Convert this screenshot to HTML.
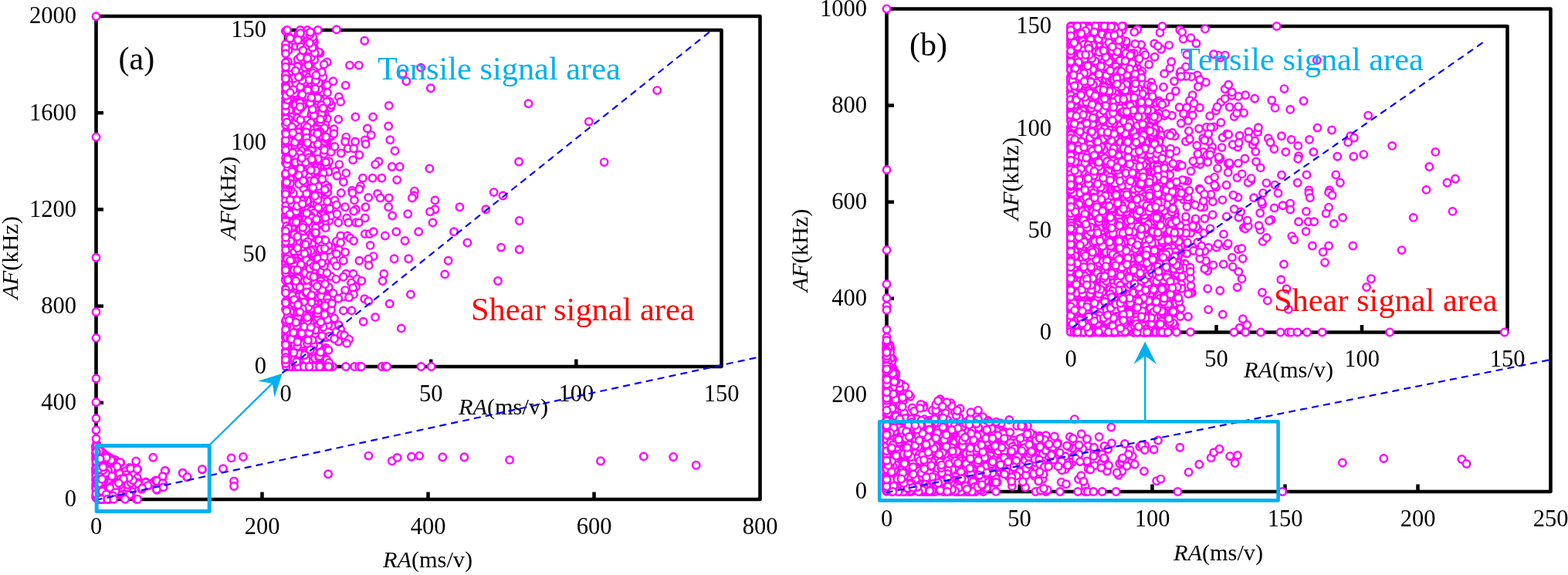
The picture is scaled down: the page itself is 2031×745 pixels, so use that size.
<!DOCTYPE html>
<html lang="en"><head><meta charset="utf-8"><title>RA-AF scatter</title>
<style>html,body{margin:0;padding:0;background:#fff}svg{display:block}</style>
</head><body>
<svg width="2031" height="745" viewBox="0 0 2031 745" font-family="'Liberation Serif', 'Times New Roman', serif">
<rect width="2031" height="745" fill="#fff"/>
<path d="M124.5,647 L124.5,21 L984.5,21 L984.5,647 Z" fill="none" stroke="#000" stroke-width="4.6" stroke-linejoin="round"/>
<path d="M1148.5,637 L1148.5,11.5 L2008.5,11.5 L2008.5,637 Z" fill="none" stroke="#000" stroke-width="4.6" stroke-linejoin="round"/>
<line x1="339.5" y1="647" x2="339.5" y2="637.5" stroke="#000" stroke-width="4.5"/>
<line x1="554.5" y1="647" x2="554.5" y2="637.5" stroke="#000" stroke-width="4.5"/>
<line x1="769.5" y1="647" x2="769.5" y2="637.5" stroke="#000" stroke-width="4.5"/>
<line x1="124.5" y1="521.8" x2="134.0" y2="521.8" stroke="#000" stroke-width="4.5"/>
<line x1="124.5" y1="396.6" x2="134.0" y2="396.6" stroke="#000" stroke-width="4.5"/>
<line x1="124.5" y1="271.4" x2="134.0" y2="271.4" stroke="#000" stroke-width="4.5"/>
<line x1="124.5" y1="146.2" x2="134.0" y2="146.2" stroke="#000" stroke-width="4.5"/>
<line x1="1320.5" y1="637" x2="1320.5" y2="627.5" stroke="#000" stroke-width="4.5"/>
<line x1="1492.5" y1="637" x2="1492.5" y2="627.5" stroke="#000" stroke-width="4.5"/>
<line x1="1664.5" y1="637" x2="1664.5" y2="627.5" stroke="#000" stroke-width="4.5"/>
<line x1="1836.5" y1="637" x2="1836.5" y2="627.5" stroke="#000" stroke-width="4.5"/>
<line x1="1148.5" y1="511.9" x2="1158.0" y2="511.9" stroke="#000" stroke-width="4.5"/>
<line x1="1148.5" y1="386.8" x2="1158.0" y2="386.8" stroke="#000" stroke-width="4.5"/>
<line x1="1148.5" y1="261.7" x2="1158.0" y2="261.7" stroke="#000" stroke-width="4.5"/>
<line x1="1148.5" y1="136.6" x2="1158.0" y2="136.6" stroke="#000" stroke-width="4.5"/>
<path d="M370,475 L370,39 L934.5,39 L934.5,475 Z" fill="none" stroke="#000" stroke-width="4.6" stroke-linejoin="round"/>
<path d="M1387,430.5 L1387,34 L1952.5,34 L1952.5,430.5 Z" fill="none" stroke="#000" stroke-width="4.6" stroke-linejoin="round"/>
<line x1="558.2" y1="475" x2="558.2" y2="465.5" stroke="#000" stroke-width="4.5"/>
<line x1="746.3" y1="475" x2="746.3" y2="465.5" stroke="#000" stroke-width="4.5"/>
<line x1="370" y1="329.7" x2="379.5" y2="329.7" stroke="#000" stroke-width="4.5"/>
<line x1="370" y1="184.3" x2="379.5" y2="184.3" stroke="#000" stroke-width="4.5"/>
<line x1="1575.5" y1="430.5" x2="1575.5" y2="421.0" stroke="#000" stroke-width="4.5"/>
<line x1="1764.0" y1="430.5" x2="1764.0" y2="421.0" stroke="#000" stroke-width="4.5"/>
<line x1="1387" y1="298.3" x2="1396.5" y2="298.3" stroke="#000" stroke-width="4.5"/>
<line x1="1387" y1="166.2" x2="1396.5" y2="166.2" stroke="#000" stroke-width="4.5"/>
<text x="124.5" y="691.9" font-size="30.5" text-anchor="middle" fill="#000" >0</text>
<text x="339.5" y="691.9" font-size="30.5" text-anchor="middle" fill="#000" >200</text>
<text x="554.5" y="691.9" font-size="30.5" text-anchor="middle" fill="#000" >400</text>
<text x="769.5" y="691.9" font-size="30.5" text-anchor="middle" fill="#000" >600</text>
<text x="984.5" y="691.9" font-size="30.5" text-anchor="middle" fill="#000" >800</text>
<text x="99" y="656.3" font-size="30.5" text-anchor="end" fill="#000" >0</text>
<text x="99" y="531.1" font-size="30.5" text-anchor="end" fill="#000" >400</text>
<text x="99" y="405.9" font-size="30.5" text-anchor="end" fill="#000" >800</text>
<text x="99" y="280.7" font-size="30.5" text-anchor="end" fill="#000" >1200</text>
<text x="99" y="155.5" font-size="30.5" text-anchor="end" fill="#000" >1600</text>
<text x="99" y="30.3" font-size="30.5" text-anchor="end" fill="#000" >2000</text>
<text x="1148.5" y="681.9" font-size="30.5" text-anchor="middle" fill="#000" >0</text>
<text x="1320.5" y="681.9" font-size="30.5" text-anchor="middle" fill="#000" >50</text>
<text x="1492.5" y="681.9" font-size="30.5" text-anchor="middle" fill="#000" >100</text>
<text x="1664.5" y="681.9" font-size="30.5" text-anchor="middle" fill="#000" >150</text>
<text x="1836.5" y="681.9" font-size="30.5" text-anchor="middle" fill="#000" >200</text>
<text x="2008.5" y="681.9" font-size="30.5" text-anchor="middle" fill="#000" >250</text>
<text x="1123" y="646.3" font-size="30.5" text-anchor="end" fill="#000" >0</text>
<text x="1123" y="521.2" font-size="30.5" text-anchor="end" fill="#000" >200</text>
<text x="1123" y="396.1" font-size="30.5" text-anchor="end" fill="#000" >400</text>
<text x="1123" y="271.0" font-size="30.5" text-anchor="end" fill="#000" >600</text>
<text x="1123" y="145.9" font-size="30.5" text-anchor="end" fill="#000" >800</text>
<text x="1123" y="20.8" font-size="30.5" text-anchor="end" fill="#000" >1000</text>
<text x="370.0" y="519.9" font-size="30.5" text-anchor="middle" fill="#000" >0</text>
<text x="558.2" y="519.9" font-size="30.5" text-anchor="middle" fill="#000" >50</text>
<text x="746.3" y="519.9" font-size="30.5" text-anchor="middle" fill="#000" >100</text>
<text x="934.5" y="519.9" font-size="30.5" text-anchor="middle" fill="#000" >150</text>
<text x="345" y="484.3" font-size="30.5" text-anchor="end" fill="#000" >0</text>
<text x="345" y="339.0" font-size="30.5" text-anchor="end" fill="#000" >50</text>
<text x="345" y="193.6" font-size="30.5" text-anchor="end" fill="#000" >100</text>
<text x="345" y="48.3" font-size="30.5" text-anchor="end" fill="#000" >150</text>
<text x="1387.0" y="475.3" font-size="30.5" text-anchor="middle" fill="#000" >0</text>
<text x="1575.5" y="475.3" font-size="30.5" text-anchor="middle" fill="#000" >50</text>
<text x="1764.0" y="475.3" font-size="30.5" text-anchor="middle" fill="#000" >100</text>
<text x="1952.5" y="475.3" font-size="30.5" text-anchor="middle" fill="#000" >150</text>
<text x="1362" y="439.8" font-size="30.5" text-anchor="end" fill="#000" >0</text>
<text x="1362" y="307.6" font-size="30.5" text-anchor="end" fill="#000" >50</text>
<text x="1362" y="175.5" font-size="30.5" text-anchor="end" fill="#000" >100</text>
<text x="1362" y="43.3" font-size="30.5" text-anchor="end" fill="#000" >150</text>
<text x="554" y="735.2" font-size="30.3" text-anchor="middle" fill="#000" ><tspan font-style="italic">RA</tspan>(ms/v)</text>
<text x="1578" y="726.2" font-size="30.3" text-anchor="middle" fill="#000" ><tspan font-style="italic">RA</tspan>(ms/v)</text>
<text x="652" y="537" font-size="30.3" text-anchor="middle" fill="#000" ><tspan font-style="italic">RA</tspan>(ms/v)</text>
<text x="1669" y="489.4" font-size="30.3" text-anchor="middle" fill="#000" ><tspan font-style="italic">RA</tspan>(ms/v)</text>
<text transform="translate(22.7,334) rotate(-90)" font-size="30.3" text-anchor="middle"><tspan font-style="italic">AF</tspan>(kHz)</text>
<text transform="translate(1046.3,324.5) rotate(-90)" font-size="30.3" text-anchor="middle"><tspan font-style="italic">AF</tspan>(kHz)</text>
<text transform="translate(305.3,256.5) rotate(-90)" font-size="30.3" text-anchor="middle"><tspan font-style="italic">AF</tspan>(kHz)</text>
<text transform="translate(1319.4,231.7) rotate(-90)" font-size="30.3" text-anchor="middle"><tspan font-style="italic">AF</tspan>(kHz)</text>
<text x="153.5" y="90" font-size="42" text-anchor="start" fill="#000" >(a)</text>
<text x="1178" y="72" font-size="42" text-anchor="start" fill="#000" >(b)</text>
<g fill="#fff" stroke="#FF00FF" stroke-width="2.45">
<circle cx="151.8" cy="632.0" r="4.72"/>
<circle cx="125.5" cy="577.3" r="4.72"/>
<circle cx="144.2" cy="641.0" r="4.72"/>
<circle cx="128.9" cy="633.3" r="4.72"/>
<circle cx="124.5" cy="619.8" r="4.72"/>
<circle cx="131.3" cy="610.2" r="4.72"/>
<circle cx="124.5" cy="600.0" r="4.72"/>
<circle cx="128.1" cy="583.3" r="4.72"/>
<circle cx="136.8" cy="608.1" r="4.72"/>
<circle cx="130.7" cy="642.5" r="4.72"/>
<circle cx="135.8" cy="612.1" r="4.72"/>
<circle cx="128.7" cy="595.5" r="4.72"/>
<circle cx="139.3" cy="639.9" r="4.72"/>
<circle cx="136.8" cy="626.3" r="4.72"/>
<circle cx="136.4" cy="592.3" r="4.72"/>
<circle cx="124.5" cy="607.7" r="4.72"/>
<circle cx="143.3" cy="599.8" r="4.72"/>
<circle cx="126.0" cy="587.3" r="4.72"/>
<circle cx="129.0" cy="587.3" r="4.72"/>
<circle cx="144.8" cy="641.6" r="4.72"/>
<circle cx="133.2" cy="617.6" r="4.72"/>
<circle cx="129.8" cy="587.9" r="4.72"/>
<circle cx="134.1" cy="621.5" r="4.72"/>
<circle cx="148.0" cy="637.1" r="4.72"/>
<circle cx="125.1" cy="580.0" r="4.72"/>
<circle cx="130.4" cy="595.2" r="4.72"/>
<circle cx="128.5" cy="584.6" r="4.72"/>
<circle cx="130.2" cy="639.2" r="4.72"/>
<circle cx="156.8" cy="611.9" r="4.72"/>
<circle cx="125.0" cy="577.7" r="4.72"/>
<circle cx="128.3" cy="624.9" r="4.72"/>
<circle cx="132.2" cy="606.3" r="4.72"/>
<circle cx="135.4" cy="610.7" r="4.72"/>
<circle cx="153.7" cy="601.3" r="4.72"/>
<circle cx="126.5" cy="593.9" r="4.72"/>
<circle cx="155.1" cy="623.2" r="4.72"/>
<circle cx="134.2" cy="646.8" r="4.72"/>
<circle cx="131.8" cy="607.1" r="4.72"/>
<circle cx="125.6" cy="590.4" r="4.72"/>
<circle cx="136.4" cy="623.5" r="4.72"/>
<circle cx="143.5" cy="625.5" r="4.72"/>
<circle cx="139.0" cy="595.1" r="4.72"/>
<circle cx="134.1" cy="617.6" r="4.72"/>
<circle cx="127.1" cy="615.1" r="4.72"/>
<circle cx="128.2" cy="645.9" r="4.72"/>
<circle cx="129.9" cy="606.3" r="4.72"/>
<circle cx="126.2" cy="583.0" r="4.72"/>
<circle cx="133.4" cy="606.5" r="4.72"/>
<circle cx="124.5" cy="594.3" r="4.72"/>
<circle cx="148.9" cy="639.0" r="4.72"/>
<circle cx="133.7" cy="638.7" r="4.72"/>
<circle cx="129.2" cy="596.5" r="4.72"/>
<circle cx="130.0" cy="601.8" r="4.72"/>
<circle cx="136.6" cy="612.7" r="4.72"/>
<circle cx="144.2" cy="630.5" r="4.72"/>
<circle cx="144.0" cy="626.7" r="4.72"/>
<circle cx="131.9" cy="592.4" r="4.72"/>
<circle cx="124.5" cy="628.6" r="4.72"/>
<circle cx="135.9" cy="640.6" r="4.72"/>
<circle cx="146.9" cy="614.8" r="4.72"/>
<circle cx="163.0" cy="638.0" r="4.72"/>
<circle cx="124.5" cy="581.0" r="4.72"/>
<circle cx="183.4" cy="633.9" r="4.72"/>
<circle cx="128.2" cy="584.1" r="4.72"/>
<circle cx="147.8" cy="596.1" r="4.72"/>
<circle cx="124.7" cy="596.9" r="4.72"/>
<circle cx="132.3" cy="625.4" r="4.72"/>
<circle cx="126.1" cy="585.8" r="4.72"/>
<circle cx="148.0" cy="643.0" r="4.72"/>
<circle cx="146.1" cy="595.2" r="4.72"/>
<circle cx="211.0" cy="630.5" r="4.72"/>
<circle cx="124.9" cy="586.9" r="4.72"/>
<circle cx="142.7" cy="623.6" r="4.72"/>
<circle cx="125.7" cy="591.6" r="4.72"/>
<circle cx="128.6" cy="623.6" r="4.72"/>
<circle cx="162.6" cy="613.2" r="4.72"/>
<circle cx="137.2" cy="603.0" r="4.72"/>
<circle cx="124.5" cy="642.7" r="4.72"/>
<circle cx="134.6" cy="588.3" r="4.72"/>
<circle cx="124.8" cy="578.3" r="4.72"/>
<circle cx="133.5" cy="588.0" r="4.72"/>
<circle cx="138.2" cy="625.7" r="4.72"/>
<circle cx="139.2" cy="613.1" r="4.72"/>
<circle cx="131.2" cy="585.9" r="4.72"/>
<circle cx="127.2" cy="634.2" r="4.72"/>
<circle cx="132.6" cy="638.4" r="4.72"/>
<circle cx="124.5" cy="627.5" r="4.72"/>
<circle cx="126.7" cy="585.8" r="4.72"/>
<circle cx="133.9" cy="625.8" r="4.72"/>
<circle cx="149.3" cy="596.0" r="4.72"/>
<circle cx="144.0" cy="612.3" r="4.72"/>
<circle cx="124.5" cy="642.0" r="4.72"/>
<circle cx="126.2" cy="591.2" r="4.72"/>
<circle cx="126.3" cy="581.0" r="4.72"/>
<circle cx="242.4" cy="618.3" r="4.72"/>
<circle cx="154.1" cy="615.8" r="4.72"/>
<circle cx="128.5" cy="588.7" r="4.72"/>
<circle cx="125.5" cy="605.0" r="4.72"/>
<circle cx="125.9" cy="578.9" r="4.72"/>
<circle cx="124.6" cy="579.0" r="4.72"/>
<circle cx="126.1" cy="578.9" r="4.72"/>
<circle cx="124.9" cy="586.7" r="4.72"/>
<circle cx="132.3" cy="590.9" r="4.72"/>
<circle cx="125.5" cy="627.5" r="4.72"/>
<circle cx="132.1" cy="614.4" r="4.72"/>
<circle cx="130.3" cy="592.5" r="4.72"/>
<circle cx="138.1" cy="614.2" r="4.72"/>
<circle cx="137.9" cy="632.4" r="4.72"/>
<circle cx="128.6" cy="595.3" r="4.72"/>
<circle cx="130.2" cy="630.5" r="4.72"/>
<circle cx="148.2" cy="604.8" r="4.72"/>
<circle cx="127.1" cy="599.6" r="4.72"/>
<circle cx="143.3" cy="629.3" r="4.72"/>
<circle cx="146.9" cy="633.9" r="4.72"/>
<circle cx="137.1" cy="614.0" r="4.72"/>
<circle cx="129.7" cy="599.0" r="4.72"/>
<circle cx="130.6" cy="588.3" r="4.72"/>
<circle cx="124.8" cy="578.4" r="4.72"/>
<circle cx="128.2" cy="599.4" r="4.72"/>
<circle cx="130.3" cy="597.8" r="4.72"/>
<circle cx="147.7" cy="626.7" r="4.72"/>
<circle cx="162.6" cy="624.5" r="4.72"/>
<circle cx="125.6" cy="586.5" r="4.72"/>
<circle cx="153.7" cy="637.4" r="4.72"/>
<circle cx="145.9" cy="634.3" r="4.72"/>
<circle cx="126.4" cy="585.1" r="4.72"/>
<circle cx="125.2" cy="579.3" r="4.72"/>
<circle cx="127.1" cy="583.5" r="4.72"/>
<circle cx="154.0" cy="624.5" r="4.72"/>
<circle cx="142.5" cy="640.1" r="4.72"/>
<circle cx="153.9" cy="615.2" r="4.72"/>
<circle cx="127.7" cy="586.4" r="4.72"/>
<circle cx="127.9" cy="585.0" r="4.72"/>
<circle cx="136.8" cy="590.5" r="4.72"/>
<circle cx="214.4" cy="610.1" r="4.72"/>
<circle cx="124.8" cy="587.7" r="4.72"/>
<circle cx="128.6" cy="588.0" r="4.72"/>
<circle cx="131.8" cy="586.6" r="4.72"/>
<circle cx="137.0" cy="626.8" r="4.72"/>
<circle cx="125.0" cy="592.3" r="4.72"/>
<circle cx="146.5" cy="636.1" r="4.72"/>
<circle cx="129.7" cy="639.2" r="4.72"/>
<circle cx="124.5" cy="579.6" r="4.72"/>
<circle cx="129.6" cy="589.1" r="4.72"/>
<circle cx="124.5" cy="637.5" r="4.72"/>
<circle cx="125.5" cy="577.7" r="4.72"/>
<circle cx="125.7" cy="578.7" r="4.72"/>
<circle cx="127.0" cy="588.2" r="4.72"/>
<circle cx="134.7" cy="628.7" r="4.72"/>
<circle cx="127.3" cy="640.2" r="4.72"/>
<circle cx="135.4" cy="635.2" r="4.72"/>
<circle cx="127.0" cy="585.5" r="4.72"/>
<circle cx="143.3" cy="624.2" r="4.72"/>
<circle cx="168.6" cy="629.2" r="4.72"/>
<circle cx="124.7" cy="633.0" r="4.72"/>
<circle cx="138.8" cy="635.3" r="4.72"/>
<circle cx="167.3" cy="641.5" r="4.72"/>
<circle cx="144.8" cy="609.8" r="4.72"/>
<circle cx="132.7" cy="603.7" r="4.72"/>
<circle cx="125.9" cy="588.5" r="4.72"/>
<circle cx="129.8" cy="598.0" r="4.72"/>
<circle cx="124.8" cy="588.4" r="4.72"/>
<circle cx="150.6" cy="599.5" r="4.72"/>
<circle cx="125.2" cy="578.9" r="4.72"/>
<circle cx="163.8" cy="618.9" r="4.72"/>
<circle cx="153.3" cy="640.5" r="4.72"/>
<circle cx="142.5" cy="597.3" r="4.72"/>
<circle cx="149.1" cy="622.2" r="4.72"/>
<circle cx="133.5" cy="641.7" r="4.72"/>
<circle cx="130.9" cy="627.4" r="4.72"/>
<circle cx="124.5" cy="642.4" r="4.72"/>
<circle cx="136.3" cy="614.3" r="4.72"/>
<circle cx="127.7" cy="630.9" r="4.72"/>
<circle cx="127.8" cy="625.7" r="4.72"/>
<circle cx="174.5" cy="605.1" r="4.72"/>
<circle cx="128.9" cy="630.3" r="4.72"/>
<circle cx="130.6" cy="608.8" r="4.72"/>
<circle cx="136.0" cy="626.5" r="4.72"/>
<circle cx="136.6" cy="621.6" r="4.72"/>
<circle cx="124.5" cy="583.2" r="4.72"/>
<circle cx="145.9" cy="632.0" r="4.72"/>
<circle cx="132.9" cy="599.5" r="4.72"/>
<circle cx="125.8" cy="585.4" r="4.72"/>
<circle cx="152.6" cy="634.8" r="4.72"/>
<circle cx="127.0" cy="581.1" r="4.72"/>
<circle cx="125.4" cy="632.5" r="4.72"/>
<circle cx="145.1" cy="596.4" r="4.72"/>
<circle cx="125.7" cy="578.7" r="4.72"/>
<circle cx="147.1" cy="643.6" r="4.72"/>
<circle cx="139.4" cy="614.8" r="4.72"/>
<circle cx="133.8" cy="612.8" r="4.72"/>
<circle cx="124.5" cy="594.8" r="4.72"/>
<circle cx="133.4" cy="620.2" r="4.72"/>
<circle cx="124.5" cy="615.2" r="4.72"/>
<circle cx="128.0" cy="583.6" r="4.72"/>
<circle cx="127.8" cy="587.7" r="4.72"/>
<circle cx="160.9" cy="633.9" r="4.72"/>
<circle cx="167.8" cy="605.9" r="4.72"/>
<circle cx="153.9" cy="628.3" r="4.72"/>
<circle cx="132.1" cy="631.4" r="4.72"/>
<circle cx="126.0" cy="616.8" r="4.72"/>
<circle cx="124.5" cy="595.8" r="4.72"/>
<circle cx="162.7" cy="610.4" r="4.72"/>
<circle cx="186.8" cy="628.0" r="4.72"/>
<circle cx="131.5" cy="615.4" r="4.72"/>
<circle cx="140.8" cy="624.8" r="4.72"/>
<circle cx="124.5" cy="590.6" r="4.72"/>
<circle cx="137.1" cy="641.6" r="4.72"/>
<circle cx="130.4" cy="598.3" r="4.72"/>
<circle cx="139.8" cy="604.3" r="4.72"/>
<circle cx="143.2" cy="634.6" r="4.72"/>
<circle cx="126.4" cy="592.4" r="4.72"/>
<circle cx="138.2" cy="590.4" r="4.72"/>
<circle cx="124.8" cy="577.0" r="4.72"/>
<circle cx="155.8" cy="629.9" r="4.72"/>
<circle cx="151.8" cy="617.3" r="4.72"/>
<circle cx="148.8" cy="635.1" r="4.72"/>
<circle cx="149.5" cy="633.9" r="4.72"/>
<circle cx="125.3" cy="579.1" r="4.72"/>
<circle cx="135.5" cy="641.7" r="4.72"/>
<circle cx="170.0" cy="631.8" r="4.72"/>
<circle cx="134.6" cy="630.5" r="4.72"/>
<circle cx="124.7" cy="585.3" r="4.72"/>
<circle cx="124.5" cy="576.4" r="4.72"/>
<circle cx="126.5" cy="584.7" r="4.72"/>
<circle cx="129.4" cy="599.6" r="4.72"/>
<circle cx="128.3" cy="583.3" r="4.72"/>
<circle cx="124.5" cy="580.5" r="4.72"/>
<circle cx="203.1" cy="634.8" r="4.72"/>
<circle cx="136.2" cy="620.4" r="4.72"/>
<circle cx="133.1" cy="593.5" r="4.72"/>
<circle cx="149.4" cy="618.0" r="4.72"/>
<circle cx="124.5" cy="593.6" r="4.72"/>
<circle cx="124.8" cy="579.2" r="4.72"/>
<circle cx="137.1" cy="631.7" r="4.72"/>
<circle cx="124.7" cy="586.2" r="4.72"/>
<circle cx="134.0" cy="643.6" r="4.72"/>
<circle cx="150.3" cy="611.9" r="4.72"/>
<circle cx="157.7" cy="639.9" r="4.72"/>
<circle cx="136.6" cy="595.0" r="4.72"/>
<circle cx="132.8" cy="642.8" r="4.72"/>
<circle cx="129.1" cy="643.8" r="4.72"/>
<circle cx="124.5" cy="616.1" r="4.72"/>
<circle cx="134.1" cy="597.7" r="4.72"/>
<circle cx="162.7" cy="623.3" r="4.72"/>
<circle cx="135.9" cy="590.9" r="4.72"/>
<circle cx="134.0" cy="611.6" r="4.72"/>
<circle cx="124.5" cy="633.4" r="4.72"/>
<circle cx="124.5" cy="611.8" r="4.72"/>
<circle cx="155.1" cy="631.8" r="4.72"/>
<circle cx="129.9" cy="599.8" r="4.72"/>
<circle cx="146.9" cy="619.8" r="4.72"/>
<circle cx="134.6" cy="637.3" r="4.72"/>
<circle cx="127.3" cy="581.1" r="4.72"/>
<circle cx="126.6" cy="585.2" r="4.72"/>
<circle cx="149.4" cy="635.8" r="4.72"/>
<circle cx="128.4" cy="599.8" r="4.72"/>
<circle cx="146.5" cy="597.7" r="4.72"/>
<circle cx="129.6" cy="614.0" r="4.72"/>
<circle cx="134.1" cy="636.8" r="4.72"/>
<circle cx="127.3" cy="609.5" r="4.72"/>
<circle cx="126.4" cy="627.3" r="4.72"/>
<circle cx="124.5" cy="578.1" r="4.72"/>
<circle cx="124.6" cy="577.9" r="4.72"/>
<circle cx="134.5" cy="618.1" r="4.72"/>
<circle cx="124.5" cy="586.7" r="4.72"/>
<circle cx="128.2" cy="595.4" r="4.72"/>
<circle cx="136.9" cy="643.0" r="4.72"/>
<circle cx="124.7" cy="598.7" r="4.72"/>
<circle cx="142.1" cy="636.6" r="4.72"/>
<circle cx="141.9" cy="646.8" r="4.72"/>
<circle cx="131.3" cy="588.7" r="4.72"/>
<circle cx="125.4" cy="577.8" r="4.72"/>
<circle cx="126.9" cy="585.7" r="4.72"/>
<circle cx="153.0" cy="620.5" r="4.72"/>
<circle cx="125.0" cy="590.2" r="4.72"/>
<circle cx="130.1" cy="584.5" r="4.72"/>
<circle cx="124.6" cy="577.8" r="4.72"/>
<circle cx="149.9" cy="623.6" r="4.72"/>
<circle cx="126.2" cy="592.0" r="4.72"/>
<circle cx="125.4" cy="579.0" r="4.72"/>
<circle cx="172.0" cy="622.9" r="4.72"/>
<circle cx="124.5" cy="630.7" r="4.72"/>
<circle cx="129.9" cy="604.1" r="4.72"/>
<circle cx="125.4" cy="578.1" r="4.72"/>
<circle cx="130.9" cy="632.2" r="4.72"/>
<circle cx="156.2" cy="614.5" r="4.72"/>
<circle cx="134.5" cy="600.8" r="4.72"/>
<circle cx="125.9" cy="578.6" r="4.72"/>
<circle cx="130.1" cy="588.5" r="4.72"/>
<circle cx="126.7" cy="598.0" r="4.72"/>
<circle cx="129.3" cy="597.5" r="4.72"/>
<circle cx="157.0" cy="628.0" r="4.72"/>
<circle cx="137.0" cy="594.0" r="4.72"/>
<circle cx="124.5" cy="590.4" r="4.72"/>
<circle cx="159.5" cy="623.3" r="4.72"/>
<circle cx="125.0" cy="631.5" r="4.72"/>
<circle cx="141.6" cy="638.0" r="4.72"/>
<circle cx="145.9" cy="639.0" r="4.72"/>
<circle cx="124.8" cy="586.7" r="4.72"/>
<circle cx="127.1" cy="617.0" r="4.72"/>
<circle cx="134.1" cy="619.3" r="4.72"/>
<circle cx="132.5" cy="638.2" r="4.72"/>
<circle cx="126.7" cy="585.3" r="4.72"/>
<circle cx="134.8" cy="633.5" r="4.72"/>
<circle cx="140.0" cy="646.8" r="4.72"/>
<circle cx="124.5" cy="632.1" r="4.72"/>
<circle cx="135.6" cy="606.9" r="4.72"/>
<circle cx="145.9" cy="621.0" r="4.72"/>
<circle cx="124.8" cy="589.0" r="4.72"/>
<circle cx="125.3" cy="585.0" r="4.72"/>
<circle cx="156.5" cy="599.6" r="4.72"/>
<circle cx="138.8" cy="632.8" r="4.72"/>
<circle cx="147.5" cy="616.4" r="4.72"/>
<circle cx="160.4" cy="634.8" r="4.72"/>
<circle cx="124.6" cy="591.9" r="4.72"/>
<circle cx="124.7" cy="587.0" r="4.72"/>
<circle cx="236.7" cy="612.6" r="4.72"/>
<circle cx="125.9" cy="589.4" r="4.72"/>
<circle cx="126.4" cy="582.8" r="4.72"/>
<circle cx="127.0" cy="618.3" r="4.72"/>
<circle cx="144.1" cy="597.5" r="4.72"/>
<circle cx="131.3" cy="586.1" r="4.72"/>
<circle cx="124.6" cy="588.6" r="4.72"/>
<circle cx="128.4" cy="585.3" r="4.72"/>
<circle cx="133.8" cy="594.1" r="4.72"/>
<circle cx="158.5" cy="622.7" r="4.72"/>
<circle cx="125.3" cy="579.5" r="4.72"/>
<circle cx="124.5" cy="632.5" r="4.72"/>
<circle cx="124.5" cy="622.6" r="4.72"/>
<circle cx="126.3" cy="587.0" r="4.72"/>
<circle cx="138.3" cy="625.5" r="4.72"/>
<circle cx="124.5" cy="609.2" r="4.72"/>
<circle cx="127.0" cy="644.7" r="4.72"/>
<circle cx="125.6" cy="622.2" r="4.72"/>
<circle cx="137.1" cy="646.8" r="4.72"/>
<circle cx="125.5" cy="595.1" r="4.72"/>
<circle cx="133.6" cy="634.1" r="4.72"/>
<circle cx="134.0" cy="603.6" r="4.72"/>
<circle cx="134.5" cy="635.0" r="4.72"/>
<circle cx="179.8" cy="624.9" r="4.72"/>
<circle cx="146.5" cy="624.5" r="4.72"/>
<circle cx="135.8" cy="610.9" r="4.72"/>
<circle cx="169.1" cy="607.0" r="4.72"/>
<circle cx="179.8" cy="623.6" r="4.72"/>
<circle cx="135.8" cy="638.3" r="4.72"/>
<circle cx="142.1" cy="597.7" r="4.72"/>
<circle cx="129.6" cy="588.3" r="4.72"/>
<circle cx="130.2" cy="587.0" r="4.72"/>
<circle cx="127.3" cy="593.9" r="4.72"/>
<circle cx="138.0" cy="624.3" r="4.72"/>
<circle cx="124.5" cy="619.9" r="4.72"/>
<circle cx="125.9" cy="579.0" r="4.72"/>
<circle cx="125.6" cy="607.8" r="4.72"/>
<circle cx="124.6" cy="577.2" r="4.72"/>
<circle cx="124.5" cy="591.8" r="4.72"/>
<circle cx="130.7" cy="595.0" r="4.72"/>
<circle cx="124.5" cy="611.0" r="4.72"/>
<circle cx="125.9" cy="579.0" r="4.72"/>
<circle cx="133.2" cy="626.4" r="4.72"/>
<circle cx="125.8" cy="580.6" r="4.72"/>
<circle cx="131.0" cy="627.1" r="4.72"/>
<circle cx="138.6" cy="633.8" r="4.72"/>
<circle cx="142.9" cy="619.5" r="4.72"/>
<circle cx="127.1" cy="609.3" r="4.72"/>
<circle cx="150.9" cy="634.6" r="4.72"/>
<circle cx="131.7" cy="586.7" r="4.72"/>
<circle cx="150.5" cy="626.7" r="4.72"/>
<circle cx="126.1" cy="623.6" r="4.72"/>
<circle cx="138.0" cy="615.3" r="4.72"/>
<circle cx="141.3" cy="593.8" r="4.72"/>
<circle cx="125.7" cy="579.0" r="4.72"/>
<circle cx="125.0" cy="581.0" r="4.72"/>
<circle cx="131.7" cy="598.0" r="4.72"/>
<circle cx="126.4" cy="580.3" r="4.72"/>
<circle cx="188.9" cy="624.5" r="4.72"/>
<circle cx="137.4" cy="644.8" r="4.72"/>
<circle cx="130.6" cy="584.6" r="4.72"/>
<circle cx="129.1" cy="619.6" r="4.72"/>
<circle cx="126.9" cy="598.6" r="4.72"/>
<circle cx="136.8" cy="594.7" r="4.72"/>
<circle cx="127.8" cy="593.7" r="4.72"/>
<circle cx="141.3" cy="614.7" r="4.72"/>
<circle cx="129.1" cy="636.0" r="4.72"/>
<circle cx="133.0" cy="587.1" r="4.72"/>
<circle cx="191.8" cy="629.5" r="4.72"/>
<circle cx="149.6" cy="599.5" r="4.72"/>
<circle cx="170.7" cy="636.7" r="4.72"/>
<circle cx="124.8" cy="586.4" r="4.72"/>
<circle cx="133.6" cy="644.4" r="4.72"/>
<circle cx="151.8" cy="622.0" r="4.72"/>
<circle cx="126.0" cy="599.2" r="4.72"/>
<circle cx="130.0" cy="612.4" r="4.72"/>
<circle cx="129.7" cy="591.6" r="4.72"/>
<circle cx="198.6" cy="624.9" r="4.72"/>
<circle cx="125.3" cy="587.8" r="4.72"/>
<circle cx="126.5" cy="587.7" r="4.72"/>
<circle cx="177.7" cy="619.2" r="4.72"/>
<circle cx="126.1" cy="618.1" r="4.72"/>
<circle cx="128.7" cy="592.9" r="4.72"/>
<circle cx="144.0" cy="643.3" r="4.72"/>
<circle cx="124.8" cy="577.3" r="4.72"/>
<circle cx="142.3" cy="613.7" r="4.72"/>
<circle cx="135.9" cy="589.7" r="4.72"/>
<circle cx="130.9" cy="590.1" r="4.72"/>
<circle cx="141.9" cy="596.2" r="4.72"/>
<circle cx="173.7" cy="628.0" r="4.72"/>
<circle cx="130.4" cy="588.9" r="4.72"/>
<circle cx="134.1" cy="611.6" r="4.72"/>
<circle cx="146.5" cy="630.8" r="4.72"/>
<circle cx="143.3" cy="632.7" r="4.72"/>
<circle cx="126.7" cy="579.8" r="4.72"/>
<circle cx="125.6" cy="578.2" r="4.72"/>
<circle cx="126.9" cy="596.3" r="4.72"/>
<circle cx="124.7" cy="583.0" r="4.72"/>
<circle cx="124.5" cy="613.1" r="4.72"/>
<circle cx="141.4" cy="595.1" r="4.72"/>
<circle cx="125.8" cy="580.4" r="4.72"/>
<circle cx="130.7" cy="624.1" r="4.72"/>
<circle cx="125.3" cy="583.8" r="4.72"/>
<circle cx="132.2" cy="639.5" r="4.72"/>
<circle cx="124.5" cy="644.6" r="4.72"/>
<circle cx="142.7" cy="616.1" r="4.72"/>
<circle cx="129.6" cy="615.3" r="4.72"/>
<circle cx="128.9" cy="583.9" r="4.72"/>
<circle cx="128.7" cy="646.8" r="4.72"/>
<circle cx="124.8" cy="585.4" r="4.72"/>
<circle cx="124.7" cy="640.3" r="4.72"/>
<circle cx="126.6" cy="582.2" r="4.72"/>
<circle cx="131.7" cy="586.7" r="4.72"/>
<circle cx="124.5" cy="595.0" r="4.72"/>
<circle cx="134.4" cy="610.9" r="4.72"/>
<circle cx="157.7" cy="618.6" r="4.72"/>
<circle cx="124.5" cy="612.2" r="4.72"/>
<circle cx="137.8" cy="609.7" r="4.72"/>
<circle cx="144.8" cy="628.5" r="4.72"/>
<circle cx="152.2" cy="621.6" r="4.72"/>
<circle cx="131.1" cy="621.9" r="4.72"/>
<circle cx="136.4" cy="639.4" r="4.72"/>
<circle cx="145.0" cy="622.6" r="4.72"/>
<circle cx="125.3" cy="643.8" r="4.72"/>
<circle cx="140.1" cy="637.9" r="4.72"/>
<circle cx="161.3" cy="628.5" r="4.72"/>
<circle cx="137.4" cy="612.3" r="4.72"/>
<circle cx="126.9" cy="586.8" r="4.72"/>
<circle cx="164.0" cy="625.7" r="4.72"/>
<circle cx="132.2" cy="586.3" r="4.72"/>
<circle cx="155.1" cy="637.7" r="4.72"/>
<circle cx="129.8" cy="645.7" r="4.72"/>
<circle cx="126.8" cy="614.3" r="4.72"/>
<circle cx="126.1" cy="625.5" r="4.72"/>
<circle cx="171.3" cy="623.3" r="4.72"/>
<circle cx="133.5" cy="633.2" r="4.72"/>
<circle cx="135.1" cy="591.7" r="4.72"/>
<circle cx="126.3" cy="587.9" r="4.72"/>
<circle cx="138.9" cy="591.5" r="4.72"/>
<circle cx="144.0" cy="596.5" r="4.72"/>
<circle cx="124.6" cy="587.3" r="4.72"/>
<circle cx="149.2" cy="622.6" r="4.72"/>
<circle cx="124.5" cy="619.9" r="4.72"/>
<circle cx="143.1" cy="595.2" r="4.72"/>
<circle cx="124.6" cy="588.5" r="4.72"/>
<circle cx="134.9" cy="625.6" r="4.72"/>
<circle cx="164.9" cy="616.7" r="4.72"/>
<circle cx="124.5" cy="630.5" r="4.72"/>
<circle cx="124.8" cy="614.6" r="4.72"/>
<circle cx="143.2" cy="642.0" r="4.72"/>
<circle cx="124.7" cy="576.5" r="4.72"/>
<circle cx="126.9" cy="587.7" r="4.72"/>
<circle cx="124.5" cy="606.6" r="4.72"/>
<circle cx="141.4" cy="638.9" r="4.72"/>
<circle cx="124.5" cy="632.2" r="4.72"/>
<circle cx="163.2" cy="615.2" r="4.72"/>
<circle cx="125.4" cy="580.6" r="4.72"/>
<circle cx="128.1" cy="583.3" r="4.72"/>
<circle cx="126.7" cy="582.2" r="4.72"/>
<circle cx="126.8" cy="624.1" r="4.72"/>
<circle cx="144.0" cy="637.3" r="4.72"/>
<circle cx="133.1" cy="602.6" r="4.72"/>
<circle cx="131.8" cy="630.4" r="4.72"/>
<circle cx="136.3" cy="625.8" r="4.72"/>
<circle cx="128.6" cy="625.3" r="4.72"/>
<circle cx="124.5" cy="623.0" r="4.72"/>
<circle cx="124.5" cy="606.1" r="4.72"/>
<circle cx="125.2" cy="594.1" r="4.72"/>
<circle cx="138.0" cy="620.6" r="4.72"/>
<circle cx="128.8" cy="615.0" r="4.72"/>
<circle cx="126.8" cy="635.5" r="4.72"/>
<circle cx="142.5" cy="642.9" r="4.72"/>
<circle cx="131.7" cy="585.9" r="4.72"/>
<circle cx="132.5" cy="587.6" r="4.72"/>
<circle cx="131.4" cy="594.4" r="4.72"/>
<circle cx="124.5" cy="578.6" r="4.72"/>
<circle cx="125.4" cy="576.4" r="4.72"/>
<circle cx="130.0" cy="619.2" r="4.72"/>
<circle cx="144.3" cy="618.6" r="4.72"/>
<circle cx="128.1" cy="609.0" r="4.72"/>
<circle cx="137.0" cy="645.2" r="4.72"/>
<circle cx="134.5" cy="607.5" r="4.72"/>
<circle cx="124.8" cy="579.1" r="4.72"/>
<circle cx="204.9" cy="622.9" r="4.72"/>
<circle cx="125.0" cy="583.9" r="4.72"/>
<circle cx="124.9" cy="578.3" r="4.72"/>
<circle cx="125.4" cy="577.9" r="4.72"/>
<circle cx="146.5" cy="615.4" r="4.72"/>
<circle cx="134.0" cy="609.3" r="4.72"/>
<circle cx="130.0" cy="617.9" r="4.72"/>
<circle cx="146.0" cy="598.3" r="4.72"/>
<circle cx="125.6" cy="582.3" r="4.72"/>
<circle cx="124.6" cy="586.9" r="4.72"/>
<circle cx="125.3" cy="578.9" r="4.72"/>
<circle cx="129.0" cy="617.4" r="4.72"/>
<circle cx="177.9" cy="625.2" r="4.72"/>
<circle cx="136.4" cy="591.1" r="4.72"/>
<circle cx="134.2" cy="592.0" r="4.72"/>
<circle cx="143.5" cy="620.2" r="4.72"/>
<circle cx="164.7" cy="631.8" r="4.72"/>
<circle cx="133.3" cy="615.9" r="4.72"/>
<circle cx="124.6" cy="582.7" r="4.72"/>
<circle cx="129.0" cy="596.7" r="4.72"/>
<circle cx="211.0" cy="626.4" r="4.72"/>
<circle cx="135.7" cy="641.3" r="4.72"/>
<circle cx="138.3" cy="631.7" r="4.72"/>
<circle cx="128.2" cy="609.8" r="4.72"/>
<circle cx="124.5" cy="607.8" r="4.72"/>
<circle cx="126.8" cy="609.6" r="4.72"/>
<circle cx="137.3" cy="597.0" r="4.72"/>
<circle cx="165.7" cy="620.8" r="4.72"/>
<circle cx="142.3" cy="614.3" r="4.72"/>
<circle cx="142.5" cy="593.1" r="4.72"/>
<circle cx="147.1" cy="626.1" r="4.72"/>
<circle cx="128.5" cy="645.7" r="4.72"/>
<circle cx="124.7" cy="608.2" r="4.72"/>
<circle cx="129.4" cy="618.0" r="4.72"/>
<circle cx="129.5" cy="646.8" r="4.72"/>
<circle cx="138.0" cy="636.1" r="4.72"/>
<circle cx="136.5" cy="640.0" r="4.72"/>
<circle cx="125.1" cy="586.3" r="4.72"/>
<circle cx="124.6" cy="577.2" r="4.72"/>
<circle cx="134.4" cy="639.0" r="4.72"/>
<circle cx="132.2" cy="606.0" r="4.72"/>
<circle cx="125.4" cy="576.7" r="4.72"/>
<circle cx="129.2" cy="614.1" r="4.72"/>
<circle cx="132.0" cy="619.3" r="4.72"/>
<circle cx="137.8" cy="592.2" r="4.72"/>
<circle cx="132.2" cy="631.9" r="4.72"/>
<circle cx="140.5" cy="630.6" r="4.72"/>
<circle cx="128.3" cy="589.1" r="4.72"/>
<circle cx="136.2" cy="613.4" r="4.72"/>
<circle cx="126.4" cy="585.6" r="4.72"/>
<circle cx="178.2" cy="607.9" r="4.72"/>
<circle cx="133.7" cy="646.8" r="4.72"/>
<circle cx="124.5" cy="587.4" r="4.72"/>
<circle cx="131.6" cy="645.0" r="4.72"/>
<circle cx="149.7" cy="616.4" r="4.72"/>
<circle cx="125.0" cy="579.8" r="4.72"/>
<circle cx="140.4" cy="646.8" r="4.72"/>
<circle cx="129.6" cy="617.1" r="4.72"/>
<circle cx="178.9" cy="626.7" r="4.72"/>
<circle cx="124.5" cy="606.1" r="4.72"/>
<circle cx="124.6" cy="595.4" r="4.72"/>
<circle cx="127.4" cy="598.5" r="4.72"/>
<circle cx="140.0" cy="621.9" r="4.72"/>
<circle cx="158.9" cy="618.2" r="4.72"/>
<circle cx="125.6" cy="594.7" r="4.72"/>
<circle cx="125.7" cy="589.7" r="4.72"/>
<circle cx="125.5" cy="577.8" r="4.72"/>
<circle cx="130.6" cy="610.4" r="4.72"/>
<circle cx="126.3" cy="592.3" r="4.72"/>
<circle cx="165.4" cy="628.0" r="4.72"/>
<circle cx="125.4" cy="590.5" r="4.72"/>
<circle cx="124.5" cy="625.9" r="4.72"/>
<circle cx="126.0" cy="581.5" r="4.72"/>
<circle cx="124.5" cy="605.9" r="4.72"/>
<circle cx="124.9" cy="581.5" r="4.72"/>
<circle cx="130.0" cy="646.8" r="4.72"/>
<circle cx="125.4" cy="580.7" r="4.72"/>
<circle cx="134.5" cy="592.6" r="4.72"/>
<circle cx="124.5" cy="594.1" r="4.72"/>
<circle cx="129.9" cy="619.2" r="4.72"/>
<circle cx="129.0" cy="610.9" r="4.72"/>
<circle cx="169.7" cy="625.5" r="4.72"/>
<circle cx="128.4" cy="584.0" r="4.72"/>
<circle cx="135.0" cy="623.3" r="4.72"/>
<circle cx="150.5" cy="635.7" r="4.72"/>
<circle cx="125.7" cy="578.3" r="4.72"/>
<circle cx="128.7" cy="639.7" r="4.72"/>
<circle cx="124.5" cy="627.9" r="4.72"/>
<circle cx="124.5" cy="616.1" r="4.72"/>
<circle cx="137.5" cy="596.4" r="4.72"/>
<circle cx="124.5" cy="602.2" r="4.72"/>
<circle cx="126.0" cy="580.4" r="4.72"/>
<circle cx="126.2" cy="642.9" r="4.72"/>
<circle cx="124.8" cy="578.4" r="4.72"/>
<circle cx="137.6" cy="637.0" r="4.72"/>
<circle cx="132.5" cy="616.9" r="4.72"/>
<circle cx="131.5" cy="586.9" r="4.72"/>
<circle cx="127.3" cy="594.1" r="4.72"/>
<circle cx="201.5" cy="622.5" r="4.72"/>
<circle cx="146.7" cy="607.6" r="4.72"/>
<circle cx="128.3" cy="646.8" r="4.72"/>
<circle cx="125.1" cy="583.7" r="4.72"/>
<circle cx="125.5" cy="623.5" r="4.72"/>
<circle cx="127.6" cy="588.1" r="4.72"/>
<circle cx="133.2" cy="593.6" r="4.72"/>
<circle cx="129.0" cy="590.2" r="4.72"/>
<circle cx="124.5" cy="622.7" r="4.72"/>
<circle cx="127.6" cy="598.0" r="4.72"/>
<circle cx="125.2" cy="580.5" r="4.72"/>
<circle cx="129.4" cy="592.0" r="4.72"/>
<circle cx="131.4" cy="609.3" r="4.72"/>
<circle cx="131.6" cy="646.6" r="4.72"/>
<circle cx="127.8" cy="635.9" r="4.72"/>
<circle cx="127.9" cy="598.7" r="4.72"/>
<circle cx="136.8" cy="591.1" r="4.72"/>
<circle cx="143.3" cy="631.1" r="4.72"/>
<circle cx="134.4" cy="634.4" r="4.72"/>
<circle cx="124.5" cy="643.7" r="4.72"/>
<circle cx="126.2" cy="581.5" r="4.72"/>
<circle cx="125.5" cy="602.7" r="4.72"/>
<circle cx="124.5" cy="633.3" r="4.72"/>
<circle cx="149.7" cy="625.1" r="4.72"/>
<circle cx="129.5" cy="642.0" r="4.72"/>
<circle cx="125.1" cy="584.4" r="4.72"/>
<circle cx="129.3" cy="589.0" r="4.72"/>
<circle cx="125.8" cy="599.1" r="4.72"/>
<circle cx="172.2" cy="622.3" r="4.72"/>
<circle cx="127.3" cy="629.6" r="4.72"/>
<circle cx="141.5" cy="597.4" r="4.72"/>
<circle cx="124.5" cy="611.6" r="4.72"/>
<circle cx="139.1" cy="607.7" r="4.72"/>
<circle cx="139.1" cy="633.9" r="4.72"/>
<circle cx="124.5" cy="644.9" r="4.72"/>
<circle cx="136.3" cy="612.3" r="4.72"/>
<circle cx="262.0" cy="608.3" r="4.72"/>
<circle cx="150.2" cy="615.4" r="4.72"/>
<circle cx="126.1" cy="593.8" r="4.72"/>
<circle cx="125.5" cy="586.9" r="4.72"/>
<circle cx="154.7" cy="613.6" r="4.72"/>
<circle cx="124.5" cy="616.0" r="4.72"/>
<circle cx="133.1" cy="587.3" r="4.72"/>
<circle cx="155.7" cy="599.2" r="4.72"/>
<circle cx="132.5" cy="592.8" r="4.72"/>
<circle cx="126.4" cy="594.0" r="4.72"/>
<circle cx="140.8" cy="593.7" r="4.72"/>
<circle cx="155.3" cy="632.7" r="4.72"/>
<circle cx="125.5" cy="622.0" r="4.72"/>
<circle cx="145.0" cy="642.3" r="4.72"/>
<circle cx="124.5" cy="606.1" r="4.72"/>
<circle cx="135.2" cy="604.0" r="4.72"/>
<circle cx="124.9" cy="581.4" r="4.72"/>
<circle cx="124.8" cy="583.8" r="4.72"/>
<circle cx="130.5" cy="617.7" r="4.72"/>
<circle cx="150.5" cy="624.9" r="4.72"/>
<circle cx="139.8" cy="635.7" r="4.72"/>
<circle cx="156.7" cy="620.5" r="4.72"/>
<circle cx="129.0" cy="599.1" r="4.72"/>
<circle cx="128.0" cy="635.9" r="4.72"/>
<circle cx="137.1" cy="645.5" r="4.72"/>
<circle cx="125.2" cy="589.7" r="4.72"/>
<circle cx="140.7" cy="642.6" r="4.72"/>
<circle cx="124.7" cy="579.3" r="4.72"/>
<circle cx="151.6" cy="626.7" r="4.72"/>
<circle cx="124.6" cy="598.4" r="4.72"/>
<circle cx="148.4" cy="628.9" r="4.72"/>
<circle cx="125.9" cy="579.9" r="4.72"/>
<circle cx="124.5" cy="609.4" r="4.72"/>
<circle cx="204.2" cy="630.2" r="4.72"/>
<circle cx="157.0" cy="631.4" r="4.72"/>
<circle cx="142.5" cy="597.4" r="4.72"/>
<circle cx="131.4" cy="619.7" r="4.72"/>
<circle cx="125.0" cy="577.6" r="4.72"/>
<circle cx="126.5" cy="646.8" r="4.72"/>
<circle cx="134.1" cy="637.0" r="4.72"/>
<circle cx="139.9" cy="623.7" r="4.72"/>
<circle cx="132.6" cy="615.6" r="4.72"/>
<circle cx="141.7" cy="596.9" r="4.72"/>
<circle cx="124.5" cy="639.9" r="4.72"/>
<circle cx="125.9" cy="592.0" r="4.72"/>
<circle cx="166.7" cy="618.9" r="4.72"/>
<circle cx="124.6" cy="585.5" r="4.72"/>
<circle cx="151.6" cy="604.8" r="4.72"/>
<circle cx="126.3" cy="620.5" r="4.72"/>
<circle cx="144.8" cy="629.5" r="4.72"/>
<circle cx="136.1" cy="594.6" r="4.72"/>
<circle cx="125.9" cy="578.7" r="4.72"/>
<circle cx="134.7" cy="622.4" r="4.72"/>
<circle cx="129.8" cy="590.3" r="4.72"/>
<circle cx="124.7" cy="599.3" r="4.72"/>
<circle cx="138.8" cy="616.6" r="4.72"/>
<circle cx="147.4" cy="628.5" r="4.72"/>
<circle cx="145.9" cy="637.0" r="4.72"/>
<circle cx="155.6" cy="628.3" r="4.72"/>
<circle cx="131.9" cy="615.9" r="4.72"/>
<circle cx="131.8" cy="595.8" r="4.72"/>
<circle cx="124.5" cy="579.8" r="4.72"/>
<circle cx="125.2" cy="609.6" r="4.72"/>
<circle cx="130.2" cy="585.0" r="4.72"/>
<circle cx="142.1" cy="607.0" r="4.72"/>
<circle cx="149.7" cy="636.7" r="4.72"/>
<circle cx="132.3" cy="636.4" r="4.72"/>
<circle cx="124.9" cy="606.7" r="4.72"/>
<circle cx="124.7" cy="598.2" r="4.72"/>
<circle cx="160.0" cy="620.5" r="4.72"/>
<circle cx="124.5" cy="582.0" r="4.72"/>
<circle cx="124.7" cy="578.8" r="4.72"/>
<circle cx="142.9" cy="598.4" r="4.72"/>
<circle cx="125.5" cy="576.5" r="4.72"/>
<circle cx="125.7" cy="579.3" r="4.72"/>
<circle cx="184.7" cy="632.0" r="4.72"/>
<circle cx="132.9" cy="593.6" r="4.72"/>
<circle cx="124.8" cy="583.9" r="4.72"/>
<circle cx="139.0" cy="612.9" r="4.72"/>
<circle cx="149.7" cy="629.2" r="4.72"/>
<circle cx="124.6" cy="587.0" r="4.72"/>
<circle cx="125.5" cy="585.4" r="4.72"/>
<circle cx="131.9" cy="594.1" r="4.72"/>
<circle cx="137.5" cy="640.6" r="4.72"/>
<circle cx="153.9" cy="626.1" r="4.72"/>
<circle cx="129.9" cy="624.2" r="4.72"/>
<circle cx="127.5" cy="593.2" r="4.72"/>
<circle cx="144.0" cy="596.3" r="4.72"/>
<circle cx="136.4" cy="615.7" r="4.72"/>
<circle cx="124.8" cy="580.4" r="4.72"/>
<circle cx="125.1" cy="578.4" r="4.72"/>
<circle cx="127.8" cy="592.3" r="4.72"/>
<circle cx="144.2" cy="609.1" r="4.72"/>
<circle cx="146.3" cy="642.4" r="4.72"/>
<circle cx="210.8" cy="618.2" r="4.72"/>
<circle cx="140.1" cy="609.8" r="4.72"/>
<circle cx="132.8" cy="624.9" r="4.72"/>
<circle cx="137.3" cy="612.7" r="4.72"/>
<circle cx="126.0" cy="583.1" r="4.72"/>
<circle cx="131.3" cy="646.8" r="4.72"/>
<circle cx="137.8" cy="593.0" r="4.72"/>
<circle cx="127.3" cy="581.9" r="4.72"/>
<circle cx="131.6" cy="625.5" r="4.72"/>
<circle cx="145.0" cy="617.0" r="4.72"/>
<circle cx="142.3" cy="632.1" r="4.72"/>
<circle cx="139.2" cy="646.8" r="4.72"/>
<circle cx="133.2" cy="609.2" r="4.72"/>
<circle cx="128.9" cy="584.3" r="4.72"/>
<circle cx="127.3" cy="608.2" r="4.72"/>
<circle cx="124.9" cy="585.5" r="4.72"/>
<circle cx="128.2" cy="626.6" r="4.72"/>
<circle cx="132.1" cy="620.7" r="4.72"/>
<circle cx="129.7" cy="594.4" r="4.72"/>
<circle cx="133.5" cy="605.2" r="4.72"/>
<circle cx="124.5" cy="21.3" r="4.72"/>
<circle cx="124.5" cy="177.5" r="4.72"/>
<circle cx="124.5" cy="333.7" r="4.72"/>
<circle cx="124.5" cy="404.2" r="4.72"/>
<circle cx="124.5" cy="437.9" r="4.72"/>
<circle cx="124.5" cy="490.5" r="4.72"/>
<circle cx="124.5" cy="521.3" r="4.72"/>
<circle cx="124.5" cy="542.3" r="4.72"/>
<circle cx="124.5" cy="557.3" r="4.72"/>
<circle cx="124.5" cy="568.5" r="4.72"/>
<circle cx="198.3" cy="592.8" r="4.72"/>
<circle cx="176.2" cy="597.5" r="4.72"/>
<circle cx="177.7" cy="608.1" r="4.72"/>
<circle cx="213.7" cy="609.9" r="4.72"/>
<circle cx="210.7" cy="617.3" r="4.72"/>
<circle cx="236.7" cy="612.9" r="4.72"/>
<circle cx="242.6" cy="617.9" r="4.72"/>
<circle cx="261.8" cy="608.1" r="4.72"/>
<circle cx="289.0" cy="607.3" r="4.72"/>
<circle cx="299.6" cy="593.4" r="4.72"/>
<circle cx="315.0" cy="591.9" r="4.72"/>
<circle cx="303.1" cy="623.5" r="4.72"/>
<circle cx="303.1" cy="630.0" r="4.72"/>
<circle cx="203.3" cy="623.2" r="4.72"/>
<circle cx="210.7" cy="626.2" r="4.72"/>
<circle cx="211.6" cy="631.2" r="4.72"/>
<circle cx="202.8" cy="634.1" r="4.72"/>
<circle cx="188.6" cy="625.3" r="4.72"/>
<circle cx="191.5" cy="629.1" r="4.72"/>
<circle cx="184.2" cy="632.7" r="4.72"/>
<circle cx="176.8" cy="646.8" r="4.72"/>
<circle cx="167.9" cy="640.9" r="4.72"/>
<circle cx="178.2" cy="646.8" r="4.72"/>
<circle cx="162.0" cy="646.8" r="4.72"/>
<circle cx="147.2" cy="646.8" r="4.72"/>
<circle cx="425.1" cy="614.2" r="4.72"/>
<circle cx="477.4" cy="590.6" r="4.72"/>
<circle cx="507.8" cy="597.3" r="4.72"/>
<circle cx="514.6" cy="592.9" r="4.72"/>
<circle cx="532.9" cy="591.7" r="4.72"/>
<circle cx="543.2" cy="590.6" r="4.72"/>
<circle cx="573.3" cy="592.3" r="4.72"/>
<circle cx="601.4" cy="592.3" r="4.72"/>
<circle cx="660.1" cy="595.9" r="4.72"/>
<circle cx="778.0" cy="597.3" r="4.72"/>
<circle cx="833.8" cy="591.4" r="4.72"/>
<circle cx="872.1" cy="592.0" r="4.72"/>
<circle cx="901.7" cy="602.7" r="4.72"/>
<circle cx="1181.8" cy="608.3" r="4.72"/>
<circle cx="1287.2" cy="632.2" r="4.72"/>
<circle cx="1317.3" cy="551.7" r="4.72"/>
<circle cx="1252.9" cy="575.1" r="4.72"/>
<circle cx="1207.4" cy="620.7" r="4.72"/>
<circle cx="1243.3" cy="565.8" r="4.72"/>
<circle cx="1148.5" cy="544.7" r="4.72"/>
<circle cx="1223.9" cy="583.9" r="4.72"/>
<circle cx="1195.0" cy="618.6" r="4.72"/>
<circle cx="1219.2" cy="579.3" r="4.72"/>
<circle cx="1148.5" cy="596.3" r="4.72"/>
<circle cx="1252.9" cy="578.6" r="4.72"/>
<circle cx="1498.1" cy="623.1" r="4.72"/>
<circle cx="1166.6" cy="587.3" r="4.72"/>
<circle cx="1148.5" cy="636.9" r="4.72"/>
<circle cx="1175.7" cy="599.7" r="4.72"/>
<circle cx="1225.9" cy="626.0" r="4.72"/>
<circle cx="1267.0" cy="605.9" r="4.72"/>
<circle cx="1319.9" cy="569.0" r="4.72"/>
<circle cx="1323.4" cy="583.3" r="4.72"/>
<circle cx="1163.7" cy="505.1" r="4.72"/>
<circle cx="1274.3" cy="623.1" r="4.72"/>
<circle cx="1389.8" cy="591.8" r="4.72"/>
<circle cx="1148.5" cy="519.6" r="4.72"/>
<circle cx="1163.0" cy="525.7" r="4.72"/>
<circle cx="1193.9" cy="629.8" r="4.72"/>
<circle cx="1240.5" cy="636.3" r="4.72"/>
<circle cx="1193.7" cy="546.2" r="4.72"/>
<circle cx="1238.2" cy="565.0" r="4.72"/>
<circle cx="1148.5" cy="455.3" r="4.72"/>
<circle cx="1450.2" cy="600.6" r="4.72"/>
<circle cx="1148.5" cy="569.0" r="4.72"/>
<circle cx="1148.5" cy="588.6" r="4.72"/>
<circle cx="1175.3" cy="551.4" r="4.72"/>
<circle cx="1148.5" cy="565.9" r="4.72"/>
<circle cx="1148.5" cy="623.6" r="4.72"/>
<circle cx="1264.3" cy="615.1" r="4.72"/>
<circle cx="1149.5" cy="527.7" r="4.72"/>
<circle cx="1179.0" cy="600.7" r="4.72"/>
<circle cx="1230.8" cy="557.6" r="4.72"/>
<circle cx="1466.9" cy="591.1" r="4.72"/>
<circle cx="1232.3" cy="582.4" r="4.72"/>
<circle cx="1164.2" cy="504.1" r="4.72"/>
<circle cx="1161.8" cy="563.0" r="4.72"/>
<circle cx="1167.1" cy="613.3" r="4.72"/>
<circle cx="1256.6" cy="637.0" r="4.72"/>
<circle cx="1397.0" cy="620.9" r="4.72"/>
<circle cx="1153.1" cy="581.9" r="4.72"/>
<circle cx="1152.4" cy="592.2" r="4.72"/>
<circle cx="1250.0" cy="589.9" r="4.72"/>
<circle cx="1194.8" cy="575.6" r="4.72"/>
<circle cx="1156.5" cy="477.0" r="4.72"/>
<circle cx="1298.3" cy="609.4" r="4.72"/>
<circle cx="1257.3" cy="631.3" r="4.72"/>
<circle cx="1229.1" cy="598.5" r="4.72"/>
<circle cx="1233.9" cy="588.5" r="4.72"/>
<circle cx="1235.8" cy="628.5" r="4.72"/>
<circle cx="1186.0" cy="599.9" r="4.72"/>
<circle cx="1148.5" cy="632.6" r="4.72"/>
<circle cx="1148.8" cy="460.5" r="4.72"/>
<circle cx="1178.2" cy="598.7" r="4.72"/>
<circle cx="1278.8" cy="558.5" r="4.72"/>
<circle cx="1148.5" cy="613.9" r="4.72"/>
<circle cx="1273.5" cy="590.9" r="4.72"/>
<circle cx="1224.8" cy="611.5" r="4.72"/>
<circle cx="1191.9" cy="575.7" r="4.72"/>
<circle cx="1195.9" cy="595.1" r="4.72"/>
<circle cx="1361.4" cy="590.5" r="4.72"/>
<circle cx="1179.2" cy="513.8" r="4.72"/>
<circle cx="1177.8" cy="544.3" r="4.72"/>
<circle cx="1219.8" cy="612.8" r="4.72"/>
<circle cx="1223.5" cy="544.9" r="4.72"/>
<circle cx="1162.1" cy="627.3" r="4.72"/>
<circle cx="1199.8" cy="619.7" r="4.72"/>
<circle cx="1264.8" cy="609.5" r="4.72"/>
<circle cx="1226.7" cy="596.2" r="4.72"/>
<circle cx="1322.0" cy="586.7" r="4.72"/>
<circle cx="1148.5" cy="631.9" r="4.72"/>
<circle cx="1213.6" cy="548.8" r="4.72"/>
<circle cx="1379.9" cy="608.0" r="4.72"/>
<circle cx="1271.2" cy="541.2" r="4.72"/>
<circle cx="1345.2" cy="589.6" r="4.72"/>
<circle cx="1244.2" cy="593.3" r="4.72"/>
<circle cx="1246.0" cy="578.8" r="4.72"/>
<circle cx="1234.5" cy="633.0" r="4.72"/>
<circle cx="1269.7" cy="606.6" r="4.72"/>
<circle cx="1266.1" cy="591.9" r="4.72"/>
<circle cx="1176.5" cy="576.4" r="4.72"/>
<circle cx="1163.6" cy="621.1" r="4.72"/>
<circle cx="1264.6" cy="634.4" r="4.72"/>
<circle cx="1179.4" cy="574.9" r="4.72"/>
<circle cx="1204.0" cy="547.1" r="4.72"/>
<circle cx="1245.8" cy="576.8" r="4.72"/>
<circle cx="1240.9" cy="574.0" r="4.72"/>
<circle cx="1354.9" cy="637.0" r="4.72"/>
<circle cx="1225.8" cy="636.0" r="4.72"/>
<circle cx="1311.1" cy="576.2" r="4.72"/>
<circle cx="1190.3" cy="633.9" r="4.72"/>
<circle cx="1238.2" cy="580.6" r="4.72"/>
<circle cx="1270.7" cy="560.0" r="4.72"/>
<circle cx="1355.9" cy="604.4" r="4.72"/>
<circle cx="1148.5" cy="553.3" r="4.72"/>
<circle cx="1277.1" cy="595.4" r="4.72"/>
<circle cx="1148.5" cy="485.9" r="4.72"/>
<circle cx="1168.2" cy="498.1" r="4.72"/>
<circle cx="1192.0" cy="572.4" r="4.72"/>
<circle cx="1182.7" cy="618.3" r="4.72"/>
<circle cx="1317.6" cy="574.0" r="4.72"/>
<circle cx="1247.4" cy="572.0" r="4.72"/>
<circle cx="1205.0" cy="561.2" r="4.72"/>
<circle cx="1188.9" cy="607.8" r="4.72"/>
<circle cx="1269.6" cy="634.1" r="4.72"/>
<circle cx="1221.2" cy="570.9" r="4.72"/>
<circle cx="1149.9" cy="448.5" r="4.72"/>
<circle cx="1250.4" cy="576.4" r="4.72"/>
<circle cx="1297.6" cy="611.8" r="4.72"/>
<circle cx="1159.2" cy="608.3" r="4.72"/>
<circle cx="1258.8" cy="626.6" r="4.72"/>
<circle cx="1173.6" cy="540.5" r="4.72"/>
<circle cx="1330.7" cy="565.4" r="4.72"/>
<circle cx="1148.5" cy="516.7" r="4.72"/>
<circle cx="1253.6" cy="615.1" r="4.72"/>
<circle cx="1245.0" cy="564.7" r="4.72"/>
<circle cx="1199.9" cy="566.8" r="4.72"/>
<circle cx="1389.0" cy="598.9" r="4.72"/>
<circle cx="1148.5" cy="582.3" r="4.72"/>
<circle cx="1385.4" cy="602.5" r="4.72"/>
<circle cx="1267.0" cy="615.0" r="4.72"/>
<circle cx="1148.5" cy="565.8" r="4.72"/>
<circle cx="1249.1" cy="583.5" r="4.72"/>
<circle cx="1247.5" cy="634.8" r="4.72"/>
<circle cx="1237.0" cy="625.2" r="4.72"/>
<circle cx="1200.6" cy="618.1" r="4.72"/>
<circle cx="1148.5" cy="543.4" r="4.72"/>
<circle cx="1300.1" cy="574.6" r="4.72"/>
<circle cx="1148.5" cy="604.8" r="4.72"/>
<circle cx="1200.7" cy="591.3" r="4.72"/>
<circle cx="1309.6" cy="582.6" r="4.72"/>
<circle cx="1163.6" cy="605.2" r="4.72"/>
<circle cx="1239.8" cy="622.3" r="4.72"/>
<circle cx="1162.4" cy="539.6" r="4.72"/>
<circle cx="1212.8" cy="586.4" r="4.72"/>
<circle cx="1407.9" cy="568.7" r="4.72"/>
<circle cx="1148.5" cy="493.0" r="4.72"/>
<circle cx="1453.4" cy="598.7" r="4.72"/>
<circle cx="1173.0" cy="624.0" r="4.72"/>
<circle cx="1190.7" cy="632.3" r="4.72"/>
<circle cx="1214.0" cy="576.6" r="4.72"/>
<circle cx="1148.5" cy="635.0" r="4.72"/>
<circle cx="1148.5" cy="489.1" r="4.72"/>
<circle cx="1148.5" cy="606.1" r="4.72"/>
<circle cx="1148.5" cy="487.9" r="4.72"/>
<circle cx="1188.2" cy="568.9" r="4.72"/>
<circle cx="1197.2" cy="543.1" r="4.72"/>
<circle cx="1168.7" cy="629.7" r="4.72"/>
<circle cx="1210.8" cy="547.6" r="4.72"/>
<circle cx="1154.0" cy="589.1" r="4.72"/>
<circle cx="1163.0" cy="564.7" r="4.72"/>
<circle cx="1261.7" cy="599.4" r="4.72"/>
<circle cx="1252.3" cy="618.4" r="4.72"/>
<circle cx="1281.7" cy="570.0" r="4.72"/>
<circle cx="1180.7" cy="576.0" r="4.72"/>
<circle cx="1199.4" cy="553.6" r="4.72"/>
<circle cx="1232.0" cy="589.0" r="4.72"/>
<circle cx="1167.5" cy="508.2" r="4.72"/>
<circle cx="1153.7" cy="600.6" r="4.72"/>
<circle cx="1148.5" cy="545.1" r="4.72"/>
<circle cx="1154.4" cy="621.0" r="4.72"/>
<circle cx="1154.0" cy="562.3" r="4.72"/>
<circle cx="1172.5" cy="622.6" r="4.72"/>
<circle cx="1318.4" cy="589.4" r="4.72"/>
<circle cx="1313.2" cy="582.5" r="4.72"/>
<circle cx="1170.1" cy="506.8" r="4.72"/>
<circle cx="1200.5" cy="569.1" r="4.72"/>
<circle cx="1205.2" cy="594.3" r="4.72"/>
<circle cx="1148.5" cy="627.5" r="4.72"/>
<circle cx="1148.5" cy="444.5" r="4.72"/>
<circle cx="1409.7" cy="607.6" r="4.72"/>
<circle cx="1222.5" cy="604.5" r="4.72"/>
<circle cx="1236.7" cy="575.3" r="4.72"/>
<circle cx="1298.0" cy="558.1" r="4.72"/>
<circle cx="1259.9" cy="614.7" r="4.72"/>
<circle cx="1193.9" cy="575.0" r="4.72"/>
<circle cx="1375.7" cy="594.3" r="4.72"/>
<circle cx="1222.8" cy="619.4" r="4.72"/>
<circle cx="1148.5" cy="530.7" r="4.72"/>
<circle cx="1166.9" cy="523.4" r="4.72"/>
<circle cx="1193.3" cy="616.1" r="4.72"/>
<circle cx="1224.9" cy="601.7" r="4.72"/>
<circle cx="1277.6" cy="615.9" r="4.72"/>
<circle cx="1181.5" cy="528.5" r="4.72"/>
<circle cx="1177.5" cy="582.6" r="4.72"/>
<circle cx="1291.1" cy="558.6" r="4.72"/>
<circle cx="1148.5" cy="478.7" r="4.72"/>
<circle cx="1233.8" cy="581.1" r="4.72"/>
<circle cx="1181.0" cy="552.6" r="4.72"/>
<circle cx="1448.8" cy="615.6" r="4.72"/>
<circle cx="1365.9" cy="578.3" r="4.72"/>
<circle cx="1261.2" cy="618.8" r="4.72"/>
<circle cx="1284.5" cy="578.5" r="4.72"/>
<circle cx="1249.1" cy="605.9" r="4.72"/>
<circle cx="1243.0" cy="637.0" r="4.72"/>
<circle cx="1203.9" cy="571.3" r="4.72"/>
<circle cx="1171.6" cy="620.7" r="4.72"/>
<circle cx="1177.1" cy="637.0" r="4.72"/>
<circle cx="1228.1" cy="556.2" r="4.72"/>
<circle cx="1153.4" cy="451.8" r="4.72"/>
<circle cx="1243.2" cy="617.0" r="4.72"/>
<circle cx="1248.8" cy="597.6" r="4.72"/>
<circle cx="1260.2" cy="566.7" r="4.72"/>
<circle cx="1188.2" cy="544.5" r="4.72"/>
<circle cx="1206.5" cy="604.4" r="4.72"/>
<circle cx="1198.4" cy="606.7" r="4.72"/>
<circle cx="1199.1" cy="637.0" r="4.72"/>
<circle cx="1200.7" cy="636.9" r="4.72"/>
<circle cx="1200.5" cy="594.7" r="4.72"/>
<circle cx="1167.5" cy="582.4" r="4.72"/>
<circle cx="1151.0" cy="449.9" r="4.72"/>
<circle cx="1174.1" cy="624.6" r="4.72"/>
<circle cx="1429.4" cy="603.1" r="4.72"/>
<circle cx="1247.3" cy="548.5" r="4.72"/>
<circle cx="1171.0" cy="594.8" r="4.72"/>
<circle cx="1181.4" cy="597.2" r="4.72"/>
<circle cx="1278.6" cy="629.7" r="4.72"/>
<circle cx="1153.7" cy="600.0" r="4.72"/>
<circle cx="1211.0" cy="591.6" r="4.72"/>
<circle cx="1149.5" cy="480.2" r="4.72"/>
<circle cx="1185.1" cy="626.7" r="4.72"/>
<circle cx="1256.4" cy="567.2" r="4.72"/>
<circle cx="1344.7" cy="569.8" r="4.72"/>
<circle cx="1235.4" cy="608.2" r="4.72"/>
<circle cx="1148.5" cy="514.9" r="4.72"/>
<circle cx="1400.8" cy="562.3" r="4.72"/>
<circle cx="1374.7" cy="624.8" r="4.72"/>
<circle cx="1259.1" cy="586.6" r="4.72"/>
<circle cx="1220.1" cy="615.5" r="4.72"/>
<circle cx="1210.9" cy="594.3" r="4.72"/>
<circle cx="1159.9" cy="630.8" r="4.72"/>
<circle cx="1568.7" cy="593.3" r="4.72"/>
<circle cx="1193.4" cy="607.0" r="4.72"/>
<circle cx="1191.4" cy="617.2" r="4.72"/>
<circle cx="1149.4" cy="514.1" r="4.72"/>
<circle cx="1222.8" cy="608.8" r="4.72"/>
<circle cx="1200.2" cy="616.1" r="4.72"/>
<circle cx="1212.0" cy="589.5" r="4.72"/>
<circle cx="1148.5" cy="469.1" r="4.72"/>
<circle cx="1246.0" cy="590.1" r="4.72"/>
<circle cx="1154.5" cy="552.0" r="4.72"/>
<circle cx="1253.7" cy="566.6" r="4.72"/>
<circle cx="1346.4" cy="585.2" r="4.72"/>
<circle cx="1148.5" cy="446.6" r="4.72"/>
<circle cx="1148.5" cy="605.7" r="4.72"/>
<circle cx="1234.4" cy="588.7" r="4.72"/>
<circle cx="1483.3" cy="577.4" r="4.72"/>
<circle cx="1192.7" cy="596.3" r="4.72"/>
<circle cx="1153.4" cy="570.6" r="4.72"/>
<circle cx="1262.7" cy="619.8" r="4.72"/>
<circle cx="1256.8" cy="582.4" r="4.72"/>
<circle cx="1153.5" cy="614.1" r="4.72"/>
<circle cx="1148.5" cy="600.7" r="4.72"/>
<circle cx="1228.2" cy="588.1" r="4.72"/>
<circle cx="1248.4" cy="571.9" r="4.72"/>
<circle cx="1148.5" cy="577.5" r="4.72"/>
<circle cx="1205.9" cy="545.3" r="4.72"/>
<circle cx="1148.5" cy="627.7" r="4.72"/>
<circle cx="1195.5" cy="637.0" r="4.72"/>
<circle cx="1409.2" cy="577.9" r="4.72"/>
<circle cx="1227.3" cy="544.1" r="4.72"/>
<circle cx="1210.7" cy="565.5" r="4.72"/>
<circle cx="1206.3" cy="553.7" r="4.72"/>
<circle cx="1244.0" cy="566.7" r="4.72"/>
<circle cx="1148.5" cy="591.0" r="4.72"/>
<circle cx="1525.5" cy="637.0" r="4.72"/>
<circle cx="1148.5" cy="545.4" r="4.72"/>
<circle cx="1169.2" cy="605.6" r="4.72"/>
<circle cx="1183.7" cy="593.5" r="4.72"/>
<circle cx="1266.8" cy="605.3" r="4.72"/>
<circle cx="1148.5" cy="480.2" r="4.72"/>
<circle cx="1236.4" cy="592.2" r="4.72"/>
<circle cx="1261.7" cy="637.0" r="4.72"/>
<circle cx="1268.0" cy="570.5" r="4.72"/>
<circle cx="1188.6" cy="627.7" r="4.72"/>
<circle cx="1164.2" cy="593.7" r="4.72"/>
<circle cx="1152.5" cy="548.2" r="4.72"/>
<circle cx="1350.4" cy="611.3" r="4.72"/>
<circle cx="1253.9" cy="545.1" r="4.72"/>
<circle cx="1328.1" cy="631.5" r="4.72"/>
<circle cx="1228.4" cy="577.0" r="4.72"/>
<circle cx="1265.6" cy="556.1" r="4.72"/>
<circle cx="1278.4" cy="606.5" r="4.72"/>
<circle cx="1217.1" cy="612.6" r="4.72"/>
<circle cx="1271.5" cy="542.5" r="4.72"/>
<circle cx="1201.1" cy="627.9" r="4.72"/>
<circle cx="1280.3" cy="590.3" r="4.72"/>
<circle cx="1217.9" cy="597.8" r="4.72"/>
<circle cx="1287.3" cy="625.2" r="4.72"/>
<circle cx="1405.7" cy="630.0" r="4.72"/>
<circle cx="1396.2" cy="637.0" r="4.72"/>
<circle cx="1160.8" cy="611.6" r="4.72"/>
<circle cx="1171.5" cy="637.0" r="4.72"/>
<circle cx="1177.1" cy="511.1" r="4.72"/>
<circle cx="1198.0" cy="564.4" r="4.72"/>
<circle cx="1354.8" cy="564.3" r="4.72"/>
<circle cx="1288.0" cy="575.3" r="4.72"/>
<circle cx="1193.1" cy="576.6" r="4.72"/>
<circle cx="1370.2" cy="574.2" r="4.72"/>
<circle cx="1163.0" cy="581.0" r="4.72"/>
<circle cx="1161.1" cy="558.4" r="4.72"/>
<circle cx="1407.9" cy="599.4" r="4.72"/>
<circle cx="1247.1" cy="629.5" r="4.72"/>
<circle cx="1248.6" cy="613.1" r="4.72"/>
<circle cx="1156.3" cy="562.9" r="4.72"/>
<circle cx="1289.7" cy="618.4" r="4.72"/>
<circle cx="1170.8" cy="637.0" r="4.72"/>
<circle cx="1208.0" cy="613.3" r="4.72"/>
<circle cx="1209.0" cy="617.1" r="4.72"/>
<circle cx="1417.8" cy="603.1" r="4.72"/>
<circle cx="1162.5" cy="547.7" r="4.72"/>
<circle cx="1219.2" cy="569.9" r="4.72"/>
<circle cx="1271.4" cy="601.0" r="4.72"/>
<circle cx="1154.1" cy="543.1" r="4.72"/>
<circle cx="1184.1" cy="532.8" r="4.72"/>
<circle cx="1268.1" cy="630.6" r="4.72"/>
<circle cx="1234.4" cy="578.2" r="4.72"/>
<circle cx="1208.4" cy="608.1" r="4.72"/>
<circle cx="1180.3" cy="634.8" r="4.72"/>
<circle cx="1172.3" cy="615.8" r="4.72"/>
<circle cx="1148.5" cy="620.0" r="4.72"/>
<circle cx="1417.8" cy="583.0" r="4.72"/>
<circle cx="1238.1" cy="605.3" r="4.72"/>
<circle cx="1148.5" cy="480.8" r="4.72"/>
<circle cx="1175.7" cy="593.2" r="4.72"/>
<circle cx="1453.4" cy="610.5" r="4.72"/>
<circle cx="1178.5" cy="575.8" r="4.72"/>
<circle cx="1226.5" cy="594.6" r="4.72"/>
<circle cx="1186.2" cy="557.2" r="4.72"/>
<circle cx="1153.1" cy="587.4" r="4.72"/>
<circle cx="1252.5" cy="601.2" r="4.72"/>
<circle cx="1289.0" cy="565.9" r="4.72"/>
<circle cx="1226.4" cy="581.1" r="4.72"/>
<circle cx="1281.8" cy="596.3" r="4.72"/>
<circle cx="1148.5" cy="623.0" r="4.72"/>
<circle cx="1148.5" cy="548.9" r="4.72"/>
<circle cx="1262.7" cy="585.5" r="4.72"/>
<circle cx="1358.0" cy="591.1" r="4.72"/>
<circle cx="1240.7" cy="619.5" r="4.72"/>
<circle cx="1198.3" cy="564.7" r="4.72"/>
<circle cx="1148.5" cy="552.8" r="4.72"/>
<circle cx="1184.3" cy="635.6" r="4.72"/>
<circle cx="1161.7" cy="630.4" r="4.72"/>
<circle cx="1241.9" cy="581.3" r="4.72"/>
<circle cx="1148.5" cy="634.0" r="4.72"/>
<circle cx="1224.5" cy="557.8" r="4.72"/>
<circle cx="1148.5" cy="597.3" r="4.72"/>
<circle cx="1258.2" cy="627.4" r="4.72"/>
<circle cx="1171.2" cy="563.6" r="4.72"/>
<circle cx="1202.8" cy="632.1" r="4.72"/>
<circle cx="1388.9" cy="580.8" r="4.72"/>
<circle cx="1251.6" cy="571.3" r="4.72"/>
<circle cx="1148.5" cy="609.0" r="4.72"/>
<circle cx="1463.6" cy="583.1" r="4.72"/>
<circle cx="1205.6" cy="575.7" r="4.72"/>
<circle cx="1197.6" cy="633.0" r="4.72"/>
<circle cx="1242.8" cy="635.1" r="4.72"/>
<circle cx="1167.9" cy="575.2" r="4.72"/>
<circle cx="1417.0" cy="583.8" r="4.72"/>
<circle cx="1227.5" cy="617.5" r="4.72"/>
<circle cx="1191.1" cy="637.0" r="4.72"/>
<circle cx="1148.5" cy="506.2" r="4.72"/>
<circle cx="1156.1" cy="543.1" r="4.72"/>
<circle cx="1279.8" cy="585.9" r="4.72"/>
<circle cx="1148.5" cy="556.3" r="4.72"/>
<circle cx="1305.4" cy="606.6" r="4.72"/>
<circle cx="1350.8" cy="588.4" r="4.72"/>
<circle cx="1157.5" cy="571.3" r="4.72"/>
<circle cx="1174.0" cy="586.0" r="4.72"/>
<circle cx="1217.7" cy="601.5" r="4.72"/>
<circle cx="1503.5" cy="620.6" r="4.72"/>
<circle cx="1184.1" cy="574.3" r="4.72"/>
<circle cx="1198.8" cy="567.9" r="4.72"/>
<circle cx="1170.6" cy="583.8" r="4.72"/>
<circle cx="1300.8" cy="559.5" r="4.72"/>
<circle cx="1402.5" cy="581.7" r="4.72"/>
<circle cx="1279.8" cy="620.0" r="4.72"/>
<circle cx="1292.5" cy="570.5" r="4.72"/>
<circle cx="1148.5" cy="635.1" r="4.72"/>
<circle cx="1162.2" cy="565.3" r="4.72"/>
<circle cx="1209.2" cy="620.2" r="4.72"/>
<circle cx="1180.2" cy="590.9" r="4.72"/>
<circle cx="1306.6" cy="578.1" r="4.72"/>
<circle cx="1148.5" cy="614.4" r="4.72"/>
<circle cx="1224.5" cy="548.6" r="4.72"/>
<circle cx="1251.8" cy="590.4" r="4.72"/>
<circle cx="1373.0" cy="637.0" r="4.72"/>
<circle cx="1255.0" cy="598.8" r="4.72"/>
<circle cx="1292.7" cy="604.4" r="4.72"/>
<circle cx="1188.4" cy="612.3" r="4.72"/>
<circle cx="1151.0" cy="596.9" r="4.72"/>
<circle cx="1148.5" cy="462.0" r="4.72"/>
<circle cx="1180.4" cy="637.0" r="4.72"/>
<circle cx="1148.5" cy="621.1" r="4.72"/>
<circle cx="1306.6" cy="617.5" r="4.72"/>
<circle cx="1384.4" cy="578.8" r="4.72"/>
<circle cx="1322.6" cy="609.9" r="4.72"/>
<circle cx="1149.3" cy="531.9" r="4.72"/>
<circle cx="1196.5" cy="525.7" r="4.72"/>
<circle cx="1264.0" cy="607.2" r="4.72"/>
<circle cx="1198.3" cy="564.0" r="4.72"/>
<circle cx="1273.5" cy="637.0" r="4.72"/>
<circle cx="1262.5" cy="635.3" r="4.72"/>
<circle cx="1379.7" cy="591.2" r="4.72"/>
<circle cx="1151.6" cy="615.2" r="4.72"/>
<circle cx="1148.5" cy="553.9" r="4.72"/>
<circle cx="1227.9" cy="570.1" r="4.72"/>
<circle cx="1148.5" cy="613.5" r="4.72"/>
<circle cx="1148.5" cy="625.8" r="4.72"/>
<circle cx="1237.9" cy="637.0" r="4.72"/>
<circle cx="1431.3" cy="595.7" r="4.72"/>
<circle cx="1269.5" cy="630.7" r="4.72"/>
<circle cx="1196.4" cy="546.7" r="4.72"/>
<circle cx="1157.6" cy="572.3" r="4.72"/>
<circle cx="1150.2" cy="449.5" r="4.72"/>
<circle cx="1365.8" cy="578.5" r="4.72"/>
<circle cx="1208.7" cy="633.5" r="4.72"/>
<circle cx="1161.4" cy="601.2" r="4.72"/>
<circle cx="1195.0" cy="590.3" r="4.72"/>
<circle cx="1148.5" cy="463.0" r="4.72"/>
<circle cx="1200.9" cy="557.9" r="4.72"/>
<circle cx="1204.7" cy="598.0" r="4.72"/>
<circle cx="1179.2" cy="566.6" r="4.72"/>
<circle cx="1151.6" cy="573.7" r="4.72"/>
<circle cx="1285.0" cy="558.5" r="4.72"/>
<circle cx="1214.8" cy="558.0" r="4.72"/>
<circle cx="1181.1" cy="557.4" r="4.72"/>
<circle cx="1367.5" cy="584.7" r="4.72"/>
<circle cx="1301.8" cy="593.3" r="4.72"/>
<circle cx="1188.2" cy="574.6" r="4.72"/>
<circle cx="1148.5" cy="606.7" r="4.72"/>
<circle cx="1148.5" cy="595.5" r="4.72"/>
<circle cx="1148.5" cy="496.4" r="4.72"/>
<circle cx="1256.2" cy="623.8" r="4.72"/>
<circle cx="1203.3" cy="622.8" r="4.72"/>
<circle cx="1148.5" cy="600.5" r="4.72"/>
<circle cx="1229.9" cy="612.6" r="4.72"/>
<circle cx="1154.3" cy="552.6" r="4.72"/>
<circle cx="1217.0" cy="537.5" r="4.72"/>
<circle cx="1211.2" cy="573.6" r="4.72"/>
<circle cx="1243.4" cy="561.6" r="4.72"/>
<circle cx="1155.2" cy="577.6" r="4.72"/>
<circle cx="1167.7" cy="590.0" r="4.72"/>
<circle cx="1271.2" cy="634.8" r="4.72"/>
<circle cx="1148.5" cy="598.6" r="4.72"/>
<circle cx="1178.0" cy="630.7" r="4.72"/>
<circle cx="1187.3" cy="543.1" r="4.72"/>
<circle cx="1354.2" cy="583.8" r="4.72"/>
<circle cx="1276.0" cy="621.1" r="4.72"/>
<circle cx="1195.9" cy="559.3" r="4.72"/>
<circle cx="1148.5" cy="622.3" r="4.72"/>
<circle cx="1180.1" cy="554.8" r="4.72"/>
<circle cx="1661.1" cy="637.0" r="4.72"/>
<circle cx="1339.0" cy="563.4" r="4.72"/>
<circle cx="1150.8" cy="605.6" r="4.72"/>
<circle cx="1220.4" cy="553.3" r="4.72"/>
<circle cx="1181.0" cy="571.5" r="4.72"/>
<circle cx="1214.2" cy="612.0" r="4.72"/>
<circle cx="1148.5" cy="547.8" r="4.72"/>
<circle cx="1177.6" cy="551.7" r="4.72"/>
<circle cx="1148.5" cy="523.3" r="4.72"/>
<circle cx="1320.2" cy="592.5" r="4.72"/>
<circle cx="1161.7" cy="602.1" r="4.72"/>
<circle cx="1148.5" cy="633.0" r="4.72"/>
<circle cx="1148.5" cy="621.6" r="4.72"/>
<circle cx="1155.3" cy="624.9" r="4.72"/>
<circle cx="1528.3" cy="579.8" r="4.72"/>
<circle cx="1226.8" cy="567.1" r="4.72"/>
<circle cx="1222.9" cy="555.7" r="4.72"/>
<circle cx="1156.6" cy="572.8" r="4.72"/>
<circle cx="1162.5" cy="582.9" r="4.72"/>
<circle cx="1210.1" cy="618.8" r="4.72"/>
<circle cx="1207.5" cy="599.8" r="4.72"/>
<circle cx="1239.9" cy="593.4" r="4.72"/>
<circle cx="1160.7" cy="607.4" r="4.72"/>
<circle cx="1148.5" cy="526.0" r="4.72"/>
<circle cx="1254.8" cy="605.1" r="4.72"/>
<circle cx="1311.0" cy="630.0" r="4.72"/>
<circle cx="1248.9" cy="593.0" r="4.72"/>
<circle cx="1553.3" cy="601.8" r="4.72"/>
<circle cx="1150.5" cy="607.7" r="4.72"/>
<circle cx="1165.3" cy="584.5" r="4.72"/>
<circle cx="1287.3" cy="572.1" r="4.72"/>
<circle cx="1311.1" cy="611.0" r="4.72"/>
<circle cx="1262.2" cy="592.5" r="4.72"/>
<circle cx="1151.6" cy="560.0" r="4.72"/>
<circle cx="1238.1" cy="592.9" r="4.72"/>
<circle cx="1239.7" cy="609.0" r="4.72"/>
<circle cx="1242.8" cy="541.0" r="4.72"/>
<circle cx="1153.1" cy="550.5" r="4.72"/>
<circle cx="1152.6" cy="618.1" r="4.72"/>
<circle cx="1307.3" cy="543.9" r="4.72"/>
<circle cx="1167.9" cy="615.9" r="4.72"/>
<circle cx="1148.5" cy="502.3" r="4.72"/>
<circle cx="1259.0" cy="629.9" r="4.72"/>
<circle cx="1171.9" cy="595.2" r="4.72"/>
<circle cx="1348.0" cy="576.7" r="4.72"/>
<circle cx="1148.5" cy="617.2" r="4.72"/>
<circle cx="1416.5" cy="591.1" r="4.72"/>
<circle cx="1148.6" cy="632.2" r="4.72"/>
<circle cx="1222.4" cy="624.9" r="4.72"/>
<circle cx="1239.0" cy="588.6" r="4.72"/>
<circle cx="1148.5" cy="592.6" r="4.72"/>
<circle cx="1211.5" cy="579.7" r="4.72"/>
<circle cx="1247.6" cy="579.5" r="4.72"/>
<circle cx="1188.4" cy="578.6" r="4.72"/>
<circle cx="1225.9" cy="627.3" r="4.72"/>
<circle cx="1277.4" cy="544.3" r="4.72"/>
<circle cx="1247.6" cy="552.6" r="4.72"/>
<circle cx="1288.6" cy="593.6" r="4.72"/>
<circle cx="1252.3" cy="594.9" r="4.72"/>
<circle cx="1149.8" cy="486.0" r="4.72"/>
<circle cx="1272.6" cy="563.0" r="4.72"/>
<circle cx="1262.1" cy="620.1" r="4.72"/>
<circle cx="1190.4" cy="549.1" r="4.72"/>
<circle cx="1427.3" cy="588.7" r="4.72"/>
<circle cx="1162.2" cy="630.5" r="4.72"/>
<circle cx="1169.2" cy="549.0" r="4.72"/>
<circle cx="1208.7" cy="637.0" r="4.72"/>
<circle cx="1199.3" cy="595.2" r="4.72"/>
<circle cx="1221.6" cy="560.0" r="4.72"/>
<circle cx="1320.6" cy="611.0" r="4.72"/>
<circle cx="1148.5" cy="565.6" r="4.72"/>
<circle cx="1148.5" cy="464.5" r="4.72"/>
<circle cx="1155.2" cy="636.5" r="4.72"/>
<circle cx="1148.5" cy="594.1" r="4.72"/>
<circle cx="1240.8" cy="577.8" r="4.72"/>
<circle cx="1191.7" cy="595.5" r="4.72"/>
<circle cx="1262.5" cy="626.8" r="4.72"/>
<circle cx="1242.7" cy="570.4" r="4.72"/>
<circle cx="1211.8" cy="624.7" r="4.72"/>
<circle cx="1272.0" cy="631.2" r="4.72"/>
<circle cx="1148.5" cy="567.9" r="4.72"/>
<circle cx="1374.1" cy="597.1" r="4.72"/>
<circle cx="1278.1" cy="616.6" r="4.72"/>
<circle cx="1150.1" cy="450.4" r="4.72"/>
<circle cx="1155.9" cy="598.0" r="4.72"/>
<circle cx="1241.3" cy="615.2" r="4.72"/>
<circle cx="1148.5" cy="506.9" r="4.72"/>
<circle cx="1325.0" cy="583.6" r="4.72"/>
<circle cx="1148.5" cy="632.0" r="4.72"/>
<circle cx="1283.3" cy="615.9" r="4.72"/>
<circle cx="1216.1" cy="627.3" r="4.72"/>
<circle cx="1155.1" cy="637.0" r="4.72"/>
<circle cx="1261.6" cy="585.7" r="4.72"/>
<circle cx="1311.6" cy="590.3" r="4.72"/>
<circle cx="1208.3" cy="561.6" r="4.72"/>
<circle cx="1330.9" cy="552.0" r="4.72"/>
<circle cx="1308.2" cy="615.1" r="4.72"/>
<circle cx="1186.3" cy="583.2" r="4.72"/>
<circle cx="1246.2" cy="575.8" r="4.72"/>
<circle cx="1327.9" cy="577.3" r="4.72"/>
<circle cx="1212.9" cy="587.8" r="4.72"/>
<circle cx="1148.5" cy="588.7" r="4.72"/>
<circle cx="1265.6" cy="588.8" r="4.72"/>
<circle cx="1244.7" cy="570.6" r="4.72"/>
<circle cx="1266.9" cy="531.6" r="4.72"/>
<circle cx="1264.5" cy="602.7" r="4.72"/>
<circle cx="1218.9" cy="596.2" r="4.72"/>
<circle cx="1157.8" cy="489.5" r="4.72"/>
<circle cx="1148.5" cy="630.2" r="4.72"/>
<circle cx="1159.5" cy="605.7" r="4.72"/>
<circle cx="1197.8" cy="567.3" r="4.72"/>
<circle cx="1218.2" cy="610.4" r="4.72"/>
<circle cx="1271.3" cy="621.7" r="4.72"/>
<circle cx="1251.0" cy="620.4" r="4.72"/>
<circle cx="1149.4" cy="462.5" r="4.72"/>
<circle cx="1274.4" cy="623.9" r="4.72"/>
<circle cx="1336.2" cy="567.9" r="4.72"/>
<circle cx="1175.9" cy="613.8" r="4.72"/>
<circle cx="1180.5" cy="615.3" r="4.72"/>
<circle cx="1151.1" cy="445.6" r="4.72"/>
<circle cx="1148.5" cy="597.5" r="4.72"/>
<circle cx="1199.7" cy="590.1" r="4.72"/>
<circle cx="1222.1" cy="586.4" r="4.72"/>
<circle cx="1220.5" cy="606.1" r="4.72"/>
<circle cx="1572.2" cy="586.2" r="4.72"/>
<circle cx="1358.5" cy="577.5" r="4.72"/>
<circle cx="1219.5" cy="617.0" r="4.72"/>
<circle cx="1225.3" cy="573.2" r="4.72"/>
<circle cx="1177.3" cy="563.0" r="4.72"/>
<circle cx="1481.9" cy="610.5" r="4.72"/>
<circle cx="1372.5" cy="605.6" r="4.72"/>
<circle cx="1188.4" cy="610.1" r="4.72"/>
<circle cx="1240.9" cy="615.6" r="4.72"/>
<circle cx="1148.5" cy="576.4" r="4.72"/>
<circle cx="1232.5" cy="584.0" r="4.72"/>
<circle cx="1159.9" cy="487.7" r="4.72"/>
<circle cx="1149.4" cy="623.6" r="4.72"/>
<circle cx="1196.9" cy="605.1" r="4.72"/>
<circle cx="1238.0" cy="564.4" r="4.72"/>
<circle cx="1212.9" cy="582.8" r="4.72"/>
<circle cx="1290.1" cy="597.2" r="4.72"/>
<circle cx="1212.7" cy="584.2" r="4.72"/>
<circle cx="1191.4" cy="600.5" r="4.72"/>
<circle cx="1285.1" cy="609.9" r="4.72"/>
<circle cx="1256.1" cy="576.6" r="4.72"/>
<circle cx="1182.5" cy="633.0" r="4.72"/>
<circle cx="1220.0" cy="585.3" r="4.72"/>
<circle cx="1261.4" cy="631.9" r="4.72"/>
<circle cx="1148.5" cy="603.0" r="4.72"/>
<circle cx="1156.3" cy="465.2" r="4.72"/>
<circle cx="1148.5" cy="500.1" r="4.72"/>
<circle cx="1205.1" cy="555.1" r="4.72"/>
<circle cx="1423.7" cy="566.0" r="4.72"/>
<circle cx="1181.2" cy="553.1" r="4.72"/>
<circle cx="1196.8" cy="599.0" r="4.72"/>
<circle cx="1338.7" cy="564.4" r="4.72"/>
<circle cx="1159.4" cy="521.1" r="4.72"/>
<circle cx="1188.4" cy="604.4" r="4.72"/>
<circle cx="1245.3" cy="625.5" r="4.72"/>
<circle cx="1283.0" cy="617.4" r="4.72"/>
<circle cx="1238.0" cy="637.0" r="4.72"/>
<circle cx="1214.5" cy="569.7" r="4.72"/>
<circle cx="1148.5" cy="552.1" r="4.72"/>
<circle cx="1168.6" cy="600.7" r="4.72"/>
<circle cx="1235.9" cy="588.6" r="4.72"/>
<circle cx="1168.6" cy="574.7" r="4.72"/>
<circle cx="1407.9" cy="597.5" r="4.72"/>
<circle cx="1285.8" cy="551.9" r="4.72"/>
<circle cx="1254.9" cy="637.0" r="4.72"/>
<circle cx="1216.2" cy="615.4" r="4.72"/>
<circle cx="1325.9" cy="572.7" r="4.72"/>
<circle cx="1148.5" cy="565.6" r="4.72"/>
<circle cx="1159.0" cy="531.4" r="4.72"/>
<circle cx="1182.8" cy="572.1" r="4.72"/>
<circle cx="1176.7" cy="543.1" r="4.72"/>
<circle cx="1233.7" cy="626.9" r="4.72"/>
<circle cx="1148.5" cy="572.3" r="4.72"/>
<circle cx="1288.3" cy="578.0" r="4.72"/>
<circle cx="1185.8" cy="624.7" r="4.72"/>
<circle cx="1177.0" cy="635.2" r="4.72"/>
<circle cx="1188.3" cy="543.1" r="4.72"/>
<circle cx="1231.2" cy="602.4" r="4.72"/>
<circle cx="1270.6" cy="628.1" r="4.72"/>
<circle cx="1249.3" cy="637.0" r="4.72"/>
<circle cx="1148.5" cy="537.2" r="4.72"/>
<circle cx="1315.6" cy="580.1" r="4.72"/>
<circle cx="1316.7" cy="616.4" r="4.72"/>
<circle cx="1148.5" cy="617.1" r="4.72"/>
<circle cx="1263.4" cy="637.0" r="4.72"/>
<circle cx="1171.2" cy="552.1" r="4.72"/>
<circle cx="1180.1" cy="625.6" r="4.72"/>
<circle cx="1426.7" cy="599.9" r="4.72"/>
<circle cx="1217.7" cy="595.9" r="4.72"/>
<circle cx="1204.1" cy="556.4" r="4.72"/>
<circle cx="1158.5" cy="543.4" r="4.72"/>
<circle cx="1148.5" cy="585.5" r="4.72"/>
<circle cx="1439.4" cy="553.6" r="4.72"/>
<circle cx="1301.2" cy="585.5" r="4.72"/>
<circle cx="1202.3" cy="544.9" r="4.72"/>
<circle cx="1214.2" cy="557.4" r="4.72"/>
<circle cx="1295.7" cy="585.1" r="4.72"/>
<circle cx="1211.8" cy="603.7" r="4.72"/>
<circle cx="1206.6" cy="556.5" r="4.72"/>
<circle cx="1315.8" cy="580.4" r="4.72"/>
<circle cx="1242.2" cy="577.0" r="4.72"/>
<circle cx="1240.9" cy="637.0" r="4.72"/>
<circle cx="1169.6" cy="608.2" r="4.72"/>
<circle cx="1238.7" cy="607.6" r="4.72"/>
<circle cx="1205.7" cy="618.7" r="4.72"/>
<circle cx="1219.8" cy="551.5" r="4.72"/>
<circle cx="1187.2" cy="576.0" r="4.72"/>
<circle cx="1148.5" cy="625.0" r="4.72"/>
<circle cx="1325.9" cy="566.4" r="4.72"/>
<circle cx="1234.8" cy="583.8" r="4.72"/>
<circle cx="1207.4" cy="600.0" r="4.72"/>
<circle cx="1148.9" cy="487.9" r="4.72"/>
<circle cx="1276.6" cy="631.7" r="4.72"/>
<circle cx="1247.7" cy="570.5" r="4.72"/>
<circle cx="1255.1" cy="599.7" r="4.72"/>
<circle cx="1148.5" cy="608.4" r="4.72"/>
<circle cx="1286.4" cy="590.6" r="4.72"/>
<circle cx="1148.5" cy="513.8" r="4.72"/>
<circle cx="1457.4" cy="595.0" r="4.72"/>
<circle cx="1149.3" cy="445.1" r="4.72"/>
<circle cx="1178.5" cy="567.0" r="4.72"/>
<circle cx="1400.3" cy="616.2" r="4.72"/>
<circle cx="1156.7" cy="486.3" r="4.72"/>
<circle cx="1305.2" cy="581.7" r="4.72"/>
<circle cx="1186.1" cy="620.3" r="4.72"/>
<circle cx="1150.5" cy="466.9" r="4.72"/>
<circle cx="1298.5" cy="582.3" r="4.72"/>
<circle cx="1204.1" cy="580.7" r="4.72"/>
<circle cx="1207.7" cy="592.3" r="4.72"/>
<circle cx="1301.6" cy="598.6" r="4.72"/>
<circle cx="1153.0" cy="556.4" r="4.72"/>
<circle cx="1279.6" cy="623.5" r="4.72"/>
<circle cx="1148.5" cy="555.1" r="4.72"/>
<circle cx="1236.8" cy="533.9" r="4.72"/>
<circle cx="1193.8" cy="628.1" r="4.72"/>
<circle cx="1262.0" cy="587.0" r="4.72"/>
<circle cx="1170.1" cy="622.0" r="4.72"/>
<circle cx="1277.1" cy="609.0" r="4.72"/>
<circle cx="1148.5" cy="624.1" r="4.72"/>
<circle cx="1191.3" cy="633.5" r="4.72"/>
<circle cx="1150.0" cy="492.2" r="4.72"/>
<circle cx="1153.1" cy="481.9" r="4.72"/>
<circle cx="1222.4" cy="592.6" r="4.72"/>
<circle cx="1296.8" cy="548.4" r="4.72"/>
<circle cx="1453.4" cy="594.1" r="4.72"/>
<circle cx="1217.7" cy="628.0" r="4.72"/>
<circle cx="1148.5" cy="511.2" r="4.72"/>
<circle cx="1198.9" cy="625.9" r="4.72"/>
<circle cx="1201.6" cy="600.6" r="4.72"/>
<circle cx="1148.5" cy="496.0" r="4.72"/>
<circle cx="1366.8" cy="581.6" r="4.72"/>
<circle cx="1174.4" cy="549.0" r="4.72"/>
<circle cx="1192.8" cy="559.0" r="4.72"/>
<circle cx="1346.5" cy="564.7" r="4.72"/>
<circle cx="1207.7" cy="531.8" r="4.72"/>
<circle cx="1430.5" cy="577.9" r="4.72"/>
<circle cx="1220.6" cy="557.9" r="4.72"/>
<circle cx="1148.5" cy="632.3" r="4.72"/>
<circle cx="1199.4" cy="607.7" r="4.72"/>
<circle cx="1204.6" cy="614.8" r="4.72"/>
<circle cx="1168.5" cy="555.3" r="4.72"/>
<circle cx="1241.7" cy="610.2" r="4.72"/>
<circle cx="1199.7" cy="576.1" r="4.72"/>
<circle cx="1217.8" cy="517.3" r="4.72"/>
<circle cx="1243.2" cy="565.6" r="4.72"/>
<circle cx="1235.4" cy="581.1" r="4.72"/>
<circle cx="1271.2" cy="613.8" r="4.72"/>
<circle cx="1212.2" cy="608.8" r="4.72"/>
<circle cx="1151.8" cy="501.1" r="4.72"/>
<circle cx="1231.3" cy="636.5" r="4.72"/>
<circle cx="1148.5" cy="570.5" r="4.72"/>
<circle cx="1258.1" cy="621.1" r="4.72"/>
<circle cx="1148.5" cy="619.0" r="4.72"/>
<circle cx="1148.5" cy="563.0" r="4.72"/>
<circle cx="1476.3" cy="578.8" r="4.72"/>
<circle cx="1166.4" cy="505.6" r="4.72"/>
<circle cx="1169.5" cy="573.8" r="4.72"/>
<circle cx="1284.5" cy="555.6" r="4.72"/>
<circle cx="1210.8" cy="562.5" r="4.72"/>
<circle cx="1148.5" cy="592.3" r="4.72"/>
<circle cx="1175.1" cy="624.0" r="4.72"/>
<circle cx="1382.0" cy="577.5" r="4.72"/>
<circle cx="1219.2" cy="630.0" r="4.72"/>
<circle cx="1212.3" cy="531.7" r="4.72"/>
<circle cx="1239.3" cy="561.1" r="4.72"/>
<circle cx="1341.5" cy="637.0" r="4.72"/>
<circle cx="1252.3" cy="600.3" r="4.72"/>
<circle cx="1216.2" cy="635.7" r="4.72"/>
<circle cx="1160.0" cy="482.9" r="4.72"/>
<circle cx="1184.4" cy="594.9" r="4.72"/>
<circle cx="1272.9" cy="581.4" r="4.72"/>
<circle cx="1334.4" cy="609.8" r="4.72"/>
<circle cx="1234.3" cy="551.1" r="4.72"/>
<circle cx="1175.0" cy="614.5" r="4.72"/>
<circle cx="1217.2" cy="565.0" r="4.72"/>
<circle cx="1314.1" cy="594.7" r="4.72"/>
<circle cx="1206.1" cy="569.6" r="4.72"/>
<circle cx="1188.0" cy="555.5" r="4.72"/>
<circle cx="1176.5" cy="576.1" r="4.72"/>
<circle cx="1405.7" cy="637.0" r="4.72"/>
<circle cx="1148.5" cy="633.9" r="4.72"/>
<circle cx="1171.1" cy="534.9" r="4.72"/>
<circle cx="1169.6" cy="550.0" r="4.72"/>
<circle cx="1151.2" cy="576.0" r="4.72"/>
<circle cx="1152.9" cy="496.7" r="4.72"/>
<circle cx="1189.6" cy="598.6" r="4.72"/>
<circle cx="1213.0" cy="574.6" r="4.72"/>
<circle cx="1148.5" cy="450.7" r="4.72"/>
<circle cx="1306.4" cy="594.7" r="4.72"/>
<circle cx="1181.7" cy="584.8" r="4.72"/>
<circle cx="1152.3" cy="584.1" r="4.72"/>
<circle cx="1148.5" cy="444.9" r="4.72"/>
<circle cx="1190.3" cy="551.7" r="4.72"/>
<circle cx="1265.7" cy="582.3" r="4.72"/>
<circle cx="1178.2" cy="582.6" r="4.72"/>
<circle cx="1254.6" cy="589.6" r="4.72"/>
<circle cx="1257.8" cy="627.6" r="4.72"/>
<circle cx="1215.8" cy="604.0" r="4.72"/>
<circle cx="1261.8" cy="637.0" r="4.72"/>
<circle cx="1206.7" cy="560.8" r="4.72"/>
<circle cx="1293.5" cy="612.0" r="4.72"/>
<circle cx="1161.2" cy="550.3" r="4.72"/>
<circle cx="1220.6" cy="554.4" r="4.72"/>
<circle cx="1154.5" cy="475.0" r="4.72"/>
<circle cx="1335.8" cy="585.7" r="4.72"/>
<circle cx="1184.6" cy="545.3" r="4.72"/>
<circle cx="1148.5" cy="450.2" r="4.72"/>
<circle cx="1241.8" cy="612.3" r="4.72"/>
<circle cx="1159.9" cy="529.1" r="4.72"/>
<circle cx="1166.7" cy="591.6" r="4.72"/>
<circle cx="1157.2" cy="563.6" r="4.72"/>
<circle cx="1167.5" cy="582.5" r="4.72"/>
<circle cx="1270.5" cy="626.1" r="4.72"/>
<circle cx="1221.8" cy="606.4" r="4.72"/>
<circle cx="1156.5" cy="613.0" r="4.72"/>
<circle cx="1203.8" cy="622.0" r="4.72"/>
<circle cx="1245.1" cy="578.1" r="4.72"/>
<circle cx="1242.9" cy="581.1" r="4.72"/>
<circle cx="1191.0" cy="632.6" r="4.72"/>
<circle cx="1268.1" cy="604.5" r="4.72"/>
<circle cx="1148.5" cy="453.3" r="4.72"/>
<circle cx="1327.7" cy="596.4" r="4.72"/>
<circle cx="1155.3" cy="614.8" r="4.72"/>
<circle cx="1276.6" cy="585.5" r="4.72"/>
<circle cx="1193.9" cy="569.0" r="4.72"/>
<circle cx="1223.9" cy="562.6" r="4.72"/>
<circle cx="1158.0" cy="609.7" r="4.72"/>
<circle cx="1148.5" cy="575.6" r="4.72"/>
<circle cx="1164.7" cy="637.0" r="4.72"/>
<circle cx="1217.1" cy="600.7" r="4.72"/>
<circle cx="1429.9" cy="594.4" r="4.72"/>
<circle cx="1150.1" cy="464.4" r="4.72"/>
<circle cx="1160.8" cy="591.8" r="4.72"/>
<circle cx="1153.2" cy="577.8" r="4.72"/>
<circle cx="1156.1" cy="492.9" r="4.72"/>
<circle cx="1148.5" cy="544.6" r="4.72"/>
<circle cx="1211.4" cy="637.0" r="4.72"/>
<circle cx="1201.9" cy="635.5" r="4.72"/>
<circle cx="1148.5" cy="492.9" r="4.72"/>
<circle cx="1148.5" cy="545.0" r="4.72"/>
<circle cx="1187.9" cy="560.1" r="4.72"/>
<circle cx="1164.6" cy="575.8" r="4.72"/>
<circle cx="1158.7" cy="634.6" r="4.72"/>
<circle cx="1217.7" cy="631.3" r="4.72"/>
<circle cx="1163.9" cy="633.5" r="4.72"/>
<circle cx="1148.5" cy="630.8" r="4.72"/>
<circle cx="1267.3" cy="554.0" r="4.72"/>
<circle cx="1156.0" cy="634.9" r="4.72"/>
<circle cx="1397.6" cy="576.8" r="4.72"/>
<circle cx="1306.7" cy="612.1" r="4.72"/>
<circle cx="1316.1" cy="601.0" r="4.72"/>
<circle cx="1300.5" cy="612.4" r="4.72"/>
<circle cx="1148.5" cy="507.1" r="4.72"/>
<circle cx="1205.5" cy="545.3" r="4.72"/>
<circle cx="1353.0" cy="569.7" r="4.72"/>
<circle cx="1148.5" cy="459.1" r="4.72"/>
<circle cx="1191.7" cy="614.7" r="4.72"/>
<circle cx="1255.9" cy="591.7" r="4.72"/>
<circle cx="1170.6" cy="586.9" r="4.72"/>
<circle cx="1349.3" cy="600.1" r="4.72"/>
<circle cx="1216.4" cy="587.2" r="4.72"/>
<circle cx="1199.8" cy="608.5" r="4.72"/>
<circle cx="1235.9" cy="611.3" r="4.72"/>
<circle cx="1306.6" cy="602.1" r="4.72"/>
<circle cx="1155.4" cy="464.6" r="4.72"/>
<circle cx="1602.9" cy="589.9" r="4.72"/>
<circle cx="1275.7" cy="626.5" r="4.72"/>
<circle cx="1172.8" cy="542.0" r="4.72"/>
<circle cx="1158.0" cy="562.0" r="4.72"/>
<circle cx="1218.8" cy="622.4" r="4.72"/>
<circle cx="1148.5" cy="503.3" r="4.72"/>
<circle cx="1206.9" cy="622.6" r="4.72"/>
<circle cx="1220.6" cy="598.2" r="4.72"/>
<circle cx="1148.5" cy="552.5" r="4.72"/>
<circle cx="1256.6" cy="542.3" r="4.72"/>
<circle cx="1164.1" cy="637.0" r="4.72"/>
<circle cx="1153.5" cy="613.6" r="4.72"/>
<circle cx="1194.7" cy="574.7" r="4.72"/>
<circle cx="1215.5" cy="613.9" r="4.72"/>
<circle cx="1206.1" cy="568.3" r="4.72"/>
<circle cx="1250.3" cy="570.6" r="4.72"/>
<circle cx="1254.6" cy="604.2" r="4.72"/>
<circle cx="1154.7" cy="559.6" r="4.72"/>
<circle cx="1196.4" cy="527.7" r="4.72"/>
<circle cx="1148.5" cy="454.2" r="4.72"/>
<circle cx="1181.3" cy="635.6" r="4.72"/>
<circle cx="1162.1" cy="546.8" r="4.72"/>
<circle cx="1151.7" cy="558.1" r="4.72"/>
<circle cx="1434.0" cy="610.5" r="4.72"/>
<circle cx="1176.4" cy="560.7" r="4.72"/>
<circle cx="1238.7" cy="538.6" r="4.72"/>
<circle cx="1215.0" cy="598.7" r="4.72"/>
<circle cx="1339.9" cy="579.4" r="4.72"/>
<circle cx="1340.0" cy="616.9" r="4.72"/>
<circle cx="1181.5" cy="555.0" r="4.72"/>
<circle cx="1262.9" cy="576.1" r="4.72"/>
<circle cx="1381.0" cy="627.3" r="4.72"/>
<circle cx="1168.7" cy="596.7" r="4.72"/>
<circle cx="1228.2" cy="623.3" r="4.72"/>
<circle cx="1308.2" cy="560.3" r="4.72"/>
<circle cx="1208.4" cy="582.4" r="4.72"/>
<circle cx="1148.5" cy="617.7" r="4.72"/>
<circle cx="1345.8" cy="580.2" r="4.72"/>
<circle cx="1264.3" cy="632.8" r="4.72"/>
<circle cx="1245.3" cy="614.7" r="4.72"/>
<circle cx="1261.2" cy="637.0" r="4.72"/>
<circle cx="1217.3" cy="568.4" r="4.72"/>
<circle cx="1225.5" cy="573.9" r="4.72"/>
<circle cx="1290.2" cy="606.5" r="4.72"/>
<circle cx="1221.9" cy="637.0" r="4.72"/>
<circle cx="1148.5" cy="545.4" r="4.72"/>
<circle cx="1247.3" cy="594.4" r="4.72"/>
<circle cx="1165.6" cy="526.1" r="4.72"/>
<circle cx="1223.7" cy="581.9" r="4.72"/>
<circle cx="1148.5" cy="600.4" r="4.72"/>
<circle cx="1273.1" cy="540.2" r="4.72"/>
<circle cx="1148.5" cy="587.0" r="4.72"/>
<circle cx="1579.5" cy="581.7" r="4.72"/>
<circle cx="1224.0" cy="558.6" r="4.72"/>
<circle cx="1231.2" cy="568.6" r="4.72"/>
<circle cx="1178.9" cy="603.3" r="4.72"/>
<circle cx="1372.3" cy="600.4" r="4.72"/>
<circle cx="1356.8" cy="634.7" r="4.72"/>
<circle cx="1213.2" cy="604.9" r="4.72"/>
<circle cx="1185.5" cy="558.1" r="4.72"/>
<circle cx="1193.6" cy="611.7" r="4.72"/>
<circle cx="1148.5" cy="444.4" r="4.72"/>
<circle cx="1254.1" cy="590.1" r="4.72"/>
<circle cx="1148.5" cy="603.5" r="4.72"/>
<circle cx="1160.4" cy="577.1" r="4.72"/>
<circle cx="1236.9" cy="587.6" r="4.72"/>
<circle cx="1148.7" cy="484.6" r="4.72"/>
<circle cx="1245.8" cy="632.6" r="4.72"/>
<circle cx="1295.7" cy="602.8" r="4.72"/>
<circle cx="1456.9" cy="575.0" r="4.72"/>
<circle cx="1278.7" cy="610.7" r="4.72"/>
<circle cx="1276.6" cy="627.7" r="4.72"/>
<circle cx="1268.8" cy="591.4" r="4.72"/>
<circle cx="1212.2" cy="524.4" r="4.72"/>
<circle cx="1152.4" cy="462.4" r="4.72"/>
<circle cx="1265.5" cy="633.8" r="4.72"/>
<circle cx="1223.3" cy="554.8" r="4.72"/>
<circle cx="1593.2" cy="591.1" r="4.72"/>
<circle cx="1286.3" cy="609.5" r="4.72"/>
<circle cx="1277.6" cy="557.7" r="4.72"/>
<circle cx="1253.5" cy="578.0" r="4.72"/>
<circle cx="1426.4" cy="606.1" r="4.72"/>
<circle cx="1158.1" cy="548.8" r="4.72"/>
<circle cx="1235.7" cy="623.8" r="4.72"/>
<circle cx="1279.0" cy="622.3" r="4.72"/>
<circle cx="1197.6" cy="572.1" r="4.72"/>
<circle cx="1205.0" cy="560.6" r="4.72"/>
<circle cx="1193.2" cy="574.4" r="4.72"/>
<circle cx="1332.6" cy="610.5" r="4.72"/>
<circle cx="1391.9" cy="543.1" r="4.72"/>
<circle cx="1220.1" cy="586.3" r="4.72"/>
<circle cx="1162.0" cy="561.8" r="4.72"/>
<circle cx="1148.5" cy="604.5" r="4.72"/>
<circle cx="1210.6" cy="633.4" r="4.72"/>
<circle cx="1291.7" cy="624.9" r="4.72"/>
<circle cx="1175.5" cy="604.2" r="4.72"/>
<circle cx="1168.5" cy="593.2" r="4.72"/>
<circle cx="1148.5" cy="518.9" r="4.72"/>
<circle cx="1200.1" cy="605.2" r="4.72"/>
<circle cx="1280.1" cy="544.9" r="4.72"/>
<circle cx="1210.0" cy="586.7" r="4.72"/>
<circle cx="1375.0" cy="597.7" r="4.72"/>
<circle cx="1328.9" cy="616.1" r="4.72"/>
<circle cx="1221.7" cy="569.7" r="4.72"/>
<circle cx="1231.6" cy="522.3" r="4.72"/>
<circle cx="1191.5" cy="581.1" r="4.72"/>
<circle cx="1179.3" cy="557.6" r="4.72"/>
<circle cx="1172.9" cy="603.8" r="4.72"/>
<circle cx="1148.5" cy="558.8" r="4.72"/>
<circle cx="1148.5" cy="600.3" r="4.72"/>
<circle cx="1246.0" cy="578.4" r="4.72"/>
<circle cx="1203.2" cy="616.4" r="4.72"/>
<circle cx="1310.3" cy="618.2" r="4.72"/>
<circle cx="1224.4" cy="617.4" r="4.72"/>
<circle cx="1148.5" cy="622.8" r="4.72"/>
<circle cx="1165.4" cy="579.0" r="4.72"/>
<circle cx="1181.7" cy="608.2" r="4.72"/>
<circle cx="1201.7" cy="552.2" r="4.72"/>
<circle cx="1312.9" cy="570.7" r="4.72"/>
<circle cx="1182.1" cy="556.3" r="4.72"/>
<circle cx="1284.8" cy="606.6" r="4.72"/>
<circle cx="1169.8" cy="519.3" r="4.72"/>
<circle cx="1334.2" cy="585.2" r="4.72"/>
<circle cx="1177.3" cy="564.5" r="4.72"/>
<circle cx="1151.9" cy="472.7" r="4.72"/>
<circle cx="1152.6" cy="451.3" r="4.72"/>
<circle cx="1227.1" cy="619.1" r="4.72"/>
<circle cx="1197.1" cy="635.2" r="4.72"/>
<circle cx="1168.0" cy="563.7" r="4.72"/>
<circle cx="1155.8" cy="549.7" r="4.72"/>
<circle cx="1220.1" cy="564.2" r="4.72"/>
<circle cx="1218.4" cy="574.2" r="4.72"/>
<circle cx="1148.5" cy="510.6" r="4.72"/>
<circle cx="1252.5" cy="580.9" r="4.72"/>
<circle cx="1182.9" cy="632.4" r="4.72"/>
<circle cx="1148.5" cy="592.7" r="4.72"/>
<circle cx="1236.3" cy="602.5" r="4.72"/>
<circle cx="1157.8" cy="542.5" r="4.72"/>
<circle cx="1148.5" cy="585.2" r="4.72"/>
<circle cx="1290.4" cy="587.6" r="4.72"/>
<circle cx="1221.7" cy="565.7" r="4.72"/>
<circle cx="1238.7" cy="620.2" r="4.72"/>
<circle cx="1175.0" cy="570.6" r="4.72"/>
<circle cx="1168.1" cy="597.5" r="4.72"/>
<circle cx="1205.4" cy="557.6" r="4.72"/>
<circle cx="1185.1" cy="632.3" r="4.72"/>
<circle cx="1176.4" cy="553.3" r="4.72"/>
<circle cx="1148.5" cy="467.9" r="4.72"/>
<circle cx="1153.6" cy="576.3" r="4.72"/>
<circle cx="1161.1" cy="494.9" r="4.72"/>
<circle cx="1163.4" cy="504.9" r="4.72"/>
<circle cx="1252.7" cy="566.0" r="4.72"/>
<circle cx="1213.4" cy="568.1" r="4.72"/>
<circle cx="1148.5" cy="463.2" r="4.72"/>
<circle cx="1256.5" cy="609.6" r="4.72"/>
<circle cx="1160.3" cy="618.8" r="4.72"/>
<circle cx="1183.0" cy="609.0" r="4.72"/>
<circle cx="1148.5" cy="616.0" r="4.72"/>
<circle cx="1212.9" cy="595.9" r="4.72"/>
<circle cx="1223.2" cy="551.4" r="4.72"/>
<circle cx="1148.5" cy="636.0" r="4.72"/>
<circle cx="1290.5" cy="622.7" r="4.72"/>
<circle cx="1217.5" cy="565.5" r="4.72"/>
<circle cx="1148.5" cy="446.5" r="4.72"/>
<circle cx="1148.5" cy="545.2" r="4.72"/>
<circle cx="1168.8" cy="527.1" r="4.72"/>
<circle cx="1291.7" cy="568.5" r="4.72"/>
<circle cx="1162.1" cy="634.3" r="4.72"/>
<circle cx="1151.5" cy="609.7" r="4.72"/>
<circle cx="1226.8" cy="554.0" r="4.72"/>
<circle cx="1436.1" cy="603.1" r="4.72"/>
<circle cx="1190.0" cy="583.6" r="4.72"/>
<circle cx="1159.9" cy="611.8" r="4.72"/>
<circle cx="1219.8" cy="604.1" r="4.72"/>
<circle cx="1224.6" cy="535.1" r="4.72"/>
<circle cx="1148.5" cy="489.4" r="4.72"/>
<circle cx="1332.4" cy="591.9" r="4.72"/>
<circle cx="1189.2" cy="571.7" r="4.72"/>
<circle cx="1218.5" cy="542.0" r="4.72"/>
<circle cx="1228.5" cy="579.7" r="4.72"/>
<circle cx="1278.8" cy="572.9" r="4.72"/>
<circle cx="1209.3" cy="544.4" r="4.72"/>
<circle cx="1264.6" cy="635.4" r="4.72"/>
<circle cx="1329.2" cy="606.9" r="4.72"/>
<circle cx="1211.3" cy="550.5" r="4.72"/>
<circle cx="1179.1" cy="605.8" r="4.72"/>
<circle cx="1229.9" cy="564.2" r="4.72"/>
<circle cx="1164.8" cy="624.1" r="4.72"/>
<circle cx="1284.2" cy="603.4" r="4.72"/>
<circle cx="1182.0" cy="600.0" r="4.72"/>
<circle cx="1252.0" cy="607.6" r="4.72"/>
<circle cx="1251.7" cy="581.6" r="4.72"/>
<circle cx="1186.4" cy="620.6" r="4.72"/>
<circle cx="1334.9" cy="561.1" r="4.72"/>
<circle cx="1181.8" cy="600.6" r="4.72"/>
<circle cx="1435.3" cy="581.7" r="4.72"/>
<circle cx="1446.7" cy="612.4" r="4.72"/>
<circle cx="1148.5" cy="610.0" r="4.72"/>
<circle cx="1262.3" cy="637.0" r="4.72"/>
<circle cx="1226.0" cy="633.4" r="4.72"/>
<circle cx="1215.8" cy="615.4" r="4.72"/>
<circle cx="1161.4" cy="617.3" r="4.72"/>
<circle cx="1172.1" cy="501.0" r="4.72"/>
<circle cx="1148.5" cy="625.3" r="4.72"/>
<circle cx="1199.1" cy="559.6" r="4.72"/>
<circle cx="1195.2" cy="634.7" r="4.72"/>
<circle cx="1199.7" cy="626.6" r="4.72"/>
<circle cx="1160.0" cy="484.8" r="4.72"/>
<circle cx="1212.4" cy="611.4" r="4.72"/>
<circle cx="1228.7" cy="592.7" r="4.72"/>
<circle cx="1205.1" cy="569.3" r="4.72"/>
<circle cx="1148.5" cy="474.6" r="4.72"/>
<circle cx="1199.5" cy="609.2" r="4.72"/>
<circle cx="1150.4" cy="620.1" r="4.72"/>
<circle cx="1461.7" cy="588.7" r="4.72"/>
<circle cx="1148.5" cy="493.0" r="4.72"/>
<circle cx="1341.6" cy="599.2" r="4.72"/>
<circle cx="1202.8" cy="555.2" r="4.72"/>
<circle cx="1160.5" cy="586.9" r="4.72"/>
<circle cx="1305.3" cy="596.8" r="4.72"/>
<circle cx="1252.7" cy="583.5" r="4.72"/>
<circle cx="1171.5" cy="566.2" r="4.72"/>
<circle cx="1268.9" cy="599.1" r="4.72"/>
<circle cx="1152.3" cy="635.2" r="4.72"/>
<circle cx="1341.7" cy="570.9" r="4.72"/>
<circle cx="1165.3" cy="502.6" r="4.72"/>
<circle cx="1229.3" cy="553.1" r="4.72"/>
<circle cx="1346.8" cy="618.4" r="4.72"/>
<circle cx="1242.2" cy="623.8" r="4.72"/>
<circle cx="1148.5" cy="470.9" r="4.72"/>
<circle cx="1268.4" cy="575.8" r="4.72"/>
<circle cx="1304.8" cy="577.5" r="4.72"/>
<circle cx="1251.3" cy="606.5" r="4.72"/>
<circle cx="1189.9" cy="612.4" r="4.72"/>
<circle cx="1264.2" cy="595.7" r="4.72"/>
<circle cx="1156.8" cy="497.1" r="4.72"/>
<circle cx="1364.8" cy="595.8" r="4.72"/>
<circle cx="1212.9" cy="582.4" r="4.72"/>
<circle cx="1227.7" cy="568.2" r="4.72"/>
<circle cx="1334.8" cy="576.3" r="4.72"/>
<circle cx="1290.0" cy="636.9" r="4.72"/>
<circle cx="1159.9" cy="517.7" r="4.72"/>
<circle cx="1169.2" cy="515.7" r="4.72"/>
<circle cx="1277.9" cy="632.2" r="4.72"/>
<circle cx="1148.5" cy="452.3" r="4.72"/>
<circle cx="1361.8" cy="589.8" r="4.72"/>
<circle cx="1212.9" cy="553.8" r="4.72"/>
<circle cx="1187.1" cy="543.1" r="4.72"/>
<circle cx="1159.4" cy="594.0" r="4.72"/>
<circle cx="1148.5" cy="596.5" r="4.72"/>
<circle cx="1294.1" cy="566.8" r="4.72"/>
<circle cx="1152.1" cy="609.3" r="4.72"/>
<circle cx="1148.5" cy="616.2" r="4.72"/>
<circle cx="1154.3" cy="559.5" r="4.72"/>
<circle cx="1150.9" cy="543.1" r="4.72"/>
<circle cx="1167.0" cy="589.8" r="4.72"/>
<circle cx="1354.7" cy="605.2" r="4.72"/>
<circle cx="1265.8" cy="564.8" r="4.72"/>
<circle cx="1148.5" cy="508.7" r="4.72"/>
<circle cx="1166.3" cy="610.4" r="4.72"/>
<circle cx="1249.9" cy="601.9" r="4.72"/>
<circle cx="1216.5" cy="581.1" r="4.72"/>
<circle cx="1276.8" cy="593.2" r="4.72"/>
<circle cx="1223.0" cy="601.3" r="4.72"/>
<circle cx="1256.2" cy="608.9" r="4.72"/>
<circle cx="1170.0" cy="595.6" r="4.72"/>
<circle cx="1289.4" cy="617.1" r="4.72"/>
<circle cx="1252.3" cy="587.7" r="4.72"/>
<circle cx="1227.1" cy="629.5" r="4.72"/>
<circle cx="1216.9" cy="584.5" r="4.72"/>
<circle cx="1152.9" cy="624.3" r="4.72"/>
<circle cx="1232.0" cy="624.7" r="4.72"/>
<circle cx="1226.8" cy="637.0" r="4.72"/>
<circle cx="1269.3" cy="585.3" r="4.72"/>
<circle cx="1334.4" cy="588.0" r="4.72"/>
<circle cx="1277.0" cy="606.4" r="4.72"/>
<circle cx="1256.6" cy="543.1" r="4.72"/>
<circle cx="1227.4" cy="635.8" r="4.72"/>
<circle cx="1167.6" cy="628.5" r="4.72"/>
<circle cx="1231.6" cy="578.0" r="4.72"/>
<circle cx="1205.1" cy="632.7" r="4.72"/>
<circle cx="1162.5" cy="565.7" r="4.72"/>
<circle cx="1244.5" cy="637.0" r="4.72"/>
<circle cx="1173.9" cy="632.5" r="4.72"/>
<circle cx="1215.2" cy="634.2" r="4.72"/>
<circle cx="1256.4" cy="637.0" r="4.72"/>
<circle cx="1209.1" cy="543.1" r="4.72"/>
<circle cx="1266.8" cy="634.2" r="4.72"/>
<circle cx="1243.7" cy="529.2" r="4.72"/>
<circle cx="1273.6" cy="608.7" r="4.72"/>
<circle cx="1251.1" cy="630.7" r="4.72"/>
<circle cx="1260.9" cy="609.9" r="4.72"/>
<circle cx="1459.6" cy="603.7" r="4.72"/>
<circle cx="1357.2" cy="602.7" r="4.72"/>
<circle cx="1539.6" cy="611.8" r="4.72"/>
<circle cx="1162.5" cy="543.1" r="4.72"/>
<circle cx="1242.6" cy="598.9" r="4.72"/>
<circle cx="1148.5" cy="569.9" r="4.72"/>
<circle cx="1148.5" cy="598.8" r="4.72"/>
<circle cx="1241.3" cy="591.0" r="4.72"/>
<circle cx="1149.6" cy="561.4" r="4.72"/>
<circle cx="1148.5" cy="453.1" r="4.72"/>
<circle cx="1168.2" cy="558.5" r="4.72"/>
<circle cx="1201.4" cy="563.3" r="4.72"/>
<circle cx="1324.9" cy="624.2" r="4.72"/>
<circle cx="1228.0" cy="591.0" r="4.72"/>
<circle cx="1194.5" cy="571.6" r="4.72"/>
<circle cx="1215.6" cy="567.4" r="4.72"/>
<circle cx="1218.4" cy="570.0" r="4.72"/>
<circle cx="1148.5" cy="545.1" r="4.72"/>
<circle cx="1180.5" cy="626.2" r="4.72"/>
<circle cx="1258.9" cy="584.0" r="4.72"/>
<circle cx="1239.5" cy="630.1" r="4.72"/>
<circle cx="1164.2" cy="609.3" r="4.72"/>
<circle cx="1217.7" cy="584.4" r="4.72"/>
<circle cx="1202.6" cy="629.9" r="4.72"/>
<circle cx="1256.5" cy="583.7" r="4.72"/>
<circle cx="1332.5" cy="601.5" r="4.72"/>
<circle cx="1397.6" cy="588.8" r="4.72"/>
<circle cx="1224.2" cy="611.5" r="4.72"/>
<circle cx="1232.8" cy="560.6" r="4.72"/>
<circle cx="1185.7" cy="587.2" r="4.72"/>
<circle cx="1192.6" cy="523.9" r="4.72"/>
<circle cx="1245.3" cy="597.3" r="4.72"/>
<circle cx="1350.7" cy="620.6" r="4.72"/>
<circle cx="1253.9" cy="637.0" r="4.72"/>
<circle cx="1186.0" cy="571.0" r="4.72"/>
<circle cx="1164.1" cy="586.4" r="4.72"/>
<circle cx="1226.1" cy="610.7" r="4.72"/>
<circle cx="1152.0" cy="573.9" r="4.72"/>
<circle cx="1166.9" cy="601.1" r="4.72"/>
<circle cx="1347.9" cy="635.6" r="4.72"/>
<circle cx="1265.5" cy="616.1" r="4.72"/>
<circle cx="1195.5" cy="611.3" r="4.72"/>
<circle cx="1439.9" cy="574.3" r="4.72"/>
<circle cx="1227.5" cy="608.0" r="4.72"/>
<circle cx="1204.6" cy="591.9" r="4.72"/>
<circle cx="1183.1" cy="600.4" r="4.72"/>
<circle cx="1198.1" cy="567.0" r="4.72"/>
<circle cx="1227.4" cy="629.2" r="4.72"/>
<circle cx="1237.7" cy="613.3" r="4.72"/>
<circle cx="1255.4" cy="627.5" r="4.72"/>
<circle cx="1170.3" cy="636.9" r="4.72"/>
<circle cx="1283.6" cy="594.3" r="4.72"/>
<circle cx="1254.7" cy="604.5" r="4.72"/>
<circle cx="1169.2" cy="589.8" r="4.72"/>
<circle cx="1211.2" cy="618.7" r="4.72"/>
<circle cx="1148.5" cy="499.2" r="4.72"/>
<circle cx="1148.5" cy="457.0" r="4.72"/>
<circle cx="1277.3" cy="617.7" r="4.72"/>
<circle cx="1163.1" cy="615.1" r="4.72"/>
<circle cx="1197.6" cy="598.5" r="4.72"/>
<circle cx="1225.3" cy="602.5" r="4.72"/>
<circle cx="1500.0" cy="570.5" r="4.72"/>
<circle cx="1148.5" cy="620.1" r="4.72"/>
<circle cx="1285.5" cy="570.8" r="4.72"/>
<circle cx="1190.0" cy="559.4" r="4.72"/>
<circle cx="1202.1" cy="612.8" r="4.72"/>
<circle cx="1233.9" cy="589.4" r="4.72"/>
<circle cx="1290.0" cy="620.4" r="4.72"/>
<circle cx="1148.5" cy="501.6" r="4.72"/>
<circle cx="1167.1" cy="570.5" r="4.72"/>
<circle cx="1148.5" cy="569.8" r="4.72"/>
<circle cx="1339.1" cy="614.1" r="4.72"/>
<circle cx="1160.7" cy="602.6" r="4.72"/>
<circle cx="1148.5" cy="626.5" r="4.72"/>
<circle cx="1276.7" cy="622.5" r="4.72"/>
<circle cx="1186.6" cy="550.3" r="4.72"/>
<circle cx="1148.5" cy="604.7" r="4.72"/>
<circle cx="1249.9" cy="587.7" r="4.72"/>
<circle cx="1254.6" cy="620.4" r="4.72"/>
<circle cx="1193.5" cy="609.5" r="4.72"/>
<circle cx="1154.8" cy="557.6" r="4.72"/>
<circle cx="1154.2" cy="487.8" r="4.72"/>
<circle cx="1256.8" cy="596.5" r="4.72"/>
<circle cx="1156.4" cy="604.0" r="4.72"/>
<circle cx="1408.9" cy="637.0" r="4.72"/>
<circle cx="1293.4" cy="604.9" r="4.72"/>
<circle cx="1153.1" cy="598.8" r="4.72"/>
<circle cx="1293.0" cy="584.5" r="4.72"/>
<circle cx="1217.5" cy="629.4" r="4.72"/>
<circle cx="1243.2" cy="583.1" r="4.72"/>
<circle cx="1171.2" cy="631.3" r="4.72"/>
<circle cx="1149.3" cy="594.0" r="4.72"/>
<circle cx="1157.6" cy="509.3" r="4.72"/>
<circle cx="1207.2" cy="597.7" r="4.72"/>
<circle cx="1228.9" cy="608.6" r="4.72"/>
<circle cx="1202.0" cy="558.0" r="4.72"/>
<circle cx="1599.7" cy="599.9" r="4.72"/>
<circle cx="1220.3" cy="570.7" r="4.72"/>
<circle cx="1272.3" cy="629.2" r="4.72"/>
<circle cx="1150.2" cy="609.9" r="4.72"/>
<circle cx="1153.3" cy="456.9" r="4.72"/>
<circle cx="1150.2" cy="581.8" r="4.72"/>
<circle cx="1325.3" cy="552.8" r="4.72"/>
<circle cx="1189.8" cy="637.0" r="4.72"/>
<circle cx="1205.6" cy="630.6" r="4.72"/>
<circle cx="1188.0" cy="629.7" r="4.72"/>
<circle cx="1213.5" cy="551.4" r="4.72"/>
<circle cx="1168.3" cy="607.6" r="4.72"/>
<circle cx="1244.2" cy="563.0" r="4.72"/>
<circle cx="1393.5" cy="594.3" r="4.72"/>
<circle cx="1156.9" cy="501.5" r="4.72"/>
<circle cx="1297.0" cy="604.7" r="4.72"/>
<circle cx="1202.6" cy="548.5" r="4.72"/>
<circle cx="1156.3" cy="628.3" r="4.72"/>
<circle cx="1188.2" cy="631.0" r="4.72"/>
<circle cx="1266.4" cy="586.3" r="4.72"/>
<circle cx="1194.4" cy="617.7" r="4.72"/>
<circle cx="1213.9" cy="547.8" r="4.72"/>
<circle cx="1235.0" cy="573.5" r="4.72"/>
<circle cx="1276.8" cy="568.0" r="4.72"/>
<circle cx="1282.9" cy="590.4" r="4.72"/>
<circle cx="1217.1" cy="564.5" r="4.72"/>
<circle cx="1217.9" cy="626.6" r="4.72"/>
<circle cx="1385.9" cy="565.9" r="4.72"/>
<circle cx="1160.2" cy="539.4" r="4.72"/>
<circle cx="1179.1" cy="636.2" r="4.72"/>
<circle cx="1277.1" cy="612.9" r="4.72"/>
<circle cx="1275.7" cy="616.6" r="4.72"/>
<circle cx="1148.5" cy="590.5" r="4.72"/>
<circle cx="1327.0" cy="580.3" r="4.72"/>
<circle cx="1168.4" cy="605.6" r="4.72"/>
<circle cx="1242.3" cy="582.4" r="4.72"/>
<circle cx="1230.0" cy="636.6" r="4.72"/>
<circle cx="1148.5" cy="576.0" r="4.72"/>
<circle cx="1209.2" cy="626.6" r="4.72"/>
<circle cx="1165.3" cy="551.2" r="4.72"/>
<circle cx="1271.7" cy="594.3" r="4.72"/>
<circle cx="1148.5" cy="481.6" r="4.72"/>
<circle cx="1345.2" cy="623.2" r="4.72"/>
<circle cx="1148.5" cy="586.6" r="4.72"/>
<circle cx="1180.1" cy="578.8" r="4.72"/>
<circle cx="1173.9" cy="586.3" r="4.72"/>
<circle cx="1176.5" cy="633.4" r="4.72"/>
<circle cx="1290.1" cy="625.0" r="4.72"/>
<circle cx="1234.5" cy="573.3" r="4.72"/>
<circle cx="1274.3" cy="586.4" r="4.72"/>
<circle cx="1148.5" cy="605.6" r="4.72"/>
<circle cx="1254.2" cy="607.4" r="4.72"/>
<circle cx="1313.9" cy="574.2" r="4.72"/>
<circle cx="1168.5" cy="578.9" r="4.72"/>
<circle cx="1148.5" cy="629.8" r="4.72"/>
<circle cx="1190.2" cy="610.3" r="4.72"/>
<circle cx="1272.9" cy="602.9" r="4.72"/>
<circle cx="1278.7" cy="606.0" r="4.72"/>
<circle cx="1298.9" cy="605.3" r="4.72"/>
<circle cx="1279.2" cy="594.3" r="4.72"/>
<circle cx="1148.5" cy="509.7" r="4.72"/>
<circle cx="1148.7" cy="453.4" r="4.72"/>
<circle cx="1223.5" cy="622.0" r="4.72"/>
<circle cx="1175.9" cy="588.1" r="4.72"/>
<circle cx="1225.0" cy="608.2" r="4.72"/>
<circle cx="1148.5" cy="481.6" r="4.72"/>
<circle cx="1267.8" cy="615.5" r="4.72"/>
<circle cx="1243.9" cy="622.2" r="4.72"/>
<circle cx="1267.2" cy="619.2" r="4.72"/>
<circle cx="1152.9" cy="604.9" r="4.72"/>
<circle cx="1173.6" cy="603.6" r="4.72"/>
<circle cx="1220.4" cy="584.0" r="4.72"/>
<circle cx="1249.8" cy="621.3" r="4.72"/>
<circle cx="1230.4" cy="581.3" r="4.72"/>
<circle cx="1229.4" cy="581.5" r="4.72"/>
<circle cx="1168.2" cy="623.6" r="4.72"/>
<circle cx="1257.4" cy="534.3" r="4.72"/>
<circle cx="1166.0" cy="544.6" r="4.72"/>
<circle cx="1264.6" cy="627.4" r="4.72"/>
<circle cx="1268.7" cy="606.7" r="4.72"/>
<circle cx="1165.2" cy="543.1" r="4.72"/>
<circle cx="1375.5" cy="609.2" r="4.72"/>
<circle cx="1230.7" cy="618.9" r="4.72"/>
<circle cx="1151.5" cy="610.7" r="4.72"/>
<circle cx="1159.2" cy="573.4" r="4.72"/>
<circle cx="1172.6" cy="616.7" r="4.72"/>
<circle cx="1157.7" cy="566.9" r="4.72"/>
<circle cx="1259.0" cy="570.6" r="4.72"/>
<circle cx="1250.9" cy="596.4" r="4.72"/>
<circle cx="1243.9" cy="569.1" r="4.72"/>
<circle cx="1148.5" cy="609.8" r="4.72"/>
<circle cx="1156.1" cy="548.7" r="4.72"/>
<circle cx="1259.0" cy="557.7" r="4.72"/>
<circle cx="1152.9" cy="448.2" r="4.72"/>
<circle cx="1158.2" cy="619.1" r="4.72"/>
<circle cx="1177.1" cy="576.3" r="4.72"/>
<circle cx="1218.0" cy="556.2" r="4.72"/>
<circle cx="1207.4" cy="635.6" r="4.72"/>
<circle cx="1365.8" cy="565.4" r="4.72"/>
<circle cx="1194.6" cy="563.2" r="4.72"/>
<circle cx="1269.3" cy="596.4" r="4.72"/>
<circle cx="1190.6" cy="589.1" r="4.72"/>
<circle cx="1148.5" cy="574.0" r="4.72"/>
<circle cx="1167.0" cy="566.4" r="4.72"/>
<circle cx="1340.5" cy="594.9" r="4.72"/>
<circle cx="1308.9" cy="574.1" r="4.72"/>
<circle cx="1220.6" cy="520.7" r="4.72"/>
<circle cx="1221.0" cy="586.4" r="4.72"/>
<circle cx="1170.6" cy="588.4" r="4.72"/>
<circle cx="1181.7" cy="614.7" r="4.72"/>
<circle cx="1228.5" cy="569.3" r="4.72"/>
<circle cx="1382.9" cy="602.8" r="4.72"/>
<circle cx="1177.8" cy="617.1" r="4.72"/>
<circle cx="1218.8" cy="628.1" r="4.72"/>
<circle cx="1212.9" cy="579.3" r="4.72"/>
<circle cx="1251.7" cy="606.3" r="4.72"/>
<circle cx="1346.0" cy="595.6" r="4.72"/>
<circle cx="1204.1" cy="637.0" r="4.72"/>
<circle cx="1238.1" cy="609.0" r="4.72"/>
<circle cx="1363.6" cy="579.5" r="4.72"/>
<circle cx="1148.7" cy="608.1" r="4.72"/>
<circle cx="1148.5" cy="506.7" r="4.72"/>
<circle cx="1155.0" cy="469.4" r="4.72"/>
<circle cx="1217.6" cy="599.0" r="4.72"/>
<circle cx="1174.0" cy="556.3" r="4.72"/>
<circle cx="1150.6" cy="497.2" r="4.72"/>
<circle cx="1249.2" cy="601.3" r="4.72"/>
<circle cx="1150.4" cy="535.4" r="4.72"/>
<circle cx="1151.9" cy="545.9" r="4.72"/>
<circle cx="1208.5" cy="632.3" r="4.72"/>
<circle cx="1166.8" cy="621.1" r="4.72"/>
<circle cx="1266.3" cy="625.4" r="4.72"/>
<circle cx="1162.2" cy="611.7" r="4.72"/>
<circle cx="1149.0" cy="498.3" r="4.72"/>
<circle cx="1260.9" cy="602.1" r="4.72"/>
<circle cx="1347.0" cy="601.8" r="4.72"/>
<circle cx="1164.6" cy="496.6" r="4.72"/>
<circle cx="1223.9" cy="620.8" r="4.72"/>
<circle cx="1155.1" cy="597.5" r="4.72"/>
<circle cx="1243.0" cy="569.6" r="4.72"/>
<circle cx="1310.2" cy="623.7" r="4.72"/>
<circle cx="1177.9" cy="589.2" r="4.72"/>
<circle cx="1148.5" cy="569.9" r="4.72"/>
<circle cx="1290.4" cy="546.7" r="4.72"/>
<circle cx="1264.7" cy="605.2" r="4.72"/>
<circle cx="1193.6" cy="544.7" r="4.72"/>
<circle cx="1160.8" cy="590.6" r="4.72"/>
<circle cx="1239.4" cy="608.3" r="4.72"/>
<circle cx="1242.0" cy="632.1" r="4.72"/>
<circle cx="1250.4" cy="629.9" r="4.72"/>
<circle cx="1193.5" cy="612.8" r="4.72"/>
<circle cx="1301.0" cy="584.3" r="4.72"/>
<circle cx="1167.3" cy="623.4" r="4.72"/>
<circle cx="1157.7" cy="487.3" r="4.72"/>
<circle cx="1286.5" cy="596.5" r="4.72"/>
<circle cx="1183.5" cy="553.9" r="4.72"/>
<circle cx="1311.6" cy="578.5" r="4.72"/>
<circle cx="1148.5" cy="625.1" r="4.72"/>
<circle cx="1261.2" cy="627.6" r="4.72"/>
<circle cx="1351.7" cy="614.4" r="4.72"/>
<circle cx="1188.3" cy="630.8" r="4.72"/>
<circle cx="1232.6" cy="526.0" r="4.72"/>
<circle cx="1154.5" cy="633.0" r="4.72"/>
<circle cx="1244.7" cy="611.2" r="4.72"/>
<circle cx="1234.1" cy="583.1" r="4.72"/>
<circle cx="1229.9" cy="595.6" r="4.72"/>
<circle cx="1161.3" cy="579.8" r="4.72"/>
<circle cx="1148.5" cy="449.2" r="4.72"/>
<circle cx="1277.6" cy="604.3" r="4.72"/>
<circle cx="1265.9" cy="576.6" r="4.72"/>
<circle cx="1216.8" cy="557.5" r="4.72"/>
<circle cx="1239.9" cy="532.0" r="4.72"/>
<circle cx="1333.1" cy="576.1" r="4.72"/>
<circle cx="1178.8" cy="627.7" r="4.72"/>
<circle cx="1153.0" cy="566.9" r="4.72"/>
<circle cx="1226.3" cy="521.4" r="4.72"/>
<circle cx="1158.3" cy="559.7" r="4.72"/>
<circle cx="1251.5" cy="589.3" r="4.72"/>
<circle cx="1226.0" cy="568.9" r="4.72"/>
<circle cx="1275.5" cy="594.1" r="4.72"/>
<circle cx="1243.7" cy="560.4" r="4.72"/>
<circle cx="1233.6" cy="608.6" r="4.72"/>
<circle cx="1313.9" cy="581.5" r="4.72"/>
<circle cx="1412.4" cy="608.6" r="4.72"/>
<circle cx="1225.8" cy="626.3" r="4.72"/>
<circle cx="1242.3" cy="601.0" r="4.72"/>
<circle cx="1237.3" cy="636.2" r="4.72"/>
<circle cx="1352.8" cy="604.9" r="4.72"/>
<circle cx="1175.5" cy="632.4" r="4.72"/>
<circle cx="1346.5" cy="611.5" r="4.72"/>
<circle cx="1222.5" cy="568.9" r="4.72"/>
<circle cx="1221.9" cy="552.5" r="4.72"/>
<circle cx="1226.9" cy="632.1" r="4.72"/>
<circle cx="1148.5" cy="560.6" r="4.72"/>
<circle cx="1162.0" cy="618.8" r="4.72"/>
<circle cx="1148.5" cy="453.5" r="4.72"/>
<circle cx="1287.1" cy="595.6" r="4.72"/>
<circle cx="1223.4" cy="616.3" r="4.72"/>
<circle cx="1295.4" cy="597.9" r="4.72"/>
<circle cx="1272.3" cy="612.3" r="4.72"/>
<circle cx="1205.4" cy="608.4" r="4.72"/>
<circle cx="1226.9" cy="597.6" r="4.72"/>
<circle cx="1149.0" cy="460.9" r="4.72"/>
<circle cx="1206.7" cy="605.4" r="4.72"/>
<circle cx="1215.0" cy="519.4" r="4.72"/>
<circle cx="1372.7" cy="586.6" r="4.72"/>
<circle cx="1204.3" cy="609.7" r="4.72"/>
<circle cx="1153.6" cy="636.0" r="4.72"/>
<circle cx="1229.5" cy="601.0" r="4.72"/>
<circle cx="1191.7" cy="528.9" r="4.72"/>
<circle cx="1148.5" cy="588.9" r="4.72"/>
<circle cx="1164.1" cy="554.0" r="4.72"/>
<circle cx="1164.3" cy="574.6" r="4.72"/>
<circle cx="1219.4" cy="563.8" r="4.72"/>
<circle cx="1148.7" cy="491.9" r="4.72"/>
<circle cx="1255.1" cy="597.4" r="4.72"/>
<circle cx="1154.5" cy="554.2" r="4.72"/>
<circle cx="1154.5" cy="621.9" r="4.72"/>
<circle cx="1261.8" cy="637.0" r="4.72"/>
<circle cx="1267.0" cy="543.2" r="4.72"/>
<circle cx="1148.5" cy="633.1" r="4.72"/>
<circle cx="1217.2" cy="624.6" r="4.72"/>
<circle cx="1182.4" cy="599.8" r="4.72"/>
<circle cx="1180.3" cy="542.9" r="4.72"/>
<circle cx="1427.7" cy="637.0" r="4.72"/>
<circle cx="1208.2" cy="585.0" r="4.72"/>
<circle cx="1227.7" cy="609.8" r="4.72"/>
<circle cx="1148.5" cy="598.4" r="4.72"/>
<circle cx="1173.5" cy="579.8" r="4.72"/>
<circle cx="1227.2" cy="613.9" r="4.72"/>
<circle cx="1150.4" cy="449.3" r="4.72"/>
<circle cx="1299.0" cy="561.7" r="4.72"/>
<circle cx="1169.9" cy="563.0" r="4.72"/>
<circle cx="1148.5" cy="626.1" r="4.72"/>
<circle cx="1182.9" cy="548.6" r="4.72"/>
<circle cx="1148.5" cy="581.3" r="4.72"/>
<circle cx="1494.6" cy="582.5" r="4.72"/>
<circle cx="1148.5" cy="454.5" r="4.72"/>
<circle cx="1219.8" cy="612.8" r="4.72"/>
<circle cx="1264.4" cy="594.0" r="4.72"/>
<circle cx="1151.5" cy="474.1" r="4.72"/>
<circle cx="1202.5" cy="581.7" r="4.72"/>
<circle cx="1159.0" cy="558.7" r="4.72"/>
<circle cx="1213.3" cy="558.3" r="4.72"/>
<circle cx="1268.6" cy="594.0" r="4.72"/>
<circle cx="1209.9" cy="581.1" r="4.72"/>
<circle cx="1330.7" cy="562.4" r="4.72"/>
<circle cx="1150.4" cy="603.0" r="4.72"/>
<circle cx="1416.3" cy="637.0" r="4.72"/>
<circle cx="1292.4" cy="564.3" r="4.72"/>
<circle cx="1266.6" cy="630.6" r="4.72"/>
<circle cx="1347.2" cy="578.9" r="4.72"/>
<circle cx="1297.5" cy="579.7" r="4.72"/>
<circle cx="1156.9" cy="632.8" r="4.72"/>
<circle cx="1178.5" cy="565.1" r="4.72"/>
<circle cx="1150.0" cy="564.4" r="4.72"/>
<circle cx="1148.5" cy="513.0" r="4.72"/>
<circle cx="1214.7" cy="606.9" r="4.72"/>
<circle cx="1253.4" cy="578.0" r="4.72"/>
<circle cx="1153.8" cy="464.4" r="4.72"/>
<circle cx="1260.4" cy="624.3" r="4.72"/>
<circle cx="1281.4" cy="547.1" r="4.72"/>
<circle cx="1479.0" cy="576.8" r="4.72"/>
<circle cx="1262.6" cy="630.4" r="4.72"/>
<circle cx="1318.5" cy="591.9" r="4.72"/>
<circle cx="1186.3" cy="577.8" r="4.72"/>
<circle cx="1217.9" cy="635.3" r="4.72"/>
<circle cx="1218.9" cy="552.1" r="4.72"/>
<circle cx="1148.5" cy="578.0" r="4.72"/>
<circle cx="1148.5" cy="516.1" r="4.72"/>
<circle cx="1232.3" cy="559.0" r="4.72"/>
<circle cx="1180.6" cy="592.1" r="4.72"/>
<circle cx="1170.8" cy="626.0" r="4.72"/>
<circle cx="1239.4" cy="586.7" r="4.72"/>
<circle cx="1169.1" cy="515.2" r="4.72"/>
<circle cx="1189.3" cy="578.9" r="4.72"/>
<circle cx="1151.5" cy="506.5" r="4.72"/>
<circle cx="1175.6" cy="588.9" r="4.72"/>
<circle cx="1275.5" cy="593.1" r="4.72"/>
<circle cx="1235.2" cy="588.0" r="4.72"/>
<circle cx="1248.3" cy="569.8" r="4.72"/>
<circle cx="1266.6" cy="603.0" r="4.72"/>
<circle cx="1237.3" cy="597.3" r="4.72"/>
<circle cx="1264.1" cy="584.1" r="4.72"/>
<circle cx="1251.7" cy="587.4" r="4.72"/>
<circle cx="1351.9" cy="632.9" r="4.72"/>
<circle cx="1266.0" cy="600.1" r="4.72"/>
<circle cx="1182.7" cy="604.9" r="4.72"/>
<circle cx="1256.4" cy="587.2" r="4.72"/>
<circle cx="1389.9" cy="568.2" r="4.72"/>
<circle cx="1207.6" cy="617.8" r="4.72"/>
<circle cx="1216.5" cy="588.7" r="4.72"/>
<circle cx="1156.4" cy="483.7" r="4.72"/>
<circle cx="1230.0" cy="621.6" r="4.72"/>
<circle cx="1285.6" cy="568.0" r="4.72"/>
<circle cx="1189.3" cy="593.6" r="4.72"/>
<circle cx="1429.9" cy="593.4" r="4.72"/>
<circle cx="1215.5" cy="557.1" r="4.72"/>
<circle cx="1266.3" cy="580.7" r="4.72"/>
<circle cx="1274.3" cy="614.3" r="4.72"/>
<circle cx="1278.3" cy="557.0" r="4.72"/>
<circle cx="1148.5" cy="545.4" r="4.72"/>
<circle cx="1295.9" cy="602.2" r="4.72"/>
<circle cx="1285.4" cy="605.1" r="4.72"/>
<circle cx="1148.5" cy="621.8" r="4.72"/>
<circle cx="1157.6" cy="554.2" r="4.72"/>
<circle cx="1201.3" cy="576.4" r="4.72"/>
<circle cx="1270.9" cy="610.2" r="4.72"/>
<circle cx="1206.3" cy="634.5" r="4.72"/>
<circle cx="1150.4" cy="468.1" r="4.72"/>
<circle cx="1233.2" cy="634.2" r="4.72"/>
<circle cx="1160.2" cy="494.4" r="4.72"/>
<circle cx="1267.1" cy="596.6" r="4.72"/>
<circle cx="1168.2" cy="557.4" r="4.72"/>
<circle cx="1162.3" cy="620.8" r="4.72"/>
<circle cx="1231.7" cy="548.8" r="4.72"/>
<circle cx="1202.1" cy="594.9" r="4.72"/>
<circle cx="1284.5" cy="601.6" r="4.72"/>
<circle cx="1323.1" cy="552.0" r="4.72"/>
<circle cx="1445.6" cy="637.0" r="4.72"/>
<circle cx="1454.2" cy="593.4" r="4.72"/>
<circle cx="1148.5" cy="584.3" r="4.72"/>
<circle cx="1195.0" cy="589.4" r="4.72"/>
<circle cx="1248.8" cy="568.5" r="4.72"/>
<circle cx="1220.1" cy="623.8" r="4.72"/>
<circle cx="1153.6" cy="573.7" r="4.72"/>
<circle cx="1164.2" cy="573.1" r="4.72"/>
<circle cx="1196.4" cy="602.1" r="4.72"/>
<circle cx="1168.2" cy="608.2" r="4.72"/>
<circle cx="1236.5" cy="552.0" r="4.72"/>
<circle cx="1185.3" cy="577.3" r="4.72"/>
<circle cx="1271.3" cy="576.8" r="4.72"/>
<circle cx="1181.4" cy="547.0" r="4.72"/>
<circle cx="1201.7" cy="566.3" r="4.72"/>
<circle cx="1273.1" cy="585.7" r="4.72"/>
<circle cx="1148.5" cy="596.8" r="4.72"/>
<circle cx="1264.6" cy="549.0" r="4.72"/>
<circle cx="1323.6" cy="584.1" r="4.72"/>
<circle cx="1154.5" cy="633.4" r="4.72"/>
<circle cx="1300.7" cy="593.0" r="4.72"/>
<circle cx="1252.6" cy="569.9" r="4.72"/>
<circle cx="1303.1" cy="610.6" r="4.72"/>
<circle cx="1229.1" cy="579.6" r="4.72"/>
<circle cx="1148.5" cy="443.6" r="4.72"/>
<circle cx="1215.3" cy="625.7" r="4.72"/>
<circle cx="1205.6" cy="573.7" r="4.72"/>
<circle cx="1240.9" cy="599.9" r="4.72"/>
<circle cx="1175.0" cy="561.1" r="4.72"/>
<circle cx="1203.7" cy="556.8" r="4.72"/>
<circle cx="1221.5" cy="541.6" r="4.72"/>
<circle cx="1148.5" cy="461.8" r="4.72"/>
<circle cx="1192.2" cy="559.3" r="4.72"/>
<circle cx="1245.9" cy="561.9" r="4.72"/>
<circle cx="1148.5" cy="464.5" r="4.72"/>
<circle cx="1148.5" cy="628.7" r="4.72"/>
<circle cx="1232.8" cy="579.9" r="4.72"/>
<circle cx="1170.4" cy="601.0" r="4.72"/>
<circle cx="1171.4" cy="616.2" r="4.72"/>
<circle cx="1192.3" cy="551.1" r="4.72"/>
<circle cx="1154.5" cy="582.5" r="4.72"/>
<circle cx="1336.0" cy="585.1" r="4.72"/>
<circle cx="1153.2" cy="560.9" r="4.72"/>
<circle cx="1227.4" cy="619.8" r="4.72"/>
<circle cx="1189.6" cy="565.3" r="4.72"/>
<circle cx="1200.0" cy="603.6" r="4.72"/>
<circle cx="1148.5" cy="561.9" r="4.72"/>
<circle cx="1220.9" cy="526.8" r="4.72"/>
<circle cx="1247.0" cy="577.9" r="4.72"/>
<circle cx="1227.7" cy="630.4" r="4.72"/>
<circle cx="1166.8" cy="612.7" r="4.72"/>
<circle cx="1266.2" cy="631.4" r="4.72"/>
<circle cx="1205.6" cy="637.0" r="4.72"/>
<circle cx="1259.0" cy="637.0" r="4.72"/>
<circle cx="1156.9" cy="510.4" r="4.72"/>
<circle cx="1155.5" cy="529.2" r="4.72"/>
<circle cx="1257.6" cy="614.1" r="4.72"/>
<circle cx="1239.4" cy="584.7" r="4.72"/>
<circle cx="1251.6" cy="600.7" r="4.72"/>
<circle cx="1256.2" cy="606.8" r="4.72"/>
<circle cx="1199.8" cy="618.5" r="4.72"/>
<circle cx="1285.7" cy="612.9" r="4.72"/>
<circle cx="1203.6" cy="589.7" r="4.72"/>
<circle cx="1219.3" cy="606.3" r="4.72"/>
<circle cx="1171.6" cy="600.7" r="4.72"/>
<circle cx="1213.0" cy="562.8" r="4.72"/>
<circle cx="1195.0" cy="561.4" r="4.72"/>
<circle cx="1256.9" cy="580.8" r="4.72"/>
<circle cx="1148.5" cy="508.3" r="4.72"/>
<circle cx="1191.4" cy="597.1" r="4.72"/>
<circle cx="1271.7" cy="621.4" r="4.72"/>
<circle cx="1148.5" cy="474.2" r="4.72"/>
<circle cx="1226.9" cy="637.0" r="4.72"/>
<circle cx="1261.0" cy="570.0" r="4.72"/>
<circle cx="1305.7" cy="598.6" r="4.72"/>
<circle cx="1151.0" cy="479.0" r="4.72"/>
<circle cx="1216.0" cy="563.6" r="4.72"/>
<circle cx="1369.3" cy="575.6" r="4.72"/>
<circle cx="1202.3" cy="586.1" r="4.72"/>
<circle cx="1346.5" cy="567.8" r="4.72"/>
<circle cx="1148.5" cy="531.7" r="4.72"/>
<circle cx="1310.2" cy="584.8" r="4.72"/>
<circle cx="1271.8" cy="628.1" r="4.72"/>
<circle cx="1403.5" cy="623.7" r="4.72"/>
<circle cx="1223.1" cy="569.9" r="4.72"/>
<circle cx="1482.8" cy="583.1" r="4.72"/>
<circle cx="1252.5" cy="633.7" r="4.72"/>
<circle cx="1164.2" cy="569.5" r="4.72"/>
<circle cx="1300.8" cy="568.1" r="4.72"/>
<circle cx="1182.9" cy="614.5" r="4.72"/>
<circle cx="1270.4" cy="608.2" r="4.72"/>
<circle cx="1156.5" cy="576.5" r="4.72"/>
<circle cx="1399.0" cy="598.1" r="4.72"/>
<circle cx="1240.8" cy="554.9" r="4.72"/>
<circle cx="1148.5" cy="630.2" r="4.72"/>
<circle cx="1158.4" cy="494.8" r="4.72"/>
<circle cx="1148.5" cy="563.4" r="4.72"/>
<circle cx="1358.8" cy="575.5" r="4.72"/>
<circle cx="1163.6" cy="637.0" r="4.72"/>
<circle cx="1251.5" cy="549.2" r="4.72"/>
<circle cx="1148.5" cy="478.2" r="4.72"/>
<circle cx="1173.6" cy="568.1" r="4.72"/>
<circle cx="1232.8" cy="556.9" r="4.72"/>
<circle cx="1258.0" cy="561.8" r="4.72"/>
<circle cx="1148.8" cy="461.2" r="4.72"/>
<circle cx="1176.6" cy="551.3" r="4.72"/>
<circle cx="1370.8" cy="604.3" r="4.72"/>
<circle cx="1214.1" cy="560.9" r="4.72"/>
<circle cx="1245.6" cy="620.2" r="4.72"/>
<circle cx="1206.0" cy="604.3" r="4.72"/>
<circle cx="1199.7" cy="576.0" r="4.72"/>
<circle cx="1176.2" cy="587.6" r="4.72"/>
<circle cx="1289.0" cy="577.7" r="4.72"/>
<circle cx="1210.6" cy="543.1" r="4.72"/>
<circle cx="1148.5" cy="551.3" r="4.72"/>
<circle cx="1316.3" cy="596.9" r="4.72"/>
<circle cx="1155.0" cy="580.3" r="4.72"/>
<circle cx="1225.8" cy="578.8" r="4.72"/>
<circle cx="1154.8" cy="611.5" r="4.72"/>
<circle cx="1225.8" cy="563.4" r="4.72"/>
<circle cx="1169.3" cy="612.8" r="4.72"/>
<circle cx="1196.8" cy="596.0" r="4.72"/>
<circle cx="1157.5" cy="629.8" r="4.72"/>
<circle cx="1219.4" cy="602.6" r="4.72"/>
<circle cx="1212.2" cy="567.7" r="4.72"/>
<circle cx="1321.5" cy="567.9" r="4.72"/>
<circle cx="1268.6" cy="615.8" r="4.72"/>
<circle cx="1175.1" cy="579.9" r="4.72"/>
<circle cx="1174.0" cy="559.0" r="4.72"/>
<circle cx="1278.3" cy="612.5" r="4.72"/>
<circle cx="1167.5" cy="620.6" r="4.72"/>
<circle cx="1207.1" cy="635.8" r="4.72"/>
<circle cx="1247.0" cy="570.9" r="4.72"/>
<circle cx="1469.8" cy="601.8" r="4.72"/>
<circle cx="1249.9" cy="566.7" r="4.72"/>
<circle cx="1148.5" cy="456.7" r="4.72"/>
<circle cx="1197.2" cy="607.4" r="4.72"/>
<circle cx="1301.1" cy="614.4" r="4.72"/>
<circle cx="1256.8" cy="594.3" r="4.72"/>
<circle cx="1285.8" cy="598.5" r="4.72"/>
<circle cx="1148.5" cy="621.3" r="4.72"/>
<circle cx="1233.8" cy="584.8" r="4.72"/>
<circle cx="1204.2" cy="635.9" r="4.72"/>
<circle cx="1313.2" cy="605.2" r="4.72"/>
<circle cx="1187.8" cy="556.4" r="4.72"/>
<circle cx="1255.5" cy="550.2" r="4.72"/>
<circle cx="1221.4" cy="553.6" r="4.72"/>
<circle cx="1156.4" cy="637.0" r="4.72"/>
<circle cx="1206.2" cy="603.2" r="4.72"/>
<circle cx="1190.6" cy="570.7" r="4.72"/>
<circle cx="1185.4" cy="551.1" r="4.72"/>
<circle cx="1417.0" cy="579.8" r="4.72"/>
<circle cx="1182.3" cy="631.8" r="4.72"/>
<circle cx="1177.6" cy="565.7" r="4.72"/>
<circle cx="1358.2" cy="604.4" r="4.72"/>
<circle cx="1148.5" cy="11.5" r="4.72"/>
<circle cx="1148.5" cy="220.0" r="4.72"/>
<circle cx="1148.5" cy="324.0" r="4.72"/>
<circle cx="1148.5" cy="368.3" r="4.72"/>
<circle cx="1148.5" cy="386.3" r="4.72"/>
<circle cx="1148.5" cy="396.3" r="4.72"/>
<circle cx="1148.5" cy="401.7" r="4.72"/>
<circle cx="1148.5" cy="427.1" r="4.72"/>
<circle cx="1148.5" cy="437.0" r="4.72"/>
<circle cx="1148.5" cy="441.0" r="4.72"/>
<circle cx="1738.9" cy="599.5" r="4.72"/>
<circle cx="1792.3" cy="594.0" r="4.72"/>
<circle cx="1893.4" cy="595.0" r="4.72"/>
<circle cx="1899.5" cy="601.0" r="4.72"/>
<circle cx="393.7" cy="234.7" r="4.72"/>
<circle cx="399.7" cy="236.6" r="4.72"/>
<circle cx="373.3" cy="382.9" r="4.72"/>
<circle cx="409.5" cy="153.2" r="4.72"/>
<circle cx="403.8" cy="134.9" r="4.72"/>
<circle cx="384.6" cy="409.0" r="4.72"/>
<circle cx="384.9" cy="293.9" r="4.72"/>
<circle cx="397.0" cy="99.0" r="4.72"/>
<circle cx="414.2" cy="334.7" r="4.72"/>
<circle cx="370.8" cy="304.3" r="4.72"/>
<circle cx="414.1" cy="427.0" r="4.72"/>
<circle cx="426.0" cy="475.0" r="4.72"/>
<circle cx="419.6" cy="382.1" r="4.72"/>
<circle cx="404.0" cy="222.4" r="4.72"/>
<circle cx="411.4" cy="442.9" r="4.72"/>
<circle cx="389.8" cy="404.9" r="4.72"/>
<circle cx="421.6" cy="111.5" r="4.72"/>
<circle cx="402.2" cy="475.0" r="4.72"/>
<circle cx="402.1" cy="217.3" r="4.72"/>
<circle cx="370.0" cy="455.0" r="4.72"/>
<circle cx="406.8" cy="235.6" r="4.72"/>
<circle cx="375.3" cy="156.2" r="4.72"/>
<circle cx="429.6" cy="320.9" r="4.72"/>
<circle cx="389.7" cy="228.5" r="4.72"/>
<circle cx="403.2" cy="193.7" r="4.72"/>
<circle cx="375.3" cy="408.7" r="4.72"/>
<circle cx="401.2" cy="409.3" r="4.72"/>
<circle cx="370.0" cy="373.8" r="4.72"/>
<circle cx="379.9" cy="250.6" r="4.72"/>
<circle cx="403.3" cy="131.5" r="4.72"/>
<circle cx="371.0" cy="284.7" r="4.72"/>
<circle cx="419.3" cy="475.0" r="4.72"/>
<circle cx="419.8" cy="370.6" r="4.72"/>
<circle cx="423.5" cy="412.9" r="4.72"/>
<circle cx="382.1" cy="374.2" r="4.72"/>
<circle cx="430.0" cy="422.5" r="4.72"/>
<circle cx="370.0" cy="279.8" r="4.72"/>
<circle cx="374.7" cy="353.6" r="4.72"/>
<circle cx="389.7" cy="442.7" r="4.72"/>
<circle cx="379.6" cy="358.3" r="4.72"/>
<circle cx="370.0" cy="121.0" r="4.72"/>
<circle cx="370.0" cy="361.2" r="4.72"/>
<circle cx="405.6" cy="307.0" r="4.72"/>
<circle cx="405.8" cy="248.4" r="4.72"/>
<circle cx="403.4" cy="240.5" r="4.72"/>
<circle cx="374.5" cy="193.0" r="4.72"/>
<circle cx="401.3" cy="390.4" r="4.72"/>
<circle cx="396.4" cy="475.0" r="4.72"/>
<circle cx="407.9" cy="374.8" r="4.72"/>
<circle cx="405.3" cy="144.4" r="4.72"/>
<circle cx="416.1" cy="105.5" r="4.72"/>
<circle cx="408.3" cy="360.7" r="4.72"/>
<circle cx="384.1" cy="441.1" r="4.72"/>
<circle cx="403.0" cy="440.6" r="4.72"/>
<circle cx="414.4" cy="139.2" r="4.72"/>
<circle cx="407.9" cy="154.0" r="4.72"/>
<circle cx="406.5" cy="359.4" r="4.72"/>
<circle cx="370.0" cy="112.7" r="4.72"/>
<circle cx="370.0" cy="171.3" r="4.72"/>
<circle cx="426.4" cy="286.1" r="4.72"/>
<circle cx="416.2" cy="231.6" r="4.72"/>
<circle cx="423.9" cy="215.7" r="4.72"/>
<circle cx="389.8" cy="211.1" r="4.72"/>
<circle cx="404.7" cy="402.1" r="4.72"/>
<circle cx="411.2" cy="214.2" r="4.72"/>
<circle cx="370.0" cy="61.3" r="4.72"/>
<circle cx="406.7" cy="61.5" r="4.72"/>
<circle cx="389.7" cy="237.6" r="4.72"/>
<circle cx="417.8" cy="340.2" r="4.72"/>
<circle cx="370.7" cy="89.2" r="4.72"/>
<circle cx="375.8" cy="114.9" r="4.72"/>
<circle cx="370.0" cy="138.9" r="4.72"/>
<circle cx="401.6" cy="342.0" r="4.72"/>
<circle cx="384.8" cy="367.9" r="4.72"/>
<circle cx="370.0" cy="65.6" r="4.72"/>
<circle cx="410.8" cy="446.2" r="4.72"/>
<circle cx="389.1" cy="206.3" r="4.72"/>
<circle cx="386.3" cy="98.6" r="4.72"/>
<circle cx="398.2" cy="396.7" r="4.72"/>
<circle cx="371.5" cy="92.0" r="4.72"/>
<circle cx="388.8" cy="78.2" r="4.72"/>
<circle cx="405.5" cy="305.8" r="4.72"/>
<circle cx="408.7" cy="355.0" r="4.72"/>
<circle cx="401.9" cy="314.6" r="4.72"/>
<circle cx="384.8" cy="375.4" r="4.72"/>
<circle cx="388.8" cy="224.1" r="4.72"/>
<circle cx="418.6" cy="287.9" r="4.72"/>
<circle cx="417.3" cy="461.4" r="4.72"/>
<circle cx="383.5" cy="200.4" r="4.72"/>
<circle cx="370.0" cy="254.0" r="4.72"/>
<circle cx="407.5" cy="444.6" r="4.72"/>
<circle cx="421.0" cy="149.0" r="4.72"/>
<circle cx="414.2" cy="475.0" r="4.72"/>
<circle cx="370.0" cy="247.4" r="4.72"/>
<circle cx="409.3" cy="115.9" r="4.72"/>
<circle cx="370.0" cy="97.4" r="4.72"/>
<circle cx="370.0" cy="188.4" r="4.72"/>
<circle cx="372.2" cy="417.7" r="4.72"/>
<circle cx="389.3" cy="475.0" r="4.72"/>
<circle cx="377.0" cy="318.8" r="4.72"/>
<circle cx="408.7" cy="370.5" r="4.72"/>
<circle cx="385.3" cy="368.1" r="4.72"/>
<circle cx="383.8" cy="469.6" r="4.72"/>
<circle cx="396.7" cy="257.9" r="4.72"/>
<circle cx="387.3" cy="273.2" r="4.72"/>
<circle cx="423.0" cy="213.8" r="4.72"/>
<circle cx="401.9" cy="234.1" r="4.72"/>
<circle cx="374.4" cy="297.1" r="4.72"/>
<circle cx="417.5" cy="171.9" r="4.72"/>
<circle cx="378.9" cy="128.9" r="4.72"/>
<circle cx="394.4" cy="221.9" r="4.72"/>
<circle cx="389.3" cy="164.8" r="4.72"/>
<circle cx="390.8" cy="454.0" r="4.72"/>
<circle cx="397.3" cy="351.9" r="4.72"/>
<circle cx="370.7" cy="374.2" r="4.72"/>
<circle cx="381.1" cy="295.6" r="4.72"/>
<circle cx="417.1" cy="182.2" r="4.72"/>
<circle cx="400.8" cy="241.9" r="4.72"/>
<circle cx="403.0" cy="283.3" r="4.72"/>
<circle cx="396.4" cy="232.8" r="4.72"/>
<circle cx="394.4" cy="166.4" r="4.72"/>
<circle cx="401.5" cy="88.4" r="4.72"/>
<circle cx="403.4" cy="148.5" r="4.72"/>
<circle cx="393.6" cy="396.1" r="4.72"/>
<circle cx="405.1" cy="245.1" r="4.72"/>
<circle cx="393.9" cy="240.5" r="4.72"/>
<circle cx="371.0" cy="308.7" r="4.72"/>
<circle cx="403.0" cy="325.6" r="4.72"/>
<circle cx="420.9" cy="160.0" r="4.72"/>
<circle cx="413.1" cy="254.0" r="4.72"/>
<circle cx="394.7" cy="183.5" r="4.72"/>
<circle cx="413.9" cy="123.7" r="4.72"/>
<circle cx="405.5" cy="112.7" r="4.72"/>
<circle cx="376.6" cy="175.5" r="4.72"/>
<circle cx="412.2" cy="264.6" r="4.72"/>
<circle cx="393.5" cy="98.8" r="4.72"/>
<circle cx="372.5" cy="111.1" r="4.72"/>
<circle cx="380.8" cy="288.0" r="4.72"/>
<circle cx="375.5" cy="465.7" r="4.72"/>
<circle cx="389.0" cy="56.1" r="4.72"/>
<circle cx="421.0" cy="379.7" r="4.72"/>
<circle cx="379.6" cy="361.5" r="4.72"/>
<circle cx="389.8" cy="53.8" r="4.72"/>
<circle cx="399.7" cy="112.2" r="4.72"/>
<circle cx="376.0" cy="219.7" r="4.72"/>
<circle cx="401.4" cy="410.8" r="4.72"/>
<circle cx="370.0" cy="281.4" r="4.72"/>
<circle cx="371.5" cy="133.0" r="4.72"/>
<circle cx="370.0" cy="120.2" r="4.72"/>
<circle cx="372.8" cy="236.2" r="4.72"/>
<circle cx="417.0" cy="401.1" r="4.72"/>
<circle cx="398.2" cy="65.0" r="4.72"/>
<circle cx="424.4" cy="241.5" r="4.72"/>
<circle cx="391.5" cy="283.6" r="4.72"/>
<circle cx="412.8" cy="442.5" r="4.72"/>
<circle cx="401.9" cy="295.4" r="4.72"/>
<circle cx="400.2" cy="121.9" r="4.72"/>
<circle cx="398.0" cy="39.0" r="4.72"/>
<circle cx="400.0" cy="456.0" r="4.72"/>
<circle cx="406.0" cy="238.6" r="4.72"/>
<circle cx="370.0" cy="109.7" r="4.72"/>
<circle cx="406.6" cy="222.5" r="4.72"/>
<circle cx="372.8" cy="447.4" r="4.72"/>
<circle cx="400.5" cy="253.3" r="4.72"/>
<circle cx="370.0" cy="150.3" r="4.72"/>
<circle cx="387.5" cy="430.7" r="4.72"/>
<circle cx="373.7" cy="275.2" r="4.72"/>
<circle cx="403.2" cy="444.9" r="4.72"/>
<circle cx="417.2" cy="265.8" r="4.72"/>
<circle cx="370.0" cy="185.2" r="4.72"/>
<circle cx="408.0" cy="93.1" r="4.72"/>
<circle cx="423.3" cy="250.1" r="4.72"/>
<circle cx="395.5" cy="45.0" r="4.72"/>
<circle cx="404.3" cy="144.0" r="4.72"/>
<circle cx="375.4" cy="262.3" r="4.72"/>
<circle cx="378.2" cy="369.8" r="4.72"/>
<circle cx="371.4" cy="448.7" r="4.72"/>
<circle cx="421.1" cy="111.8" r="4.72"/>
<circle cx="385.7" cy="83.9" r="4.72"/>
<circle cx="381.9" cy="260.4" r="4.72"/>
<circle cx="416.3" cy="416.3" r="4.72"/>
<circle cx="370.0" cy="284.1" r="4.72"/>
<circle cx="370.0" cy="348.9" r="4.72"/>
<circle cx="370.0" cy="80.9" r="4.72"/>
<circle cx="398.7" cy="65.9" r="4.72"/>
<circle cx="383.8" cy="464.8" r="4.72"/>
<circle cx="414.7" cy="343.8" r="4.72"/>
<circle cx="371.1" cy="423.3" r="4.72"/>
<circle cx="405.9" cy="353.8" r="4.72"/>
<circle cx="400.3" cy="258.9" r="4.72"/>
<circle cx="382.7" cy="416.6" r="4.72"/>
<circle cx="391.5" cy="465.3" r="4.72"/>
<circle cx="417.1" cy="161.2" r="4.72"/>
<circle cx="393.9" cy="395.7" r="4.72"/>
<circle cx="418.4" cy="276.8" r="4.72"/>
<circle cx="373.3" cy="342.3" r="4.72"/>
<circle cx="370.0" cy="285.6" r="4.72"/>
<circle cx="424.3" cy="475.0" r="4.72"/>
<circle cx="396.4" cy="464.6" r="4.72"/>
<circle cx="375.3" cy="306.4" r="4.72"/>
<circle cx="409.3" cy="423.9" r="4.72"/>
<circle cx="377.9" cy="172.9" r="4.72"/>
<circle cx="397.8" cy="260.2" r="4.72"/>
<circle cx="413.8" cy="460.0" r="4.72"/>
<circle cx="374.4" cy="460.9" r="4.72"/>
<circle cx="394.4" cy="308.0" r="4.72"/>
<circle cx="423.1" cy="403.9" r="4.72"/>
<circle cx="373.6" cy="335.3" r="4.72"/>
<circle cx="380.7" cy="294.6" r="4.72"/>
<circle cx="429.0" cy="401.8" r="4.72"/>
<circle cx="398.4" cy="227.7" r="4.72"/>
<circle cx="370.0" cy="446.4" r="4.72"/>
<circle cx="397.2" cy="155.7" r="4.72"/>
<circle cx="392.3" cy="382.7" r="4.72"/>
<circle cx="407.6" cy="280.1" r="4.72"/>
<circle cx="370.0" cy="250.5" r="4.72"/>
<circle cx="410.9" cy="315.3" r="4.72"/>
<circle cx="391.6" cy="348.3" r="4.72"/>
<circle cx="400.0" cy="100.5" r="4.72"/>
<circle cx="385.2" cy="179.9" r="4.72"/>
<circle cx="390.6" cy="457.4" r="4.72"/>
<circle cx="371.6" cy="332.8" r="4.72"/>
<circle cx="421.2" cy="355.0" r="4.72"/>
<circle cx="424.5" cy="131.5" r="4.72"/>
<circle cx="396.2" cy="402.5" r="4.72"/>
<circle cx="377.4" cy="162.9" r="4.72"/>
<circle cx="421.8" cy="395.4" r="4.72"/>
<circle cx="389.9" cy="424.4" r="4.72"/>
<circle cx="377.9" cy="228.0" r="4.72"/>
<circle cx="407.7" cy="264.2" r="4.72"/>
<circle cx="398.1" cy="197.4" r="4.72"/>
<circle cx="412.4" cy="338.1" r="4.72"/>
<circle cx="370.0" cy="204.8" r="4.72"/>
<circle cx="421.7" cy="388.9" r="4.72"/>
<circle cx="408.8" cy="315.4" r="4.72"/>
<circle cx="395.5" cy="115.1" r="4.72"/>
<circle cx="382.8" cy="466.3" r="4.72"/>
<circle cx="377.9" cy="475.0" r="4.72"/>
<circle cx="370.0" cy="40.1" r="4.72"/>
<circle cx="428.0" cy="139.6" r="4.72"/>
<circle cx="412.5" cy="459.1" r="4.72"/>
<circle cx="417.6" cy="381.9" r="4.72"/>
<circle cx="421.7" cy="410.6" r="4.72"/>
<circle cx="419.4" cy="310.5" r="4.72"/>
<circle cx="379.8" cy="414.1" r="4.72"/>
<circle cx="370.0" cy="241.8" r="4.72"/>
<circle cx="400.3" cy="126.2" r="4.72"/>
<circle cx="373.1" cy="80.1" r="4.72"/>
<circle cx="418.7" cy="475.0" r="4.72"/>
<circle cx="370.3" cy="92.2" r="4.72"/>
<circle cx="399.2" cy="322.6" r="4.72"/>
<circle cx="392.5" cy="113.3" r="4.72"/>
<circle cx="403.9" cy="80.3" r="4.72"/>
<circle cx="390.7" cy="357.0" r="4.72"/>
<circle cx="390.5" cy="283.7" r="4.72"/>
<circle cx="384.9" cy="191.2" r="4.72"/>
<circle cx="401.2" cy="177.2" r="4.72"/>
<circle cx="411.1" cy="164.9" r="4.72"/>
<circle cx="386.3" cy="374.7" r="4.72"/>
<circle cx="370.0" cy="132.4" r="4.72"/>
<circle cx="374.1" cy="461.6" r="4.72"/>
<circle cx="396.3" cy="318.8" r="4.72"/>
<circle cx="376.7" cy="141.0" r="4.72"/>
<circle cx="410.9" cy="407.6" r="4.72"/>
<circle cx="388.2" cy="285.9" r="4.72"/>
<circle cx="406.1" cy="324.2" r="4.72"/>
<circle cx="381.5" cy="405.2" r="4.72"/>
<circle cx="385.8" cy="201.9" r="4.72"/>
<circle cx="371.5" cy="103.0" r="4.72"/>
<circle cx="377.0" cy="475.0" r="4.72"/>
<circle cx="389.5" cy="80.7" r="4.72"/>
<circle cx="417.9" cy="279.0" r="4.72"/>
<circle cx="394.0" cy="223.7" r="4.72"/>
<circle cx="421.4" cy="475.0" r="4.72"/>
<circle cx="412.1" cy="449.6" r="4.72"/>
<circle cx="416.6" cy="417.3" r="4.72"/>
<circle cx="403.9" cy="475.0" r="4.72"/>
<circle cx="386.7" cy="56.3" r="4.72"/>
<circle cx="386.6" cy="225.1" r="4.72"/>
<circle cx="406.9" cy="179.5" r="4.72"/>
<circle cx="425.1" cy="421.0" r="4.72"/>
<circle cx="423.9" cy="188.1" r="4.72"/>
<circle cx="427.1" cy="270.3" r="4.72"/>
<circle cx="383.1" cy="131.6" r="4.72"/>
<circle cx="370.0" cy="463.6" r="4.72"/>
<circle cx="404.2" cy="309.3" r="4.72"/>
<circle cx="392.1" cy="193.0" r="4.72"/>
<circle cx="370.0" cy="436.7" r="4.72"/>
<circle cx="422.2" cy="375.1" r="4.72"/>
<circle cx="395.9" cy="184.1" r="4.72"/>
<circle cx="421.3" cy="357.8" r="4.72"/>
<circle cx="408.0" cy="464.3" r="4.72"/>
<circle cx="422.1" cy="450.8" r="4.72"/>
<circle cx="383.5" cy="413.5" r="4.72"/>
<circle cx="383.4" cy="273.6" r="4.72"/>
<circle cx="394.1" cy="127.2" r="4.72"/>
<circle cx="400.9" cy="188.5" r="4.72"/>
<circle cx="373.5" cy="258.7" r="4.72"/>
<circle cx="409.4" cy="301.5" r="4.72"/>
<circle cx="386.0" cy="446.9" r="4.72"/>
<circle cx="419.9" cy="363.0" r="4.72"/>
<circle cx="370.0" cy="278.0" r="4.72"/>
<circle cx="370.0" cy="57.2" r="4.72"/>
<circle cx="419.4" cy="199.4" r="4.72"/>
<circle cx="398.9" cy="74.7" r="4.72"/>
<circle cx="418.0" cy="457.7" r="4.72"/>
<circle cx="379.8" cy="128.6" r="4.72"/>
<circle cx="387.3" cy="57.3" r="4.72"/>
<circle cx="418.6" cy="423.9" r="4.72"/>
<circle cx="382.5" cy="475.0" r="4.72"/>
<circle cx="378.2" cy="129.1" r="4.72"/>
<circle cx="384.3" cy="264.0" r="4.72"/>
<circle cx="373.9" cy="246.9" r="4.72"/>
<circle cx="394.8" cy="458.0" r="4.72"/>
<circle cx="370.0" cy="82.1" r="4.72"/>
<circle cx="373.8" cy="298.0" r="4.72"/>
<circle cx="374.9" cy="395.5" r="4.72"/>
<circle cx="401.7" cy="122.9" r="4.72"/>
<circle cx="420.3" cy="475.0" r="4.72"/>
<circle cx="405.0" cy="140.1" r="4.72"/>
<circle cx="377.1" cy="161.5" r="4.72"/>
<circle cx="373.7" cy="312.0" r="4.72"/>
<circle cx="371.0" cy="345.1" r="4.72"/>
<circle cx="388.4" cy="298.3" r="4.72"/>
<circle cx="428.5" cy="358.0" r="4.72"/>
<circle cx="410.3" cy="325.3" r="4.72"/>
<circle cx="376.7" cy="463.9" r="4.72"/>
<circle cx="380.8" cy="229.7" r="4.72"/>
<circle cx="417.6" cy="140.7" r="4.72"/>
<circle cx="379.0" cy="127.1" r="4.72"/>
<circle cx="384.8" cy="475.0" r="4.72"/>
<circle cx="370.2" cy="40.4" r="4.72"/>
<circle cx="389.2" cy="395.9" r="4.72"/>
<circle cx="382.5" cy="96.6" r="4.72"/>
<circle cx="374.1" cy="338.1" r="4.72"/>
<circle cx="407.3" cy="213.0" r="4.72"/>
<circle cx="376.3" cy="245.9" r="4.72"/>
<circle cx="370.0" cy="391.3" r="4.72"/>
<circle cx="405.5" cy="379.7" r="4.72"/>
<circle cx="370.0" cy="318.0" r="4.72"/>
<circle cx="391.9" cy="183.0" r="4.72"/>
<circle cx="370.0" cy="147.6" r="4.72"/>
<circle cx="375.0" cy="143.1" r="4.72"/>
<circle cx="379.8" cy="175.2" r="4.72"/>
<circle cx="421.9" cy="437.5" r="4.72"/>
<circle cx="404.7" cy="193.2" r="4.72"/>
<circle cx="409.8" cy="417.5" r="4.72"/>
<circle cx="382.9" cy="59.7" r="4.72"/>
<circle cx="370.0" cy="332.8" r="4.72"/>
<circle cx="400.8" cy="206.0" r="4.72"/>
<circle cx="382.9" cy="97.8" r="4.72"/>
<circle cx="386.5" cy="187.5" r="4.72"/>
<circle cx="370.8" cy="295.7" r="4.72"/>
<circle cx="370.0" cy="415.6" r="4.72"/>
<circle cx="373.5" cy="245.1" r="4.72"/>
<circle cx="396.2" cy="220.1" r="4.72"/>
<circle cx="403.8" cy="305.6" r="4.72"/>
<circle cx="424.4" cy="414.3" r="4.72"/>
<circle cx="417.0" cy="190.1" r="4.72"/>
<circle cx="386.1" cy="222.1" r="4.72"/>
<circle cx="404.0" cy="475.0" r="4.72"/>
<circle cx="370.0" cy="437.4" r="4.72"/>
<circle cx="386.5" cy="120.6" r="4.72"/>
<circle cx="421.3" cy="176.3" r="4.72"/>
<circle cx="412.3" cy="447.5" r="4.72"/>
<circle cx="395.5" cy="417.2" r="4.72"/>
<circle cx="419.4" cy="463.8" r="4.72"/>
<circle cx="404.7" cy="360.1" r="4.72"/>
<circle cx="370.0" cy="118.0" r="4.72"/>
<circle cx="388.9" cy="218.9" r="4.72"/>
<circle cx="403.5" cy="328.9" r="4.72"/>
<circle cx="385.9" cy="141.8" r="4.72"/>
<circle cx="412.2" cy="158.5" r="4.72"/>
<circle cx="407.7" cy="302.7" r="4.72"/>
<circle cx="370.0" cy="271.1" r="4.72"/>
<circle cx="392.4" cy="339.8" r="4.72"/>
<circle cx="412.0" cy="345.2" r="4.72"/>
<circle cx="381.5" cy="374.0" r="4.72"/>
<circle cx="409.7" cy="141.3" r="4.72"/>
<circle cx="416.7" cy="130.9" r="4.72"/>
<circle cx="406.9" cy="54.3" r="4.72"/>
<circle cx="401.1" cy="228.4" r="4.72"/>
<circle cx="400.8" cy="384.0" r="4.72"/>
<circle cx="370.0" cy="81.3" r="4.72"/>
<circle cx="415.1" cy="106.8" r="4.72"/>
<circle cx="396.8" cy="406.9" r="4.72"/>
<circle cx="383.8" cy="96.8" r="4.72"/>
<circle cx="389.0" cy="265.2" r="4.72"/>
<circle cx="370.0" cy="400.8" r="4.72"/>
<circle cx="376.2" cy="230.5" r="4.72"/>
<circle cx="420.6" cy="287.8" r="4.72"/>
<circle cx="370.0" cy="338.5" r="4.72"/>
<circle cx="410.1" cy="406.1" r="4.72"/>
<circle cx="378.6" cy="382.8" r="4.72"/>
<circle cx="406.8" cy="256.8" r="4.72"/>
<circle cx="403.5" cy="203.8" r="4.72"/>
<circle cx="419.4" cy="354.7" r="4.72"/>
<circle cx="400.7" cy="280.9" r="4.72"/>
<circle cx="370.0" cy="247.8" r="4.72"/>
<circle cx="403.6" cy="219.3" r="4.72"/>
<circle cx="371.4" cy="226.5" r="4.72"/>
<circle cx="387.5" cy="444.8" r="4.72"/>
<circle cx="415.9" cy="372.8" r="4.72"/>
<circle cx="396.1" cy="414.3" r="4.72"/>
<circle cx="413.8" cy="291.2" r="4.72"/>
<circle cx="395.3" cy="87.4" r="4.72"/>
<circle cx="372.2" cy="329.9" r="4.72"/>
<circle cx="394.5" cy="119.6" r="4.72"/>
<circle cx="418.5" cy="99.8" r="4.72"/>
<circle cx="378.5" cy="161.2" r="4.72"/>
<circle cx="370.8" cy="346.8" r="4.72"/>
<circle cx="416.9" cy="93.6" r="4.72"/>
<circle cx="390.7" cy="138.8" r="4.72"/>
<circle cx="414.5" cy="68.8" r="4.72"/>
<circle cx="382.7" cy="124.4" r="4.72"/>
<circle cx="384.8" cy="272.7" r="4.72"/>
<circle cx="371.1" cy="475.0" r="4.72"/>
<circle cx="393.2" cy="257.9" r="4.72"/>
<circle cx="389.2" cy="297.2" r="4.72"/>
<circle cx="388.5" cy="464.7" r="4.72"/>
<circle cx="396.5" cy="331.8" r="4.72"/>
<circle cx="410.4" cy="475.0" r="4.72"/>
<circle cx="409.8" cy="403.6" r="4.72"/>
<circle cx="397.0" cy="127.9" r="4.72"/>
<circle cx="377.0" cy="372.6" r="4.72"/>
<circle cx="408.9" cy="475.0" r="4.72"/>
<circle cx="370.0" cy="160.4" r="4.72"/>
<circle cx="387.0" cy="207.6" r="4.72"/>
<circle cx="412.3" cy="208.7" r="4.72"/>
<circle cx="371.8" cy="260.2" r="4.72"/>
<circle cx="370.0" cy="185.6" r="4.72"/>
<circle cx="428.8" cy="176.7" r="4.72"/>
<circle cx="370.0" cy="305.5" r="4.72"/>
<circle cx="393.0" cy="107.0" r="4.72"/>
<circle cx="404.9" cy="109.7" r="4.72"/>
<circle cx="418.4" cy="334.7" r="4.72"/>
<circle cx="387.1" cy="142.4" r="4.72"/>
<circle cx="379.8" cy="219.8" r="4.72"/>
<circle cx="378.5" cy="119.4" r="4.72"/>
<circle cx="393.3" cy="211.9" r="4.72"/>
<circle cx="419.0" cy="325.9" r="4.72"/>
<circle cx="370.0" cy="161.7" r="4.72"/>
<circle cx="397.1" cy="96.1" r="4.72"/>
<circle cx="387.7" cy="351.5" r="4.72"/>
<circle cx="420.8" cy="188.7" r="4.72"/>
<circle cx="416.1" cy="283.4" r="4.72"/>
<circle cx="385.9" cy="356.0" r="4.72"/>
<circle cx="407.3" cy="127.0" r="4.72"/>
<circle cx="387.2" cy="284.7" r="4.72"/>
<circle cx="374.5" cy="475.0" r="4.72"/>
<circle cx="383.3" cy="94.7" r="4.72"/>
<circle cx="410.8" cy="350.9" r="4.72"/>
<circle cx="380.4" cy="101.8" r="4.72"/>
<circle cx="393.6" cy="316.0" r="4.72"/>
<circle cx="390.6" cy="232.6" r="4.72"/>
<circle cx="404.2" cy="292.8" r="4.72"/>
<circle cx="370.1" cy="338.5" r="4.72"/>
<circle cx="382.8" cy="287.5" r="4.72"/>
<circle cx="381.5" cy="279.5" r="4.72"/>
<circle cx="373.8" cy="104.5" r="4.72"/>
<circle cx="415.9" cy="364.7" r="4.72"/>
<circle cx="373.4" cy="295.1" r="4.72"/>
<circle cx="410.9" cy="475.0" r="4.72"/>
<circle cx="370.0" cy="224.7" r="4.72"/>
<circle cx="416.2" cy="223.0" r="4.72"/>
<circle cx="381.4" cy="187.9" r="4.72"/>
<circle cx="398.9" cy="193.1" r="4.72"/>
<circle cx="429.2" cy="136.1" r="4.72"/>
<circle cx="379.1" cy="293.6" r="4.72"/>
<circle cx="408.2" cy="139.4" r="4.72"/>
<circle cx="377.3" cy="151.5" r="4.72"/>
<circle cx="371.0" cy="176.0" r="4.72"/>
<circle cx="391.2" cy="72.2" r="4.72"/>
<circle cx="392.1" cy="405.0" r="4.72"/>
<circle cx="396.6" cy="44.5" r="4.72"/>
<circle cx="392.7" cy="299.4" r="4.72"/>
<circle cx="382.3" cy="389.5" r="4.72"/>
<circle cx="376.0" cy="232.4" r="4.72"/>
<circle cx="382.7" cy="123.0" r="4.72"/>
<circle cx="373.2" cy="218.7" r="4.72"/>
<circle cx="404.2" cy="316.4" r="4.72"/>
<circle cx="393.9" cy="97.2" r="4.72"/>
<circle cx="395.8" cy="187.8" r="4.72"/>
<circle cx="386.6" cy="445.6" r="4.72"/>
<circle cx="370.0" cy="144.0" r="4.72"/>
<circle cx="372.9" cy="463.5" r="4.72"/>
<circle cx="405.8" cy="51.2" r="4.72"/>
<circle cx="404.1" cy="192.9" r="4.72"/>
<circle cx="396.3" cy="362.9" r="4.72"/>
<circle cx="380.6" cy="393.3" r="4.72"/>
<circle cx="393.1" cy="225.0" r="4.72"/>
<circle cx="430.8" cy="475.0" r="4.72"/>
<circle cx="418.8" cy="385.2" r="4.72"/>
<circle cx="393.7" cy="135.4" r="4.72"/>
<circle cx="423.6" cy="183.0" r="4.72"/>
<circle cx="399.5" cy="84.7" r="4.72"/>
<circle cx="386.2" cy="338.8" r="4.72"/>
<circle cx="378.6" cy="337.8" r="4.72"/>
<circle cx="374.4" cy="48.0" r="4.72"/>
<circle cx="400.3" cy="475.0" r="4.72"/>
<circle cx="386.5" cy="44.2" r="4.72"/>
<circle cx="414.0" cy="400.9" r="4.72"/>
<circle cx="394.8" cy="340.7" r="4.72"/>
<circle cx="374.0" cy="321.0" r="4.72"/>
<circle cx="413.1" cy="333.6" r="4.72"/>
<circle cx="372.1" cy="344.5" r="4.72"/>
<circle cx="396.6" cy="174.6" r="4.72"/>
<circle cx="394.7" cy="472.9" r="4.72"/>
<circle cx="381.0" cy="327.0" r="4.72"/>
<circle cx="399.9" cy="409.7" r="4.72"/>
<circle cx="382.3" cy="262.0" r="4.72"/>
<circle cx="370.6" cy="116.9" r="4.72"/>
<circle cx="412.3" cy="421.3" r="4.72"/>
<circle cx="374.3" cy="154.4" r="4.72"/>
<circle cx="411.8" cy="206.0" r="4.72"/>
<circle cx="425.8" cy="324.3" r="4.72"/>
<circle cx="391.5" cy="137.1" r="4.72"/>
<circle cx="370.0" cy="296.6" r="4.72"/>
<circle cx="411.2" cy="280.3" r="4.72"/>
<circle cx="398.5" cy="313.2" r="4.72"/>
<circle cx="396.1" cy="291.2" r="4.72"/>
<circle cx="375.1" cy="196.7" r="4.72"/>
<circle cx="419.8" cy="406.9" r="4.72"/>
<circle cx="400.4" cy="286.0" r="4.72"/>
<circle cx="412.0" cy="411.9" r="4.72"/>
<circle cx="412.3" cy="395.9" r="4.72"/>
<circle cx="380.0" cy="273.6" r="4.72"/>
<circle cx="413.9" cy="289.4" r="4.72"/>
<circle cx="401.2" cy="338.3" r="4.72"/>
<circle cx="370.0" cy="468.7" r="4.72"/>
<circle cx="370.0" cy="64.8" r="4.72"/>
<circle cx="418.2" cy="331.6" r="4.72"/>
<circle cx="370.0" cy="431.8" r="4.72"/>
<circle cx="375.7" cy="314.8" r="4.72"/>
<circle cx="392.7" cy="356.5" r="4.72"/>
<circle cx="425.6" cy="222.7" r="4.72"/>
<circle cx="382.9" cy="136.2" r="4.72"/>
<circle cx="370.0" cy="196.3" r="4.72"/>
<circle cx="410.8" cy="265.0" r="4.72"/>
<circle cx="374.1" cy="239.8" r="4.72"/>
<circle cx="370.0" cy="185.2" r="4.72"/>
<circle cx="399.2" cy="423.2" r="4.72"/>
<circle cx="381.6" cy="288.4" r="4.72"/>
<circle cx="404.0" cy="109.5" r="4.72"/>
<circle cx="404.9" cy="365.7" r="4.72"/>
<circle cx="418.2" cy="119.5" r="4.72"/>
<circle cx="409.8" cy="179.4" r="4.72"/>
<circle cx="405.7" cy="423.2" r="4.72"/>
<circle cx="370.1" cy="417.0" r="4.72"/>
<circle cx="417.5" cy="176.6" r="4.72"/>
<circle cx="397.0" cy="337.0" r="4.72"/>
<circle cx="379.6" cy="335.0" r="4.72"/>
<circle cx="419.9" cy="368.0" r="4.72"/>
<circle cx="416.4" cy="351.7" r="4.72"/>
<circle cx="370.0" cy="353.4" r="4.72"/>
<circle cx="390.4" cy="460.8" r="4.72"/>
<circle cx="370.0" cy="127.6" r="4.72"/>
<circle cx="389.9" cy="323.9" r="4.72"/>
<circle cx="409.7" cy="395.7" r="4.72"/>
<circle cx="406.4" cy="278.6" r="4.72"/>
<circle cx="390.6" cy="424.0" r="4.72"/>
<circle cx="400.3" cy="71.2" r="4.72"/>
<circle cx="370.0" cy="378.8" r="4.72"/>
<circle cx="409.4" cy="424.0" r="4.72"/>
<circle cx="396.3" cy="379.5" r="4.72"/>
<circle cx="377.1" cy="405.7" r="4.72"/>
<circle cx="413.0" cy="462.9" r="4.72"/>
<circle cx="419.7" cy="169.2" r="4.72"/>
<circle cx="386.0" cy="361.7" r="4.72"/>
<circle cx="373.8" cy="113.3" r="4.72"/>
<circle cx="406.0" cy="447.5" r="4.72"/>
<circle cx="412.4" cy="269.0" r="4.72"/>
<circle cx="393.0" cy="244.0" r="4.72"/>
<circle cx="370.0" cy="65.4" r="4.72"/>
<circle cx="423.5" cy="353.8" r="4.72"/>
<circle cx="401.8" cy="475.0" r="4.72"/>
<circle cx="408.2" cy="225.1" r="4.72"/>
<circle cx="370.7" cy="414.4" r="4.72"/>
<circle cx="387.6" cy="475.0" r="4.72"/>
<circle cx="371.3" cy="292.8" r="4.72"/>
<circle cx="405.0" cy="327.2" r="4.72"/>
<circle cx="400.1" cy="273.2" r="4.72"/>
<circle cx="399.3" cy="357.9" r="4.72"/>
<circle cx="420.0" cy="188.0" r="4.72"/>
<circle cx="423.5" cy="194.0" r="4.72"/>
<circle cx="384.8" cy="417.9" r="4.72"/>
<circle cx="411.0" cy="229.9" r="4.72"/>
<circle cx="370.0" cy="391.7" r="4.72"/>
<circle cx="421.7" cy="248.1" r="4.72"/>
<circle cx="370.0" cy="179.9" r="4.72"/>
<circle cx="387.8" cy="170.9" r="4.72"/>
<circle cx="380.5" cy="158.8" r="4.72"/>
<circle cx="370.0" cy="101.8" r="4.72"/>
<circle cx="403.4" cy="176.7" r="4.72"/>
<circle cx="423.2" cy="465.9" r="4.72"/>
<circle cx="417.7" cy="393.2" r="4.72"/>
<circle cx="392.1" cy="213.3" r="4.72"/>
<circle cx="378.0" cy="92.5" r="4.72"/>
<circle cx="411.2" cy="144.7" r="4.72"/>
<circle cx="394.3" cy="284.9" r="4.72"/>
<circle cx="423.9" cy="154.0" r="4.72"/>
<circle cx="370.0" cy="97.1" r="4.72"/>
<circle cx="411.8" cy="473.3" r="4.72"/>
<circle cx="395.9" cy="319.0" r="4.72"/>
<circle cx="400.0" cy="198.9" r="4.72"/>
<circle cx="378.1" cy="119.6" r="4.72"/>
<circle cx="411.8" cy="391.5" r="4.72"/>
<circle cx="407.3" cy="77.2" r="4.72"/>
<circle cx="386.1" cy="410.8" r="4.72"/>
<circle cx="370.0" cy="259.8" r="4.72"/>
<circle cx="408.9" cy="143.6" r="4.72"/>
<circle cx="395.4" cy="322.3" r="4.72"/>
<circle cx="401.1" cy="284.3" r="4.72"/>
<circle cx="372.5" cy="277.0" r="4.72"/>
<circle cx="389.1" cy="218.6" r="4.72"/>
<circle cx="404.5" cy="127.0" r="4.72"/>
<circle cx="408.8" cy="294.9" r="4.72"/>
<circle cx="379.0" cy="180.8" r="4.72"/>
<circle cx="374.2" cy="109.9" r="4.72"/>
<circle cx="406.3" cy="475.0" r="4.72"/>
<circle cx="408.8" cy="301.4" r="4.72"/>
<circle cx="370.2" cy="266.5" r="4.72"/>
<circle cx="423.4" cy="371.9" r="4.72"/>
<circle cx="391.0" cy="260.2" r="4.72"/>
<circle cx="387.9" cy="199.6" r="4.72"/>
<circle cx="370.0" cy="190.1" r="4.72"/>
<circle cx="394.4" cy="419.3" r="4.72"/>
<circle cx="390.8" cy="177.4" r="4.72"/>
<circle cx="376.3" cy="184.1" r="4.72"/>
<circle cx="382.8" cy="159.1" r="4.72"/>
<circle cx="423.8" cy="110.3" r="4.72"/>
<circle cx="370.0" cy="238.8" r="4.72"/>
<circle cx="399.1" cy="108.8" r="4.72"/>
<circle cx="380.5" cy="362.7" r="4.72"/>
<circle cx="380.1" cy="475.0" r="4.72"/>
<circle cx="388.0" cy="325.5" r="4.72"/>
<circle cx="401.4" cy="378.1" r="4.72"/>
<circle cx="370.0" cy="227.5" r="4.72"/>
<circle cx="381.9" cy="431.8" r="4.72"/>
<circle cx="391.3" cy="445.8" r="4.72"/>
<circle cx="370.0" cy="143.5" r="4.72"/>
<circle cx="403.4" cy="73.9" r="4.72"/>
<circle cx="391.9" cy="348.2" r="4.72"/>
<circle cx="373.5" cy="65.4" r="4.72"/>
<circle cx="373.6" cy="373.2" r="4.72"/>
<circle cx="407.6" cy="393.3" r="4.72"/>
<circle cx="411.9" cy="335.0" r="4.72"/>
<circle cx="402.0" cy="218.5" r="4.72"/>
<circle cx="370.0" cy="110.4" r="4.72"/>
<circle cx="420.7" cy="183.2" r="4.72"/>
<circle cx="412.3" cy="241.4" r="4.72"/>
<circle cx="379.8" cy="315.5" r="4.72"/>
<circle cx="424.3" cy="249.2" r="4.72"/>
<circle cx="426.5" cy="475.0" r="4.72"/>
<circle cx="400.7" cy="176.0" r="4.72"/>
<circle cx="427.4" cy="475.0" r="4.72"/>
<circle cx="394.8" cy="277.4" r="4.72"/>
<circle cx="405.2" cy="47.9" r="4.72"/>
<circle cx="370.0" cy="154.1" r="4.72"/>
<circle cx="411.8" cy="39.0" r="4.72"/>
<circle cx="409.4" cy="175.7" r="4.72"/>
<circle cx="423.9" cy="475.0" r="4.72"/>
<circle cx="400.1" cy="186.6" r="4.72"/>
<circle cx="421.4" cy="161.8" r="4.72"/>
<circle cx="426.8" cy="131.8" r="4.72"/>
<circle cx="402.2" cy="419.5" r="4.72"/>
<circle cx="375.6" cy="208.9" r="4.72"/>
<circle cx="428.7" cy="279.4" r="4.72"/>
<circle cx="374.6" cy="127.3" r="4.72"/>
<circle cx="395.3" cy="353.5" r="4.72"/>
<circle cx="405.2" cy="386.4" r="4.72"/>
<circle cx="382.4" cy="211.5" r="4.72"/>
<circle cx="401.0" cy="101.2" r="4.72"/>
<circle cx="385.5" cy="142.7" r="4.72"/>
<circle cx="378.0" cy="275.7" r="4.72"/>
<circle cx="399.2" cy="271.2" r="4.72"/>
<circle cx="394.4" cy="363.6" r="4.72"/>
<circle cx="394.8" cy="162.5" r="4.72"/>
<circle cx="396.5" cy="114.3" r="4.72"/>
<circle cx="404.1" cy="62.2" r="4.72"/>
<circle cx="384.3" cy="275.8" r="4.72"/>
<circle cx="406.9" cy="374.6" r="4.72"/>
<circle cx="382.0" cy="334.5" r="4.72"/>
<circle cx="398.5" cy="117.3" r="4.72"/>
<circle cx="388.0" cy="182.2" r="4.72"/>
<circle cx="425.3" cy="318.2" r="4.72"/>
<circle cx="376.8" cy="293.7" r="4.72"/>
<circle cx="383.2" cy="475.0" r="4.72"/>
<circle cx="403.3" cy="273.0" r="4.72"/>
<circle cx="370.0" cy="136.7" r="4.72"/>
<circle cx="370.0" cy="111.9" r="4.72"/>
<circle cx="386.9" cy="83.7" r="4.72"/>
<circle cx="413.3" cy="311.6" r="4.72"/>
<circle cx="370.0" cy="329.4" r="4.72"/>
<circle cx="403.5" cy="383.7" r="4.72"/>
<circle cx="370.0" cy="272.4" r="4.72"/>
<circle cx="422.2" cy="180.0" r="4.72"/>
<circle cx="421.3" cy="339.5" r="4.72"/>
<circle cx="401.9" cy="234.5" r="4.72"/>
<circle cx="370.0" cy="444.7" r="4.72"/>
<circle cx="413.1" cy="115.4" r="4.72"/>
<circle cx="418.3" cy="378.2" r="4.72"/>
<circle cx="374.7" cy="472.6" r="4.72"/>
<circle cx="405.3" cy="323.5" r="4.72"/>
<circle cx="412.9" cy="67.4" r="4.72"/>
<circle cx="384.6" cy="422.0" r="4.72"/>
<circle cx="423.2" cy="132.1" r="4.72"/>
<circle cx="412.4" cy="254.3" r="4.72"/>
<circle cx="370.0" cy="235.8" r="4.72"/>
<circle cx="381.9" cy="202.4" r="4.72"/>
<circle cx="379.3" cy="216.2" r="4.72"/>
<circle cx="415.3" cy="364.2" r="4.72"/>
<circle cx="399.1" cy="437.5" r="4.72"/>
<circle cx="406.9" cy="186.7" r="4.72"/>
<circle cx="383.3" cy="341.7" r="4.72"/>
<circle cx="378.9" cy="210.6" r="4.72"/>
<circle cx="383.0" cy="388.6" r="4.72"/>
<circle cx="372.6" cy="329.8" r="4.72"/>
<circle cx="370.0" cy="443.6" r="4.72"/>
<circle cx="385.7" cy="77.0" r="4.72"/>
<circle cx="428.8" cy="176.0" r="4.72"/>
<circle cx="401.8" cy="453.2" r="4.72"/>
<circle cx="399.9" cy="100.3" r="4.72"/>
<circle cx="420.8" cy="453.2" r="4.72"/>
<circle cx="413.5" cy="439.7" r="4.72"/>
<circle cx="395.5" cy="106.3" r="4.72"/>
<circle cx="375.0" cy="128.3" r="4.72"/>
<circle cx="385.4" cy="86.4" r="4.72"/>
<circle cx="370.1" cy="153.7" r="4.72"/>
<circle cx="373.4" cy="86.9" r="4.72"/>
<circle cx="401.9" cy="133.5" r="4.72"/>
<circle cx="386.8" cy="227.1" r="4.72"/>
<circle cx="409.0" cy="284.4" r="4.72"/>
<circle cx="380.3" cy="52.4" r="4.72"/>
<circle cx="402.3" cy="341.3" r="4.72"/>
<circle cx="394.2" cy="180.0" r="4.72"/>
<circle cx="402.7" cy="159.1" r="4.72"/>
<circle cx="371.5" cy="475.0" r="4.72"/>
<circle cx="372.3" cy="129.3" r="4.72"/>
<circle cx="406.1" cy="351.2" r="4.72"/>
<circle cx="394.5" cy="392.1" r="4.72"/>
<circle cx="411.2" cy="154.6" r="4.72"/>
<circle cx="394.1" cy="320.9" r="4.72"/>
<circle cx="381.8" cy="120.7" r="4.72"/>
<circle cx="376.2" cy="180.2" r="4.72"/>
<circle cx="370.5" cy="114.0" r="4.72"/>
<circle cx="378.6" cy="294.1" r="4.72"/>
<circle cx="412.8" cy="107.4" r="4.72"/>
<circle cx="400.0" cy="64.7" r="4.72"/>
<circle cx="370.0" cy="210.9" r="4.72"/>
<circle cx="389.2" cy="56.8" r="4.72"/>
<circle cx="370.0" cy="196.5" r="4.72"/>
<circle cx="375.8" cy="49.7" r="4.72"/>
<circle cx="379.9" cy="116.2" r="4.72"/>
<circle cx="370.0" cy="318.6" r="4.72"/>
<circle cx="411.6" cy="126.9" r="4.72"/>
<circle cx="372.7" cy="434.8" r="4.72"/>
<circle cx="388.1" cy="404.4" r="4.72"/>
<circle cx="385.2" cy="448.4" r="4.72"/>
<circle cx="420.5" cy="388.0" r="4.72"/>
<circle cx="401.4" cy="348.3" r="4.72"/>
<circle cx="419.9" cy="344.9" r="4.72"/>
<circle cx="384.1" cy="182.3" r="4.72"/>
<circle cx="412.6" cy="147.7" r="4.72"/>
<circle cx="421.5" cy="239.4" r="4.72"/>
<circle cx="371.7" cy="212.4" r="4.72"/>
<circle cx="370.0" cy="427.0" r="4.72"/>
<circle cx="370.0" cy="342.3" r="4.72"/>
<circle cx="399.5" cy="172.5" r="4.72"/>
<circle cx="389.0" cy="39.0" r="4.72"/>
<circle cx="370.5" cy="390.3" r="4.72"/>
<circle cx="414.9" cy="158.6" r="4.72"/>
<circle cx="388.9" cy="48.3" r="4.72"/>
<circle cx="386.4" cy="171.4" r="4.72"/>
<circle cx="406.6" cy="276.3" r="4.72"/>
<circle cx="381.3" cy="212.1" r="4.72"/>
<circle cx="375.9" cy="237.6" r="4.72"/>
<circle cx="370.0" cy="251.4" r="4.72"/>
<circle cx="380.9" cy="286.2" r="4.72"/>
<circle cx="389.0" cy="112.6" r="4.72"/>
<circle cx="408.4" cy="115.0" r="4.72"/>
<circle cx="383.3" cy="417.8" r="4.72"/>
<circle cx="370.0" cy="454.5" r="4.72"/>
<circle cx="370.0" cy="224.9" r="4.72"/>
<circle cx="407.8" cy="68.6" r="4.72"/>
<circle cx="411.9" cy="382.6" r="4.72"/>
<circle cx="370.9" cy="124.0" r="4.72"/>
<circle cx="426.7" cy="170.2" r="4.72"/>
<circle cx="408.6" cy="427.7" r="4.72"/>
<circle cx="388.8" cy="345.8" r="4.72"/>
<circle cx="376.0" cy="404.1" r="4.72"/>
<circle cx="418.0" cy="326.0" r="4.72"/>
<circle cx="382.6" cy="210.5" r="4.72"/>
<circle cx="402.7" cy="279.9" r="4.72"/>
<circle cx="422.2" cy="177.5" r="4.72"/>
<circle cx="417.6" cy="148.6" r="4.72"/>
<circle cx="411.5" cy="231.9" r="4.72"/>
<circle cx="426.1" cy="209.1" r="4.72"/>
<circle cx="404.6" cy="440.8" r="4.72"/>
<circle cx="397.9" cy="362.7" r="4.72"/>
<circle cx="414.1" cy="342.3" r="4.72"/>
<circle cx="373.2" cy="190.1" r="4.72"/>
<circle cx="396.0" cy="284.1" r="4.72"/>
<circle cx="403.1" cy="282.1" r="4.72"/>
<circle cx="397.9" cy="395.0" r="4.72"/>
<circle cx="381.1" cy="388.3" r="4.72"/>
<circle cx="411.5" cy="186.7" r="4.72"/>
<circle cx="399.4" cy="125.3" r="4.72"/>
<circle cx="386.1" cy="475.0" r="4.72"/>
<circle cx="397.9" cy="164.7" r="4.72"/>
<circle cx="371.6" cy="158.4" r="4.72"/>
<circle cx="373.4" cy="296.2" r="4.72"/>
<circle cx="424.0" cy="120.1" r="4.72"/>
<circle cx="417.4" cy="455.3" r="4.72"/>
<circle cx="400.7" cy="216.9" r="4.72"/>
<circle cx="372.4" cy="336.5" r="4.72"/>
<circle cx="399.0" cy="286.8" r="4.72"/>
<circle cx="421.7" cy="295.3" r="4.72"/>
<circle cx="426.0" cy="470.0" r="4.72"/>
<circle cx="393.6" cy="391.7" r="4.72"/>
<circle cx="418.8" cy="224.6" r="4.72"/>
<circle cx="370.0" cy="62.5" r="4.72"/>
<circle cx="391.9" cy="434.6" r="4.72"/>
<circle cx="370.0" cy="363.2" r="4.72"/>
<circle cx="420.4" cy="407.5" r="4.72"/>
<circle cx="417.9" cy="152.3" r="4.72"/>
<circle cx="370.0" cy="349.4" r="4.72"/>
<circle cx="417.0" cy="261.1" r="4.72"/>
<circle cx="378.2" cy="164.5" r="4.72"/>
<circle cx="423.7" cy="80.5" r="4.72"/>
<circle cx="380.1" cy="288.1" r="4.72"/>
<circle cx="385.2" cy="152.8" r="4.72"/>
<circle cx="417.0" cy="435.2" r="4.72"/>
<circle cx="402.7" cy="324.9" r="4.72"/>
<circle cx="372.5" cy="185.1" r="4.72"/>
<circle cx="371.9" cy="335.4" r="4.72"/>
<circle cx="398.0" cy="445.0" r="4.72"/>
<circle cx="397.9" cy="432.8" r="4.72"/>
<circle cx="385.9" cy="360.4" r="4.72"/>
<circle cx="426.8" cy="435.8" r="4.72"/>
<circle cx="409.9" cy="398.9" r="4.72"/>
<circle cx="396.6" cy="466.0" r="4.72"/>
<circle cx="374.5" cy="475.0" r="4.72"/>
<circle cx="420.1" cy="194.6" r="4.72"/>
<circle cx="387.6" cy="340.0" r="4.72"/>
<circle cx="370.0" cy="446.7" r="4.72"/>
<circle cx="377.6" cy="87.7" r="4.72"/>
<circle cx="398.2" cy="326.4" r="4.72"/>
<circle cx="401.6" cy="427.5" r="4.72"/>
<circle cx="383.6" cy="370.3" r="4.72"/>
<circle cx="381.4" cy="337.5" r="4.72"/>
<circle cx="395.7" cy="316.7" r="4.72"/>
<circle cx="397.3" cy="378.5" r="4.72"/>
<circle cx="394.6" cy="236.5" r="4.72"/>
<circle cx="389.2" cy="155.5" r="4.72"/>
<circle cx="370.0" cy="194.5" r="4.72"/>
<circle cx="387.3" cy="238.5" r="4.72"/>
<circle cx="388.5" cy="133.4" r="4.72"/>
<circle cx="415.8" cy="458.8" r="4.72"/>
<circle cx="398.3" cy="198.9" r="4.72"/>
<circle cx="372.0" cy="39.0" r="4.72"/>
<circle cx="387.8" cy="458.5" r="4.72"/>
<circle cx="381.1" cy="303.9" r="4.72"/>
<circle cx="413.1" cy="385.3" r="4.72"/>
<circle cx="389.2" cy="73.9" r="4.72"/>
<circle cx="393.2" cy="175.0" r="4.72"/>
<circle cx="396.3" cy="296.4" r="4.72"/>
<circle cx="383.7" cy="287.7" r="4.72"/>
<circle cx="425.8" cy="372.0" r="4.72"/>
<circle cx="386.3" cy="475.0" r="4.72"/>
<circle cx="371.8" cy="437.3" r="4.72"/>
<circle cx="393.7" cy="475.0" r="4.72"/>
<circle cx="411.7" cy="258.9" r="4.72"/>
<circle cx="416.1" cy="382.9" r="4.72"/>
<circle cx="416.0" cy="383.7" r="4.72"/>
<circle cx="389.9" cy="209.0" r="4.72"/>
<circle cx="375.2" cy="175.8" r="4.72"/>
<circle cx="370.0" cy="69.5" r="4.72"/>
<circle cx="402.3" cy="400.0" r="4.72"/>
<circle cx="398.9" cy="440.9" r="4.72"/>
<circle cx="403.6" cy="382.4" r="4.72"/>
<circle cx="375.5" cy="277.6" r="4.72"/>
<circle cx="388.7" cy="138.5" r="4.72"/>
<circle cx="376.0" cy="433.4" r="4.72"/>
<circle cx="416.6" cy="147.3" r="4.72"/>
<circle cx="370.0" cy="346.9" r="4.72"/>
<circle cx="394.4" cy="328.4" r="4.72"/>
<circle cx="414.2" cy="368.6" r="4.72"/>
<circle cx="419.7" cy="83.5" r="4.72"/>
<circle cx="407.1" cy="234.3" r="4.72"/>
<circle cx="400.2" cy="103.6" r="4.72"/>
<circle cx="413.1" cy="285.0" r="4.72"/>
<circle cx="420.2" cy="166.1" r="4.72"/>
<circle cx="397.3" cy="276.3" r="4.72"/>
<circle cx="370.0" cy="457.2" r="4.72"/>
<circle cx="389.4" cy="60.5" r="4.72"/>
<circle cx="400.4" cy="431.3" r="4.72"/>
<circle cx="376.0" cy="438.5" r="4.72"/>
<circle cx="384.4" cy="259.4" r="4.72"/>
<circle cx="417.3" cy="375.8" r="4.72"/>
<circle cx="370.0" cy="102.0" r="4.72"/>
<circle cx="374.5" cy="372.1" r="4.72"/>
<circle cx="376.1" cy="314.7" r="4.72"/>
<circle cx="428.8" cy="197.1" r="4.72"/>
<circle cx="424.0" cy="386.3" r="4.72"/>
<circle cx="390.9" cy="432.0" r="4.72"/>
<circle cx="422.0" cy="210.3" r="4.72"/>
<circle cx="398.2" cy="58.9" r="4.72"/>
<circle cx="415.5" cy="417.6" r="4.72"/>
<circle cx="383.3" cy="271.9" r="4.72"/>
<circle cx="386.6" cy="394.1" r="4.72"/>
<circle cx="372.5" cy="206.3" r="4.72"/>
<circle cx="409.0" cy="96.7" r="4.72"/>
<circle cx="396.5" cy="184.3" r="4.72"/>
<circle cx="374.1" cy="176.8" r="4.72"/>
<circle cx="406.6" cy="172.6" r="4.72"/>
<circle cx="419.7" cy="333.1" r="4.72"/>
<circle cx="409.0" cy="104.5" r="4.72"/>
<circle cx="374.1" cy="182.4" r="4.72"/>
<circle cx="370.0" cy="462.9" r="4.72"/>
<circle cx="370.6" cy="475.0" r="4.72"/>
<circle cx="401.4" cy="44.9" r="4.72"/>
<circle cx="400.5" cy="204.1" r="4.72"/>
<circle cx="370.0" cy="375.2" r="4.72"/>
<circle cx="414.3" cy="170.5" r="4.72"/>
<circle cx="378.8" cy="455.7" r="4.72"/>
<circle cx="404.7" cy="61.7" r="4.72"/>
<circle cx="384.8" cy="351.3" r="4.72"/>
<circle cx="398.3" cy="416.9" r="4.72"/>
<circle cx="406.3" cy="91.7" r="4.72"/>
<circle cx="399.6" cy="397.9" r="4.72"/>
<circle cx="403.5" cy="391.9" r="4.72"/>
<circle cx="394.1" cy="423.2" r="4.72"/>
<circle cx="377.4" cy="439.5" r="4.72"/>
<circle cx="396.0" cy="210.6" r="4.72"/>
<circle cx="397.1" cy="251.1" r="4.72"/>
<circle cx="398.1" cy="411.4" r="4.72"/>
<circle cx="403.7" cy="148.2" r="4.72"/>
<circle cx="417.3" cy="232.2" r="4.72"/>
<circle cx="370.0" cy="349.9" r="4.72"/>
<circle cx="416.2" cy="136.3" r="4.72"/>
<circle cx="380.4" cy="456.9" r="4.72"/>
<circle cx="376.5" cy="312.5" r="4.72"/>
<circle cx="383.7" cy="274.1" r="4.72"/>
<circle cx="391.5" cy="122.6" r="4.72"/>
<circle cx="372.7" cy="409.4" r="4.72"/>
<circle cx="370.0" cy="471.0" r="4.72"/>
<circle cx="392.7" cy="291.7" r="4.72"/>
<circle cx="371.2" cy="403.1" r="4.72"/>
<circle cx="406.4" cy="344.9" r="4.72"/>
<circle cx="425.6" cy="475.0" r="4.72"/>
<circle cx="409.0" cy="221.0" r="4.72"/>
<circle cx="375.8" cy="120.0" r="4.72"/>
<circle cx="418.4" cy="140.3" r="4.72"/>
<circle cx="370.0" cy="299.6" r="4.72"/>
<circle cx="406.5" cy="149.8" r="4.72"/>
<circle cx="402.6" cy="424.1" r="4.72"/>
<circle cx="389.5" cy="401.6" r="4.72"/>
<circle cx="415.1" cy="154.7" r="4.72"/>
<circle cx="379.5" cy="223.0" r="4.72"/>
<circle cx="376.5" cy="362.4" r="4.72"/>
<circle cx="396.6" cy="171.2" r="4.72"/>
<circle cx="404.8" cy="141.7" r="4.72"/>
<circle cx="425.5" cy="453.8" r="4.72"/>
<circle cx="405.4" cy="243.2" r="4.72"/>
<circle cx="403.3" cy="126.6" r="4.72"/>
<circle cx="401.0" cy="55.8" r="4.72"/>
<circle cx="405.0" cy="208.5" r="4.72"/>
<circle cx="370.0" cy="379.6" r="4.72"/>
<circle cx="417.3" cy="318.0" r="4.72"/>
<circle cx="385.3" cy="306.7" r="4.72"/>
<circle cx="382.0" cy="184.6" r="4.72"/>
<circle cx="386.5" cy="177.3" r="4.72"/>
<circle cx="389.8" cy="342.7" r="4.72"/>
<circle cx="397.1" cy="178.5" r="4.72"/>
<circle cx="378.2" cy="264.2" r="4.72"/>
<circle cx="385.9" cy="51.8" r="4.72"/>
<circle cx="421.0" cy="368.0" r="4.72"/>
<circle cx="411.5" cy="406.0" r="4.72"/>
<circle cx="382.8" cy="91.7" r="4.72"/>
<circle cx="415.4" cy="322.5" r="4.72"/>
<circle cx="405.9" cy="179.8" r="4.72"/>
<circle cx="371.3" cy="236.2" r="4.72"/>
<circle cx="408.0" cy="367.5" r="4.72"/>
<circle cx="392.4" cy="65.2" r="4.72"/>
<circle cx="372.9" cy="362.7" r="4.72"/>
<circle cx="413.9" cy="463.3" r="4.72"/>
<circle cx="380.2" cy="342.1" r="4.72"/>
<circle cx="370.0" cy="313.3" r="4.72"/>
<circle cx="392.3" cy="294.8" r="4.72"/>
<circle cx="370.0" cy="466.1" r="4.72"/>
<circle cx="379.4" cy="172.3" r="4.72"/>
<circle cx="421.5" cy="282.1" r="4.72"/>
<circle cx="370.0" cy="86.7" r="4.72"/>
<circle cx="411.7" cy="171.5" r="4.72"/>
<circle cx="410.7" cy="370.9" r="4.72"/>
<circle cx="410.2" cy="286.1" r="4.72"/>
<circle cx="424.3" cy="243.4" r="4.72"/>
<circle cx="401.8" cy="357.3" r="4.72"/>
<circle cx="413.7" cy="461.8" r="4.72"/>
<circle cx="381.1" cy="350.0" r="4.72"/>
<circle cx="379.1" cy="198.0" r="4.72"/>
<circle cx="406.4" cy="358.7" r="4.72"/>
<circle cx="398.2" cy="75.6" r="4.72"/>
<circle cx="394.5" cy="460.1" r="4.72"/>
<circle cx="400.6" cy="475.0" r="4.72"/>
<circle cx="384.8" cy="267.3" r="4.72"/>
<circle cx="411.2" cy="173.3" r="4.72"/>
<circle cx="385.2" cy="321.5" r="4.72"/>
<circle cx="389.1" cy="43.0" r="4.72"/>
<circle cx="391.7" cy="104.3" r="4.72"/>
<circle cx="385.3" cy="443.1" r="4.72"/>
<circle cx="378.2" cy="337.1" r="4.72"/>
<circle cx="408.0" cy="253.9" r="4.72"/>
<circle cx="374.6" cy="415.0" r="4.72"/>
<circle cx="378.2" cy="222.3" r="4.72"/>
<circle cx="388.9" cy="99.0" r="4.72"/>
<circle cx="385.8" cy="404.8" r="4.72"/>
<circle cx="424.8" cy="392.5" r="4.72"/>
<circle cx="384.2" cy="468.8" r="4.72"/>
<circle cx="409.8" cy="284.1" r="4.72"/>
<circle cx="380.1" cy="431.0" r="4.72"/>
<circle cx="388.5" cy="372.2" r="4.72"/>
<circle cx="405.5" cy="94.6" r="4.72"/>
<circle cx="370.0" cy="307.8" r="4.72"/>
<circle cx="390.9" cy="204.8" r="4.72"/>
<circle cx="370.0" cy="392.6" r="4.72"/>
<circle cx="420.7" cy="322.1" r="4.72"/>
<circle cx="416.8" cy="341.0" r="4.72"/>
<circle cx="391.9" cy="400.3" r="4.72"/>
<circle cx="421.5" cy="311.6" r="4.72"/>
<circle cx="376.0" cy="337.6" r="4.72"/>
<circle cx="386.9" cy="99.7" r="4.72"/>
<circle cx="398.2" cy="185.1" r="4.72"/>
<circle cx="392.7" cy="234.2" r="4.72"/>
<circle cx="415.2" cy="456.4" r="4.72"/>
<circle cx="409.6" cy="345.4" r="4.72"/>
<circle cx="402.0" cy="41.7" r="4.72"/>
<circle cx="403.8" cy="206.6" r="4.72"/>
<circle cx="391.8" cy="264.3" r="4.72"/>
<circle cx="388.5" cy="404.2" r="4.72"/>
<circle cx="414.0" cy="475.0" r="4.72"/>
<circle cx="385.9" cy="395.0" r="4.72"/>
<circle cx="370.0" cy="324.0" r="4.72"/>
<circle cx="375.8" cy="259.3" r="4.72"/>
<circle cx="370.0" cy="182.0" r="4.72"/>
<circle cx="420.8" cy="245.7" r="4.72"/>
<circle cx="409.5" cy="97.5" r="4.72"/>
<circle cx="423.9" cy="260.9" r="4.72"/>
<circle cx="385.3" cy="349.7" r="4.72"/>
<circle cx="370.3" cy="173.6" r="4.72"/>
<circle cx="421.0" cy="396.2" r="4.72"/>
<circle cx="411.9" cy="401.7" r="4.72"/>
<circle cx="402.7" cy="220.6" r="4.72"/>
<circle cx="383.3" cy="363.9" r="4.72"/>
<circle cx="435.9" cy="38.3" r="4.72"/>
<circle cx="472.2" cy="52.7" r="4.72"/>
<circle cx="453.0" cy="84.6" r="4.72"/>
<circle cx="464.8" cy="84.6" r="4.72"/>
<circle cx="521.5" cy="95.6" r="4.72"/>
<circle cx="545.2" cy="87.6" r="4.72"/>
<circle cx="526.3" cy="105.3" r="4.72"/>
<circle cx="557.9" cy="114.2" r="4.72"/>
<circle cx="447.7" cy="110.6" r="4.72"/>
<circle cx="431.5" cy="105.3" r="4.72"/>
<circle cx="438.9" cy="125.4" r="4.72"/>
<circle cx="441.2" cy="131.9" r="4.72"/>
<circle cx="503.8" cy="136.9" r="4.72"/>
<circle cx="684.5" cy="134.2" r="4.72"/>
<circle cx="460.4" cy="151.4" r="4.72"/>
<circle cx="483.1" cy="151.4" r="4.72"/>
<circle cx="438.3" cy="154.6" r="4.72"/>
<circle cx="503.2" cy="163.5" r="4.72"/>
<circle cx="475.8" cy="166.4" r="4.72"/>
<circle cx="480.8" cy="175.0" r="4.72"/>
<circle cx="432.4" cy="167.3" r="4.72"/>
<circle cx="432.4" cy="173.2" r="4.72"/>
<circle cx="448.3" cy="177.6" r="4.72"/>
<circle cx="447.1" cy="183.5" r="4.72"/>
<circle cx="460.1" cy="183.5" r="4.72"/>
<circle cx="472.8" cy="181.5" r="4.72"/>
<circle cx="473.7" cy="186.8" r="4.72"/>
<circle cx="505.3" cy="181.2" r="4.72"/>
<circle cx="433.5" cy="190.0" r="4.72"/>
<circle cx="450.7" cy="192.4" r="4.72"/>
<circle cx="458.1" cy="192.4" r="4.72"/>
<circle cx="441.8" cy="198.6" r="4.72"/>
<circle cx="465.4" cy="200.7" r="4.72"/>
<circle cx="511.5" cy="195.4" r="4.72"/>
<circle cx="457.2" cy="207.2" r="4.72"/>
<circle cx="490.5" cy="209.2" r="4.72"/>
<circle cx="486.1" cy="213.1" r="4.72"/>
<circle cx="439.4" cy="213.1" r="4.72"/>
<circle cx="507.7" cy="216.0" r="4.72"/>
<circle cx="517.7" cy="216.0" r="4.72"/>
<circle cx="556.4" cy="218.4" r="4.72"/>
<circle cx="672.1" cy="209.5" r="4.72"/>
<circle cx="434.4" cy="221.9" r="4.72"/>
<circle cx="448.3" cy="224.3" r="4.72"/>
<circle cx="436.5" cy="227.8" r="4.72"/>
<circle cx="469.9" cy="230.8" r="4.72"/>
<circle cx="482.6" cy="230.8" r="4.72"/>
<circle cx="494.4" cy="230.8" r="4.72"/>
<circle cx="514.2" cy="233.1" r="4.72"/>
<circle cx="444.8" cy="235.8" r="4.72"/>
<circle cx="466.9" cy="241.1" r="4.72"/>
<circle cx="465.4" cy="245.0" r="4.72"/>
<circle cx="456.0" cy="247.0" r="4.72"/>
<circle cx="536.9" cy="247.6" r="4.72"/>
<circle cx="639.6" cy="249.1" r="4.72"/>
<circle cx="441.8" cy="250.0" r="4.72"/>
<circle cx="489.1" cy="250.9" r="4.72"/>
<circle cx="456.6" cy="250.0" r="4.72"/>
<circle cx="477.2" cy="255.9" r="4.72"/>
<circle cx="492.6" cy="256.5" r="4.72"/>
<circle cx="503.8" cy="256.5" r="4.72"/>
<circle cx="536.3" cy="253.5" r="4.72"/>
<circle cx="533.9" cy="256.5" r="4.72"/>
<circle cx="563.5" cy="259.4" r="4.72"/>
<circle cx="651.5" cy="253.5" r="4.72"/>
<circle cx="433.5" cy="259.4" r="4.72"/>
<circle cx="458.9" cy="259.4" r="4.72"/>
<circle cx="435.9" cy="265.4" r="4.72"/>
<circle cx="447.1" cy="268.3" r="4.72"/>
<circle cx="473.4" cy="268.3" r="4.72"/>
<circle cx="503.2" cy="268.3" r="4.72"/>
<circle cx="461.0" cy="271.3" r="4.72"/>
<circle cx="458.1" cy="273.6" r="4.72"/>
<circle cx="563.5" cy="271.3" r="4.72"/>
<circle cx="557.0" cy="274.2" r="4.72"/>
<circle cx="595.4" cy="268.3" r="4.72"/>
<circle cx="629.3" cy="271.3" r="4.72"/>
<circle cx="436.5" cy="277.2" r="4.72"/>
<circle cx="508.2" cy="279.5" r="4.72"/>
<circle cx="528.3" cy="277.2" r="4.72"/>
<circle cx="449.2" cy="282.5" r="4.72"/>
<circle cx="472.8" cy="282.5" r="4.72"/>
<circle cx="438.3" cy="288.4" r="4.72"/>
<circle cx="451.3" cy="288.4" r="4.72"/>
<circle cx="461.0" cy="288.4" r="4.72"/>
<circle cx="464.8" cy="288.4" r="4.72"/>
<circle cx="560.5" cy="288.4" r="4.72"/>
<circle cx="672.7" cy="286.0" r="4.72"/>
<circle cx="441.2" cy="305.5" r="4.72"/>
<circle cx="450.1" cy="305.5" r="4.72"/>
<circle cx="453.6" cy="308.5" r="4.72"/>
<circle cx="472.8" cy="303.1" r="4.72"/>
<circle cx="478.7" cy="303.1" r="4.72"/>
<circle cx="483.7" cy="300.2" r="4.72"/>
<circle cx="513.3" cy="300.2" r="4.72"/>
<circle cx="542.2" cy="300.2" r="4.72"/>
<circle cx="588.0" cy="300.2" r="4.72"/>
<circle cx="498.8" cy="305.5" r="4.72"/>
<circle cx="458.1" cy="312.0" r="4.72"/>
<circle cx="435.9" cy="312.6" r="4.72"/>
<circle cx="441.2" cy="314.4" r="4.72"/>
<circle cx="524.5" cy="312.0" r="4.72"/>
<circle cx="605.4" cy="314.4" r="4.72"/>
<circle cx="479.6" cy="317.9" r="4.72"/>
<circle cx="649.1" cy="320.6" r="4.72"/>
<circle cx="672.7" cy="323.2" r="4.72"/>
<circle cx="438.9" cy="323.8" r="4.72"/>
<circle cx="447.1" cy="326.8" r="4.72"/>
<circle cx="435.9" cy="329.1" r="4.72"/>
<circle cx="483.7" cy="332.1" r="4.72"/>
<circle cx="477.2" cy="335.6" r="4.72"/>
<circle cx="465.4" cy="337.7" r="4.72"/>
<circle cx="510.6" cy="335.3" r="4.72"/>
<circle cx="529.2" cy="335.3" r="4.72"/>
<circle cx="580.6" cy="337.7" r="4.72"/>
<circle cx="444.8" cy="337.7" r="4.72"/>
<circle cx="432.4" cy="338.6" r="4.72"/>
<circle cx="435.9" cy="344.5" r="4.72"/>
<circle cx="477.8" cy="343.9" r="4.72"/>
<circle cx="448.3" cy="354.8" r="4.72"/>
<circle cx="457.5" cy="354.8" r="4.72"/>
<circle cx="497.3" cy="354.8" r="4.72"/>
<circle cx="576.2" cy="355.4" r="4.72"/>
<circle cx="444.8" cy="358.7" r="4.72"/>
<circle cx="435.3" cy="361.6" r="4.72"/>
<circle cx="462.5" cy="361.6" r="4.72"/>
<circle cx="468.4" cy="364.0" r="4.72"/>
<circle cx="495.6" cy="364.0" r="4.72"/>
<circle cx="645.0" cy="364.0" r="4.72"/>
<circle cx="455.1" cy="366.6" r="4.72"/>
<circle cx="461.0" cy="371.7" r="4.72"/>
<circle cx="457.2" cy="373.1" r="4.72"/>
<circle cx="447.1" cy="376.1" r="4.72"/>
<circle cx="431.5" cy="379.9" r="4.72"/>
<circle cx="458.1" cy="381.4" r="4.72"/>
<circle cx="531.9" cy="381.4" r="4.72"/>
<circle cx="444.8" cy="384.4" r="4.72"/>
<circle cx="438.3" cy="386.7" r="4.72"/>
<circle cx="452.1" cy="385.2" r="4.72"/>
<circle cx="472.2" cy="387.3" r="4.72"/>
<circle cx="477.2" cy="390.3" r="4.72"/>
<circle cx="504.7" cy="393.5" r="4.72"/>
<circle cx="430.0" cy="393.2" r="4.72"/>
<circle cx="444.8" cy="402.4" r="4.72"/>
<circle cx="455.4" cy="402.4" r="4.72"/>
<circle cx="486.1" cy="410.9" r="4.72"/>
<circle cx="470.7" cy="416.8" r="4.72"/>
<circle cx="433.0" cy="412.4" r="4.72"/>
<circle cx="519.8" cy="425.4" r="4.72"/>
<circle cx="438.9" cy="421.3" r="4.72"/>
<circle cx="441.2" cy="426.6" r="4.72"/>
<circle cx="435.3" cy="430.1" r="4.72"/>
<circle cx="441.8" cy="433.7" r="4.72"/>
<circle cx="446.2" cy="434.5" r="4.72"/>
<circle cx="452.1" cy="439.6" r="4.72"/>
<circle cx="438.3" cy="442.5" r="4.72"/>
<circle cx="449.2" cy="444.9" r="4.72"/>
<circle cx="433.0" cy="439.0" r="4.72"/>
<circle cx="851.1" cy="117.1" r="4.72"/>
<circle cx="762.8" cy="157.6" r="4.72"/>
<circle cx="782.6" cy="210.1" r="4.72"/>
<circle cx="448.0" cy="475.0" r="4.72"/>
<circle cx="459.2" cy="475.0" r="4.72"/>
<circle cx="465.1" cy="475.0" r="4.72"/>
<circle cx="468.1" cy="475.0" r="4.72"/>
<circle cx="494.7" cy="475.0" r="4.72"/>
<circle cx="499.1" cy="475.0" r="4.72"/>
<circle cx="501.2" cy="475.0" r="4.72"/>
<circle cx="545.5" cy="475.0" r="4.72"/>
<circle cx="558.7" cy="475.0" r="4.72"/>
<circle cx="1490.6" cy="430.5" r="4.72"/>
<circle cx="1476.2" cy="350.1" r="4.72"/>
<circle cx="1424.2" cy="126.5" r="4.72"/>
<circle cx="1474.4" cy="261.4" r="4.72"/>
<circle cx="1477.1" cy="341.6" r="4.72"/>
<circle cx="1471.1" cy="416.4" r="4.72"/>
<circle cx="1387.0" cy="321.3" r="4.72"/>
<circle cx="1448.2" cy="396.2" r="4.72"/>
<circle cx="1387.0" cy="294.5" r="4.72"/>
<circle cx="1419.5" cy="200.8" r="4.72"/>
<circle cx="1411.7" cy="322.8" r="4.72"/>
<circle cx="1448.5" cy="191.5" r="4.72"/>
<circle cx="1447.1" cy="370.7" r="4.72"/>
<circle cx="1485.2" cy="244.1" r="4.72"/>
<circle cx="1387.0" cy="420.1" r="4.72"/>
<circle cx="1452.7" cy="106.1" r="4.72"/>
<circle cx="1404.4" cy="342.5" r="4.72"/>
<circle cx="1420.6" cy="203.0" r="4.72"/>
<circle cx="1500.4" cy="410.1" r="4.72"/>
<circle cx="1417.5" cy="370.5" r="4.72"/>
<circle cx="1446.5" cy="221.2" r="4.72"/>
<circle cx="1473.6" cy="334.0" r="4.72"/>
<circle cx="1444.8" cy="238.8" r="4.72"/>
<circle cx="1403.9" cy="52.1" r="4.72"/>
<circle cx="1484.0" cy="295.6" r="4.72"/>
<circle cx="1397.3" cy="102.0" r="4.72"/>
<circle cx="1459.6" cy="381.9" r="4.72"/>
<circle cx="1453.1" cy="235.6" r="4.72"/>
<circle cx="1420.7" cy="95.0" r="4.72"/>
<circle cx="1417.8" cy="236.9" r="4.72"/>
<circle cx="1534.7" cy="341.4" r="4.72"/>
<circle cx="1435.0" cy="67.6" r="4.72"/>
<circle cx="1583.8" cy="407.4" r="4.72"/>
<circle cx="1536.7" cy="316.0" r="4.72"/>
<circle cx="1456.0" cy="188.5" r="4.72"/>
<circle cx="1564.3" cy="351.0" r="4.72"/>
<circle cx="1467.9" cy="243.1" r="4.72"/>
<circle cx="1553.8" cy="244.4" r="4.72"/>
<circle cx="1472.8" cy="135.2" r="4.72"/>
<circle cx="1508.3" cy="273.4" r="4.72"/>
<circle cx="1476.0" cy="266.2" r="4.72"/>
<circle cx="1407.0" cy="363.5" r="4.72"/>
<circle cx="1390.4" cy="144.8" r="4.72"/>
<circle cx="1448.2" cy="183.6" r="4.72"/>
<circle cx="1419.7" cy="154.6" r="4.72"/>
<circle cx="1505.4" cy="223.5" r="4.72"/>
<circle cx="1479.9" cy="424.3" r="4.72"/>
<circle cx="1488.3" cy="340.0" r="4.72"/>
<circle cx="1426.8" cy="258.0" r="4.72"/>
<circle cx="1388.3" cy="40.5" r="4.72"/>
<circle cx="1460.5" cy="332.8" r="4.72"/>
<circle cx="1446.7" cy="380.0" r="4.72"/>
<circle cx="1493.3" cy="263.1" r="4.72"/>
<circle cx="1423.2" cy="83.9" r="4.72"/>
<circle cx="1497.0" cy="168.5" r="4.72"/>
<circle cx="1395.1" cy="45.8" r="4.72"/>
<circle cx="1420.0" cy="405.0" r="4.72"/>
<circle cx="1471.7" cy="426.3" r="4.72"/>
<circle cx="1465.5" cy="266.8" r="4.72"/>
<circle cx="1480.1" cy="246.0" r="4.72"/>
<circle cx="1465.7" cy="150.4" r="4.72"/>
<circle cx="1460.1" cy="418.5" r="4.72"/>
<circle cx="1437.5" cy="315.4" r="4.72"/>
<circle cx="1498.2" cy="231.6" r="4.72"/>
<circle cx="1387.0" cy="385.7" r="4.72"/>
<circle cx="1473.4" cy="430.5" r="4.72"/>
<circle cx="1452.8" cy="61.7" r="4.72"/>
<circle cx="1471.9" cy="109.5" r="4.72"/>
<circle cx="1457.9" cy="351.4" r="4.72"/>
<circle cx="1434.6" cy="78.6" r="4.72"/>
<circle cx="1570.3" cy="191.6" r="4.72"/>
<circle cx="1408.9" cy="168.0" r="4.72"/>
<circle cx="1474.0" cy="147.7" r="4.72"/>
<circle cx="1440.8" cy="430.5" r="4.72"/>
<circle cx="1387.0" cy="74.9" r="4.72"/>
<circle cx="1426.3" cy="376.8" r="4.72"/>
<circle cx="1466.0" cy="237.6" r="4.72"/>
<circle cx="1592.3" cy="213.7" r="4.72"/>
<circle cx="1390.0" cy="75.0" r="4.72"/>
<circle cx="1522.6" cy="397.4" r="4.72"/>
<circle cx="1564.2" cy="210.0" r="4.72"/>
<circle cx="1481.4" cy="172.0" r="4.72"/>
<circle cx="1473.3" cy="342.3" r="4.72"/>
<circle cx="1430.9" cy="195.0" r="4.72"/>
<circle cx="1488.7" cy="239.0" r="4.72"/>
<circle cx="1413.5" cy="400.9" r="4.72"/>
<circle cx="1472.4" cy="401.3" r="4.72"/>
<circle cx="1390.2" cy="198.6" r="4.72"/>
<circle cx="1388.7" cy="230.2" r="4.72"/>
<circle cx="1497.0" cy="264.0" r="4.72"/>
<circle cx="1387.0" cy="364.2" r="4.72"/>
<circle cx="1441.8" cy="104.4" r="4.72"/>
<circle cx="1433.9" cy="398.9" r="4.72"/>
<circle cx="1405.5" cy="58.9" r="4.72"/>
<circle cx="1520.6" cy="282.5" r="4.72"/>
<circle cx="1406.9" cy="375.8" r="4.72"/>
<circle cx="1437.8" cy="169.8" r="4.72"/>
<circle cx="1387.0" cy="171.0" r="4.72"/>
<circle cx="1559.0" cy="302.1" r="4.72"/>
<circle cx="1489.2" cy="317.3" r="4.72"/>
<circle cx="1405.8" cy="149.7" r="4.72"/>
<circle cx="1635.7" cy="312.9" r="4.72"/>
<circle cx="1439.9" cy="238.9" r="4.72"/>
<circle cx="1473.2" cy="340.5" r="4.72"/>
<circle cx="1450.2" cy="142.8" r="4.72"/>
<circle cx="1437.5" cy="227.8" r="4.72"/>
<circle cx="1590.6" cy="211.6" r="4.72"/>
<circle cx="1399.4" cy="161.5" r="4.72"/>
<circle cx="1424.2" cy="273.2" r="4.72"/>
<circle cx="1436.2" cy="250.1" r="4.72"/>
<circle cx="1398.2" cy="380.9" r="4.72"/>
<circle cx="1418.8" cy="200.5" r="4.72"/>
<circle cx="1399.4" cy="284.5" r="4.72"/>
<circle cx="1445.7" cy="109.3" r="4.72"/>
<circle cx="1473.9" cy="131.6" r="4.72"/>
<circle cx="1448.3" cy="199.2" r="4.72"/>
<circle cx="1497.7" cy="193.7" r="4.72"/>
<circle cx="1387.0" cy="200.9" r="4.72"/>
<circle cx="1396.1" cy="243.2" r="4.72"/>
<circle cx="1387.0" cy="147.2" r="4.72"/>
<circle cx="1505.1" cy="303.0" r="4.72"/>
<circle cx="1443.2" cy="357.5" r="4.72"/>
<circle cx="1508.6" cy="389.5" r="4.72"/>
<circle cx="1567.5" cy="296.1" r="4.72"/>
<circle cx="1438.0" cy="59.0" r="4.72"/>
<circle cx="1625.2" cy="127.8" r="4.72"/>
<circle cx="1471.3" cy="163.7" r="4.72"/>
<circle cx="1500.0" cy="196.3" r="4.72"/>
<circle cx="1469.0" cy="343.1" r="4.72"/>
<circle cx="1499.7" cy="418.7" r="4.72"/>
<circle cx="1450.6" cy="90.4" r="4.72"/>
<circle cx="1613.1" cy="123.3" r="4.72"/>
<circle cx="1466.8" cy="328.8" r="4.72"/>
<circle cx="1449.5" cy="188.8" r="4.72"/>
<circle cx="1401.1" cy="235.8" r="4.72"/>
<circle cx="1504.8" cy="350.7" r="4.72"/>
<circle cx="1604.0" cy="124.9" r="4.72"/>
<circle cx="1447.9" cy="50.6" r="4.72"/>
<circle cx="1400.5" cy="240.1" r="4.72"/>
<circle cx="1498.1" cy="351.4" r="4.72"/>
<circle cx="1626.3" cy="196.6" r="4.72"/>
<circle cx="1571.4" cy="343.4" r="4.72"/>
<circle cx="1476.7" cy="337.5" r="4.72"/>
<circle cx="1427.5" cy="181.5" r="4.72"/>
<circle cx="1402.7" cy="117.4" r="4.72"/>
<circle cx="1403.9" cy="415.7" r="4.72"/>
<circle cx="1387.0" cy="294.3" r="4.72"/>
<circle cx="1427.4" cy="91.2" r="4.72"/>
<circle cx="1398.5" cy="422.7" r="4.72"/>
<circle cx="1401.8" cy="232.7" r="4.72"/>
<circle cx="1510.5" cy="353.8" r="4.72"/>
<circle cx="1575.1" cy="242.4" r="4.72"/>
<circle cx="1479.8" cy="160.6" r="4.72"/>
<circle cx="1403.0" cy="56.3" r="4.72"/>
<circle cx="1495.6" cy="73.8" r="4.72"/>
<circle cx="1508.5" cy="315.3" r="4.72"/>
<circle cx="1422.6" cy="343.8" r="4.72"/>
<circle cx="1404.8" cy="375.9" r="4.72"/>
<circle cx="1388.1" cy="144.7" r="4.72"/>
<circle cx="1434.0" cy="262.0" r="4.72"/>
<circle cx="1405.3" cy="242.7" r="4.72"/>
<circle cx="1474.8" cy="224.1" r="4.72"/>
<circle cx="1387.0" cy="39.6" r="4.72"/>
<circle cx="1404.6" cy="393.6" r="4.72"/>
<circle cx="1603.5" cy="255.7" r="4.72"/>
<circle cx="1474.9" cy="243.3" r="4.72"/>
<circle cx="1468.9" cy="430.5" r="4.72"/>
<circle cx="1393.6" cy="80.7" r="4.72"/>
<circle cx="1397.5" cy="241.5" r="4.72"/>
<circle cx="1431.5" cy="430.5" r="4.72"/>
<circle cx="1455.9" cy="430.5" r="4.72"/>
<circle cx="1420.7" cy="133.0" r="4.72"/>
<circle cx="1389.8" cy="383.2" r="4.72"/>
<circle cx="1502.9" cy="334.7" r="4.72"/>
<circle cx="1501.4" cy="168.9" r="4.72"/>
<circle cx="1415.0" cy="430.5" r="4.72"/>
<circle cx="1422.3" cy="172.8" r="4.72"/>
<circle cx="1440.7" cy="267.6" r="4.72"/>
<circle cx="1387.0" cy="84.3" r="4.72"/>
<circle cx="1497.4" cy="279.7" r="4.72"/>
<circle cx="1442.4" cy="430.5" r="4.72"/>
<circle cx="1403.6" cy="82.1" r="4.72"/>
<circle cx="1438.5" cy="86.1" r="4.72"/>
<circle cx="1456.7" cy="233.5" r="4.72"/>
<circle cx="1463.1" cy="175.7" r="4.72"/>
<circle cx="1416.6" cy="233.3" r="4.72"/>
<circle cx="1503.3" cy="230.1" r="4.72"/>
<circle cx="1405.0" cy="96.5" r="4.72"/>
<circle cx="1435.2" cy="49.2" r="4.72"/>
<circle cx="1419.3" cy="149.0" r="4.72"/>
<circle cx="1432.0" cy="92.2" r="4.72"/>
<circle cx="1410.0" cy="34.0" r="4.72"/>
<circle cx="1604.5" cy="281.7" r="4.72"/>
<circle cx="1523.5" cy="331.6" r="4.72"/>
<circle cx="1486.3" cy="296.7" r="4.72"/>
<circle cx="1396.2" cy="314.4" r="4.72"/>
<circle cx="1466.6" cy="133.9" r="4.72"/>
<circle cx="1512.9" cy="382.7" r="4.72"/>
<circle cx="1393.0" cy="219.0" r="4.72"/>
<circle cx="1463.0" cy="423.3" r="4.72"/>
<circle cx="1525.7" cy="353.9" r="4.72"/>
<circle cx="1511.9" cy="387.4" r="4.72"/>
<circle cx="1468.4" cy="156.8" r="4.72"/>
<circle cx="1431.7" cy="247.0" r="4.72"/>
<circle cx="1474.8" cy="213.3" r="4.72"/>
<circle cx="1433.2" cy="45.6" r="4.72"/>
<circle cx="1463.6" cy="365.1" r="4.72"/>
<circle cx="1550.8" cy="97.4" r="4.72"/>
<circle cx="1445.9" cy="38.6" r="4.72"/>
<circle cx="1522.1" cy="392.7" r="4.72"/>
<circle cx="1428.2" cy="166.8" r="4.72"/>
<circle cx="1414.7" cy="194.5" r="4.72"/>
<circle cx="1387.0" cy="40.3" r="4.72"/>
<circle cx="1394.5" cy="336.7" r="4.72"/>
<circle cx="1446.2" cy="248.1" r="4.72"/>
<circle cx="1425.8" cy="354.2" r="4.72"/>
<circle cx="1501.2" cy="130.7" r="4.72"/>
<circle cx="1410.1" cy="331.2" r="4.72"/>
<circle cx="1399.4" cy="219.4" r="4.72"/>
<circle cx="1540.2" cy="181.2" r="4.72"/>
<circle cx="1500.1" cy="298.4" r="4.72"/>
<circle cx="1474.2" cy="273.0" r="4.72"/>
<circle cx="1430.3" cy="399.5" r="4.72"/>
<circle cx="1581.4" cy="132.4" r="4.72"/>
<circle cx="1392.6" cy="163.1" r="4.72"/>
<circle cx="1387.0" cy="267.5" r="4.72"/>
<circle cx="1483.1" cy="217.6" r="4.72"/>
<circle cx="1519.4" cy="258.9" r="4.72"/>
<circle cx="1412.6" cy="253.9" r="4.72"/>
<circle cx="1449.2" cy="271.6" r="4.72"/>
<circle cx="1482.5" cy="345.9" r="4.72"/>
<circle cx="1415.2" cy="201.5" r="4.72"/>
<circle cx="1496.2" cy="426.2" r="4.72"/>
<circle cx="1426.5" cy="34.0" r="4.72"/>
<circle cx="1443.8" cy="181.2" r="4.72"/>
<circle cx="1434.0" cy="276.2" r="4.72"/>
<circle cx="1410.9" cy="430.0" r="4.72"/>
<circle cx="1429.5" cy="49.8" r="4.72"/>
<circle cx="1434.6" cy="283.0" r="4.72"/>
<circle cx="1433.0" cy="99.4" r="4.72"/>
<circle cx="1450.8" cy="108.7" r="4.72"/>
<circle cx="1399.9" cy="317.5" r="4.72"/>
<circle cx="1410.1" cy="308.7" r="4.72"/>
<circle cx="1467.1" cy="257.2" r="4.72"/>
<circle cx="1412.5" cy="303.1" r="4.72"/>
<circle cx="1414.8" cy="290.2" r="4.72"/>
<circle cx="1495.6" cy="430.5" r="4.72"/>
<circle cx="1392.8" cy="165.6" r="4.72"/>
<circle cx="1437.3" cy="348.8" r="4.72"/>
<circle cx="1418.5" cy="81.9" r="4.72"/>
<circle cx="1423.7" cy="274.3" r="4.72"/>
<circle cx="1389.4" cy="190.5" r="4.72"/>
<circle cx="1387.0" cy="300.1" r="4.72"/>
<circle cx="1387.0" cy="118.0" r="4.72"/>
<circle cx="1450.8" cy="296.8" r="4.72"/>
<circle cx="1449.6" cy="171.5" r="4.72"/>
<circle cx="1544.7" cy="123.2" r="4.72"/>
<circle cx="1422.3" cy="284.7" r="4.72"/>
<circle cx="1413.8" cy="131.5" r="4.72"/>
<circle cx="1482.4" cy="409.4" r="4.72"/>
<circle cx="1498.1" cy="222.1" r="4.72"/>
<circle cx="1431.1" cy="243.8" r="4.72"/>
<circle cx="1457.6" cy="201.6" r="4.72"/>
<circle cx="1400.3" cy="285.2" r="4.72"/>
<circle cx="1389.7" cy="196.1" r="4.72"/>
<circle cx="1458.7" cy="215.1" r="4.72"/>
<circle cx="1602.6" cy="372.2" r="4.72"/>
<circle cx="1467.4" cy="122.0" r="4.72"/>
<circle cx="1436.6" cy="288.4" r="4.72"/>
<circle cx="1387.0" cy="34.0" r="4.72"/>
<circle cx="1501.0" cy="279.3" r="4.72"/>
<circle cx="1441.6" cy="125.1" r="4.72"/>
<circle cx="1437.4" cy="154.3" r="4.72"/>
<circle cx="1415.1" cy="378.1" r="4.72"/>
<circle cx="1428.3" cy="165.0" r="4.72"/>
<circle cx="1510.4" cy="238.7" r="4.72"/>
<circle cx="1505.7" cy="430.5" r="4.72"/>
<circle cx="1400.9" cy="64.3" r="4.72"/>
<circle cx="1447.8" cy="58.5" r="4.72"/>
<circle cx="1418.2" cy="294.8" r="4.72"/>
<circle cx="1423.5" cy="386.6" r="4.72"/>
<circle cx="1479.4" cy="189.4" r="4.72"/>
<circle cx="1499.3" cy="258.8" r="4.72"/>
<circle cx="1447.5" cy="182.5" r="4.72"/>
<circle cx="1438.8" cy="218.0" r="4.72"/>
<circle cx="1443.3" cy="386.7" r="4.72"/>
<circle cx="1387.0" cy="393.4" r="4.72"/>
<circle cx="1444.6" cy="339.3" r="4.72"/>
<circle cx="1434.2" cy="175.9" r="4.72"/>
<circle cx="1439.3" cy="82.6" r="4.72"/>
<circle cx="1387.0" cy="288.2" r="4.72"/>
<circle cx="1475.7" cy="281.1" r="4.72"/>
<circle cx="1430.2" cy="105.8" r="4.72"/>
<circle cx="1400.9" cy="239.2" r="4.72"/>
<circle cx="1466.7" cy="246.1" r="4.72"/>
<circle cx="1462.4" cy="93.7" r="4.72"/>
<circle cx="1512.1" cy="212.8" r="4.72"/>
<circle cx="1416.2" cy="185.7" r="4.72"/>
<circle cx="1459.6" cy="308.7" r="4.72"/>
<circle cx="1452.3" cy="201.5" r="4.72"/>
<circle cx="1421.8" cy="344.8" r="4.72"/>
<circle cx="1450.1" cy="197.6" r="4.72"/>
<circle cx="1438.1" cy="430.5" r="4.72"/>
<circle cx="1496.1" cy="382.9" r="4.72"/>
<circle cx="1412.4" cy="185.9" r="4.72"/>
<circle cx="1572.3" cy="164.4" r="4.72"/>
<circle cx="1480.1" cy="218.1" r="4.72"/>
<circle cx="1418.3" cy="158.3" r="4.72"/>
<circle cx="1425.8" cy="252.0" r="4.72"/>
<circle cx="1473.6" cy="376.8" r="4.72"/>
<circle cx="1493.1" cy="173.5" r="4.72"/>
<circle cx="1539.0" cy="410.2" r="4.72"/>
<circle cx="1408.8" cy="182.6" r="4.72"/>
<circle cx="1391.3" cy="241.0" r="4.72"/>
<circle cx="1387.8" cy="74.7" r="4.72"/>
<circle cx="1508.4" cy="295.2" r="4.72"/>
<circle cx="1421.5" cy="56.7" r="4.72"/>
<circle cx="1407.4" cy="95.2" r="4.72"/>
<circle cx="1427.1" cy="410.7" r="4.72"/>
<circle cx="1490.7" cy="383.6" r="4.72"/>
<circle cx="1399.2" cy="227.3" r="4.72"/>
<circle cx="1456.4" cy="149.1" r="4.72"/>
<circle cx="1478.1" cy="57.9" r="4.72"/>
<circle cx="1459.0" cy="150.3" r="4.72"/>
<circle cx="1494.6" cy="272.6" r="4.72"/>
<circle cx="1403.5" cy="430.5" r="4.72"/>
<circle cx="1642.9" cy="179.2" r="4.72"/>
<circle cx="1458.4" cy="57.9" r="4.72"/>
<circle cx="1414.6" cy="304.5" r="4.72"/>
<circle cx="1494.0" cy="167.4" r="4.72"/>
<circle cx="1395.8" cy="159.4" r="4.72"/>
<circle cx="1524.8" cy="216.5" r="4.72"/>
<circle cx="1408.1" cy="406.3" r="4.72"/>
<circle cx="1470.1" cy="374.2" r="4.72"/>
<circle cx="1387.0" cy="44.1" r="4.72"/>
<circle cx="1401.6" cy="117.7" r="4.72"/>
<circle cx="1427.5" cy="97.3" r="4.72"/>
<circle cx="1611.1" cy="146.2" r="4.72"/>
<circle cx="1464.5" cy="200.9" r="4.72"/>
<circle cx="1513.8" cy="279.4" r="4.72"/>
<circle cx="1595.9" cy="333.6" r="4.72"/>
<circle cx="1408.6" cy="308.7" r="4.72"/>
<circle cx="1397.4" cy="92.6" r="4.72"/>
<circle cx="1400.4" cy="320.4" r="4.72"/>
<circle cx="1442.9" cy="123.1" r="4.72"/>
<circle cx="1459.1" cy="274.8" r="4.72"/>
<circle cx="1443.5" cy="430.5" r="4.72"/>
<circle cx="1446.8" cy="159.2" r="4.72"/>
<circle cx="1478.9" cy="303.2" r="4.72"/>
<circle cx="1457.2" cy="249.9" r="4.72"/>
<circle cx="1431.2" cy="165.6" r="4.72"/>
<circle cx="1620.3" cy="234.0" r="4.72"/>
<circle cx="1481.3" cy="356.2" r="4.72"/>
<circle cx="1485.7" cy="348.7" r="4.72"/>
<circle cx="1469.8" cy="397.1" r="4.72"/>
<circle cx="1507.6" cy="361.9" r="4.72"/>
<circle cx="1479.6" cy="157.9" r="4.72"/>
<circle cx="1401.8" cy="284.1" r="4.72"/>
<circle cx="1401.8" cy="231.8" r="4.72"/>
<circle cx="1451.7" cy="273.2" r="4.72"/>
<circle cx="1499.7" cy="290.8" r="4.72"/>
<circle cx="1512.8" cy="426.3" r="4.72"/>
<circle cx="1502.0" cy="301.4" r="4.72"/>
<circle cx="1406.8" cy="325.9" r="4.72"/>
<circle cx="1554.3" cy="213.0" r="4.72"/>
<circle cx="1387.0" cy="250.9" r="4.72"/>
<circle cx="1416.6" cy="133.4" r="4.72"/>
<circle cx="1420.2" cy="120.8" r="4.72"/>
<circle cx="1406.5" cy="35.0" r="4.72"/>
<circle cx="1559.3" cy="268.2" r="4.72"/>
<circle cx="1387.0" cy="302.2" r="4.72"/>
<circle cx="1427.3" cy="303.2" r="4.72"/>
<circle cx="1506.1" cy="341.8" r="4.72"/>
<circle cx="1480.4" cy="210.0" r="4.72"/>
<circle cx="1469.5" cy="303.9" r="4.72"/>
<circle cx="1504.6" cy="221.3" r="4.72"/>
<circle cx="1459.9" cy="114.4" r="4.72"/>
<circle cx="1394.1" cy="52.9" r="4.72"/>
<circle cx="1445.2" cy="276.9" r="4.72"/>
<circle cx="1495.8" cy="356.5" r="4.72"/>
<circle cx="1504.2" cy="223.7" r="4.72"/>
<circle cx="1441.8" cy="63.4" r="4.72"/>
<circle cx="1419.1" cy="346.5" r="4.72"/>
<circle cx="1388.7" cy="123.8" r="4.72"/>
<circle cx="1432.2" cy="430.5" r="4.72"/>
<circle cx="1434.1" cy="194.2" r="4.72"/>
<circle cx="1493.1" cy="381.7" r="4.72"/>
<circle cx="1445.6" cy="115.8" r="4.72"/>
<circle cx="1465.3" cy="196.1" r="4.72"/>
<circle cx="1442.6" cy="253.8" r="4.72"/>
<circle cx="1641.8" cy="389.4" r="4.72"/>
<circle cx="1482.7" cy="321.7" r="4.72"/>
<circle cx="1419.0" cy="191.0" r="4.72"/>
<circle cx="1442.3" cy="383.8" r="4.72"/>
<circle cx="1500.0" cy="277.3" r="4.72"/>
<circle cx="1497.0" cy="246.0" r="4.72"/>
<circle cx="1482.0" cy="262.7" r="4.72"/>
<circle cx="1537.3" cy="328.6" r="4.72"/>
<circle cx="1452.6" cy="165.9" r="4.72"/>
<circle cx="1462.9" cy="392.7" r="4.72"/>
<circle cx="1469.0" cy="83.4" r="4.72"/>
<circle cx="1432.0" cy="268.4" r="4.72"/>
<circle cx="1387.0" cy="214.5" r="4.72"/>
<circle cx="1423.9" cy="430.5" r="4.72"/>
<circle cx="1518.0" cy="334.0" r="4.72"/>
<circle cx="1448.1" cy="230.8" r="4.72"/>
<circle cx="1404.2" cy="247.5" r="4.72"/>
<circle cx="1509.4" cy="133.4" r="4.72"/>
<circle cx="1449.9" cy="43.1" r="4.72"/>
<circle cx="1495.5" cy="415.8" r="4.72"/>
<circle cx="1396.5" cy="418.6" r="4.72"/>
<circle cx="1390.0" cy="293.1" r="4.72"/>
<circle cx="1435.5" cy="101.1" r="4.72"/>
<circle cx="1422.7" cy="94.0" r="4.72"/>
<circle cx="1439.0" cy="187.0" r="4.72"/>
<circle cx="1429.1" cy="412.1" r="4.72"/>
<circle cx="1424.6" cy="156.4" r="4.72"/>
<circle cx="1538.2" cy="234.6" r="4.72"/>
<circle cx="1391.1" cy="390.5" r="4.72"/>
<circle cx="1415.1" cy="244.8" r="4.72"/>
<circle cx="1411.0" cy="278.4" r="4.72"/>
<circle cx="1395.6" cy="158.6" r="4.72"/>
<circle cx="1416.3" cy="145.5" r="4.72"/>
<circle cx="1500.7" cy="199.8" r="4.72"/>
<circle cx="1453.5" cy="59.2" r="4.72"/>
<circle cx="1445.7" cy="283.7" r="4.72"/>
<circle cx="1603.2" cy="190.5" r="4.72"/>
<circle cx="1497.0" cy="244.4" r="4.72"/>
<circle cx="1468.8" cy="385.7" r="4.72"/>
<circle cx="1390.3" cy="400.6" r="4.72"/>
<circle cx="1447.9" cy="430.5" r="4.72"/>
<circle cx="1475.4" cy="354.2" r="4.72"/>
<circle cx="1438.5" cy="430.5" r="4.72"/>
<circle cx="1493.0" cy="182.1" r="4.72"/>
<circle cx="1402.5" cy="192.8" r="4.72"/>
<circle cx="1404.1" cy="216.7" r="4.72"/>
<circle cx="1505.0" cy="248.3" r="4.72"/>
<circle cx="1505.3" cy="220.0" r="4.72"/>
<circle cx="1443.7" cy="342.2" r="4.72"/>
<circle cx="1387.0" cy="386.1" r="4.72"/>
<circle cx="1418.5" cy="238.5" r="4.72"/>
<circle cx="1419.6" cy="151.8" r="4.72"/>
<circle cx="1410.6" cy="370.7" r="4.72"/>
<circle cx="1420.2" cy="332.3" r="4.72"/>
<circle cx="1477.7" cy="284.4" r="4.72"/>
<circle cx="1542.1" cy="262.4" r="4.72"/>
<circle cx="1408.3" cy="341.2" r="4.72"/>
<circle cx="1440.0" cy="165.7" r="4.72"/>
<circle cx="1454.8" cy="97.8" r="4.72"/>
<circle cx="1410.7" cy="223.0" r="4.72"/>
<circle cx="1428.9" cy="156.2" r="4.72"/>
<circle cx="1404.8" cy="423.8" r="4.72"/>
<circle cx="1456.5" cy="60.8" r="4.72"/>
<circle cx="1487.2" cy="183.5" r="4.72"/>
<circle cx="1481.5" cy="205.8" r="4.72"/>
<circle cx="1501.0" cy="412.2" r="4.72"/>
<circle cx="1454.4" cy="379.7" r="4.72"/>
<circle cx="1449.6" cy="403.5" r="4.72"/>
<circle cx="1387.0" cy="358.9" r="4.72"/>
<circle cx="1474.7" cy="188.3" r="4.72"/>
<circle cx="1396.5" cy="97.2" r="4.72"/>
<circle cx="1470.0" cy="322.9" r="4.72"/>
<circle cx="1646.6" cy="284.8" r="4.72"/>
<circle cx="1443.5" cy="424.0" r="4.72"/>
<circle cx="1387.0" cy="350.1" r="4.72"/>
<circle cx="1387.0" cy="366.1" r="4.72"/>
<circle cx="1439.2" cy="228.1" r="4.72"/>
<circle cx="1447.4" cy="334.8" r="4.72"/>
<circle cx="1542.3" cy="301.7" r="4.72"/>
<circle cx="1446.6" cy="113.3" r="4.72"/>
<circle cx="1511.0" cy="430.5" r="4.72"/>
<circle cx="1428.3" cy="360.0" r="4.72"/>
<circle cx="1469.8" cy="225.6" r="4.72"/>
<circle cx="1435.6" cy="172.8" r="4.72"/>
<circle cx="1452.6" cy="318.4" r="4.72"/>
<circle cx="1452.4" cy="133.5" r="4.72"/>
<circle cx="1419.7" cy="65.9" r="4.72"/>
<circle cx="1418.8" cy="317.6" r="4.72"/>
<circle cx="1443.9" cy="283.2" r="4.72"/>
<circle cx="1387.0" cy="104.1" r="4.72"/>
<circle cx="1462.8" cy="416.5" r="4.72"/>
<circle cx="1470.8" cy="373.4" r="4.72"/>
<circle cx="1474.8" cy="347.0" r="4.72"/>
<circle cx="1461.2" cy="339.1" r="4.72"/>
<circle cx="1410.7" cy="312.3" r="4.72"/>
<circle cx="1484.7" cy="187.7" r="4.72"/>
<circle cx="1536.0" cy="183.3" r="4.72"/>
<circle cx="1505.3" cy="386.7" r="4.72"/>
<circle cx="1476.2" cy="101.3" r="4.72"/>
<circle cx="1607.1" cy="274.4" r="4.72"/>
<circle cx="1447.3" cy="107.4" r="4.72"/>
<circle cx="1387.0" cy="99.9" r="4.72"/>
<circle cx="1413.3" cy="64.6" r="4.72"/>
<circle cx="1387.0" cy="259.4" r="4.72"/>
<circle cx="1479.6" cy="203.5" r="4.72"/>
<circle cx="1511.8" cy="430.5" r="4.72"/>
<circle cx="1436.6" cy="71.7" r="4.72"/>
<circle cx="1407.2" cy="137.5" r="4.72"/>
<circle cx="1410.1" cy="71.1" r="4.72"/>
<circle cx="1455.7" cy="102.8" r="4.72"/>
<circle cx="1415.2" cy="105.8" r="4.72"/>
<circle cx="1479.4" cy="271.2" r="4.72"/>
<circle cx="1395.8" cy="388.2" r="4.72"/>
<circle cx="1541.0" cy="130.3" r="4.72"/>
<circle cx="1479.1" cy="359.1" r="4.72"/>
<circle cx="1565.2" cy="320.8" r="4.72"/>
<circle cx="1387.0" cy="71.7" r="4.72"/>
<circle cx="1430.9" cy="203.5" r="4.72"/>
<circle cx="1410.5" cy="95.9" r="4.72"/>
<circle cx="1504.1" cy="334.1" r="4.72"/>
<circle cx="1443.8" cy="124.9" r="4.72"/>
<circle cx="1475.9" cy="226.9" r="4.72"/>
<circle cx="1387.0" cy="218.0" r="4.72"/>
<circle cx="1389.0" cy="95.4" r="4.72"/>
<circle cx="1420.6" cy="176.2" r="4.72"/>
<circle cx="1395.1" cy="265.8" r="4.72"/>
<circle cx="1526.0" cy="311.8" r="4.72"/>
<circle cx="1580.3" cy="376.5" r="4.72"/>
<circle cx="1565.8" cy="233.3" r="4.72"/>
<circle cx="1478.8" cy="282.5" r="4.72"/>
<circle cx="1459.5" cy="415.5" r="4.72"/>
<circle cx="1415.4" cy="152.5" r="4.72"/>
<circle cx="1446.2" cy="164.9" r="4.72"/>
<circle cx="1440.9" cy="377.4" r="4.72"/>
<circle cx="1533.1" cy="258.7" r="4.72"/>
<circle cx="1521.6" cy="176.2" r="4.72"/>
<circle cx="1430.5" cy="224.1" r="4.72"/>
<circle cx="1504.7" cy="219.3" r="4.72"/>
<circle cx="1398.8" cy="202.9" r="4.72"/>
<circle cx="1390.8" cy="190.7" r="4.72"/>
<circle cx="1393.5" cy="126.4" r="4.72"/>
<circle cx="1508.4" cy="313.7" r="4.72"/>
<circle cx="1461.5" cy="226.6" r="4.72"/>
<circle cx="1491.8" cy="117.8" r="4.72"/>
<circle cx="1425.6" cy="204.2" r="4.72"/>
<circle cx="1427.4" cy="200.8" r="4.72"/>
<circle cx="1414.5" cy="139.3" r="4.72"/>
<circle cx="1436.3" cy="328.2" r="4.72"/>
<circle cx="1420.0" cy="164.9" r="4.72"/>
<circle cx="1420.3" cy="49.3" r="4.72"/>
<circle cx="1387.0" cy="317.2" r="4.72"/>
<circle cx="1486.7" cy="401.2" r="4.72"/>
<circle cx="1388.2" cy="111.2" r="4.72"/>
<circle cx="1483.6" cy="354.2" r="4.72"/>
<circle cx="1391.5" cy="82.0" r="4.72"/>
<circle cx="1483.9" cy="222.0" r="4.72"/>
<circle cx="1408.6" cy="98.8" r="4.72"/>
<circle cx="1423.7" cy="52.0" r="4.72"/>
<circle cx="1453.4" cy="353.5" r="4.72"/>
<circle cx="1521.6" cy="278.6" r="4.72"/>
<circle cx="1467.2" cy="129.1" r="4.72"/>
<circle cx="1428.8" cy="281.5" r="4.72"/>
<circle cx="1528.0" cy="312.4" r="4.72"/>
<circle cx="1462.7" cy="269.8" r="4.72"/>
<circle cx="1425.8" cy="194.9" r="4.72"/>
<circle cx="1419.7" cy="196.3" r="4.72"/>
<circle cx="1473.5" cy="357.6" r="4.72"/>
<circle cx="1396.9" cy="287.2" r="4.72"/>
<circle cx="1471.4" cy="111.4" r="4.72"/>
<circle cx="1416.2" cy="377.1" r="4.72"/>
<circle cx="1459.5" cy="91.7" r="4.72"/>
<circle cx="1508.4" cy="249.2" r="4.72"/>
<circle cx="1456.3" cy="289.8" r="4.72"/>
<circle cx="1402.8" cy="203.2" r="4.72"/>
<circle cx="1426.9" cy="373.6" r="4.72"/>
<circle cx="1489.2" cy="378.8" r="4.72"/>
<circle cx="1444.0" cy="143.8" r="4.72"/>
<circle cx="1475.5" cy="254.2" r="4.72"/>
<circle cx="1409.5" cy="296.5" r="4.72"/>
<circle cx="1497.6" cy="305.5" r="4.72"/>
<circle cx="1387.0" cy="131.4" r="4.72"/>
<circle cx="1472.2" cy="421.1" r="4.72"/>
<circle cx="1461.8" cy="273.8" r="4.72"/>
<circle cx="1444.0" cy="90.8" r="4.72"/>
<circle cx="1459.1" cy="365.0" r="4.72"/>
<circle cx="1484.1" cy="343.8" r="4.72"/>
<circle cx="1529.7" cy="319.5" r="4.72"/>
<circle cx="1487.9" cy="427.6" r="4.72"/>
<circle cx="1409.8" cy="385.8" r="4.72"/>
<circle cx="1399.9" cy="156.9" r="4.72"/>
<circle cx="1487.5" cy="410.4" r="4.72"/>
<circle cx="1404.2" cy="145.1" r="4.72"/>
<circle cx="1418.8" cy="293.1" r="4.72"/>
<circle cx="1520.8" cy="392.9" r="4.72"/>
<circle cx="1468.6" cy="430.5" r="4.72"/>
<circle cx="1387.0" cy="315.7" r="4.72"/>
<circle cx="1421.7" cy="235.7" r="4.72"/>
<circle cx="1480.4" cy="387.9" r="4.72"/>
<circle cx="1455.8" cy="65.1" r="4.72"/>
<circle cx="1390.4" cy="183.5" r="4.72"/>
<circle cx="1499.4" cy="218.4" r="4.72"/>
<circle cx="1387.0" cy="268.1" r="4.72"/>
<circle cx="1473.7" cy="346.3" r="4.72"/>
<circle cx="1506.3" cy="317.2" r="4.72"/>
<circle cx="1401.9" cy="49.3" r="4.72"/>
<circle cx="1387.0" cy="68.5" r="4.72"/>
<circle cx="1405.2" cy="270.9" r="4.72"/>
<circle cx="1479.1" cy="206.5" r="4.72"/>
<circle cx="1431.5" cy="134.2" r="4.72"/>
<circle cx="1446.5" cy="85.0" r="4.72"/>
<circle cx="1523.5" cy="214.0" r="4.72"/>
<circle cx="1502.2" cy="338.1" r="4.72"/>
<circle cx="1519.5" cy="269.9" r="4.72"/>
<circle cx="1505.3" cy="430.5" r="4.72"/>
<circle cx="1461.0" cy="120.4" r="4.72"/>
<circle cx="1462.2" cy="124.4" r="4.72"/>
<circle cx="1550.3" cy="324.1" r="4.72"/>
<circle cx="1387.0" cy="128.7" r="4.72"/>
<circle cx="1446.3" cy="323.8" r="4.72"/>
<circle cx="1474.5" cy="376.4" r="4.72"/>
<circle cx="1411.2" cy="205.9" r="4.72"/>
<circle cx="1387.0" cy="349.8" r="4.72"/>
<circle cx="1405.1" cy="365.5" r="4.72"/>
<circle cx="1523.4" cy="298.8" r="4.72"/>
<circle cx="1496.7" cy="363.9" r="4.72"/>
<circle cx="1395.6" cy="246.6" r="4.72"/>
<circle cx="1409.6" cy="297.8" r="4.72"/>
<circle cx="1453.4" cy="212.5" r="4.72"/>
<circle cx="1445.0" cy="255.3" r="4.72"/>
<circle cx="1510.6" cy="232.3" r="4.72"/>
<circle cx="1435.9" cy="175.5" r="4.72"/>
<circle cx="1603.9" cy="323.0" r="4.72"/>
<circle cx="1507.0" cy="362.5" r="4.72"/>
<circle cx="1400.5" cy="323.4" r="4.72"/>
<circle cx="1490.8" cy="129.0" r="4.72"/>
<circle cx="1437.3" cy="348.2" r="4.72"/>
<circle cx="1475.3" cy="187.9" r="4.72"/>
<circle cx="1588.7" cy="318.4" r="4.72"/>
<circle cx="1430.9" cy="210.0" r="4.72"/>
<circle cx="1414.4" cy="243.6" r="4.72"/>
<circle cx="1414.2" cy="180.0" r="4.72"/>
<circle cx="1411.9" cy="406.5" r="4.72"/>
<circle cx="1458.8" cy="175.3" r="4.72"/>
<circle cx="1517.3" cy="318.5" r="4.72"/>
<circle cx="1568.5" cy="252.0" r="4.72"/>
<circle cx="1424.5" cy="351.5" r="4.72"/>
<circle cx="1543.9" cy="141.1" r="4.72"/>
<circle cx="1562.0" cy="338.0" r="4.72"/>
<circle cx="1388.9" cy="197.4" r="4.72"/>
<circle cx="1392.7" cy="335.1" r="4.72"/>
<circle cx="1422.8" cy="75.9" r="4.72"/>
<circle cx="1482.9" cy="267.5" r="4.72"/>
<circle cx="1466.0" cy="81.7" r="4.72"/>
<circle cx="1479.7" cy="273.9" r="4.72"/>
<circle cx="1430.6" cy="187.3" r="4.72"/>
<circle cx="1494.1" cy="234.4" r="4.72"/>
<circle cx="1424.7" cy="57.0" r="4.72"/>
<circle cx="1481.5" cy="117.3" r="4.72"/>
<circle cx="1463.9" cy="178.9" r="4.72"/>
<circle cx="1411.7" cy="252.3" r="4.72"/>
<circle cx="1514.4" cy="314.4" r="4.72"/>
<circle cx="1387.0" cy="129.8" r="4.72"/>
<circle cx="1494.5" cy="288.9" r="4.72"/>
<circle cx="1484.8" cy="400.3" r="4.72"/>
<circle cx="1438.5" cy="321.9" r="4.72"/>
<circle cx="1460.2" cy="211.3" r="4.72"/>
<circle cx="1538.3" cy="259.6" r="4.72"/>
<circle cx="1393.6" cy="227.1" r="4.72"/>
<circle cx="1418.9" cy="129.5" r="4.72"/>
<circle cx="1432.8" cy="317.7" r="4.72"/>
<circle cx="1453.7" cy="343.6" r="4.72"/>
<circle cx="1397.9" cy="79.7" r="4.72"/>
<circle cx="1401.9" cy="185.5" r="4.72"/>
<circle cx="1459.8" cy="381.8" r="4.72"/>
<circle cx="1522.0" cy="250.1" r="4.72"/>
<circle cx="1411.6" cy="239.2" r="4.72"/>
<circle cx="1515.1" cy="395.9" r="4.72"/>
<circle cx="1443.6" cy="112.6" r="4.72"/>
<circle cx="1473.1" cy="383.4" r="4.72"/>
<circle cx="1421.6" cy="83.0" r="4.72"/>
<circle cx="1387.0" cy="76.7" r="4.72"/>
<circle cx="1447.2" cy="251.6" r="4.72"/>
<circle cx="1430.2" cy="356.6" r="4.72"/>
<circle cx="1426.2" cy="95.2" r="4.72"/>
<circle cx="1436.3" cy="314.5" r="4.72"/>
<circle cx="1486.2" cy="230.8" r="4.72"/>
<circle cx="1475.8" cy="140.9" r="4.72"/>
<circle cx="1455.1" cy="34.0" r="4.72"/>
<circle cx="1404.4" cy="34.0" r="4.72"/>
<circle cx="1474.2" cy="89.2" r="4.72"/>
<circle cx="1494.9" cy="227.7" r="4.72"/>
<circle cx="1502.9" cy="311.0" r="4.72"/>
<circle cx="1460.8" cy="291.2" r="4.72"/>
<circle cx="1598.7" cy="151.1" r="4.72"/>
<circle cx="1520.9" cy="323.5" r="4.72"/>
<circle cx="1390.6" cy="266.6" r="4.72"/>
<circle cx="1492.5" cy="381.2" r="4.72"/>
<circle cx="1519.8" cy="302.2" r="4.72"/>
<circle cx="1389.2" cy="60.2" r="4.72"/>
<circle cx="1457.3" cy="207.5" r="4.72"/>
<circle cx="1496.9" cy="141.0" r="4.72"/>
<circle cx="1403.0" cy="338.0" r="4.72"/>
<circle cx="1468.3" cy="272.0" r="4.72"/>
<circle cx="1465.4" cy="185.1" r="4.72"/>
<circle cx="1448.7" cy="320.8" r="4.72"/>
<circle cx="1456.9" cy="298.8" r="4.72"/>
<circle cx="1433.3" cy="410.5" r="4.72"/>
<circle cx="1445.4" cy="52.0" r="4.72"/>
<circle cx="1432.7" cy="364.3" r="4.72"/>
<circle cx="1409.6" cy="409.0" r="4.72"/>
<circle cx="1502.4" cy="380.4" r="4.72"/>
<circle cx="1387.0" cy="285.0" r="4.72"/>
<circle cx="1387.0" cy="139.9" r="4.72"/>
<circle cx="1438.6" cy="122.4" r="4.72"/>
<circle cx="1416.0" cy="335.4" r="4.72"/>
<circle cx="1506.7" cy="329.2" r="4.72"/>
<circle cx="1387.0" cy="107.5" r="4.72"/>
<circle cx="1508.2" cy="345.4" r="4.72"/>
<circle cx="1490.7" cy="346.2" r="4.72"/>
<circle cx="1393.5" cy="363.0" r="4.72"/>
<circle cx="1390.7" cy="65.6" r="4.72"/>
<circle cx="1448.1" cy="227.3" r="4.72"/>
<circle cx="1387.0" cy="365.6" r="4.72"/>
<circle cx="1447.3" cy="189.7" r="4.72"/>
<circle cx="1478.7" cy="298.1" r="4.72"/>
<circle cx="1454.9" cy="149.7" r="4.72"/>
<circle cx="1396.8" cy="400.1" r="4.72"/>
<circle cx="1387.0" cy="73.5" r="4.72"/>
<circle cx="1459.6" cy="394.1" r="4.72"/>
<circle cx="1387.0" cy="118.3" r="4.72"/>
<circle cx="1513.3" cy="243.1" r="4.72"/>
<circle cx="1389.6" cy="34.0" r="4.72"/>
<circle cx="1501.7" cy="208.5" r="4.72"/>
<circle cx="1521.0" cy="281.1" r="4.72"/>
<circle cx="1405.5" cy="324.2" r="4.72"/>
<circle cx="1454.3" cy="425.3" r="4.72"/>
<circle cx="1487.7" cy="153.7" r="4.72"/>
<circle cx="1407.8" cy="199.9" r="4.72"/>
<circle cx="1446.8" cy="410.1" r="4.72"/>
<circle cx="1433.9" cy="235.3" r="4.72"/>
<circle cx="1491.6" cy="133.4" r="4.72"/>
<circle cx="1432.6" cy="106.8" r="4.72"/>
<circle cx="1401.4" cy="276.9" r="4.72"/>
<circle cx="1429.3" cy="34.0" r="4.72"/>
<circle cx="1406.3" cy="388.3" r="4.72"/>
<circle cx="1392.5" cy="258.5" r="4.72"/>
<circle cx="1461.6" cy="231.4" r="4.72"/>
<circle cx="1456.0" cy="170.3" r="4.72"/>
<circle cx="1387.0" cy="117.2" r="4.72"/>
<circle cx="1440.9" cy="98.8" r="4.72"/>
<circle cx="1612.5" cy="205.5" r="4.72"/>
<circle cx="1514.2" cy="390.1" r="4.72"/>
<circle cx="1427.8" cy="142.0" r="4.72"/>
<circle cx="1554.2" cy="335.1" r="4.72"/>
<circle cx="1397.3" cy="225.6" r="4.72"/>
<circle cx="1420.6" cy="428.5" r="4.72"/>
<circle cx="1514.2" cy="310.6" r="4.72"/>
<circle cx="1478.3" cy="310.2" r="4.72"/>
<circle cx="1488.1" cy="180.6" r="4.72"/>
<circle cx="1396.9" cy="153.1" r="4.72"/>
<circle cx="1387.0" cy="35.4" r="4.72"/>
<circle cx="1455.2" cy="418.4" r="4.72"/>
<circle cx="1432.6" cy="159.4" r="4.72"/>
<circle cx="1470.7" cy="412.3" r="4.72"/>
<circle cx="1498.2" cy="133.5" r="4.72"/>
<circle cx="1465.4" cy="101.1" r="4.72"/>
<circle cx="1479.5" cy="232.8" r="4.72"/>
<circle cx="1446.4" cy="264.2" r="4.72"/>
<circle cx="1394.0" cy="322.6" r="4.72"/>
<circle cx="1512.1" cy="357.7" r="4.72"/>
<circle cx="1448.9" cy="389.1" r="4.72"/>
<circle cx="1527.4" cy="407.9" r="4.72"/>
<circle cx="1387.0" cy="86.0" r="4.72"/>
<circle cx="1479.0" cy="317.9" r="4.72"/>
<circle cx="1493.3" cy="415.3" r="4.72"/>
<circle cx="1527.5" cy="369.1" r="4.72"/>
<circle cx="1449.1" cy="250.3" r="4.72"/>
<circle cx="1529.1" cy="344.2" r="4.72"/>
<circle cx="1420.7" cy="319.2" r="4.72"/>
<circle cx="1488.0" cy="412.9" r="4.72"/>
<circle cx="1425.4" cy="365.1" r="4.72"/>
<circle cx="1460.5" cy="353.4" r="4.72"/>
<circle cx="1467.7" cy="109.6" r="4.72"/>
<circle cx="1409.9" cy="144.2" r="4.72"/>
<circle cx="1490.8" cy="202.6" r="4.72"/>
<circle cx="1387.0" cy="368.4" r="4.72"/>
<circle cx="1451.1" cy="414.1" r="4.72"/>
<circle cx="1463.3" cy="345.9" r="4.72"/>
<circle cx="1506.8" cy="233.5" r="4.72"/>
<circle cx="1389.1" cy="263.8" r="4.72"/>
<circle cx="1387.0" cy="248.5" r="4.72"/>
<circle cx="1575.6" cy="320.5" r="4.72"/>
<circle cx="1478.3" cy="247.3" r="4.72"/>
<circle cx="1440.1" cy="309.3" r="4.72"/>
<circle cx="1409.4" cy="67.8" r="4.72"/>
<circle cx="1518.6" cy="340.9" r="4.72"/>
<circle cx="1460.2" cy="382.7" r="4.72"/>
<circle cx="1398.4" cy="200.5" r="4.72"/>
<circle cx="1404.4" cy="166.7" r="4.72"/>
<circle cx="1416.5" cy="175.4" r="4.72"/>
<circle cx="1443.1" cy="120.8" r="4.72"/>
<circle cx="1504.1" cy="306.9" r="4.72"/>
<circle cx="1551.9" cy="296.8" r="4.72"/>
<circle cx="1423.7" cy="334.3" r="4.72"/>
<circle cx="1442.8" cy="306.6" r="4.72"/>
<circle cx="1393.0" cy="228.2" r="4.72"/>
<circle cx="1443.1" cy="172.8" r="4.72"/>
<circle cx="1425.7" cy="119.2" r="4.72"/>
<circle cx="1448.7" cy="327.3" r="4.72"/>
<circle cx="1405.5" cy="60.1" r="4.72"/>
<circle cx="1446.0" cy="41.4" r="4.72"/>
<circle cx="1430.6" cy="404.4" r="4.72"/>
<circle cx="1510.5" cy="390.8" r="4.72"/>
<circle cx="1399.5" cy="324.0" r="4.72"/>
<circle cx="1404.5" cy="240.2" r="4.72"/>
<circle cx="1567.2" cy="150.3" r="4.72"/>
<circle cx="1401.1" cy="157.8" r="4.72"/>
<circle cx="1469.0" cy="376.2" r="4.72"/>
<circle cx="1508.1" cy="150.1" r="4.72"/>
<circle cx="1444.9" cy="173.2" r="4.72"/>
<circle cx="1506.2" cy="354.0" r="4.72"/>
<circle cx="1457.9" cy="294.9" r="4.72"/>
<circle cx="1542.6" cy="370.2" r="4.72"/>
<circle cx="1387.0" cy="145.1" r="4.72"/>
<circle cx="1495.3" cy="56.5" r="4.72"/>
<circle cx="1391.6" cy="276.4" r="4.72"/>
<circle cx="1643.9" cy="286.1" r="4.72"/>
<circle cx="1437.3" cy="78.1" r="4.72"/>
<circle cx="1436.2" cy="255.8" r="4.72"/>
<circle cx="1417.7" cy="264.5" r="4.72"/>
<circle cx="1452.7" cy="147.9" r="4.72"/>
<circle cx="1456.8" cy="137.6" r="4.72"/>
<circle cx="1470.8" cy="184.9" r="4.72"/>
<circle cx="1454.6" cy="271.2" r="4.72"/>
<circle cx="1387.0" cy="58.4" r="4.72"/>
<circle cx="1471.2" cy="160.8" r="4.72"/>
<circle cx="1481.7" cy="384.3" r="4.72"/>
<circle cx="1393.9" cy="95.3" r="4.72"/>
<circle cx="1501.5" cy="414.7" r="4.72"/>
<circle cx="1387.0" cy="309.5" r="4.72"/>
<circle cx="1422.0" cy="338.7" r="4.72"/>
<circle cx="1484.2" cy="411.6" r="4.72"/>
<circle cx="1513.4" cy="282.0" r="4.72"/>
<circle cx="1445.0" cy="119.2" r="4.72"/>
<circle cx="1391.7" cy="131.4" r="4.72"/>
<circle cx="1452.0" cy="418.7" r="4.72"/>
<circle cx="1390.4" cy="423.0" r="4.72"/>
<circle cx="1435.8" cy="64.0" r="4.72"/>
<circle cx="1392.0" cy="197.9" r="4.72"/>
<circle cx="1463.2" cy="139.9" r="4.72"/>
<circle cx="1409.8" cy="197.5" r="4.72"/>
<circle cx="1457.5" cy="216.5" r="4.72"/>
<circle cx="1411.5" cy="66.3" r="4.72"/>
<circle cx="1528.5" cy="95.3" r="4.72"/>
<circle cx="1387.0" cy="412.1" r="4.72"/>
<circle cx="1479.4" cy="410.3" r="4.72"/>
<circle cx="1438.3" cy="354.9" r="4.72"/>
<circle cx="1486.7" cy="209.7" r="4.72"/>
<circle cx="1387.0" cy="91.3" r="4.72"/>
<circle cx="1397.1" cy="388.5" r="4.72"/>
<circle cx="1413.1" cy="108.9" r="4.72"/>
<circle cx="1515.6" cy="302.0" r="4.72"/>
<circle cx="1437.0" cy="220.7" r="4.72"/>
<circle cx="1387.0" cy="286.8" r="4.72"/>
<circle cx="1391.4" cy="128.6" r="4.72"/>
<circle cx="1476.4" cy="371.0" r="4.72"/>
<circle cx="1509.0" cy="251.3" r="4.72"/>
<circle cx="1387.0" cy="303.7" r="4.72"/>
<circle cx="1409.1" cy="175.5" r="4.72"/>
<circle cx="1412.4" cy="361.7" r="4.72"/>
<circle cx="1520.3" cy="277.7" r="4.72"/>
<circle cx="1408.0" cy="232.1" r="4.72"/>
<circle cx="1404.3" cy="428.0" r="4.72"/>
<circle cx="1415.0" cy="89.5" r="4.72"/>
<circle cx="1453.3" cy="55.2" r="4.72"/>
<circle cx="1391.6" cy="34.0" r="4.72"/>
<circle cx="1387.0" cy="354.5" r="4.72"/>
<circle cx="1477.1" cy="280.4" r="4.72"/>
<circle cx="1460.6" cy="136.3" r="4.72"/>
<circle cx="1464.5" cy="147.0" r="4.72"/>
<circle cx="1387.0" cy="53.5" r="4.72"/>
<circle cx="1443.5" cy="202.8" r="4.72"/>
<circle cx="1498.2" cy="363.8" r="4.72"/>
<circle cx="1430.0" cy="321.5" r="4.72"/>
<circle cx="1387.0" cy="312.0" r="4.72"/>
<circle cx="1417.8" cy="68.3" r="4.72"/>
<circle cx="1491.2" cy="166.6" r="4.72"/>
<circle cx="1389.3" cy="120.7" r="4.72"/>
<circle cx="1499.8" cy="324.2" r="4.72"/>
<circle cx="1387.0" cy="188.1" r="4.72"/>
<circle cx="1535.7" cy="288.5" r="4.72"/>
<circle cx="1387.1" cy="410.2" r="4.72"/>
<circle cx="1418.2" cy="132.3" r="4.72"/>
<circle cx="1463.9" cy="406.4" r="4.72"/>
<circle cx="1536.0" cy="86.6" r="4.72"/>
<circle cx="1417.6" cy="76.7" r="4.72"/>
<circle cx="1441.6" cy="122.1" r="4.72"/>
<circle cx="1427.6" cy="428.2" r="4.72"/>
<circle cx="1502.5" cy="42.2" r="4.72"/>
<circle cx="1467.4" cy="418.6" r="4.72"/>
<circle cx="1388.3" cy="227.4" r="4.72"/>
<circle cx="1413.2" cy="210.0" r="4.72"/>
<circle cx="1415.1" cy="138.9" r="4.72"/>
<circle cx="1459.8" cy="401.9" r="4.72"/>
<circle cx="1389.0" cy="279.9" r="4.72"/>
<circle cx="1491.2" cy="339.2" r="4.72"/>
<circle cx="1548.3" cy="286.2" r="4.72"/>
<circle cx="1395.7" cy="329.2" r="4.72"/>
<circle cx="1411.9" cy="313.2" r="4.72"/>
<circle cx="1453.6" cy="346.6" r="4.72"/>
<circle cx="1494.6" cy="430.5" r="4.72"/>
<circle cx="1426.4" cy="243.1" r="4.72"/>
<circle cx="1417.0" cy="332.6" r="4.72"/>
<circle cx="1395.6" cy="359.0" r="4.72"/>
<circle cx="1387.0" cy="426.5" r="4.72"/>
<circle cx="1472.5" cy="382.7" r="4.72"/>
<circle cx="1402.6" cy="186.8" r="4.72"/>
<circle cx="1423.8" cy="89.4" r="4.72"/>
<circle cx="1492.2" cy="430.5" r="4.72"/>
<circle cx="1464.8" cy="346.0" r="4.72"/>
<circle cx="1482.0" cy="261.2" r="4.72"/>
<circle cx="1395.0" cy="61.5" r="4.72"/>
<circle cx="1605.6" cy="175.7" r="4.72"/>
<circle cx="1442.2" cy="166.8" r="4.72"/>
<circle cx="1461.1" cy="389.3" r="4.72"/>
<circle cx="1452.1" cy="148.1" r="4.72"/>
<circle cx="1397.0" cy="375.0" r="4.72"/>
<circle cx="1624.1" cy="256.3" r="4.72"/>
<circle cx="1482.2" cy="308.7" r="4.72"/>
<circle cx="1432.1" cy="144.2" r="4.72"/>
<circle cx="1520.0" cy="291.0" r="4.72"/>
<circle cx="1420.3" cy="288.1" r="4.72"/>
<circle cx="1407.7" cy="74.4" r="4.72"/>
<circle cx="1493.1" cy="262.9" r="4.72"/>
<circle cx="1387.0" cy="60.7" r="4.72"/>
<circle cx="1483.3" cy="430.5" r="4.72"/>
<circle cx="1397.4" cy="281.5" r="4.72"/>
<circle cx="1504.0" cy="403.4" r="4.72"/>
<circle cx="1442.1" cy="424.3" r="4.72"/>
<circle cx="1453.3" cy="218.7" r="4.72"/>
<circle cx="1387.0" cy="146.9" r="4.72"/>
<circle cx="1389.2" cy="104.5" r="4.72"/>
<circle cx="1417.9" cy="118.6" r="4.72"/>
<circle cx="1447.1" cy="195.9" r="4.72"/>
<circle cx="1493.7" cy="199.1" r="4.72"/>
<circle cx="1478.8" cy="346.8" r="4.72"/>
<circle cx="1454.8" cy="399.5" r="4.72"/>
<circle cx="1387.0" cy="58.0" r="4.72"/>
<circle cx="1454.6" cy="309.2" r="4.72"/>
<circle cx="1407.4" cy="35.3" r="4.72"/>
<circle cx="1401.4" cy="349.1" r="4.72"/>
<circle cx="1420.8" cy="117.8" r="4.72"/>
<circle cx="1488.7" cy="338.2" r="4.72"/>
<circle cx="1466.8" cy="346.4" r="4.72"/>
<circle cx="1482.6" cy="374.7" r="4.72"/>
<circle cx="1469.5" cy="106.6" r="4.72"/>
<circle cx="1412.3" cy="282.8" r="4.72"/>
<circle cx="1491.5" cy="367.9" r="4.72"/>
<circle cx="1458.2" cy="378.0" r="4.72"/>
<circle cx="1472.7" cy="366.4" r="4.72"/>
<circle cx="1436.0" cy="365.1" r="4.72"/>
<circle cx="1608.5" cy="361.3" r="4.72"/>
<circle cx="1602.0" cy="146.7" r="4.72"/>
<circle cx="1398.8" cy="309.3" r="4.72"/>
<circle cx="1478.1" cy="285.2" r="4.72"/>
<circle cx="1481.1" cy="67.5" r="4.72"/>
<circle cx="1407.8" cy="200.3" r="4.72"/>
<circle cx="1463.7" cy="428.0" r="4.72"/>
<circle cx="1492.9" cy="195.0" r="4.72"/>
<circle cx="1418.3" cy="76.4" r="4.72"/>
<circle cx="1511.0" cy="417.4" r="4.72"/>
<circle cx="1408.9" cy="200.7" r="4.72"/>
<circle cx="1481.5" cy="357.8" r="4.72"/>
<circle cx="1387.0" cy="346.5" r="4.72"/>
<circle cx="1449.1" cy="144.4" r="4.72"/>
<circle cx="1507.4" cy="426.9" r="4.72"/>
<circle cx="1474.7" cy="144.5" r="4.72"/>
<circle cx="1396.1" cy="265.2" r="4.72"/>
<circle cx="1387.0" cy="234.2" r="4.72"/>
<circle cx="1441.1" cy="126.5" r="4.72"/>
<circle cx="1396.3" cy="191.4" r="4.72"/>
<circle cx="1424.5" cy="217.1" r="4.72"/>
<circle cx="1479.5" cy="222.9" r="4.72"/>
<circle cx="1446.1" cy="196.8" r="4.72"/>
<circle cx="1407.1" cy="327.7" r="4.72"/>
<circle cx="1440.2" cy="195.4" r="4.72"/>
<circle cx="1467.4" cy="430.5" r="4.72"/>
<circle cx="1500.2" cy="430.5" r="4.72"/>
<circle cx="1505.7" cy="313.9" r="4.72"/>
<circle cx="1390.3" cy="319.4" r="4.72"/>
<circle cx="1515.5" cy="319.2" r="4.72"/>
<circle cx="1476.6" cy="398.5" r="4.72"/>
<circle cx="1468.5" cy="326.3" r="4.72"/>
<circle cx="1503.8" cy="263.1" r="4.72"/>
<circle cx="1609.9" cy="413.3" r="4.72"/>
<circle cx="1462.0" cy="296.2" r="4.72"/>
<circle cx="1447.0" cy="386.6" r="4.72"/>
<circle cx="1393.6" cy="415.4" r="4.72"/>
<circle cx="1454.0" cy="372.1" r="4.72"/>
<circle cx="1438.5" cy="269.8" r="4.72"/>
<circle cx="1387.0" cy="165.1" r="4.72"/>
<circle cx="1445.1" cy="345.9" r="4.72"/>
<circle cx="1562.0" cy="106.6" r="4.72"/>
<circle cx="1428.7" cy="430.5" r="4.72"/>
<circle cx="1415.0" cy="70.1" r="4.72"/>
<circle cx="1468.2" cy="327.9" r="4.72"/>
<circle cx="1433.0" cy="35.4" r="4.72"/>
<circle cx="1494.9" cy="333.6" r="4.72"/>
<circle cx="1545.9" cy="324.7" r="4.72"/>
<circle cx="1476.7" cy="353.9" r="4.72"/>
<circle cx="1461.1" cy="226.0" r="4.72"/>
<circle cx="1466.7" cy="151.1" r="4.72"/>
<circle cx="1548.3" cy="211.4" r="4.72"/>
<circle cx="1436.1" cy="122.6" r="4.72"/>
<circle cx="1444.1" cy="350.7" r="4.72"/>
<circle cx="1527.4" cy="213.0" r="4.72"/>
<circle cx="1520.7" cy="384.4" r="4.72"/>
<circle cx="1387.0" cy="331.4" r="4.72"/>
<circle cx="1441.6" cy="269.0" r="4.72"/>
<circle cx="1437.6" cy="167.3" r="4.72"/>
<circle cx="1516.3" cy="382.4" r="4.72"/>
<circle cx="1497.1" cy="168.7" r="4.72"/>
<circle cx="1463.1" cy="211.6" r="4.72"/>
<circle cx="1387.0" cy="308.4" r="4.72"/>
<circle cx="1446.1" cy="175.3" r="4.72"/>
<circle cx="1560.3" cy="348.3" r="4.72"/>
<circle cx="1573.3" cy="240.0" r="4.72"/>
<circle cx="1432.5" cy="233.4" r="4.72"/>
<circle cx="1428.5" cy="203.1" r="4.72"/>
<circle cx="1553.1" cy="166.7" r="4.72"/>
<circle cx="1504.2" cy="314.2" r="4.72"/>
<circle cx="1390.0" cy="339.6" r="4.72"/>
<circle cx="1399.4" cy="205.5" r="4.72"/>
<circle cx="1424.1" cy="201.3" r="4.72"/>
<circle cx="1491.5" cy="267.9" r="4.72"/>
<circle cx="1489.9" cy="237.8" r="4.72"/>
<circle cx="1406.5" cy="318.2" r="4.72"/>
<circle cx="1392.0" cy="134.2" r="4.72"/>
<circle cx="1452.6" cy="199.7" r="4.72"/>
<circle cx="1476.9" cy="109.0" r="4.72"/>
<circle cx="1417.6" cy="415.2" r="4.72"/>
<circle cx="1455.7" cy="94.9" r="4.72"/>
<circle cx="1456.5" cy="97.0" r="4.72"/>
<circle cx="1455.7" cy="162.7" r="4.72"/>
<circle cx="1421.0" cy="407.8" r="4.72"/>
<circle cx="1387.0" cy="203.6" r="4.72"/>
<circle cx="1466.1" cy="160.7" r="4.72"/>
<circle cx="1397.2" cy="54.3" r="4.72"/>
<circle cx="1412.0" cy="71.2" r="4.72"/>
<circle cx="1476.6" cy="342.5" r="4.72"/>
<circle cx="1480.5" cy="298.0" r="4.72"/>
<circle cx="1393.6" cy="413.5" r="4.72"/>
<circle cx="1495.7" cy="149.7" r="4.72"/>
<circle cx="1473.3" cy="38.2" r="4.72"/>
<circle cx="1414.5" cy="362.2" r="4.72"/>
<circle cx="1453.3" cy="117.0" r="4.72"/>
<circle cx="1388.1" cy="337.0" r="4.72"/>
<circle cx="1614.3" cy="292.7" r="4.72"/>
<circle cx="1446.1" cy="403.2" r="4.72"/>
<circle cx="1387.0" cy="41.8" r="4.72"/>
<circle cx="1515.6" cy="125.5" r="4.72"/>
<circle cx="1387.0" cy="79.6" r="4.72"/>
<circle cx="1502.8" cy="305.6" r="4.72"/>
<circle cx="1387.0" cy="373.8" r="4.72"/>
<circle cx="1394.5" cy="308.5" r="4.72"/>
<circle cx="1424.7" cy="335.6" r="4.72"/>
<circle cx="1471.5" cy="400.0" r="4.72"/>
<circle cx="1542.0" cy="360.4" r="4.72"/>
<circle cx="1422.1" cy="240.7" r="4.72"/>
<circle cx="1434.7" cy="157.4" r="4.72"/>
<circle cx="1513.5" cy="419.3" r="4.72"/>
<circle cx="1387.0" cy="421.6" r="4.72"/>
<circle cx="1480.5" cy="194.4" r="4.72"/>
<circle cx="1387.0" cy="99.3" r="4.72"/>
<circle cx="1419.3" cy="404.1" r="4.72"/>
<circle cx="1528.4" cy="341.2" r="4.72"/>
<circle cx="1440.1" cy="339.9" r="4.72"/>
<circle cx="1485.6" cy="328.0" r="4.72"/>
<circle cx="1551.2" cy="313.9" r="4.72"/>
<circle cx="1425.1" cy="282.2" r="4.72"/>
<circle cx="1632.5" cy="297.9" r="4.72"/>
<circle cx="1423.8" cy="176.6" r="4.72"/>
<circle cx="1393.0" cy="115.0" r="4.72"/>
<circle cx="1487.2" cy="333.7" r="4.72"/>
<circle cx="1483.1" cy="342.9" r="4.72"/>
<circle cx="1455.3" cy="115.9" r="4.72"/>
<circle cx="1470.7" cy="215.5" r="4.72"/>
<circle cx="1402.2" cy="362.1" r="4.72"/>
<circle cx="1629.0" cy="171.2" r="4.72"/>
<circle cx="1486.2" cy="343.8" r="4.72"/>
<circle cx="1496.8" cy="348.3" r="4.72"/>
<circle cx="1452.6" cy="308.6" r="4.72"/>
<circle cx="1466.0" cy="96.5" r="4.72"/>
<circle cx="1489.8" cy="278.3" r="4.72"/>
<circle cx="1590.7" cy="315.6" r="4.72"/>
<circle cx="1602.5" cy="230.2" r="4.72"/>
<circle cx="1510.2" cy="316.1" r="4.72"/>
<circle cx="1468.5" cy="311.4" r="4.72"/>
<circle cx="1387.0" cy="173.0" r="4.72"/>
<circle cx="1387.0" cy="417.3" r="4.72"/>
<circle cx="1462.6" cy="164.2" r="4.72"/>
<circle cx="1387.0" cy="119.5" r="4.72"/>
<circle cx="1435.7" cy="281.5" r="4.72"/>
<circle cx="1543.3" cy="99.4" r="4.72"/>
<circle cx="1389.0" cy="57.6" r="4.72"/>
<circle cx="1388.8" cy="206.4" r="4.72"/>
<circle cx="1448.0" cy="414.3" r="4.72"/>
<circle cx="1511.3" cy="219.3" r="4.72"/>
<circle cx="1489.3" cy="326.0" r="4.72"/>
<circle cx="1427.1" cy="386.8" r="4.72"/>
<circle cx="1437.0" cy="254.9" r="4.72"/>
<circle cx="1442.8" cy="78.2" r="4.72"/>
<circle cx="1580.7" cy="74.7" r="4.72"/>
<circle cx="1402.0" cy="360.6" r="4.72"/>
<circle cx="1485.2" cy="353.7" r="4.72"/>
<circle cx="1461.9" cy="94.7" r="4.72"/>
<circle cx="1412.2" cy="430.5" r="4.72"/>
<circle cx="1422.5" cy="196.2" r="4.72"/>
<circle cx="1455.5" cy="317.3" r="4.72"/>
<circle cx="1404.8" cy="430.5" r="4.72"/>
<circle cx="1462.3" cy="105.3" r="4.72"/>
<circle cx="1487.3" cy="199.2" r="4.72"/>
<circle cx="1475.8" cy="278.4" r="4.72"/>
<circle cx="1485.1" cy="123.9" r="4.72"/>
<circle cx="1485.7" cy="151.7" r="4.72"/>
<circle cx="1505.3" cy="230.5" r="4.72"/>
<circle cx="1482.4" cy="117.7" r="4.72"/>
<circle cx="1391.6" cy="278.6" r="4.72"/>
<circle cx="1518.4" cy="172.0" r="4.72"/>
<circle cx="1398.5" cy="51.5" r="4.72"/>
<circle cx="1438.0" cy="387.0" r="4.72"/>
<circle cx="1486.3" cy="226.7" r="4.72"/>
<circle cx="1411.0" cy="430.5" r="4.72"/>
<circle cx="1485.7" cy="359.3" r="4.72"/>
<circle cx="1446.4" cy="199.3" r="4.72"/>
<circle cx="1408.3" cy="169.4" r="4.72"/>
<circle cx="1488.0" cy="190.4" r="4.72"/>
<circle cx="1412.1" cy="342.8" r="4.72"/>
<circle cx="1505.1" cy="366.8" r="4.72"/>
<circle cx="1467.9" cy="416.7" r="4.72"/>
<circle cx="1510.7" cy="399.4" r="4.72"/>
<circle cx="1411.4" cy="430.5" r="4.72"/>
<circle cx="1468.1" cy="293.3" r="4.72"/>
<circle cx="1439.4" cy="70.1" r="4.72"/>
<circle cx="1463.3" cy="318.0" r="4.72"/>
<circle cx="1426.4" cy="133.4" r="4.72"/>
<circle cx="1537.4" cy="70.8" r="4.72"/>
<circle cx="1458.2" cy="139.3" r="4.72"/>
<circle cx="1485.8" cy="177.1" r="4.72"/>
<circle cx="1437.5" cy="118.8" r="4.72"/>
<circle cx="1443.5" cy="166.2" r="4.72"/>
<circle cx="1421.6" cy="184.5" r="4.72"/>
<circle cx="1479.8" cy="378.1" r="4.72"/>
<circle cx="1635.2" cy="264.5" r="4.72"/>
<circle cx="1493.7" cy="412.0" r="4.72"/>
<circle cx="1411.3" cy="356.2" r="4.72"/>
<circle cx="1387.0" cy="189.9" r="4.72"/>
<circle cx="1389.9" cy="172.7" r="4.72"/>
<circle cx="1616.6" cy="236.5" r="4.72"/>
<circle cx="1517.0" cy="280.8" r="4.72"/>
<circle cx="1514.1" cy="285.7" r="4.72"/>
<circle cx="1560.4" cy="325.2" r="4.72"/>
<circle cx="1508.0" cy="206.4" r="4.72"/>
<circle cx="1482.8" cy="285.4" r="4.72"/>
<circle cx="1450.9" cy="107.8" r="4.72"/>
<circle cx="1460.4" cy="92.8" r="4.72"/>
<circle cx="1417.3" cy="35.0" r="4.72"/>
<circle cx="1432.0" cy="127.8" r="4.72"/>
<circle cx="1446.3" cy="202.7" r="4.72"/>
<circle cx="1421.1" cy="318.7" r="4.72"/>
<circle cx="1482.5" cy="326.5" r="4.72"/>
<circle cx="1396.3" cy="83.2" r="4.72"/>
<circle cx="1466.8" cy="132.2" r="4.72"/>
<circle cx="1420.2" cy="391.3" r="4.72"/>
<circle cx="1461.4" cy="80.3" r="4.72"/>
<circle cx="1440.8" cy="267.9" r="4.72"/>
<circle cx="1523.0" cy="118.0" r="4.72"/>
<circle cx="1404.7" cy="171.9" r="4.72"/>
<circle cx="1475.5" cy="240.5" r="4.72"/>
<circle cx="1404.6" cy="201.4" r="4.72"/>
<circle cx="1596.7" cy="187.2" r="4.72"/>
<circle cx="1620.7" cy="231.1" r="4.72"/>
<circle cx="1651.6" cy="139.9" r="4.72"/>
<circle cx="1467.6" cy="216.5" r="4.72"/>
<circle cx="1478.6" cy="227.8" r="4.72"/>
<circle cx="1431.7" cy="185.1" r="4.72"/>
<circle cx="1409.1" cy="42.0" r="4.72"/>
<circle cx="1387.0" cy="390.5" r="4.72"/>
<circle cx="1451.5" cy="361.7" r="4.72"/>
<circle cx="1423.5" cy="276.6" r="4.72"/>
<circle cx="1489.5" cy="238.0" r="4.72"/>
<circle cx="1503.7" cy="258.3" r="4.72"/>
<circle cx="1470.7" cy="281.6" r="4.72"/>
<circle cx="1588.6" cy="239.8" r="4.72"/>
<circle cx="1480.7" cy="274.4" r="4.72"/>
<circle cx="1453.7" cy="39.2" r="4.72"/>
<circle cx="1388.0" cy="374.1" r="4.72"/>
<circle cx="1519.2" cy="321.2" r="4.72"/>
<circle cx="1495.0" cy="180.7" r="4.72"/>
<circle cx="1410.9" cy="148.5" r="4.72"/>
<circle cx="1462.3" cy="126.4" r="4.72"/>
<circle cx="1499.2" cy="308.7" r="4.72"/>
<circle cx="1515.2" cy="342.3" r="4.72"/>
<circle cx="1484.3" cy="262.8" r="4.72"/>
<circle cx="1565.1" cy="401.1" r="4.72"/>
<circle cx="1496.3" cy="146.7" r="4.72"/>
<circle cx="1509.0" cy="230.6" r="4.72"/>
<circle cx="1573.1" cy="229.6" r="4.72"/>
<circle cx="1500.9" cy="307.4" r="4.72"/>
<circle cx="1412.1" cy="354.2" r="4.72"/>
<circle cx="1453.6" cy="239.6" r="4.72"/>
<circle cx="1471.8" cy="286.6" r="4.72"/>
<circle cx="1391.6" cy="393.7" r="4.72"/>
<circle cx="1472.0" cy="223.2" r="4.72"/>
<circle cx="1409.1" cy="171.1" r="4.72"/>
<circle cx="1432.5" cy="262.0" r="4.72"/>
<circle cx="1401.7" cy="230.2" r="4.72"/>
<circle cx="1480.0" cy="428.7" r="4.72"/>
<circle cx="1463.0" cy="429.1" r="4.72"/>
<circle cx="1476.2" cy="327.4" r="4.72"/>
<circle cx="1397.9" cy="35.1" r="4.72"/>
<circle cx="1449.1" cy="79.9" r="4.72"/>
<circle cx="1412.8" cy="123.9" r="4.72"/>
<circle cx="1387.5" cy="226.7" r="4.72"/>
<circle cx="1387.0" cy="302.5" r="4.72"/>
<circle cx="1462.2" cy="161.8" r="4.72"/>
<circle cx="1475.3" cy="267.9" r="4.72"/>
<circle cx="1387.0" cy="422.6" r="4.72"/>
<circle cx="1437.4" cy="157.3" r="4.72"/>
<circle cx="1440.0" cy="190.5" r="4.72"/>
<circle cx="1455.3" cy="52.9" r="4.72"/>
<circle cx="1508.6" cy="321.1" r="4.72"/>
<circle cx="1387.0" cy="208.8" r="4.72"/>
<circle cx="1401.4" cy="349.1" r="4.72"/>
<circle cx="1486.3" cy="207.6" r="4.72"/>
<circle cx="1438.8" cy="238.9" r="4.72"/>
<circle cx="1512.1" cy="275.0" r="4.72"/>
<circle cx="1496.3" cy="175.5" r="4.72"/>
<circle cx="1420.7" cy="98.1" r="4.72"/>
<circle cx="1529.8" cy="159.7" r="4.72"/>
<circle cx="1492.5" cy="360.0" r="4.72"/>
<circle cx="1408.1" cy="365.1" r="4.72"/>
<circle cx="1387.0" cy="74.9" r="4.72"/>
<circle cx="1486.6" cy="218.0" r="4.72"/>
<circle cx="1387.0" cy="129.8" r="4.72"/>
<circle cx="1510.7" cy="428.1" r="4.72"/>
<circle cx="1413.7" cy="284.8" r="4.72"/>
<circle cx="1622.8" cy="187.5" r="4.72"/>
<circle cx="1388.6" cy="50.8" r="4.72"/>
<circle cx="1555.0" cy="246.0" r="4.72"/>
<circle cx="1512.9" cy="285.6" r="4.72"/>
<circle cx="1387.0" cy="217.4" r="4.72"/>
<circle cx="1486.0" cy="188.3" r="4.72"/>
<circle cx="1477.8" cy="428.3" r="4.72"/>
<circle cx="1399.8" cy="312.3" r="4.72"/>
<circle cx="1528.3" cy="38.7" r="4.72"/>
<circle cx="1443.3" cy="123.3" r="4.72"/>
<circle cx="1387.0" cy="335.1" r="4.72"/>
<circle cx="1440.7" cy="279.0" r="4.72"/>
<circle cx="1469.7" cy="335.1" r="4.72"/>
<circle cx="1500.2" cy="233.8" r="4.72"/>
<circle cx="1389.2" cy="136.8" r="4.72"/>
<circle cx="1387.0" cy="279.3" r="4.72"/>
<circle cx="1503.2" cy="376.5" r="4.72"/>
<circle cx="1488.2" cy="83.5" r="4.72"/>
<circle cx="1497.3" cy="383.1" r="4.72"/>
<circle cx="1471.8" cy="384.0" r="4.72"/>
<circle cx="1449.7" cy="142.2" r="4.72"/>
<circle cx="1443.2" cy="232.6" r="4.72"/>
<circle cx="1516.5" cy="356.1" r="4.72"/>
<circle cx="1499.8" cy="429.5" r="4.72"/>
<circle cx="1498.7" cy="174.4" r="4.72"/>
<circle cx="1496.9" cy="365.3" r="4.72"/>
<circle cx="1497.7" cy="201.7" r="4.72"/>
<circle cx="1389.9" cy="205.6" r="4.72"/>
<circle cx="1387.0" cy="199.5" r="4.72"/>
<circle cx="1387.0" cy="165.8" r="4.72"/>
<circle cx="1458.0" cy="118.3" r="4.72"/>
<circle cx="1499.3" cy="290.4" r="4.72"/>
<circle cx="1411.9" cy="120.2" r="4.72"/>
<circle cx="1503.8" cy="406.3" r="4.72"/>
<circle cx="1470.9" cy="189.5" r="4.72"/>
<circle cx="1529.6" cy="399.7" r="4.72"/>
<circle cx="1420.1" cy="164.6" r="4.72"/>
<circle cx="1518.0" cy="149.7" r="4.72"/>
<circle cx="1507.8" cy="266.6" r="4.72"/>
<circle cx="1387.0" cy="269.2" r="4.72"/>
<circle cx="1482.2" cy="370.3" r="4.72"/>
<circle cx="1427.3" cy="395.9" r="4.72"/>
<circle cx="1437.3" cy="60.5" r="4.72"/>
<circle cx="1498.8" cy="216.0" r="4.72"/>
<circle cx="1454.6" cy="62.0" r="4.72"/>
<circle cx="1481.5" cy="259.1" r="4.72"/>
<circle cx="1469.9" cy="114.4" r="4.72"/>
<circle cx="1503.8" cy="273.1" r="4.72"/>
<circle cx="1403.5" cy="296.2" r="4.72"/>
<circle cx="1422.2" cy="224.2" r="4.72"/>
<circle cx="1387.0" cy="121.7" r="4.72"/>
<circle cx="1562.8" cy="164.8" r="4.72"/>
<circle cx="1443.5" cy="289.4" r="4.72"/>
<circle cx="1411.1" cy="222.4" r="4.72"/>
<circle cx="1442.1" cy="114.4" r="4.72"/>
<circle cx="1441.5" cy="109.5" r="4.72"/>
<circle cx="1503.5" cy="217.8" r="4.72"/>
<circle cx="1471.7" cy="385.4" r="4.72"/>
<circle cx="1433.3" cy="413.9" r="4.72"/>
<circle cx="1448.9" cy="180.3" r="4.72"/>
<circle cx="1398.1" cy="37.2" r="4.72"/>
<circle cx="1387.0" cy="413.4" r="4.72"/>
<circle cx="1529.3" cy="327.1" r="4.72"/>
<circle cx="1460.1" cy="414.0" r="4.72"/>
<circle cx="1401.5" cy="167.6" r="4.72"/>
<circle cx="1440.3" cy="260.4" r="4.72"/>
<circle cx="1526.5" cy="321.4" r="4.72"/>
<circle cx="1425.8" cy="164.2" r="4.72"/>
<circle cx="1417.0" cy="223.9" r="4.72"/>
<circle cx="1516.9" cy="337.6" r="4.72"/>
<circle cx="1416.3" cy="56.3" r="4.72"/>
<circle cx="1570.9" cy="261.2" r="4.72"/>
<circle cx="1514.6" cy="408.4" r="4.72"/>
<circle cx="1387.0" cy="379.9" r="4.72"/>
<circle cx="1505.9" cy="364.2" r="4.72"/>
<circle cx="1387.0" cy="277.1" r="4.72"/>
<circle cx="1415.5" cy="78.7" r="4.72"/>
<circle cx="1425.9" cy="376.9" r="4.72"/>
<circle cx="1501.1" cy="382.3" r="4.72"/>
<circle cx="1501.0" cy="147.1" r="4.72"/>
<circle cx="1504.5" cy="298.4" r="4.72"/>
<circle cx="1429.3" cy="368.6" r="4.72"/>
<circle cx="1453.6" cy="70.0" r="4.72"/>
<circle cx="1509.1" cy="324.9" r="4.72"/>
<circle cx="1400.1" cy="177.6" r="4.72"/>
<circle cx="1387.0" cy="409.4" r="4.72"/>
<circle cx="1416.1" cy="229.7" r="4.72"/>
<circle cx="1475.1" cy="200.4" r="4.72"/>
<circle cx="1438.7" cy="108.1" r="4.72"/>
<circle cx="1471.6" cy="220.7" r="4.72"/>
<circle cx="1421.5" cy="344.4" r="4.72"/>
<circle cx="1414.4" cy="89.4" r="4.72"/>
<circle cx="1476.6" cy="118.4" r="4.72"/>
<circle cx="1427.5" cy="67.6" r="4.72"/>
<circle cx="1444.5" cy="346.1" r="4.72"/>
<circle cx="1395.7" cy="332.9" r="4.72"/>
<circle cx="1471.3" cy="400.4" r="4.72"/>
<circle cx="1416.4" cy="299.4" r="4.72"/>
<circle cx="1482.2" cy="402.1" r="4.72"/>
<circle cx="1457.7" cy="285.0" r="4.72"/>
<circle cx="1456.8" cy="311.4" r="4.72"/>
<circle cx="1391.6" cy="397.5" r="4.72"/>
<circle cx="1387.0" cy="164.2" r="4.72"/>
<circle cx="1440.6" cy="109.8" r="4.72"/>
<circle cx="1446.4" cy="173.1" r="4.72"/>
<circle cx="1440.3" cy="299.3" r="4.72"/>
<circle cx="1423.4" cy="171.2" r="4.72"/>
<circle cx="1406.8" cy="261.6" r="4.72"/>
<circle cx="1510.7" cy="430.5" r="4.72"/>
<circle cx="1387.0" cy="275.6" r="4.72"/>
<circle cx="1488.6" cy="430.5" r="4.72"/>
<circle cx="1398.3" cy="43.7" r="4.72"/>
<circle cx="1434.9" cy="102.3" r="4.72"/>
<circle cx="1396.2" cy="412.8" r="4.72"/>
<circle cx="1418.5" cy="378.4" r="4.72"/>
<circle cx="1465.5" cy="123.0" r="4.72"/>
<circle cx="1413.8" cy="272.6" r="4.72"/>
<circle cx="1387.0" cy="266.7" r="4.72"/>
<circle cx="1409.4" cy="214.0" r="4.72"/>
<circle cx="1428.7" cy="207.8" r="4.72"/>
<circle cx="1412.9" cy="255.5" r="4.72"/>
<circle cx="1568.3" cy="165.0" r="4.72"/>
<circle cx="1435.5" cy="258.5" r="4.72"/>
<circle cx="1523.0" cy="326.5" r="4.72"/>
<circle cx="1400.4" cy="239.4" r="4.72"/>
<circle cx="1428.5" cy="401.9" r="4.72"/>
<circle cx="1466.9" cy="78.0" r="4.72"/>
<circle cx="1473.6" cy="307.9" r="4.72"/>
<circle cx="1492.4" cy="321.4" r="4.72"/>
<circle cx="1490.1" cy="167.9" r="4.72"/>
<circle cx="1406.3" cy="412.0" r="4.72"/>
<circle cx="1387.0" cy="57.8" r="4.72"/>
<circle cx="1412.7" cy="427.4" r="4.72"/>
<circle cx="1430.8" cy="316.8" r="4.72"/>
<circle cx="1430.9" cy="266.7" r="4.72"/>
<circle cx="1408.8" cy="138.1" r="4.72"/>
<circle cx="1502.3" cy="354.6" r="4.72"/>
<circle cx="1536.6" cy="98.8" r="4.72"/>
<circle cx="1448.9" cy="267.4" r="4.72"/>
<circle cx="1405.1" cy="103.2" r="4.72"/>
<circle cx="1459.1" cy="278.6" r="4.72"/>
<circle cx="1468.8" cy="412.9" r="4.72"/>
<circle cx="1454.8" cy="156.9" r="4.72"/>
<circle cx="1474.2" cy="272.4" r="4.72"/>
<circle cx="1397.7" cy="103.9" r="4.72"/>
<circle cx="1388.7" cy="341.7" r="4.72"/>
<circle cx="1461.0" cy="405.2" r="4.72"/>
<circle cx="1387.0" cy="199.2" r="4.72"/>
<circle cx="1537.2" cy="139.2" r="4.72"/>
<circle cx="1473.0" cy="264.2" r="4.72"/>
<circle cx="1401.9" cy="389.5" r="4.72"/>
<circle cx="1474.1" cy="236.3" r="4.72"/>
<circle cx="1481.2" cy="379.3" r="4.72"/>
<circle cx="1493.8" cy="183.0" r="4.72"/>
<circle cx="1455.2" cy="110.2" r="4.72"/>
<circle cx="1393.3" cy="74.1" r="4.72"/>
<circle cx="1387.0" cy="276.6" r="4.72"/>
<circle cx="1423.0" cy="115.3" r="4.72"/>
<circle cx="1399.0" cy="56.9" r="4.72"/>
<circle cx="1436.1" cy="342.1" r="4.72"/>
<circle cx="1387.0" cy="272.9" r="4.72"/>
<circle cx="1513.5" cy="288.4" r="4.72"/>
<circle cx="1444.4" cy="221.8" r="4.72"/>
<circle cx="1483.4" cy="384.5" r="4.72"/>
<circle cx="1418.9" cy="295.2" r="4.72"/>
<circle cx="1416.8" cy="331.1" r="4.72"/>
<circle cx="1418.4" cy="104.4" r="4.72"/>
<circle cx="1609.7" cy="335.1" r="4.72"/>
<circle cx="1481.8" cy="342.7" r="4.72"/>
<circle cx="1435.3" cy="314.4" r="4.72"/>
<circle cx="1465.2" cy="195.2" r="4.72"/>
<circle cx="1462.6" cy="398.3" r="4.72"/>
<circle cx="1452.2" cy="221.2" r="4.72"/>
<circle cx="1407.4" cy="400.2" r="4.72"/>
<circle cx="1500.8" cy="222.3" r="4.72"/>
<circle cx="1393.1" cy="288.4" r="4.72"/>
<circle cx="1449.5" cy="59.4" r="4.72"/>
<circle cx="1402.3" cy="129.2" r="4.72"/>
<circle cx="1426.5" cy="233.7" r="4.72"/>
<circle cx="1401.7" cy="260.8" r="4.72"/>
<circle cx="1486.7" cy="309.4" r="4.72"/>
<circle cx="1434.3" cy="255.2" r="4.72"/>
<circle cx="1457.4" cy="270.7" r="4.72"/>
<circle cx="1427.9" cy="374.2" r="4.72"/>
<circle cx="1387.0" cy="152.2" r="4.72"/>
<circle cx="1468.4" cy="326.2" r="4.72"/>
<circle cx="1449.2" cy="282.1" r="4.72"/>
<circle cx="1391.8" cy="376.9" r="4.72"/>
<circle cx="1481.8" cy="192.1" r="4.72"/>
<circle cx="1482.4" cy="221.4" r="4.72"/>
<circle cx="1409.1" cy="399.5" r="4.72"/>
<circle cx="1427.8" cy="277.4" r="4.72"/>
<circle cx="1463.8" cy="338.1" r="4.72"/>
<circle cx="1414.4" cy="294.2" r="4.72"/>
<circle cx="1407.1" cy="260.8" r="4.72"/>
<circle cx="1475.7" cy="219.6" r="4.72"/>
<circle cx="1407.3" cy="171.7" r="4.72"/>
<circle cx="1387.0" cy="243.4" r="4.72"/>
<circle cx="1404.3" cy="326.9" r="4.72"/>
<circle cx="1396.0" cy="298.6" r="4.72"/>
<circle cx="1406.7" cy="232.5" r="4.72"/>
<circle cx="1441.2" cy="306.4" r="4.72"/>
<circle cx="1441.0" cy="136.1" r="4.72"/>
<circle cx="1470.4" cy="203.6" r="4.72"/>
<circle cx="1458.9" cy="90.9" r="4.72"/>
<circle cx="1439.3" cy="415.3" r="4.72"/>
<circle cx="1469.7" cy="99.3" r="4.72"/>
<circle cx="1401.0" cy="378.7" r="4.72"/>
<circle cx="1471.1" cy="299.2" r="4.72"/>
<circle cx="1450.5" cy="292.6" r="4.72"/>
<circle cx="1388.1" cy="170.7" r="4.72"/>
<circle cx="1400.4" cy="305.4" r="4.72"/>
<circle cx="1402.2" cy="142.0" r="4.72"/>
<circle cx="1448.9" cy="107.8" r="4.72"/>
<circle cx="1456.4" cy="378.4" r="4.72"/>
<circle cx="1466.8" cy="187.2" r="4.72"/>
<circle cx="1487.5" cy="424.7" r="4.72"/>
<circle cx="1472.0" cy="319.4" r="4.72"/>
<circle cx="1517.2" cy="283.0" r="4.72"/>
<circle cx="1430.0" cy="90.1" r="4.72"/>
<circle cx="1415.7" cy="296.6" r="4.72"/>
<circle cx="1387.0" cy="401.6" r="4.72"/>
<circle cx="1477.9" cy="174.9" r="4.72"/>
<circle cx="1387.0" cy="275.3" r="4.72"/>
<circle cx="1442.0" cy="387.4" r="4.72"/>
<circle cx="1387.8" cy="65.2" r="4.72"/>
<circle cx="1479.9" cy="415.9" r="4.72"/>
<circle cx="1435.5" cy="127.5" r="4.72"/>
<circle cx="1464.2" cy="291.1" r="4.72"/>
<circle cx="1458.9" cy="137.0" r="4.72"/>
<circle cx="1482.0" cy="287.9" r="4.72"/>
<circle cx="1476.3" cy="365.6" r="4.72"/>
<circle cx="1458.8" cy="421.0" r="4.72"/>
<circle cx="1485.2" cy="296.7" r="4.72"/>
<circle cx="1387.6" cy="413.1" r="4.72"/>
<circle cx="1487.1" cy="270.6" r="4.72"/>
<circle cx="1410.0" cy="34.0" r="4.72"/>
<circle cx="1462.6" cy="420.8" r="4.72"/>
<circle cx="1464.7" cy="77.7" r="4.72"/>
<circle cx="1397.0" cy="157.1" r="4.72"/>
<circle cx="1397.5" cy="57.7" r="4.72"/>
<circle cx="1539.9" cy="169.7" r="4.72"/>
<circle cx="1462.2" cy="277.3" r="4.72"/>
<circle cx="1455.8" cy="183.1" r="4.72"/>
<circle cx="1447.4" cy="230.8" r="4.72"/>
<circle cx="1478.9" cy="346.8" r="4.72"/>
<circle cx="1404.3" cy="187.1" r="4.72"/>
<circle cx="1480.5" cy="315.5" r="4.72"/>
<circle cx="1425.0" cy="275.7" r="4.72"/>
<circle cx="1415.9" cy="71.9" r="4.72"/>
<circle cx="1492.0" cy="183.7" r="4.72"/>
<circle cx="1511.7" cy="430.5" r="4.72"/>
<circle cx="1494.6" cy="360.9" r="4.72"/>
<circle cx="1411.5" cy="384.2" r="4.72"/>
<circle cx="1429.6" cy="377.9" r="4.72"/>
<circle cx="1522.1" cy="364.5" r="4.72"/>
<circle cx="1394.2" cy="132.2" r="4.72"/>
<circle cx="1407.1" cy="410.7" r="4.72"/>
<circle cx="1397.1" cy="378.1" r="4.72"/>
<circle cx="1457.0" cy="322.5" r="4.72"/>
<circle cx="1387.0" cy="231.3" r="4.72"/>
<circle cx="1390.0" cy="34.0" r="4.72"/>
<circle cx="1395.9" cy="306.2" r="4.72"/>
<circle cx="1494.6" cy="161.5" r="4.72"/>
<circle cx="1453.3" cy="408.7" r="4.72"/>
<circle cx="1502.1" cy="181.1" r="4.72"/>
<circle cx="1502.3" cy="133.2" r="4.72"/>
<circle cx="1387.0" cy="391.8" r="4.72"/>
<circle cx="1401.8" cy="112.7" r="4.72"/>
<circle cx="1527.6" cy="139.0" r="4.72"/>
<circle cx="1436.3" cy="374.7" r="4.72"/>
<circle cx="1446.3" cy="400.4" r="4.72"/>
<circle cx="1456.3" cy="392.4" r="4.72"/>
<circle cx="1453.0" cy="415.9" r="4.72"/>
<circle cx="1458.4" cy="79.5" r="4.72"/>
<circle cx="1444.9" cy="342.9" r="4.72"/>
<circle cx="1500.8" cy="265.8" r="4.72"/>
<circle cx="1460.1" cy="324.5" r="4.72"/>
<circle cx="1387.0" cy="272.2" r="4.72"/>
<circle cx="1419.9" cy="150.9" r="4.72"/>
<circle cx="1449.1" cy="59.7" r="4.72"/>
<circle cx="1404.6" cy="146.8" r="4.72"/>
<circle cx="1516.4" cy="403.5" r="4.72"/>
<circle cx="1395.9" cy="242.0" r="4.72"/>
<circle cx="1433.0" cy="333.9" r="4.72"/>
<circle cx="1389.6" cy="357.4" r="4.72"/>
<circle cx="1449.0" cy="84.5" r="4.72"/>
<circle cx="1505.4" cy="220.8" r="4.72"/>
<circle cx="1424.5" cy="102.4" r="4.72"/>
<circle cx="1440.0" cy="260.2" r="4.72"/>
<circle cx="1421.9" cy="265.0" r="4.72"/>
<circle cx="1502.6" cy="252.4" r="4.72"/>
<circle cx="1465.5" cy="374.8" r="4.72"/>
<circle cx="1437.5" cy="184.7" r="4.72"/>
<circle cx="1534.3" cy="233.7" r="4.72"/>
<circle cx="1405.4" cy="67.9" r="4.72"/>
<circle cx="1387.0" cy="371.5" r="4.72"/>
<circle cx="1441.9" cy="378.8" r="4.72"/>
<circle cx="1413.9" cy="96.7" r="4.72"/>
<circle cx="1441.2" cy="392.1" r="4.72"/>
<circle cx="1511.7" cy="242.3" r="4.72"/>
<circle cx="1504.2" cy="390.5" r="4.72"/>
<circle cx="1436.8" cy="269.9" r="4.72"/>
<circle cx="1433.2" cy="120.1" r="4.72"/>
<circle cx="1464.8" cy="82.1" r="4.72"/>
<circle cx="1387.0" cy="280.1" r="4.72"/>
<circle cx="1440.9" cy="172.3" r="4.72"/>
<circle cx="1495.6" cy="187.7" r="4.72"/>
<circle cx="1515.2" cy="274.0" r="4.72"/>
<circle cx="1454.6" cy="257.5" r="4.72"/>
<circle cx="1415.1" cy="50.4" r="4.72"/>
<circle cx="1431.0" cy="121.8" r="4.72"/>
<circle cx="1425.8" cy="403.1" r="4.72"/>
<circle cx="1484.8" cy="276.1" r="4.72"/>
<circle cx="1462.3" cy="378.0" r="4.72"/>
<circle cx="1394.4" cy="428.5" r="4.72"/>
<circle cx="1430.8" cy="183.7" r="4.72"/>
<circle cx="1410.8" cy="91.9" r="4.72"/>
<circle cx="1450.7" cy="264.1" r="4.72"/>
<circle cx="1487.2" cy="333.6" r="4.72"/>
<circle cx="1441.3" cy="134.6" r="4.72"/>
<circle cx="1387.0" cy="419.6" r="4.72"/>
<circle cx="1630.0" cy="165.3" r="4.72"/>
<circle cx="1393.6" cy="175.7" r="4.72"/>
<circle cx="1467.6" cy="398.0" r="4.72"/>
<circle cx="1397.0" cy="134.3" r="4.72"/>
<circle cx="1390.4" cy="338.4" r="4.72"/>
<circle cx="1462.6" cy="128.5" r="4.72"/>
<circle cx="1387.0" cy="332.1" r="4.72"/>
<circle cx="1476.3" cy="298.9" r="4.72"/>
<circle cx="1437.1" cy="218.4" r="4.72"/>
<circle cx="1466.6" cy="355.1" r="4.72"/>
<circle cx="1436.6" cy="274.3" r="4.72"/>
<circle cx="1604.3" cy="351.9" r="4.72"/>
<circle cx="1398.2" cy="127.3" r="4.72"/>
<circle cx="1605.6" cy="424.8" r="4.72"/>
<circle cx="1392.2" cy="182.7" r="4.72"/>
<circle cx="1424.0" cy="159.3" r="4.72"/>
<circle cx="1504.2" cy="295.8" r="4.72"/>
<circle cx="1537.0" cy="295.7" r="4.72"/>
<circle cx="1458.7" cy="53.8" r="4.72"/>
<circle cx="1489.4" cy="184.8" r="4.72"/>
<circle cx="1485.2" cy="312.4" r="4.72"/>
<circle cx="1508.1" cy="216.1" r="4.72"/>
<circle cx="1415.6" cy="423.9" r="4.72"/>
<circle cx="1491.3" cy="155.7" r="4.72"/>
<circle cx="1508.6" cy="430.5" r="4.72"/>
<circle cx="1437.9" cy="111.0" r="4.72"/>
<circle cx="1387.0" cy="292.6" r="4.72"/>
<circle cx="1396.1" cy="363.9" r="4.72"/>
<circle cx="1476.3" cy="167.7" r="4.72"/>
<circle cx="1495.0" cy="376.5" r="4.72"/>
<circle cx="1429.8" cy="312.1" r="4.72"/>
<circle cx="1494.1" cy="186.7" r="4.72"/>
<circle cx="1527.4" cy="391.1" r="4.72"/>
<circle cx="1396.6" cy="120.6" r="4.72"/>
<circle cx="1537.1" cy="150.6" r="4.72"/>
<circle cx="1432.4" cy="205.0" r="4.72"/>
<circle cx="1415.0" cy="215.2" r="4.72"/>
<circle cx="1507.5" cy="221.6" r="4.72"/>
<circle cx="1407.0" cy="326.6" r="4.72"/>
<circle cx="1472.7" cy="150.3" r="4.72"/>
<circle cx="1391.5" cy="373.9" r="4.72"/>
<circle cx="1424.8" cy="280.5" r="4.72"/>
<circle cx="1513.1" cy="415.1" r="4.72"/>
<circle cx="1497.1" cy="367.4" r="4.72"/>
<circle cx="1433.0" cy="142.2" r="4.72"/>
<circle cx="1510.0" cy="289.0" r="4.72"/>
<circle cx="1421.6" cy="382.4" r="4.72"/>
<circle cx="1404.1" cy="79.9" r="4.72"/>
<circle cx="1449.2" cy="279.0" r="4.72"/>
<circle cx="1445.7" cy="134.9" r="4.72"/>
<circle cx="1490.8" cy="235.7" r="4.72"/>
<circle cx="1409.1" cy="277.0" r="4.72"/>
<circle cx="1514.1" cy="267.3" r="4.72"/>
<circle cx="1452.2" cy="330.4" r="4.72"/>
<circle cx="1436.4" cy="40.7" r="4.72"/>
<circle cx="1482.3" cy="141.9" r="4.72"/>
<circle cx="1418.5" cy="117.7" r="4.72"/>
<circle cx="1466.3" cy="221.0" r="4.72"/>
<circle cx="1408.0" cy="101.2" r="4.72"/>
<circle cx="1471.8" cy="377.9" r="4.72"/>
<circle cx="1496.7" cy="329.7" r="4.72"/>
<circle cx="1462.4" cy="93.7" r="4.72"/>
<circle cx="1515.0" cy="385.3" r="4.72"/>
<circle cx="1445.7" cy="323.3" r="4.72"/>
<circle cx="1435.1" cy="189.2" r="4.72"/>
<circle cx="1393.6" cy="71.3" r="4.72"/>
<circle cx="1394.9" cy="397.4" r="4.72"/>
<circle cx="1493.6" cy="188.3" r="4.72"/>
<circle cx="1483.6" cy="253.5" r="4.72"/>
<circle cx="1446.6" cy="62.0" r="4.72"/>
<circle cx="1532.7" cy="50.6" r="4.72"/>
<circle cx="1422.3" cy="335.9" r="4.72"/>
<circle cx="1418.3" cy="174.1" r="4.72"/>
<circle cx="1387.0" cy="106.5" r="4.72"/>
<circle cx="1470.5" cy="217.7" r="4.72"/>
<circle cx="1483.2" cy="284.9" r="4.72"/>
<circle cx="1489.7" cy="177.0" r="4.72"/>
<circle cx="1396.4" cy="180.6" r="4.72"/>
<circle cx="1554.2" cy="207.9" r="4.72"/>
<circle cx="1513.7" cy="318.3" r="4.72"/>
<circle cx="1481.7" cy="167.2" r="4.72"/>
<circle cx="1473.8" cy="139.9" r="4.72"/>
<circle cx="1419.3" cy="381.0" r="4.72"/>
<circle cx="1387.1" cy="49.3" r="4.72"/>
<circle cx="1438.0" cy="367.6" r="4.72"/>
<circle cx="1474.4" cy="372.6" r="4.72"/>
<circle cx="1500.1" cy="323.8" r="4.72"/>
<circle cx="1480.6" cy="225.6" r="4.72"/>
<circle cx="1416.8" cy="273.0" r="4.72"/>
<circle cx="1460.5" cy="277.6" r="4.72"/>
<circle cx="1401.0" cy="189.0" r="4.72"/>
<circle cx="1508.3" cy="263.4" r="4.72"/>
<circle cx="1481.1" cy="182.2" r="4.72"/>
<circle cx="1521.6" cy="276.7" r="4.72"/>
<circle cx="1485.6" cy="400.2" r="4.72"/>
<circle cx="1515.3" cy="226.8" r="4.72"/>
<circle cx="1498.6" cy="149.9" r="4.72"/>
<circle cx="1423.5" cy="179.9" r="4.72"/>
<circle cx="1398.2" cy="383.3" r="4.72"/>
<circle cx="1464.9" cy="131.7" r="4.72"/>
<circle cx="1524.1" cy="310.8" r="4.72"/>
<circle cx="1463.6" cy="147.5" r="4.72"/>
<circle cx="1517.9" cy="294.9" r="4.72"/>
<circle cx="1487.1" cy="256.9" r="4.72"/>
<circle cx="1450.0" cy="274.8" r="4.72"/>
<circle cx="1526.2" cy="244.9" r="4.72"/>
<circle cx="1476.5" cy="229.4" r="4.72"/>
<circle cx="1408.6" cy="374.0" r="4.72"/>
<circle cx="1492.4" cy="149.8" r="4.72"/>
<circle cx="1415.5" cy="263.6" r="4.72"/>
<circle cx="1392.1" cy="324.4" r="4.72"/>
<circle cx="1488.6" cy="203.7" r="4.72"/>
<circle cx="1416.2" cy="189.3" r="4.72"/>
<circle cx="1387.0" cy="113.9" r="4.72"/>
<circle cx="1447.0" cy="193.0" r="4.72"/>
<circle cx="1447.1" cy="373.1" r="4.72"/>
<circle cx="1437.8" cy="129.3" r="4.72"/>
<circle cx="1507.1" cy="284.0" r="4.72"/>
<circle cx="1470.3" cy="56.9" r="4.72"/>
<circle cx="1470.4" cy="228.8" r="4.72"/>
<circle cx="1503.1" cy="255.0" r="4.72"/>
<circle cx="1487.7" cy="424.7" r="4.72"/>
<circle cx="1454.6" cy="103.3" r="4.72"/>
<circle cx="1401.2" cy="347.1" r="4.72"/>
<circle cx="1411.8" cy="174.5" r="4.72"/>
<circle cx="1422.3" cy="382.2" r="4.72"/>
<circle cx="1399.9" cy="353.7" r="4.72"/>
<circle cx="1398.5" cy="196.2" r="4.72"/>
<circle cx="1411.7" cy="287.7" r="4.72"/>
<circle cx="1454.3" cy="260.5" r="4.72"/>
<circle cx="1387.0" cy="294.2" r="4.72"/>
<circle cx="1402.6" cy="107.6" r="4.72"/>
<circle cx="1415.7" cy="281.0" r="4.72"/>
<circle cx="1390.4" cy="163.1" r="4.72"/>
<circle cx="1419.2" cy="38.8" r="4.72"/>
<circle cx="1408.8" cy="297.6" r="4.72"/>
<circle cx="1414.2" cy="147.9" r="4.72"/>
<circle cx="1454.5" cy="192.6" r="4.72"/>
<circle cx="1472.4" cy="329.1" r="4.72"/>
<circle cx="1481.9" cy="427.0" r="4.72"/>
<circle cx="1417.7" cy="293.5" r="4.72"/>
<circle cx="1387.0" cy="370.4" r="4.72"/>
<circle cx="1419.7" cy="197.8" r="4.72"/>
<circle cx="1504.8" cy="322.0" r="4.72"/>
<circle cx="1409.6" cy="99.1" r="4.72"/>
<circle cx="1488.0" cy="156.7" r="4.72"/>
<circle cx="1413.7" cy="155.5" r="4.72"/>
<circle cx="1492.5" cy="319.1" r="4.72"/>
<circle cx="1387.0" cy="363.3" r="4.72"/>
<circle cx="1491.3" cy="193.0" r="4.72"/>
<circle cx="1434.4" cy="58.8" r="4.72"/>
<circle cx="1413.1" cy="303.2" r="4.72"/>
<circle cx="1428.8" cy="374.4" r="4.72"/>
<circle cx="1422.8" cy="305.7" r="4.72"/>
<circle cx="1490.3" cy="357.9" r="4.72"/>
<circle cx="1407.2" cy="258.8" r="4.72"/>
<circle cx="1490.5" cy="145.6" r="4.72"/>
<circle cx="1433.4" cy="383.5" r="4.72"/>
<circle cx="1412.4" cy="277.2" r="4.72"/>
<circle cx="1543.9" cy="379.3" r="4.72"/>
<circle cx="1419.2" cy="228.6" r="4.72"/>
<circle cx="1468.5" cy="356.1" r="4.72"/>
<circle cx="1472.5" cy="184.9" r="4.72"/>
<circle cx="1588.7" cy="280.6" r="4.72"/>
<circle cx="1472.7" cy="397.1" r="4.72"/>
<circle cx="1392.9" cy="301.7" r="4.72"/>
<circle cx="1405.2" cy="134.4" r="4.72"/>
<circle cx="1392.0" cy="94.0" r="4.72"/>
<circle cx="1434.6" cy="328.8" r="4.72"/>
<circle cx="1480.1" cy="430.5" r="4.72"/>
<circle cx="1491.9" cy="204.8" r="4.72"/>
<circle cx="1462.6" cy="108.3" r="4.72"/>
<circle cx="1503.4" cy="293.2" r="4.72"/>
<circle cx="1502.8" cy="386.5" r="4.72"/>
<circle cx="1445.5" cy="424.2" r="4.72"/>
<circle cx="1416.3" cy="68.7" r="4.72"/>
<circle cx="1434.3" cy="83.4" r="4.72"/>
<circle cx="1512.5" cy="371.7" r="4.72"/>
<circle cx="1437.4" cy="269.5" r="4.72"/>
<circle cx="1465.5" cy="339.5" r="4.72"/>
<circle cx="1420.0" cy="392.2" r="4.72"/>
<circle cx="1430.5" cy="142.9" r="4.72"/>
<circle cx="1454.5" cy="353.8" r="4.72"/>
<circle cx="1433.2" cy="150.4" r="4.72"/>
<circle cx="1515.6" cy="346.3" r="4.72"/>
<circle cx="1467.3" cy="301.3" r="4.72"/>
<circle cx="1523.3" cy="195.5" r="4.72"/>
<circle cx="1486.4" cy="427.8" r="4.72"/>
<circle cx="1494.3" cy="270.5" r="4.72"/>
<circle cx="1420.0" cy="339.2" r="4.72"/>
<circle cx="1584.7" cy="342.4" r="4.72"/>
<circle cx="1393.3" cy="357.3" r="4.72"/>
<circle cx="1412.6" cy="362.7" r="4.72"/>
<circle cx="1390.2" cy="315.3" r="4.72"/>
<circle cx="1570.1" cy="190.2" r="4.72"/>
<circle cx="1387.0" cy="364.2" r="4.72"/>
<circle cx="1554.8" cy="268.1" r="4.72"/>
<circle cx="1444.4" cy="129.4" r="4.72"/>
<circle cx="1387.0" cy="262.9" r="4.72"/>
<circle cx="1500.1" cy="300.8" r="4.72"/>
<circle cx="1449.4" cy="94.9" r="4.72"/>
<circle cx="1436.4" cy="323.5" r="4.72"/>
<circle cx="1491.2" cy="185.8" r="4.72"/>
<circle cx="1397.0" cy="260.5" r="4.72"/>
<circle cx="1468.8" cy="207.7" r="4.72"/>
<circle cx="1394.3" cy="194.3" r="4.72"/>
<circle cx="1428.1" cy="151.6" r="4.72"/>
<circle cx="1549.5" cy="56.2" r="4.72"/>
<circle cx="1450.1" cy="145.6" r="4.72"/>
<circle cx="1422.0" cy="157.2" r="4.72"/>
<circle cx="1387.0" cy="298.5" r="4.72"/>
<circle cx="1494.1" cy="158.0" r="4.72"/>
<circle cx="1410.5" cy="83.4" r="4.72"/>
<circle cx="1463.6" cy="361.1" r="4.72"/>
<circle cx="1452.4" cy="240.7" r="4.72"/>
<circle cx="1441.3" cy="430.5" r="4.72"/>
<circle cx="1469.2" cy="300.6" r="4.72"/>
<circle cx="1387.0" cy="117.1" r="4.72"/>
<circle cx="1387.0" cy="417.8" r="4.72"/>
<circle cx="1510.8" cy="388.5" r="4.72"/>
<circle cx="1524.3" cy="339.5" r="4.72"/>
<circle cx="1399.0" cy="197.7" r="4.72"/>
<circle cx="1390.0" cy="190.5" r="4.72"/>
<circle cx="1426.3" cy="198.0" r="4.72"/>
<circle cx="1436.8" cy="143.3" r="4.72"/>
<circle cx="1507.0" cy="229.7" r="4.72"/>
<circle cx="1387.0" cy="381.2" r="4.72"/>
<circle cx="1394.4" cy="126.3" r="4.72"/>
<circle cx="1453.0" cy="387.2" r="4.72"/>
<circle cx="1458.0" cy="97.9" r="4.72"/>
<circle cx="1473.8" cy="240.9" r="4.72"/>
<circle cx="1418.6" cy="327.0" r="4.72"/>
<circle cx="1392.7" cy="276.6" r="4.72"/>
<circle cx="1529.4" cy="301.6" r="4.72"/>
<circle cx="1490.3" cy="149.1" r="4.72"/>
<circle cx="1473.6" cy="305.9" r="4.72"/>
<circle cx="1501.0" cy="347.4" r="4.72"/>
<circle cx="1403.0" cy="130.1" r="4.72"/>
<circle cx="1461.2" cy="370.7" r="4.72"/>
<circle cx="1418.2" cy="281.8" r="4.72"/>
<circle cx="1449.2" cy="149.8" r="4.72"/>
<circle cx="1416.9" cy="264.8" r="4.72"/>
<circle cx="1395.0" cy="339.8" r="4.72"/>
<circle cx="1415.5" cy="281.0" r="4.72"/>
<circle cx="1466.3" cy="110.0" r="4.72"/>
<circle cx="1441.6" cy="365.5" r="4.72"/>
<circle cx="1506.8" cy="281.8" r="4.72"/>
<circle cx="1402.9" cy="136.1" r="4.72"/>
<circle cx="1462.5" cy="204.6" r="4.72"/>
<circle cx="1387.0" cy="166.6" r="4.72"/>
<circle cx="1488.7" cy="318.1" r="4.72"/>
<circle cx="1395.1" cy="230.7" r="4.72"/>
<circle cx="1514.0" cy="248.7" r="4.72"/>
<circle cx="1464.7" cy="121.1" r="4.72"/>
<circle cx="1404.5" cy="162.0" r="4.72"/>
<circle cx="1394.0" cy="252.8" r="4.72"/>
<circle cx="1455.3" cy="427.5" r="4.72"/>
<circle cx="1496.5" cy="155.4" r="4.72"/>
<circle cx="1418.9" cy="70.1" r="4.72"/>
<circle cx="1408.6" cy="230.9" r="4.72"/>
<circle cx="1395.2" cy="421.7" r="4.72"/>
<circle cx="1409.7" cy="132.0" r="4.72"/>
<circle cx="1457.3" cy="72.0" r="4.72"/>
<circle cx="1447.8" cy="152.8" r="4.72"/>
<circle cx="1387.0" cy="112.6" r="4.72"/>
<circle cx="1475.5" cy="251.0" r="4.72"/>
<circle cx="1440.8" cy="413.7" r="4.72"/>
<circle cx="1463.0" cy="397.5" r="4.72"/>
<circle cx="1482.7" cy="385.2" r="4.72"/>
<circle cx="1431.5" cy="225.6" r="4.72"/>
<circle cx="1485.3" cy="126.5" r="4.72"/>
<circle cx="1431.3" cy="307.1" r="4.72"/>
<circle cx="1451.8" cy="241.5" r="4.72"/>
<circle cx="1484.1" cy="342.5" r="4.72"/>
<circle cx="1474.9" cy="219.2" r="4.72"/>
<circle cx="1463.2" cy="425.9" r="4.72"/>
<circle cx="1453.1" cy="137.9" r="4.72"/>
<circle cx="1387.0" cy="34.3" r="4.72"/>
<circle cx="1397.9" cy="373.9" r="4.72"/>
<circle cx="1498.3" cy="406.3" r="4.72"/>
<circle cx="1493.7" cy="154.9" r="4.72"/>
<circle cx="1387.0" cy="385.8" r="4.72"/>
<circle cx="1553.9" cy="139.5" r="4.72"/>
<circle cx="1389.1" cy="359.1" r="4.72"/>
<circle cx="1451.1" cy="341.9" r="4.72"/>
<circle cx="1387.0" cy="384.2" r="4.72"/>
<circle cx="1461.9" cy="208.6" r="4.72"/>
<circle cx="1436.4" cy="384.4" r="4.72"/>
<circle cx="1473.0" cy="100.1" r="4.72"/>
<circle cx="1516.0" cy="406.7" r="4.72"/>
<circle cx="1495.5" cy="166.4" r="4.72"/>
<circle cx="1426.5" cy="350.9" r="4.72"/>
<circle cx="1399.1" cy="298.2" r="4.72"/>
<circle cx="1463.1" cy="400.4" r="4.72"/>
<circle cx="1410.6" cy="85.6" r="4.72"/>
<circle cx="1425.0" cy="237.1" r="4.72"/>
<circle cx="1400.0" cy="142.5" r="4.72"/>
<circle cx="1387.0" cy="315.7" r="4.72"/>
<circle cx="1419.2" cy="412.3" r="4.72"/>
<circle cx="1426.0" cy="369.6" r="4.72"/>
<circle cx="1387.0" cy="238.2" r="4.72"/>
<circle cx="1400.6" cy="430.5" r="4.72"/>
<circle cx="1515.2" cy="272.5" r="4.72"/>
<circle cx="1454.4" cy="34.0" r="4.72"/>
<circle cx="1438.9" cy="116.9" r="4.72"/>
<circle cx="1450.9" cy="294.8" r="4.72"/>
<circle cx="1415.3" cy="239.2" r="4.72"/>
<circle cx="1404.5" cy="270.8" r="4.72"/>
<circle cx="1437.9" cy="132.8" r="4.72"/>
<circle cx="1408.7" cy="270.8" r="4.72"/>
<circle cx="1456.0" cy="313.6" r="4.72"/>
<circle cx="1498.8" cy="272.8" r="4.72"/>
<circle cx="1457.2" cy="83.5" r="4.72"/>
<circle cx="1409.4" cy="100.5" r="4.72"/>
<circle cx="1398.9" cy="44.5" r="4.72"/>
<circle cx="1396.4" cy="110.4" r="4.72"/>
<circle cx="1456.6" cy="196.9" r="4.72"/>
<circle cx="1586.7" cy="115.3" r="4.72"/>
<circle cx="1509.6" cy="377.0" r="4.72"/>
<circle cx="1481.5" cy="244.7" r="4.72"/>
<circle cx="1505.6" cy="250.2" r="4.72"/>
<circle cx="1420.4" cy="223.1" r="4.72"/>
<circle cx="1446.6" cy="253.9" r="4.72"/>
<circle cx="1424.8" cy="147.8" r="4.72"/>
<circle cx="1387.0" cy="138.6" r="4.72"/>
<circle cx="1476.8" cy="195.1" r="4.72"/>
<circle cx="1421.2" cy="397.0" r="4.72"/>
<circle cx="1486.4" cy="249.6" r="4.72"/>
<circle cx="1482.8" cy="243.5" r="4.72"/>
<circle cx="1433.1" cy="419.6" r="4.72"/>
<circle cx="1617.4" cy="170.7" r="4.72"/>
<circle cx="1517.5" cy="276.4" r="4.72"/>
<circle cx="1394.5" cy="315.3" r="4.72"/>
<circle cx="1455.4" cy="250.3" r="4.72"/>
<circle cx="1409.2" cy="260.1" r="4.72"/>
<circle cx="1391.2" cy="207.2" r="4.72"/>
<circle cx="1449.2" cy="244.2" r="4.72"/>
<circle cx="1392.0" cy="65.2" r="4.72"/>
<circle cx="1495.4" cy="156.1" r="4.72"/>
<circle cx="1479.9" cy="428.4" r="4.72"/>
<circle cx="1424.7" cy="148.5" r="4.72"/>
<circle cx="1415.6" cy="62.3" r="4.72"/>
<circle cx="1482.2" cy="296.8" r="4.72"/>
<circle cx="1399.2" cy="316.0" r="4.72"/>
<circle cx="1490.7" cy="223.5" r="4.72"/>
<circle cx="1634.2" cy="261.7" r="4.72"/>
<circle cx="1454.4" cy="159.2" r="4.72"/>
<circle cx="1434.3" cy="173.7" r="4.72"/>
<circle cx="1489.5" cy="382.3" r="4.72"/>
<circle cx="1524.9" cy="334.8" r="4.72"/>
<circle cx="1406.8" cy="177.3" r="4.72"/>
<circle cx="1452.7" cy="410.5" r="4.72"/>
<circle cx="1470.9" cy="411.5" r="4.72"/>
<circle cx="1430.2" cy="332.0" r="4.72"/>
<circle cx="1516.8" cy="298.9" r="4.72"/>
<circle cx="1394.0" cy="268.8" r="4.72"/>
<circle cx="1479.4" cy="107.8" r="4.72"/>
<circle cx="1507.0" cy="112.7" r="4.72"/>
<circle cx="1632.2" cy="276.0" r="4.72"/>
<circle cx="1475.2" cy="359.9" r="4.72"/>
<circle cx="1446.3" cy="105.9" r="4.72"/>
<circle cx="1413.8" cy="216.2" r="4.72"/>
<circle cx="1483.9" cy="167.0" r="4.72"/>
<circle cx="1501.7" cy="237.7" r="4.72"/>
<circle cx="1508.1" cy="400.4" r="4.72"/>
<circle cx="1515.1" cy="280.9" r="4.72"/>
<circle cx="1413.6" cy="430.5" r="4.72"/>
<circle cx="1463.0" cy="368.6" r="4.72"/>
<circle cx="1407.2" cy="368.3" r="4.72"/>
<circle cx="1394.6" cy="183.4" r="4.72"/>
<circle cx="1425.3" cy="79.4" r="4.72"/>
<circle cx="1514.2" cy="242.8" r="4.72"/>
<circle cx="1387.0" cy="279.4" r="4.72"/>
<circle cx="1418.3" cy="430.5" r="4.72"/>
<circle cx="1441.0" cy="208.4" r="4.72"/>
<circle cx="1493.1" cy="349.6" r="4.72"/>
<circle cx="1484.8" cy="217.1" r="4.72"/>
<circle cx="1428.0" cy="274.6" r="4.72"/>
<circle cx="1494.8" cy="329.8" r="4.72"/>
<circle cx="1431.3" cy="342.9" r="4.72"/>
<circle cx="1387.0" cy="42.4" r="4.72"/>
<circle cx="1429.2" cy="308.7" r="4.72"/>
<circle cx="1490.4" cy="244.9" r="4.72"/>
<circle cx="1460.8" cy="339.3" r="4.72"/>
<circle cx="1413.0" cy="201.2" r="4.72"/>
<circle cx="1409.0" cy="363.3" r="4.72"/>
<circle cx="1468.0" cy="379.3" r="4.72"/>
<circle cx="1476.8" cy="332.1" r="4.72"/>
<circle cx="1389.0" cy="212.1" r="4.72"/>
<circle cx="1529.7" cy="299.4" r="4.72"/>
<circle cx="1493.2" cy="274.6" r="4.72"/>
<circle cx="1470.9" cy="308.7" r="4.72"/>
<circle cx="1517.0" cy="355.5" r="4.72"/>
<circle cx="1387.0" cy="149.5" r="4.72"/>
<circle cx="1499.4" cy="360.2" r="4.72"/>
<circle cx="1387.0" cy="297.7" r="4.72"/>
<circle cx="1390.4" cy="221.4" r="4.72"/>
<circle cx="1475.3" cy="224.7" r="4.72"/>
<circle cx="1473.9" cy="159.1" r="4.72"/>
<circle cx="1400.3" cy="373.3" r="4.72"/>
<circle cx="1473.4" cy="397.4" r="4.72"/>
<circle cx="1495.4" cy="178.2" r="4.72"/>
<circle cx="1476.6" cy="232.1" r="4.72"/>
<circle cx="1441.6" cy="297.8" r="4.72"/>
<circle cx="1387.0" cy="263.5" r="4.72"/>
<circle cx="1422.5" cy="157.2" r="4.72"/>
<circle cx="1445.7" cy="328.2" r="4.72"/>
<circle cx="1474.2" cy="282.7" r="4.72"/>
<circle cx="1413.4" cy="344.9" r="4.72"/>
<circle cx="1482.6" cy="150.9" r="4.72"/>
<circle cx="1394.9" cy="142.3" r="4.72"/>
<circle cx="1507.6" cy="425.7" r="4.72"/>
<circle cx="1417.4" cy="146.9" r="4.72"/>
<circle cx="1450.2" cy="287.6" r="4.72"/>
<circle cx="1389.5" cy="343.2" r="4.72"/>
<circle cx="1437.0" cy="216.8" r="4.72"/>
<circle cx="1504.2" cy="63.8" r="4.72"/>
<circle cx="1400.4" cy="167.2" r="4.72"/>
<circle cx="1387.0" cy="106.3" r="4.72"/>
<circle cx="1412.4" cy="170.9" r="4.72"/>
<circle cx="1454.3" cy="218.1" r="4.72"/>
<circle cx="1495.0" cy="398.9" r="4.72"/>
<circle cx="1466.4" cy="216.7" r="4.72"/>
<circle cx="1429.3" cy="124.3" r="4.72"/>
<circle cx="1438.2" cy="420.7" r="4.72"/>
<circle cx="1439.1" cy="314.4" r="4.72"/>
<circle cx="1426.1" cy="286.1" r="4.72"/>
<circle cx="1434.8" cy="344.8" r="4.72"/>
<circle cx="1434.7" cy="243.8" r="4.72"/>
<circle cx="1450.9" cy="139.4" r="4.72"/>
<circle cx="1410.1" cy="382.1" r="4.72"/>
<circle cx="1387.0" cy="211.6" r="4.72"/>
<circle cx="1390.6" cy="373.8" r="4.72"/>
<circle cx="1511.9" cy="423.2" r="4.72"/>
<circle cx="1481.1" cy="409.5" r="4.72"/>
<circle cx="1520.4" cy="293.1" r="4.72"/>
<circle cx="1493.3" cy="267.1" r="4.72"/>
<circle cx="1545.8" cy="294.8" r="4.72"/>
<circle cx="1428.8" cy="64.1" r="4.72"/>
<circle cx="1410.3" cy="280.5" r="4.72"/>
<circle cx="1481.1" cy="340.0" r="4.72"/>
<circle cx="1387.0" cy="43.3" r="4.72"/>
<circle cx="1465.2" cy="278.7" r="4.72"/>
<circle cx="1432.2" cy="159.7" r="4.72"/>
<circle cx="1387.8" cy="294.0" r="4.72"/>
<circle cx="1464.6" cy="249.2" r="4.72"/>
<circle cx="1430.1" cy="250.4" r="4.72"/>
<circle cx="1409.0" cy="382.2" r="4.72"/>
<circle cx="1459.0" cy="353.0" r="4.72"/>
<circle cx="1445.3" cy="336.3" r="4.72"/>
<circle cx="1466.4" cy="296.0" r="4.72"/>
<circle cx="1487.0" cy="360.8" r="4.72"/>
<circle cx="1399.2" cy="240.8" r="4.72"/>
<circle cx="1387.0" cy="130.1" r="4.72"/>
<circle cx="1429.7" cy="147.1" r="4.72"/>
<circle cx="1495.5" cy="421.0" r="4.72"/>
<circle cx="1410.0" cy="163.5" r="4.72"/>
<circle cx="1425.3" cy="244.2" r="4.72"/>
<circle cx="1465.9" cy="300.0" r="4.72"/>
<circle cx="1411.2" cy="276.4" r="4.72"/>
<circle cx="1516.6" cy="296.7" r="4.72"/>
<circle cx="1444.2" cy="397.7" r="4.72"/>
<circle cx="1459.0" cy="94.1" r="4.72"/>
<circle cx="1486.0" cy="427.4" r="4.72"/>
<circle cx="1387.0" cy="292.9" r="4.72"/>
<circle cx="1387.1" cy="234.1" r="4.72"/>
<circle cx="1470.8" cy="164.0" r="4.72"/>
<circle cx="1542.5" cy="49.1" r="4.72"/>
<circle cx="1487.7" cy="344.7" r="4.72"/>
<circle cx="1393.6" cy="200.3" r="4.72"/>
<circle cx="1483.4" cy="241.2" r="4.72"/>
<circle cx="1437.8" cy="147.0" r="4.72"/>
<circle cx="1488.3" cy="430.5" r="4.72"/>
<circle cx="1464.5" cy="321.3" r="4.72"/>
<circle cx="1527.6" cy="245.6" r="4.72"/>
<circle cx="1391.2" cy="423.3" r="4.72"/>
<circle cx="1421.2" cy="230.4" r="4.72"/>
<circle cx="1467.5" cy="73.3" r="4.72"/>
<circle cx="1577.1" cy="218.1" r="4.72"/>
<circle cx="1428.9" cy="340.0" r="4.72"/>
<circle cx="1510.7" cy="303.7" r="4.72"/>
<circle cx="1387.0" cy="145.1" r="4.72"/>
<circle cx="1409.1" cy="221.4" r="4.72"/>
<circle cx="1403.9" cy="42.2" r="4.72"/>
<circle cx="1446.7" cy="373.9" r="4.72"/>
<circle cx="1444.8" cy="110.8" r="4.72"/>
<circle cx="1403.7" cy="218.3" r="4.72"/>
<circle cx="1387.0" cy="309.8" r="4.72"/>
<circle cx="1484.0" cy="380.8" r="4.72"/>
<circle cx="1476.9" cy="407.7" r="4.72"/>
<circle cx="1500.8" cy="252.8" r="4.72"/>
<circle cx="1453.4" cy="69.9" r="4.72"/>
<circle cx="1410.2" cy="51.6" r="4.72"/>
<circle cx="1430.7" cy="292.8" r="4.72"/>
<circle cx="1471.6" cy="351.6" r="4.72"/>
<circle cx="1472.8" cy="79.9" r="4.72"/>
<circle cx="1448.8" cy="200.6" r="4.72"/>
<circle cx="1387.0" cy="50.6" r="4.72"/>
<circle cx="1401.0" cy="309.0" r="4.72"/>
<circle cx="1463.2" cy="321.1" r="4.72"/>
<circle cx="1387.0" cy="380.2" r="4.72"/>
<circle cx="1478.0" cy="217.4" r="4.72"/>
<circle cx="1590.7" cy="223.4" r="4.72"/>
<circle cx="1515.9" cy="272.3" r="4.72"/>
<circle cx="1391.9" cy="218.3" r="4.72"/>
<circle cx="1458.7" cy="245.7" r="4.72"/>
<circle cx="1497.7" cy="281.8" r="4.72"/>
<circle cx="1453.9" cy="321.6" r="4.72"/>
<circle cx="1398.7" cy="161.8" r="4.72"/>
<circle cx="1524.8" cy="339.5" r="4.72"/>
<circle cx="1387.0" cy="400.1" r="4.72"/>
<circle cx="1604.0" cy="138.1" r="4.72"/>
<circle cx="1433.2" cy="228.1" r="4.72"/>
<circle cx="1450.6" cy="57.3" r="4.72"/>
<circle cx="1430.3" cy="86.3" r="4.72"/>
<circle cx="1437.9" cy="60.2" r="4.72"/>
<circle cx="1400.1" cy="191.7" r="4.72"/>
<circle cx="1403.0" cy="430.0" r="4.72"/>
<circle cx="1404.4" cy="78.4" r="4.72"/>
<circle cx="1449.2" cy="164.2" r="4.72"/>
<circle cx="1430.5" cy="405.4" r="4.72"/>
<circle cx="1389.1" cy="287.0" r="4.72"/>
<circle cx="1387.0" cy="89.8" r="4.72"/>
<circle cx="1440.4" cy="34.0" r="4.72"/>
<circle cx="1503.6" cy="430.5" r="4.72"/>
<circle cx="1396.0" cy="91.4" r="4.72"/>
<circle cx="1392.2" cy="109.2" r="4.72"/>
<circle cx="1440.6" cy="250.6" r="4.72"/>
<circle cx="1476.2" cy="255.4" r="4.72"/>
<circle cx="1487.1" cy="222.6" r="4.72"/>
<circle cx="1421.0" cy="159.8" r="4.72"/>
<circle cx="1472.5" cy="251.4" r="4.72"/>
<circle cx="1483.3" cy="307.2" r="4.72"/>
<circle cx="1407.3" cy="225.4" r="4.72"/>
<circle cx="1387.0" cy="414.2" r="4.72"/>
<circle cx="1439.9" cy="257.4" r="4.72"/>
<circle cx="1479.4" cy="92.2" r="4.72"/>
<circle cx="1387.0" cy="236.0" r="4.72"/>
<circle cx="1574.9" cy="143.4" r="4.72"/>
<circle cx="1421.5" cy="285.0" r="4.72"/>
<circle cx="1467.6" cy="287.5" r="4.72"/>
<circle cx="1443.1" cy="386.5" r="4.72"/>
<circle cx="1459.2" cy="427.2" r="4.72"/>
<circle cx="1490.9" cy="129.6" r="4.72"/>
<circle cx="1482.8" cy="157.6" r="4.72"/>
<circle cx="1645.5" cy="184.5" r="4.72"/>
<circle cx="1476.2" cy="205.2" r="4.72"/>
<circle cx="1444.8" cy="174.3" r="4.72"/>
<circle cx="1632.7" cy="217.4" r="4.72"/>
<circle cx="1435.1" cy="120.5" r="4.72"/>
<circle cx="1469.6" cy="116.4" r="4.72"/>
<circle cx="1416.1" cy="149.9" r="4.72"/>
<circle cx="1449.9" cy="313.4" r="4.72"/>
<circle cx="1401.9" cy="418.9" r="4.72"/>
<circle cx="1428.5" cy="361.1" r="4.72"/>
<circle cx="1479.0" cy="201.3" r="4.72"/>
<circle cx="1417.4" cy="401.7" r="4.72"/>
<circle cx="1407.1" cy="106.3" r="4.72"/>
<circle cx="1516.5" cy="287.0" r="4.72"/>
<circle cx="1510.9" cy="213.8" r="4.72"/>
<circle cx="1428.3" cy="93.3" r="4.72"/>
<circle cx="1394.1" cy="34.0" r="4.72"/>
<circle cx="1390.2" cy="173.0" r="4.72"/>
<circle cx="1497.0" cy="333.0" r="4.72"/>
<circle cx="1505.0" cy="374.7" r="4.72"/>
<circle cx="1473.6" cy="320.6" r="4.72"/>
<circle cx="1491.3" cy="106.8" r="4.72"/>
<circle cx="1450.0" cy="62.4" r="4.72"/>
<circle cx="1462.2" cy="327.3" r="4.72"/>
<circle cx="1465.2" cy="328.1" r="4.72"/>
<circle cx="1511.3" cy="297.0" r="4.72"/>
<circle cx="1473.0" cy="430.5" r="4.72"/>
<circle cx="1387.0" cy="331.7" r="4.72"/>
<circle cx="1421.4" cy="220.6" r="4.72"/>
<circle cx="1513.7" cy="206.9" r="4.72"/>
<circle cx="1488.7" cy="333.9" r="4.72"/>
<circle cx="1468.3" cy="248.0" r="4.72"/>
<circle cx="1472.8" cy="204.3" r="4.72"/>
<circle cx="1431.6" cy="154.6" r="4.72"/>
<circle cx="1598.7" cy="270.9" r="4.72"/>
<circle cx="1481.2" cy="226.4" r="4.72"/>
<circle cx="1405.4" cy="34.0" r="4.72"/>
<circle cx="1465.5" cy="199.1" r="4.72"/>
<circle cx="1518.9" cy="237.9" r="4.72"/>
<circle cx="1497.1" cy="335.7" r="4.72"/>
<circle cx="1424.8" cy="121.7" r="4.72"/>
<circle cx="1474.3" cy="224.0" r="4.72"/>
<circle cx="1393.1" cy="34.0" r="4.72"/>
<circle cx="1399.6" cy="359.1" r="4.72"/>
<circle cx="1463.2" cy="273.1" r="4.72"/>
<circle cx="1388.1" cy="149.9" r="4.72"/>
<circle cx="1458.3" cy="329.2" r="4.72"/>
<circle cx="1387.0" cy="195.2" r="4.72"/>
<circle cx="1451.5" cy="402.5" r="4.72"/>
<circle cx="1395.8" cy="382.9" r="4.72"/>
<circle cx="1409.0" cy="357.9" r="4.72"/>
<circle cx="1387.0" cy="380.3" r="4.72"/>
<circle cx="1451.1" cy="183.9" r="4.72"/>
<circle cx="1410.6" cy="255.6" r="4.72"/>
<circle cx="1522.4" cy="405.8" r="4.72"/>
<circle cx="1504.7" cy="239.1" r="4.72"/>
<circle cx="1400.4" cy="295.7" r="4.72"/>
<circle cx="1387.0" cy="395.4" r="4.72"/>
<circle cx="1448.5" cy="336.5" r="4.72"/>
<circle cx="1494.6" cy="372.9" r="4.72"/>
<circle cx="1445.3" cy="412.9" r="4.72"/>
<circle cx="1456.6" cy="229.8" r="4.72"/>
<circle cx="1441.7" cy="116.3" r="4.72"/>
<circle cx="1432.4" cy="404.6" r="4.72"/>
<circle cx="1387.0" cy="269.1" r="4.72"/>
<circle cx="1402.0" cy="323.7" r="4.72"/>
<circle cx="1430.2" cy="249.0" r="4.72"/>
<circle cx="1455.9" cy="240.3" r="4.72"/>
<circle cx="1448.2" cy="315.3" r="4.72"/>
<circle cx="1387.0" cy="155.4" r="4.72"/>
<circle cx="1397.4" cy="315.1" r="4.72"/>
<circle cx="1390.3" cy="275.7" r="4.72"/>
<circle cx="1448.5" cy="153.1" r="4.72"/>
<circle cx="1392.0" cy="381.3" r="4.72"/>
<circle cx="1414.0" cy="430.5" r="4.72"/>
<circle cx="1428.7" cy="393.9" r="4.72"/>
<circle cx="1526.7" cy="347.8" r="4.72"/>
<circle cx="1436.7" cy="393.0" r="4.72"/>
<circle cx="1426.7" cy="369.5" r="4.72"/>
<circle cx="1489.2" cy="183.6" r="4.72"/>
<circle cx="1476.2" cy="430.5" r="4.72"/>
<circle cx="1425.0" cy="125.5" r="4.72"/>
<circle cx="1392.5" cy="428.5" r="4.72"/>
<circle cx="1420.5" cy="427.2" r="4.72"/>
<circle cx="1459.1" cy="346.8" r="4.72"/>
<circle cx="1581.4" cy="158.7" r="4.72"/>
<circle cx="1502.6" cy="339.7" r="4.72"/>
<circle cx="1409.8" cy="328.2" r="4.72"/>
<circle cx="1478.1" cy="125.9" r="4.72"/>
<circle cx="1455.5" cy="238.5" r="4.72"/>
<circle cx="1514.7" cy="323.5" r="4.72"/>
<circle cx="1391.0" cy="383.0" r="4.72"/>
<circle cx="1482.4" cy="148.4" r="4.72"/>
<circle cx="1428.2" cy="227.1" r="4.72"/>
<circle cx="1548.6" cy="283.4" r="4.72"/>
<circle cx="1485.8" cy="413.7" r="4.72"/>
<circle cx="1442.5" cy="124.7" r="4.72"/>
<circle cx="1470.8" cy="141.7" r="4.72"/>
<circle cx="1427.3" cy="178.4" r="4.72"/>
<circle cx="1497.6" cy="177.0" r="4.72"/>
<circle cx="1476.2" cy="123.0" r="4.72"/>
<circle cx="1428.9" cy="72.7" r="4.72"/>
<circle cx="1470.8" cy="156.0" r="4.72"/>
<circle cx="1536.0" cy="280.8" r="4.72"/>
<circle cx="1511.1" cy="271.5" r="4.72"/>
<circle cx="1414.0" cy="323.4" r="4.72"/>
<circle cx="1432.9" cy="159.6" r="4.72"/>
<circle cx="1489.5" cy="421.5" r="4.72"/>
<circle cx="1518.7" cy="302.4" r="4.72"/>
<circle cx="1486.9" cy="312.3" r="4.72"/>
<circle cx="1507.9" cy="391.0" r="4.72"/>
<circle cx="1393.1" cy="80.9" r="4.72"/>
<circle cx="1421.7" cy="373.9" r="4.72"/>
<circle cx="1463.7" cy="302.7" r="4.72"/>
<circle cx="1474.6" cy="177.2" r="4.72"/>
<circle cx="1466.7" cy="278.3" r="4.72"/>
<circle cx="1468.8" cy="69.0" r="4.72"/>
<circle cx="1630.6" cy="292.3" r="4.72"/>
<circle cx="1419.5" cy="66.0" r="4.72"/>
<circle cx="1462.4" cy="140.8" r="4.72"/>
<circle cx="1488.4" cy="329.5" r="4.72"/>
<circle cx="1403.0" cy="147.0" r="4.72"/>
<circle cx="1426.8" cy="402.1" r="4.72"/>
<circle cx="1422.0" cy="97.8" r="4.72"/>
<circle cx="1446.0" cy="192.7" r="4.72"/>
<circle cx="1445.4" cy="140.4" r="4.72"/>
<circle cx="1400.0" cy="263.6" r="4.72"/>
<circle cx="1393.9" cy="212.6" r="4.72"/>
<circle cx="1433.7" cy="430.5" r="4.72"/>
<circle cx="1387.0" cy="40.5" r="4.72"/>
<circle cx="1408.9" cy="185.2" r="4.72"/>
<circle cx="1436.7" cy="402.1" r="4.72"/>
<circle cx="1413.5" cy="250.2" r="4.72"/>
<circle cx="1387.0" cy="182.6" r="4.72"/>
<circle cx="1430.7" cy="326.2" r="4.72"/>
<circle cx="1394.2" cy="263.7" r="4.72"/>
<circle cx="1476.3" cy="159.9" r="4.72"/>
<circle cx="1429.6" cy="34.0" r="4.72"/>
<circle cx="1395.3" cy="34.0" r="4.72"/>
<circle cx="1507.9" cy="429.8" r="4.72"/>
<circle cx="1472.0" cy="247.7" r="4.72"/>
<circle cx="1442.3" cy="186.0" r="4.72"/>
<circle cx="1438.0" cy="77.8" r="4.72"/>
<circle cx="1444.2" cy="430.5" r="4.72"/>
<circle cx="1442.4" cy="181.0" r="4.72"/>
<circle cx="1444.6" cy="391.9" r="4.72"/>
<circle cx="1490.3" cy="422.5" r="4.72"/>
<circle cx="1411.2" cy="166.1" r="4.72"/>
<circle cx="1516.8" cy="379.2" r="4.72"/>
<circle cx="1447.1" cy="340.8" r="4.72"/>
<circle cx="1451.5" cy="358.5" r="4.72"/>
<circle cx="1424.2" cy="241.4" r="4.72"/>
<circle cx="1471.8" cy="389.7" r="4.72"/>
<circle cx="1458.6" cy="209.9" r="4.72"/>
<circle cx="1610.8" cy="295.1" r="4.72"/>
<circle cx="1504.7" cy="347.7" r="4.72"/>
<circle cx="1387.0" cy="294.4" r="4.72"/>
<circle cx="1432.5" cy="102.6" r="4.72"/>
<circle cx="1471.2" cy="284.9" r="4.72"/>
<circle cx="1442.2" cy="131.7" r="4.72"/>
<circle cx="1430.5" cy="39.8" r="4.72"/>
<circle cx="1428.1" cy="76.2" r="4.72"/>
<circle cx="1528.0" cy="254.6" r="4.72"/>
<circle cx="1412.2" cy="131.6" r="4.72"/>
<circle cx="1473.2" cy="417.9" r="4.72"/>
<circle cx="1391.3" cy="375.1" r="4.72"/>
<circle cx="1491.9" cy="230.8" r="4.72"/>
<circle cx="1463.3" cy="77.2" r="4.72"/>
<circle cx="1477.6" cy="141.6" r="4.72"/>
<circle cx="1415.7" cy="210.4" r="4.72"/>
<circle cx="1558.3" cy="179.3" r="4.72"/>
<circle cx="1427.8" cy="224.4" r="4.72"/>
<circle cx="1500.8" cy="275.5" r="4.72"/>
<circle cx="1387.0" cy="154.2" r="4.72"/>
<circle cx="1483.3" cy="430.5" r="4.72"/>
<circle cx="1442.7" cy="350.4" r="4.72"/>
<circle cx="1416.3" cy="276.2" r="4.72"/>
<circle cx="1389.2" cy="238.0" r="4.72"/>
<circle cx="1524.4" cy="358.3" r="4.72"/>
<circle cx="1520.5" cy="348.3" r="4.72"/>
<circle cx="1392.4" cy="315.2" r="4.72"/>
<circle cx="1459.6" cy="96.9" r="4.72"/>
<circle cx="1613.0" cy="296.3" r="4.72"/>
<circle cx="1387.0" cy="243.4" r="4.72"/>
<circle cx="1422.6" cy="160.9" r="4.72"/>
<circle cx="1473.3" cy="405.9" r="4.72"/>
<circle cx="1454.3" cy="66.3" r="4.72"/>
<circle cx="1440.1" cy="153.3" r="4.72"/>
<circle cx="1443.8" cy="47.6" r="4.72"/>
<circle cx="1394.1" cy="374.4" r="4.72"/>
<circle cx="1413.9" cy="281.2" r="4.72"/>
<circle cx="1433.6" cy="412.1" r="4.72"/>
<circle cx="1509.8" cy="331.8" r="4.72"/>
<circle cx="1433.6" cy="387.3" r="4.72"/>
<circle cx="1449.0" cy="412.2" r="4.72"/>
<circle cx="1421.3" cy="427.9" r="4.72"/>
<circle cx="1391.2" cy="430.5" r="4.72"/>
<circle cx="1439.4" cy="356.8" r="4.72"/>
<circle cx="1387.0" cy="113.2" r="4.72"/>
<circle cx="1469.7" cy="206.3" r="4.72"/>
<circle cx="1405.4" cy="208.7" r="4.72"/>
<circle cx="1577.8" cy="316.0" r="4.72"/>
<circle cx="1489.9" cy="337.6" r="4.72"/>
<circle cx="1436.6" cy="148.4" r="4.72"/>
<circle cx="1505.7" cy="259.3" r="4.72"/>
<circle cx="1526.7" cy="363.5" r="4.72"/>
<circle cx="1468.4" cy="187.6" r="4.72"/>
<circle cx="1400.6" cy="317.4" r="4.72"/>
<circle cx="1387.0" cy="182.5" r="4.72"/>
<circle cx="1387.0" cy="184.4" r="4.72"/>
<circle cx="1651.4" cy="239.6" r="4.72"/>
<circle cx="1469.2" cy="413.7" r="4.72"/>
<circle cx="1496.3" cy="288.7" r="4.72"/>
<circle cx="1548.0" cy="265.4" r="4.72"/>
<circle cx="1517.8" cy="339.6" r="4.72"/>
<circle cx="1502.1" cy="310.5" r="4.72"/>
<circle cx="1412.3" cy="60.1" r="4.72"/>
<circle cx="1387.7" cy="122.4" r="4.72"/>
<circle cx="1518.6" cy="290.6" r="4.72"/>
<circle cx="1464.1" cy="198.0" r="4.72"/>
<circle cx="1398.2" cy="318.2" r="4.72"/>
<circle cx="1468.5" cy="86.8" r="4.72"/>
<circle cx="1604.7" cy="185.0" r="4.72"/>
<circle cx="1409.7" cy="158.3" r="4.72"/>
<circle cx="1440.4" cy="305.6" r="4.72"/>
<circle cx="1616.8" cy="292.9" r="4.72"/>
<circle cx="1387.0" cy="211.6" r="4.72"/>
<circle cx="1437.9" cy="352.8" r="4.72"/>
<circle cx="1525.0" cy="375.0" r="4.72"/>
<circle cx="1387.0" cy="274.4" r="4.72"/>
<circle cx="1393.7" cy="226.2" r="4.72"/>
<circle cx="1408.4" cy="203.0" r="4.72"/>
<circle cx="1387.0" cy="325.0" r="4.72"/>
<circle cx="1447.9" cy="373.1" r="4.72"/>
<circle cx="1484.0" cy="418.1" r="4.72"/>
<circle cx="1431.5" cy="85.9" r="4.72"/>
<circle cx="1500.1" cy="220.8" r="4.72"/>
<circle cx="1407.6" cy="217.8" r="4.72"/>
<circle cx="1433.9" cy="371.2" r="4.72"/>
<circle cx="1578.9" cy="206.9" r="4.72"/>
<circle cx="1520.1" cy="364.9" r="4.72"/>
<circle cx="1530.1" cy="368.5" r="4.72"/>
<circle cx="1486.5" cy="110.1" r="4.72"/>
<circle cx="1500.9" cy="421.4" r="4.72"/>
<circle cx="1479.3" cy="338.7" r="4.72"/>
<circle cx="1432.7" cy="48.8" r="4.72"/>
<circle cx="1483.2" cy="235.6" r="4.72"/>
<circle cx="1463.1" cy="265.1" r="4.72"/>
<circle cx="1451.3" cy="264.5" r="4.72"/>
<circle cx="1640.4" cy="237.1" r="4.72"/>
<circle cx="1435.6" cy="257.6" r="4.72"/>
<circle cx="1480.6" cy="367.8" r="4.72"/>
<circle cx="1507.2" cy="390.0" r="4.72"/>
<circle cx="1501.8" cy="237.9" r="4.72"/>
<circle cx="1440.7" cy="355.3" r="4.72"/>
<circle cx="1393.5" cy="340.8" r="4.72"/>
<circle cx="1463.1" cy="352.2" r="4.72"/>
<circle cx="1448.0" cy="90.1" r="4.72"/>
<circle cx="1408.9" cy="249.9" r="4.72"/>
<circle cx="1387.0" cy="342.5" r="4.72"/>
<circle cx="1504.1" cy="223.0" r="4.72"/>
<circle cx="1511.3" cy="363.8" r="4.72"/>
<circle cx="1387.0" cy="324.7" r="4.72"/>
<circle cx="1434.8" cy="188.8" r="4.72"/>
<circle cx="1402.6" cy="269.5" r="4.72"/>
<circle cx="1433.2" cy="383.8" r="4.72"/>
<circle cx="1407.2" cy="278.7" r="4.72"/>
<circle cx="1457.7" cy="166.9" r="4.72"/>
<circle cx="1477.6" cy="388.3" r="4.72"/>
<circle cx="1509.6" cy="318.5" r="4.72"/>
<circle cx="1405.1" cy="231.4" r="4.72"/>
<circle cx="1465.2" cy="398.9" r="4.72"/>
<circle cx="1429.8" cy="170.9" r="4.72"/>
<circle cx="1418.2" cy="422.8" r="4.72"/>
<circle cx="1387.4" cy="266.8" r="4.72"/>
<circle cx="1520.1" cy="326.7" r="4.72"/>
<circle cx="1461.0" cy="333.6" r="4.72"/>
<circle cx="1436.6" cy="43.2" r="4.72"/>
<circle cx="1488.8" cy="144.1" r="4.72"/>
<circle cx="1408.9" cy="351.8" r="4.72"/>
<circle cx="1531.5" cy="233.1" r="4.72"/>
<circle cx="1445.6" cy="233.9" r="4.72"/>
<circle cx="1521.1" cy="317.2" r="4.72"/>
<circle cx="1527.9" cy="328.7" r="4.72"/>
<circle cx="1409.6" cy="255.6" r="4.72"/>
<circle cx="1470.9" cy="300.9" r="4.72"/>
<circle cx="1407.6" cy="253.5" r="4.72"/>
<circle cx="1404.6" cy="49.9" r="4.72"/>
<circle cx="1482.9" cy="236.2" r="4.72"/>
<circle cx="1448.5" cy="239.9" r="4.72"/>
<circle cx="1578.3" cy="71.6" r="4.72"/>
<circle cx="1432.8" cy="394.4" r="4.72"/>
<circle cx="1528.4" cy="292.3" r="4.72"/>
<circle cx="1508.6" cy="332.4" r="4.72"/>
<circle cx="1534.4" cy="347.6" r="4.72"/>
<circle cx="1387.0" cy="149.3" r="4.72"/>
<circle cx="1449.8" cy="366.1" r="4.72"/>
<circle cx="1418.0" cy="79.1" r="4.72"/>
<circle cx="1427.7" cy="52.2" r="4.72"/>
<circle cx="1515.8" cy="274.6" r="4.72"/>
<circle cx="1415.4" cy="282.3" r="4.72"/>
<circle cx="1441.6" cy="363.9" r="4.72"/>
<circle cx="1592.5" cy="211.2" r="4.72"/>
<circle cx="1449.6" cy="430.5" r="4.72"/>
<circle cx="1491.0" cy="299.4" r="4.72"/>
<circle cx="1480.8" cy="323.5" r="4.72"/>
<circle cx="1437.1" cy="157.3" r="4.72"/>
<circle cx="1402.4" cy="202.1" r="4.72"/>
<circle cx="1392.3" cy="63.4" r="4.72"/>
<circle cx="1464.5" cy="401.0" r="4.72"/>
<circle cx="1478.3" cy="169.3" r="4.72"/>
<circle cx="1391.7" cy="172.4" r="4.72"/>
<circle cx="1488.3" cy="178.2" r="4.72"/>
<circle cx="1442.8" cy="286.5" r="4.72"/>
<circle cx="1518.1" cy="304.1" r="4.72"/>
<circle cx="1412.9" cy="262.7" r="4.72"/>
<circle cx="1478.5" cy="141.7" r="4.72"/>
<circle cx="1493.4" cy="359.7" r="4.72"/>
<circle cx="1462.9" cy="208.4" r="4.72"/>
<circle cx="1431.7" cy="242.5" r="4.72"/>
<circle cx="1472.4" cy="194.5" r="4.72"/>
<circle cx="1387.0" cy="286.1" r="4.72"/>
<circle cx="1647.2" cy="130.0" r="4.72"/>
<circle cx="1410.6" cy="367.1" r="4.72"/>
<circle cx="1446.9" cy="343.6" r="4.72"/>
<circle cx="1387.0" cy="137.1" r="4.72"/>
<circle cx="1468.7" cy="244.7" r="4.72"/>
<circle cx="1417.6" cy="108.3" r="4.72"/>
<circle cx="1466.2" cy="397.9" r="4.72"/>
<circle cx="1427.8" cy="227.1" r="4.72"/>
<circle cx="1471.4" cy="391.7" r="4.72"/>
<circle cx="1483.6" cy="266.7" r="4.72"/>
<circle cx="1513.2" cy="407.3" r="4.72"/>
<circle cx="1397.7" cy="99.9" r="4.72"/>
<circle cx="1418.6" cy="119.3" r="4.72"/>
<circle cx="1515.9" cy="311.2" r="4.72"/>
<circle cx="1560.3" cy="283.3" r="4.72"/>
<circle cx="1510.7" cy="408.9" r="4.72"/>
<circle cx="1412.7" cy="214.7" r="4.72"/>
<circle cx="1394.3" cy="179.4" r="4.72"/>
<circle cx="1467.6" cy="329.7" r="4.72"/>
<circle cx="1538.0" cy="314.2" r="4.72"/>
<circle cx="1388.9" cy="388.4" r="4.72"/>
<circle cx="1484.1" cy="192.7" r="4.72"/>
<circle cx="1387.0" cy="399.1" r="4.72"/>
<circle cx="1475.9" cy="377.9" r="4.72"/>
<circle cx="1472.3" cy="428.5" r="4.72"/>
<circle cx="1502.7" cy="318.0" r="4.72"/>
<circle cx="1417.1" cy="212.1" r="4.72"/>
<circle cx="1406.3" cy="78.6" r="4.72"/>
<circle cx="1497.5" cy="297.5" r="4.72"/>
<circle cx="1449.8" cy="123.6" r="4.72"/>
<circle cx="1387.0" cy="358.7" r="4.72"/>
<circle cx="1507.5" cy="292.5" r="4.72"/>
<circle cx="1477.0" cy="360.7" r="4.72"/>
<circle cx="1451.6" cy="424.8" r="4.72"/>
<circle cx="1393.6" cy="366.8" r="4.72"/>
<circle cx="1461.2" cy="136.2" r="4.72"/>
<circle cx="1387.2" cy="308.4" r="4.72"/>
<circle cx="1387.0" cy="255.1" r="4.72"/>
<circle cx="1532.9" cy="147.2" r="4.72"/>
<circle cx="1432.0" cy="52.7" r="4.72"/>
<circle cx="1393.4" cy="163.4" r="4.72"/>
<circle cx="1499.4" cy="404.0" r="4.72"/>
<circle cx="1435.3" cy="110.3" r="4.72"/>
<circle cx="1404.2" cy="272.2" r="4.72"/>
<circle cx="1387.0" cy="422.3" r="4.72"/>
<circle cx="1445.0" cy="371.7" r="4.72"/>
<circle cx="1422.2" cy="108.0" r="4.72"/>
<circle cx="1650.6" cy="269.5" r="4.72"/>
<circle cx="1486.0" cy="177.8" r="4.72"/>
<circle cx="1410.0" cy="404.9" r="4.72"/>
<circle cx="1423.4" cy="34.0" r="4.72"/>
<circle cx="1391.8" cy="294.9" r="4.72"/>
<circle cx="1467.8" cy="131.8" r="4.72"/>
<circle cx="1406.8" cy="220.7" r="4.72"/>
<circle cx="1473.8" cy="402.6" r="4.72"/>
<circle cx="1503.0" cy="328.6" r="4.72"/>
<circle cx="1429.4" cy="151.4" r="4.72"/>
<circle cx="1387.0" cy="316.0" r="4.72"/>
<circle cx="1410.4" cy="394.3" r="4.72"/>
<circle cx="1435.4" cy="328.8" r="4.72"/>
<circle cx="1436.8" cy="60.7" r="4.72"/>
<circle cx="1419.9" cy="219.2" r="4.72"/>
<circle cx="1431.7" cy="367.0" r="4.72"/>
<circle cx="1510.5" cy="338.6" r="4.72"/>
<circle cx="1496.5" cy="206.8" r="4.72"/>
<circle cx="1493.8" cy="363.2" r="4.72"/>
<circle cx="1387.0" cy="225.0" r="4.72"/>
<circle cx="1409.2" cy="52.3" r="4.72"/>
<circle cx="1457.7" cy="173.0" r="4.72"/>
<circle cx="1437.3" cy="327.0" r="4.72"/>
<circle cx="1495.3" cy="270.3" r="4.72"/>
<circle cx="1487.2" cy="266.0" r="4.72"/>
<circle cx="1508.0" cy="407.0" r="4.72"/>
<circle cx="1446.3" cy="56.6" r="4.72"/>
<circle cx="1415.7" cy="212.2" r="4.72"/>
<circle cx="1397.0" cy="76.5" r="4.72"/>
<circle cx="1465.7" cy="77.0" r="4.72"/>
<circle cx="1495.8" cy="390.3" r="4.72"/>
<circle cx="1471.1" cy="172.2" r="4.72"/>
<circle cx="1465.4" cy="212.2" r="4.72"/>
<circle cx="1401.6" cy="398.8" r="4.72"/>
<circle cx="1400.0" cy="430.5" r="4.72"/>
<circle cx="1406.1" cy="89.2" r="4.72"/>
<circle cx="1583.6" cy="178.2" r="4.72"/>
<circle cx="1409.8" cy="46.6" r="4.72"/>
<circle cx="1387.7" cy="84.8" r="4.72"/>
<circle cx="1387.0" cy="328.6" r="4.72"/>
<circle cx="1387.0" cy="199.3" r="4.72"/>
<circle cx="1565.2" cy="173.6" r="4.72"/>
<circle cx="1447.5" cy="45.5" r="4.72"/>
<circle cx="1387.0" cy="42.8" r="4.72"/>
<circle cx="1408.4" cy="120.8" r="4.72"/>
<circle cx="1509.0" cy="304.3" r="4.72"/>
<circle cx="1483.5" cy="319.9" r="4.72"/>
<circle cx="1418.1" cy="214.5" r="4.72"/>
<circle cx="1399.7" cy="241.4" r="4.72"/>
<circle cx="1516.7" cy="418.5" r="4.72"/>
<circle cx="1414.8" cy="216.3" r="4.72"/>
<circle cx="1478.2" cy="414.6" r="4.72"/>
<circle cx="1546.6" cy="133.9" r="4.72"/>
<circle cx="1447.6" cy="367.3" r="4.72"/>
<circle cx="1401.8" cy="227.7" r="4.72"/>
<circle cx="1387.6" cy="223.0" r="4.72"/>
<circle cx="1391.9" cy="128.0" r="4.72"/>
<circle cx="1485.8" cy="251.8" r="4.72"/>
<circle cx="1428.0" cy="392.1" r="4.72"/>
<circle cx="1394.1" cy="190.8" r="4.72"/>
<circle cx="1510.6" cy="430.5" r="4.72"/>
<circle cx="1424.1" cy="207.1" r="4.72"/>
<circle cx="1429.9" cy="426.1" r="4.72"/>
<circle cx="1511.2" cy="430.5" r="4.72"/>
<circle cx="1398.4" cy="332.2" r="4.72"/>
<circle cx="1420.1" cy="183.2" r="4.72"/>
<circle cx="1423.5" cy="309.1" r="4.72"/>
<circle cx="1389.3" cy="90.9" r="4.72"/>
<circle cx="1452.4" cy="51.1" r="4.72"/>
<circle cx="1454.2" cy="194.3" r="4.72"/>
<circle cx="1485.2" cy="330.6" r="4.72"/>
<circle cx="1399.2" cy="155.7" r="4.72"/>
<circle cx="1490.8" cy="289.5" r="4.72"/>
<circle cx="1405.8" cy="225.2" r="4.72"/>
<circle cx="1392.8" cy="201.4" r="4.72"/>
<circle cx="1402.4" cy="334.8" r="4.72"/>
<circle cx="1526.1" cy="249.2" r="4.72"/>
<circle cx="1470.2" cy="347.6" r="4.72"/>
<circle cx="1501.8" cy="302.6" r="4.72"/>
<circle cx="1445.2" cy="256.3" r="4.72"/>
<circle cx="1454.6" cy="82.5" r="4.72"/>
<circle cx="1473.9" cy="192.0" r="4.72"/>
<circle cx="1414.9" cy="411.3" r="4.72"/>
<circle cx="1478.5" cy="378.7" r="4.72"/>
<circle cx="1441.4" cy="403.0" r="4.72"/>
<circle cx="1473.8" cy="315.5" r="4.72"/>
<circle cx="1411.2" cy="239.1" r="4.72"/>
<circle cx="1392.5" cy="113.4" r="4.72"/>
<circle cx="1496.0" cy="331.5" r="4.72"/>
<circle cx="1496.0" cy="300.7" r="4.72"/>
<circle cx="1634.9" cy="379.0" r="4.72"/>
<circle cx="1395.6" cy="162.6" r="4.72"/>
<circle cx="1499.8" cy="314.0" r="4.72"/>
<circle cx="1389.1" cy="362.4" r="4.72"/>
<circle cx="1461.9" cy="195.4" r="4.72"/>
<circle cx="1586.9" cy="71.6" r="4.72"/>
<circle cx="1449.6" cy="163.0" r="4.72"/>
<circle cx="1483.5" cy="71.3" r="4.72"/>
<circle cx="1449.9" cy="225.7" r="4.72"/>
<circle cx="1493.1" cy="170.8" r="4.72"/>
<circle cx="1456.6" cy="89.3" r="4.72"/>
<circle cx="1434.9" cy="34.0" r="4.72"/>
<circle cx="1459.5" cy="303.4" r="4.72"/>
<circle cx="1387.2" cy="34.0" r="4.72"/>
<circle cx="1435.6" cy="190.6" r="4.72"/>
<circle cx="1426.2" cy="243.2" r="4.72"/>
<circle cx="1501.8" cy="238.3" r="4.72"/>
<circle cx="1516.1" cy="192.6" r="4.72"/>
<circle cx="1508.1" cy="430.5" r="4.72"/>
<circle cx="1391.8" cy="129.2" r="4.72"/>
<circle cx="1474.1" cy="427.0" r="4.72"/>
<circle cx="1486.1" cy="173.2" r="4.72"/>
<circle cx="1387.0" cy="76.9" r="4.72"/>
<circle cx="1392.5" cy="91.2" r="4.72"/>
<circle cx="1513.6" cy="304.5" r="4.72"/>
<circle cx="1401.2" cy="279.1" r="4.72"/>
<circle cx="1437.2" cy="173.7" r="4.72"/>
<circle cx="1421.9" cy="274.8" r="4.72"/>
<circle cx="1446.6" cy="145.5" r="4.72"/>
<circle cx="1479.3" cy="251.2" r="4.72"/>
<circle cx="1434.1" cy="258.8" r="4.72"/>
<circle cx="1387.0" cy="275.9" r="4.72"/>
<circle cx="1457.3" cy="165.9" r="4.72"/>
<circle cx="1447.9" cy="192.6" r="4.72"/>
<circle cx="1455.7" cy="353.3" r="4.72"/>
<circle cx="1409.4" cy="150.1" r="4.72"/>
<circle cx="1443.2" cy="352.5" r="4.72"/>
<circle cx="1416.9" cy="63.7" r="4.72"/>
<circle cx="1501.0" cy="416.7" r="4.72"/>
<circle cx="1499.7" cy="303.6" r="4.72"/>
<circle cx="1463.2" cy="327.7" r="4.72"/>
<circle cx="1447.8" cy="301.1" r="4.72"/>
<circle cx="1423.4" cy="259.4" r="4.72"/>
<circle cx="1411.8" cy="302.0" r="4.72"/>
<circle cx="1432.8" cy="417.4" r="4.72"/>
<circle cx="1518.0" cy="293.2" r="4.72"/>
<circle cx="1444.5" cy="331.4" r="4.72"/>
<circle cx="1595.5" cy="124.0" r="4.72"/>
<circle cx="1447.2" cy="428.1" r="4.72"/>
<circle cx="1445.9" cy="215.2" r="4.72"/>
<circle cx="1489.3" cy="388.5" r="4.72"/>
<circle cx="1504.9" cy="175.2" r="4.72"/>
<circle cx="1420.7" cy="293.8" r="4.72"/>
<circle cx="1409.0" cy="167.4" r="4.72"/>
<circle cx="1461.8" cy="166.0" r="4.72"/>
<circle cx="1418.6" cy="285.0" r="4.72"/>
<circle cx="1474.7" cy="364.6" r="4.72"/>
<circle cx="1413.4" cy="77.4" r="4.72"/>
<circle cx="1417.4" cy="298.5" r="4.72"/>
<circle cx="1468.3" cy="334.7" r="4.72"/>
<circle cx="1450.3" cy="327.4" r="4.72"/>
<circle cx="1387.0" cy="358.4" r="4.72"/>
<circle cx="1457.6" cy="222.7" r="4.72"/>
<circle cx="1444.4" cy="96.5" r="4.72"/>
<circle cx="1495.3" cy="270.1" r="4.72"/>
<circle cx="1470.6" cy="350.8" r="4.72"/>
<circle cx="1404.1" cy="430.5" r="4.72"/>
<circle cx="1513.9" cy="338.0" r="4.72"/>
<circle cx="1464.2" cy="257.9" r="4.72"/>
<circle cx="1474.9" cy="244.1" r="4.72"/>
<circle cx="1434.8" cy="214.4" r="4.72"/>
<circle cx="1476.1" cy="186.5" r="4.72"/>
<circle cx="1435.2" cy="198.6" r="4.72"/>
<circle cx="1500.8" cy="407.5" r="4.72"/>
<circle cx="1491.0" cy="173.5" r="4.72"/>
<circle cx="1449.3" cy="213.3" r="4.72"/>
<circle cx="1414.1" cy="418.0" r="4.72"/>
<circle cx="1497.5" cy="430.5" r="4.72"/>
<circle cx="1402.3" cy="300.3" r="4.72"/>
<circle cx="1395.5" cy="393.6" r="4.72"/>
<circle cx="1403.1" cy="260.0" r="4.72"/>
<circle cx="1459.7" cy="374.0" r="4.72"/>
<circle cx="1477.6" cy="279.8" r="4.72"/>
<circle cx="1505.8" cy="192.9" r="4.72"/>
<circle cx="1387.4" cy="280.7" r="4.72"/>
<circle cx="1503.8" cy="227.5" r="4.72"/>
<circle cx="1441.2" cy="123.9" r="4.72"/>
<circle cx="1507.3" cy="426.2" r="4.72"/>
<circle cx="1499.9" cy="59.7" r="4.72"/>
<circle cx="1457.5" cy="186.6" r="4.72"/>
<circle cx="1428.4" cy="337.6" r="4.72"/>
<circle cx="1482.7" cy="394.4" r="4.72"/>
<circle cx="1407.6" cy="372.9" r="4.72"/>
<circle cx="1464.4" cy="310.6" r="4.72"/>
<circle cx="1425.5" cy="126.9" r="4.72"/>
<circle cx="1387.0" cy="43.4" r="4.72"/>
<circle cx="1416.8" cy="245.3" r="4.72"/>
<circle cx="1387.0" cy="258.5" r="4.72"/>
<circle cx="1416.9" cy="233.0" r="4.72"/>
<circle cx="1395.6" cy="196.4" r="4.72"/>
<circle cx="1483.7" cy="298.4" r="4.72"/>
<circle cx="1518.8" cy="331.5" r="4.72"/>
<circle cx="1445.4" cy="72.2" r="4.72"/>
<circle cx="1421.3" cy="307.9" r="4.72"/>
<circle cx="1411.9" cy="190.3" r="4.72"/>
<circle cx="1514.3" cy="296.2" r="4.72"/>
<circle cx="1513.1" cy="394.4" r="4.72"/>
<circle cx="1387.0" cy="157.0" r="4.72"/>
<circle cx="1421.3" cy="268.3" r="4.72"/>
<circle cx="1446.5" cy="94.2" r="4.72"/>
<circle cx="1387.0" cy="417.4" r="4.72"/>
<circle cx="1495.2" cy="250.4" r="4.72"/>
<circle cx="1387.0" cy="401.7" r="4.72"/>
<circle cx="1498.0" cy="282.5" r="4.72"/>
<circle cx="1538.9" cy="255.4" r="4.72"/>
<circle cx="1405.6" cy="185.3" r="4.72"/>
<circle cx="1425.2" cy="138.7" r="4.72"/>
<circle cx="1539.1" cy="156.4" r="4.72"/>
<circle cx="1387.0" cy="411.2" r="4.72"/>
<circle cx="1387.0" cy="349.0" r="4.72"/>
<circle cx="1387.0" cy="201.4" r="4.72"/>
<circle cx="1417.5" cy="265.5" r="4.72"/>
<circle cx="1480.6" cy="394.7" r="4.72"/>
<circle cx="1420.9" cy="382.1" r="4.72"/>
<circle cx="1401.8" cy="353.5" r="4.72"/>
<circle cx="1439.9" cy="61.5" r="4.72"/>
<circle cx="1387.0" cy="383.4" r="4.72"/>
<circle cx="1448.4" cy="152.5" r="4.72"/>
<circle cx="1477.1" cy="146.0" r="4.72"/>
<circle cx="1407.4" cy="199.3" r="4.72"/>
<circle cx="1419.9" cy="134.9" r="4.72"/>
<circle cx="1421.8" cy="421.4" r="4.72"/>
<circle cx="1423.0" cy="50.4" r="4.72"/>
<circle cx="1512.0" cy="402.7" r="4.72"/>
<circle cx="1387.0" cy="227.2" r="4.72"/>
<circle cx="1568.3" cy="196.0" r="4.72"/>
<circle cx="1407.9" cy="397.3" r="4.72"/>
<circle cx="1413.8" cy="382.5" r="4.72"/>
<circle cx="1442.8" cy="159.2" r="4.72"/>
<circle cx="1522.9" cy="328.8" r="4.72"/>
<circle cx="1444.8" cy="354.7" r="4.72"/>
<circle cx="1387.0" cy="248.5" r="4.72"/>
<circle cx="1516.2" cy="216.3" r="4.72"/>
<circle cx="1416.2" cy="157.5" r="4.72"/>
<circle cx="1481.2" cy="161.5" r="4.72"/>
<circle cx="1394.9" cy="135.3" r="4.72"/>
<circle cx="1391.7" cy="428.6" r="4.72"/>
<circle cx="1513.9" cy="317.3" r="4.72"/>
<circle cx="1443.6" cy="194.3" r="4.72"/>
<circle cx="1388.4" cy="164.2" r="4.72"/>
<circle cx="1404.9" cy="73.0" r="4.72"/>
<circle cx="1422.6" cy="153.7" r="4.72"/>
<circle cx="1428.9" cy="157.6" r="4.72"/>
<circle cx="1512.7" cy="277.8" r="4.72"/>
<circle cx="1450.4" cy="419.9" r="4.72"/>
<circle cx="1435.9" cy="177.6" r="4.72"/>
<circle cx="1476.3" cy="185.4" r="4.72"/>
<circle cx="1387.0" cy="404.3" r="4.72"/>
<circle cx="1399.0" cy="248.7" r="4.72"/>
<circle cx="1456.8" cy="118.9" r="4.72"/>
<circle cx="1489.5" cy="348.1" r="4.72"/>
<circle cx="1387.0" cy="234.9" r="4.72"/>
<circle cx="1465.4" cy="216.4" r="4.72"/>
<circle cx="1480.7" cy="213.2" r="4.72"/>
<circle cx="1441.5" cy="366.7" r="4.72"/>
<circle cx="1580.5" cy="204.9" r="4.72"/>
<circle cx="1409.2" cy="179.3" r="4.72"/>
<circle cx="1468.1" cy="288.1" r="4.72"/>
<circle cx="1475.6" cy="76.1" r="4.72"/>
<circle cx="1435.4" cy="314.0" r="4.72"/>
<circle cx="1422.3" cy="103.1" r="4.72"/>
<circle cx="1387.0" cy="391.4" r="4.72"/>
<circle cx="1508.1" cy="95.4" r="4.72"/>
<circle cx="1492.2" cy="200.7" r="4.72"/>
<circle cx="1438.9" cy="102.4" r="4.72"/>
<circle cx="1426.9" cy="338.8" r="4.72"/>
<circle cx="1402.9" cy="125.2" r="4.72"/>
<circle cx="1397.8" cy="210.9" r="4.72"/>
<circle cx="1561.0" cy="37.4" r="4.72"/>
<circle cx="1405.3" cy="175.8" r="4.72"/>
<circle cx="1428.7" cy="235.6" r="4.72"/>
<circle cx="1455.6" cy="216.6" r="4.72"/>
<circle cx="1387.0" cy="42.3" r="4.72"/>
<circle cx="1459.1" cy="120.8" r="4.72"/>
<circle cx="1395.5" cy="117.4" r="4.72"/>
<circle cx="1490.9" cy="295.2" r="4.72"/>
<circle cx="1422.1" cy="342.0" r="4.72"/>
<circle cx="1501.2" cy="204.3" r="4.72"/>
<circle cx="1387.0" cy="70.5" r="4.72"/>
<circle cx="1414.3" cy="366.5" r="4.72"/>
<circle cx="1387.0" cy="142.0" r="4.72"/>
<circle cx="1393.1" cy="379.4" r="4.72"/>
<circle cx="1414.6" cy="66.1" r="4.72"/>
<circle cx="1466.0" cy="422.3" r="4.72"/>
<circle cx="1435.6" cy="221.0" r="4.72"/>
<circle cx="1463.7" cy="81.3" r="4.72"/>
<circle cx="1387.0" cy="410.8" r="4.72"/>
<circle cx="1431.8" cy="164.3" r="4.72"/>
<circle cx="1463.7" cy="134.2" r="4.72"/>
<circle cx="1476.1" cy="193.2" r="4.72"/>
<circle cx="1393.6" cy="145.3" r="4.72"/>
<circle cx="1422.6" cy="218.2" r="4.72"/>
<circle cx="1387.2" cy="261.0" r="4.72"/>
<circle cx="1487.9" cy="132.4" r="4.72"/>
<circle cx="1401.8" cy="260.1" r="4.72"/>
<circle cx="1582.6" cy="191.1" r="4.72"/>
<circle cx="1485.9" cy="359.6" r="4.72"/>
<circle cx="1485.8" cy="306.3" r="4.72"/>
<circle cx="1501.3" cy="297.8" r="4.72"/>
<circle cx="1541.5" cy="346.4" r="4.72"/>
<circle cx="1410.5" cy="34.9" r="4.72"/>
<circle cx="1414.4" cy="188.9" r="4.72"/>
<circle cx="1424.1" cy="281.6" r="4.72"/>
<circle cx="1395.5" cy="359.8" r="4.72"/>
<circle cx="1500.6" cy="280.0" r="4.72"/>
<circle cx="1424.3" cy="395.7" r="4.72"/>
<circle cx="1473.6" cy="117.0" r="4.72"/>
<circle cx="1489.4" cy="195.1" r="4.72"/>
<circle cx="1468.8" cy="175.7" r="4.72"/>
<circle cx="1460.8" cy="275.8" r="4.72"/>
<circle cx="1437.2" cy="104.8" r="4.72"/>
<circle cx="1474.6" cy="169.7" r="4.72"/>
<circle cx="1496.1" cy="428.7" r="4.72"/>
<circle cx="1393.3" cy="117.7" r="4.72"/>
<circle cx="1461.2" cy="357.9" r="4.72"/>
<circle cx="1393.9" cy="270.4" r="4.72"/>
<circle cx="1414.6" cy="189.4" r="4.72"/>
<circle cx="1463.5" cy="307.3" r="4.72"/>
<circle cx="1417.9" cy="34.0" r="4.72"/>
<circle cx="1506.4" cy="430.5" r="4.72"/>
<circle cx="1424.9" cy="316.7" r="4.72"/>
<circle cx="1387.0" cy="276.3" r="4.72"/>
<circle cx="1491.9" cy="299.2" r="4.72"/>
<circle cx="1443.6" cy="296.0" r="4.72"/>
<circle cx="1420.7" cy="187.0" r="4.72"/>
<circle cx="1464.6" cy="300.9" r="4.72"/>
<circle cx="1477.1" cy="95.2" r="4.72"/>
<circle cx="1414.9" cy="101.0" r="4.72"/>
<circle cx="1433.4" cy="386.1" r="4.72"/>
<circle cx="1465.2" cy="328.4" r="4.72"/>
<circle cx="1489.1" cy="234.4" r="4.72"/>
<circle cx="1387.0" cy="239.2" r="4.72"/>
<circle cx="1387.0" cy="426.0" r="4.72"/>
<circle cx="1419.6" cy="268.8" r="4.72"/>
<circle cx="1457.3" cy="382.1" r="4.72"/>
<circle cx="1389.0" cy="399.7" r="4.72"/>
<circle cx="1436.2" cy="303.9" r="4.72"/>
<circle cx="1447.2" cy="124.8" r="4.72"/>
<circle cx="1402.3" cy="34.0" r="4.72"/>
<circle cx="1542.6" cy="221.7" r="4.72"/>
<circle cx="1482.8" cy="254.2" r="4.72"/>
<circle cx="1432.9" cy="59.0" r="4.72"/>
<circle cx="1498.9" cy="346.9" r="4.72"/>
<circle cx="1444.7" cy="102.3" r="4.72"/>
<circle cx="1387.0" cy="234.2" r="4.72"/>
<circle cx="1465.8" cy="206.7" r="4.72"/>
<circle cx="1474.7" cy="231.0" r="4.72"/>
<circle cx="1520.9" cy="300.6" r="4.72"/>
<circle cx="1495.7" cy="404.5" r="4.72"/>
<circle cx="1520.5" cy="362.9" r="4.72"/>
<circle cx="1457.9" cy="340.2" r="4.72"/>
<circle cx="1463.0" cy="229.8" r="4.72"/>
<circle cx="1443.3" cy="310.1" r="4.72"/>
<circle cx="1454.6" cy="302.1" r="4.72"/>
<circle cx="1474.5" cy="115.0" r="4.72"/>
<circle cx="1391.2" cy="423.0" r="4.72"/>
<circle cx="1586.7" cy="127.9" r="4.72"/>
<circle cx="1572.0" cy="70.3" r="4.72"/>
<circle cx="1434.0" cy="347.1" r="4.72"/>
<circle cx="1521.0" cy="272.9" r="4.72"/>
<circle cx="1591.3" cy="109.7" r="4.72"/>
<circle cx="1418.2" cy="277.0" r="4.72"/>
<circle cx="1391.5" cy="102.4" r="4.72"/>
<circle cx="1423.4" cy="336.4" r="4.72"/>
<circle cx="1401.3" cy="79.7" r="4.72"/>
<circle cx="1510.2" cy="282.9" r="4.72"/>
<circle cx="1502.6" cy="260.5" r="4.72"/>
<circle cx="1424.6" cy="411.2" r="4.72"/>
<circle cx="1414.7" cy="118.5" r="4.72"/>
<circle cx="1507.5" cy="384.6" r="4.72"/>
<circle cx="1485.0" cy="184.2" r="4.72"/>
<circle cx="1436.8" cy="400.3" r="4.72"/>
<circle cx="1506.2" cy="406.4" r="4.72"/>
<circle cx="1446.1" cy="339.9" r="4.72"/>
<circle cx="1432.6" cy="226.7" r="4.72"/>
<circle cx="1395.6" cy="269.4" r="4.72"/>
<circle cx="1507.6" cy="287.7" r="4.72"/>
<circle cx="1443.4" cy="267.2" r="4.72"/>
<circle cx="1407.7" cy="167.7" r="4.72"/>
<circle cx="1406.7" cy="63.6" r="4.72"/>
<circle cx="1399.2" cy="305.0" r="4.72"/>
<circle cx="1480.6" cy="169.5" r="4.72"/>
<circle cx="1403.0" cy="120.8" r="4.72"/>
<circle cx="1535.1" cy="250.0" r="4.72"/>
<circle cx="1434.7" cy="334.8" r="4.72"/>
<circle cx="1415.5" cy="115.2" r="4.72"/>
<circle cx="1440.5" cy="103.0" r="4.72"/>
<circle cx="1481.8" cy="295.1" r="4.72"/>
<circle cx="1427.8" cy="220.3" r="4.72"/>
<circle cx="1448.6" cy="265.9" r="4.72"/>
<circle cx="1392.6" cy="426.2" r="4.72"/>
<circle cx="1483.6" cy="169.6" r="4.72"/>
<circle cx="1477.9" cy="176.9" r="4.72"/>
<circle cx="1467.3" cy="146.2" r="4.72"/>
<circle cx="1542.1" cy="379.9" r="4.72"/>
<circle cx="1515.3" cy="88.6" r="4.72"/>
<circle cx="1503.3" cy="360.5" r="4.72"/>
<circle cx="1407.0" cy="238.7" r="4.72"/>
<circle cx="1517.0" cy="259.9" r="4.72"/>
<circle cx="1387.0" cy="311.7" r="4.72"/>
<circle cx="1409.0" cy="34.0" r="4.72"/>
<circle cx="1387.0" cy="181.1" r="4.72"/>
<circle cx="1387.0" cy="74.6" r="4.72"/>
<circle cx="1480.0" cy="388.1" r="4.72"/>
<circle cx="1497.6" cy="182.7" r="4.72"/>
<circle cx="1442.0" cy="160.0" r="4.72"/>
<circle cx="1387.0" cy="46.6" r="4.72"/>
<circle cx="1387.0" cy="143.3" r="4.72"/>
<circle cx="1449.4" cy="43.1" r="4.72"/>
<circle cx="1444.0" cy="422.5" r="4.72"/>
<circle cx="1402.7" cy="278.2" r="4.72"/>
<circle cx="1465.1" cy="69.3" r="4.72"/>
<circle cx="1438.0" cy="305.3" r="4.72"/>
<circle cx="1426.3" cy="260.9" r="4.72"/>
<circle cx="1404.0" cy="328.6" r="4.72"/>
<circle cx="1407.2" cy="208.6" r="4.72"/>
<circle cx="1399.3" cy="162.4" r="4.72"/>
<circle cx="1558.7" cy="197.0" r="4.72"/>
<circle cx="1413.2" cy="322.6" r="4.72"/>
<circle cx="1461.7" cy="191.4" r="4.72"/>
<circle cx="1389.8" cy="261.2" r="4.72"/>
<circle cx="1509.9" cy="420.2" r="4.72"/>
<circle cx="1466.6" cy="237.2" r="4.72"/>
<circle cx="1558.8" cy="260.5" r="4.72"/>
<circle cx="1472.9" cy="409.7" r="4.72"/>
<circle cx="1496.0" cy="199.9" r="4.72"/>
<circle cx="1447.7" cy="242.6" r="4.72"/>
<circle cx="1518.4" cy="321.1" r="4.72"/>
<circle cx="1409.4" cy="421.7" r="4.72"/>
<circle cx="1464.7" cy="165.0" r="4.72"/>
<circle cx="1389.3" cy="376.8" r="4.72"/>
<circle cx="1479.8" cy="121.5" r="4.72"/>
<circle cx="1416.9" cy="145.0" r="4.72"/>
<circle cx="1457.5" cy="199.9" r="4.72"/>
<circle cx="1563.5" cy="200.7" r="4.72"/>
<circle cx="1457.8" cy="173.0" r="4.72"/>
<circle cx="1398.8" cy="414.8" r="4.72"/>
<circle cx="1459.8" cy="159.9" r="4.72"/>
<circle cx="1399.6" cy="165.0" r="4.72"/>
<circle cx="1452.4" cy="211.0" r="4.72"/>
<circle cx="1576.6" cy="138.5" r="4.72"/>
<circle cx="1420.4" cy="277.1" r="4.72"/>
<circle cx="1397.3" cy="218.3" r="4.72"/>
<circle cx="1387.0" cy="313.6" r="4.72"/>
<circle cx="1432.4" cy="326.7" r="4.72"/>
<circle cx="1409.4" cy="123.6" r="4.72"/>
<circle cx="1509.1" cy="254.5" r="4.72"/>
<circle cx="1426.6" cy="247.7" r="4.72"/>
<circle cx="1528.2" cy="349.0" r="4.72"/>
<circle cx="1426.6" cy="230.5" r="4.72"/>
<circle cx="1486.2" cy="226.1" r="4.72"/>
<circle cx="1415.3" cy="394.1" r="4.72"/>
<circle cx="1392.5" cy="333.7" r="4.72"/>
<circle cx="1451.2" cy="391.5" r="4.72"/>
<circle cx="1475.6" cy="227.5" r="4.72"/>
<circle cx="1440.4" cy="352.7" r="4.72"/>
<circle cx="1484.9" cy="430.5" r="4.72"/>
<circle cx="1421.0" cy="353.5" r="4.72"/>
<circle cx="1491.6" cy="419.2" r="4.72"/>
<circle cx="1393.0" cy="141.5" r="4.72"/>
<circle cx="1423.4" cy="309.0" r="4.72"/>
<circle cx="1483.0" cy="286.0" r="4.72"/>
<circle cx="1441.8" cy="114.6" r="4.72"/>
<circle cx="1496.2" cy="265.6" r="4.72"/>
<circle cx="1507.2" cy="403.8" r="4.72"/>
<circle cx="1483.0" cy="430.5" r="4.72"/>
<circle cx="1413.8" cy="290.3" r="4.72"/>
<circle cx="1416.9" cy="227.5" r="4.72"/>
<circle cx="1490.6" cy="407.6" r="4.72"/>
<circle cx="1387.0" cy="340.4" r="4.72"/>
<circle cx="1429.5" cy="172.9" r="4.72"/>
<circle cx="1461.8" cy="240.2" r="4.72"/>
<circle cx="1416.9" cy="202.7" r="4.72"/>
<circle cx="1408.5" cy="263.8" r="4.72"/>
<circle cx="1491.9" cy="246.0" r="4.72"/>
<circle cx="1395.3" cy="125.4" r="4.72"/>
<circle cx="1478.5" cy="150.4" r="4.72"/>
<circle cx="1432.8" cy="70.3" r="4.72"/>
<circle cx="1474.7" cy="427.8" r="4.72"/>
<circle cx="1472.4" cy="401.5" r="4.72"/>
<circle cx="1387.0" cy="243.1" r="4.72"/>
<circle cx="1423.0" cy="320.3" r="4.72"/>
<circle cx="1416.6" cy="292.0" r="4.72"/>
<circle cx="1417.3" cy="201.0" r="4.72"/>
<circle cx="1482.4" cy="367.4" r="4.72"/>
<circle cx="1522.3" cy="303.8" r="4.72"/>
<circle cx="1414.5" cy="289.3" r="4.72"/>
<circle cx="1412.4" cy="181.6" r="4.72"/>
<circle cx="1497.2" cy="299.2" r="4.72"/>
<circle cx="1437.9" cy="425.1" r="4.72"/>
<circle cx="1389.0" cy="210.4" r="4.72"/>
<circle cx="1517.2" cy="80.0" r="4.72"/>
<circle cx="1422.0" cy="344.4" r="4.72"/>
<circle cx="1472.4" cy="271.9" r="4.72"/>
<circle cx="1498.9" cy="343.8" r="4.72"/>
<circle cx="1462.0" cy="199.9" r="4.72"/>
<circle cx="1401.5" cy="402.4" r="4.72"/>
<circle cx="1403.8" cy="306.3" r="4.72"/>
<circle cx="1442.2" cy="326.8" r="4.72"/>
<circle cx="1468.7" cy="89.7" r="4.72"/>
<circle cx="1408.0" cy="394.6" r="4.72"/>
<circle cx="1490.6" cy="399.2" r="4.72"/>
<circle cx="1495.0" cy="412.3" r="4.72"/>
<circle cx="1483.5" cy="327.6" r="4.72"/>
<circle cx="1424.0" cy="115.6" r="4.72"/>
<circle cx="1387.0" cy="374.8" r="4.72"/>
<circle cx="1447.0" cy="211.1" r="4.72"/>
<circle cx="1391.8" cy="65.5" r="4.72"/>
<circle cx="1422.9" cy="424.6" r="4.72"/>
<circle cx="1400.6" cy="306.4" r="4.72"/>
<circle cx="1401.5" cy="283.1" r="4.72"/>
<circle cx="1515.5" cy="199.3" r="4.72"/>
<circle cx="1463.3" cy="106.4" r="4.72"/>
<circle cx="1433.9" cy="415.8" r="4.72"/>
<circle cx="1442.4" cy="84.7" r="4.72"/>
<circle cx="1388.3" cy="223.8" r="4.72"/>
<circle cx="1492.8" cy="205.5" r="4.72"/>
<circle cx="1429.8" cy="194.0" r="4.72"/>
<circle cx="1387.0" cy="129.5" r="4.72"/>
<circle cx="1405.9" cy="243.2" r="4.72"/>
<circle cx="1471.1" cy="390.6" r="4.72"/>
<circle cx="1391.8" cy="416.1" r="4.72"/>
<circle cx="1468.0" cy="300.4" r="4.72"/>
<circle cx="1425.2" cy="91.2" r="4.72"/>
<circle cx="1492.9" cy="181.7" r="4.72"/>
<circle cx="1442.3" cy="116.4" r="4.72"/>
<circle cx="1615.2" cy="421.0" r="4.72"/>
<circle cx="1387.0" cy="102.1" r="4.72"/>
<circle cx="1485.6" cy="366.8" r="4.72"/>
<circle cx="1464.5" cy="186.8" r="4.72"/>
<circle cx="1461.2" cy="424.9" r="4.72"/>
<circle cx="1505.4" cy="314.6" r="4.72"/>
<circle cx="1476.3" cy="227.6" r="4.72"/>
<circle cx="1458.2" cy="341.7" r="4.72"/>
<circle cx="1435.3" cy="339.8" r="4.72"/>
<circle cx="1411.2" cy="225.1" r="4.72"/>
<circle cx="1473.1" cy="163.1" r="4.72"/>
<circle cx="1516.5" cy="272.2" r="4.72"/>
<circle cx="1445.0" cy="143.6" r="4.72"/>
<circle cx="1469.7" cy="361.9" r="4.72"/>
<circle cx="1480.2" cy="430.5" r="4.72"/>
<circle cx="1426.3" cy="424.6" r="4.72"/>
<circle cx="1399.5" cy="404.2" r="4.72"/>
<circle cx="1413.8" cy="348.3" r="4.72"/>
<circle cx="1465.9" cy="315.4" r="4.72"/>
<circle cx="1437.8" cy="170.9" r="4.72"/>
<circle cx="1387.0" cy="213.0" r="4.72"/>
<circle cx="1608.3" cy="321.9" r="4.72"/>
<circle cx="1426.5" cy="42.9" r="4.72"/>
<circle cx="1434.7" cy="369.5" r="4.72"/>
<circle cx="1438.3" cy="284.0" r="4.72"/>
<circle cx="1480.0" cy="150.9" r="4.72"/>
<circle cx="1513.1" cy="301.0" r="4.72"/>
<circle cx="1529.3" cy="92.6" r="4.72"/>
<circle cx="1452.3" cy="76.6" r="4.72"/>
<circle cx="1391.1" cy="246.8" r="4.72"/>
<circle cx="1506.5" cy="329.2" r="4.72"/>
<circle cx="1424.5" cy="294.9" r="4.72"/>
<circle cx="1422.1" cy="419.2" r="4.72"/>
<circle cx="1528.9" cy="410.1" r="4.72"/>
<circle cx="1418.4" cy="376.1" r="4.72"/>
<circle cx="1476.4" cy="367.3" r="4.72"/>
<circle cx="1389.7" cy="64.8" r="4.72"/>
<circle cx="1462.1" cy="364.5" r="4.72"/>
<circle cx="1451.0" cy="133.4" r="4.72"/>
<circle cx="1517.9" cy="300.3" r="4.72"/>
<circle cx="1501.0" cy="263.8" r="4.72"/>
<circle cx="1392.5" cy="331.6" r="4.72"/>
<circle cx="1412.5" cy="416.5" r="4.72"/>
<circle cx="1387.0" cy="221.3" r="4.72"/>
<circle cx="1505.6" cy="199.9" r="4.72"/>
<circle cx="1446.9" cy="404.6" r="4.72"/>
<circle cx="1445.5" cy="402.0" r="4.72"/>
<circle cx="1405.1" cy="201.7" r="4.72"/>
<circle cx="1550.3" cy="188.4" r="4.72"/>
<circle cx="1387.0" cy="312.0" r="4.72"/>
<circle cx="1504.5" cy="416.4" r="4.72"/>
<circle cx="1395.5" cy="34.0" r="4.72"/>
<circle cx="1470.2" cy="189.8" r="4.72"/>
<circle cx="1487.0" cy="368.5" r="4.72"/>
<circle cx="1443.5" cy="195.5" r="4.72"/>
<circle cx="1387.0" cy="395.5" r="4.72"/>
<circle cx="1387.0" cy="249.4" r="4.72"/>
<circle cx="1410.4" cy="117.9" r="4.72"/>
<circle cx="1452.4" cy="320.5" r="4.72"/>
<circle cx="1476.4" cy="428.7" r="4.72"/>
<circle cx="1470.7" cy="219.7" r="4.72"/>
<circle cx="1448.3" cy="422.3" r="4.72"/>
<circle cx="1387.0" cy="398.7" r="4.72"/>
<circle cx="1453.5" cy="359.7" r="4.72"/>
<circle cx="1418.6" cy="384.9" r="4.72"/>
<circle cx="1426.2" cy="164.6" r="4.72"/>
<circle cx="1409.8" cy="34.4" r="4.72"/>
<circle cx="1458.4" cy="182.5" r="4.72"/>
<circle cx="1387.0" cy="260.6" r="4.72"/>
<circle cx="1485.3" cy="192.2" r="4.72"/>
<circle cx="1462.8" cy="280.5" r="4.72"/>
<circle cx="1387.0" cy="361.8" r="4.72"/>
<circle cx="1479.5" cy="403.1" r="4.72"/>
<circle cx="1494.3" cy="351.8" r="4.72"/>
<circle cx="1450.3" cy="78.5" r="4.72"/>
<circle cx="1448.1" cy="61.2" r="4.72"/>
<circle cx="1459.9" cy="268.8" r="4.72"/>
<circle cx="1461.4" cy="220.3" r="4.72"/>
<circle cx="1431.4" cy="351.1" r="4.72"/>
<circle cx="1439.2" cy="229.3" r="4.72"/>
<circle cx="1554.0" cy="103.2" r="4.72"/>
<circle cx="1515.1" cy="299.3" r="4.72"/>
<circle cx="1398.8" cy="277.4" r="4.72"/>
<circle cx="1453.5" cy="386.7" r="4.72"/>
<circle cx="1416.0" cy="273.4" r="4.72"/>
<circle cx="1397.8" cy="369.6" r="4.72"/>
<circle cx="1387.0" cy="146.5" r="4.72"/>
<circle cx="1428.2" cy="319.0" r="4.72"/>
<circle cx="1390.8" cy="45.8" r="4.72"/>
<circle cx="1422.8" cy="178.8" r="4.72"/>
<circle cx="1459.0" cy="274.6" r="4.72"/>
<circle cx="1527.0" cy="313.1" r="4.72"/>
<circle cx="1412.7" cy="50.9" r="4.72"/>
<circle cx="1432.3" cy="291.6" r="4.72"/>
<circle cx="1512.7" cy="280.3" r="4.72"/>
<circle cx="1519.1" cy="269.3" r="4.72"/>
<circle cx="1387.0" cy="101.6" r="4.72"/>
<circle cx="1415.4" cy="90.1" r="4.72"/>
<circle cx="1503.5" cy="295.8" r="4.72"/>
<circle cx="1432.4" cy="361.4" r="4.72"/>
<circle cx="1387.6" cy="234.0" r="4.72"/>
<circle cx="1387.0" cy="123.4" r="4.72"/>
<circle cx="1407.6" cy="80.6" r="4.72"/>
<circle cx="1407.4" cy="196.7" r="4.72"/>
<circle cx="1400.8" cy="98.6" r="4.72"/>
<circle cx="1448.1" cy="362.8" r="4.72"/>
<circle cx="1387.0" cy="324.1" r="4.72"/>
<circle cx="1416.6" cy="345.3" r="4.72"/>
<circle cx="1387.0" cy="225.9" r="4.72"/>
<circle cx="1387.0" cy="360.6" r="4.72"/>
<circle cx="1457.6" cy="420.4" r="4.72"/>
<circle cx="1424.2" cy="413.4" r="4.72"/>
<circle cx="1424.1" cy="140.7" r="4.72"/>
<circle cx="1387.0" cy="43.4" r="4.72"/>
<circle cx="1497.6" cy="255.3" r="4.72"/>
<circle cx="1398.2" cy="420.5" r="4.72"/>
<circle cx="1480.8" cy="202.9" r="4.72"/>
<circle cx="1479.9" cy="258.3" r="4.72"/>
<circle cx="1424.7" cy="193.8" r="4.72"/>
<circle cx="1595.7" cy="119.4" r="4.72"/>
<circle cx="1448.0" cy="425.8" r="4.72"/>
<circle cx="1422.7" cy="74.0" r="4.72"/>
<circle cx="1467.1" cy="189.9" r="4.72"/>
<circle cx="1398.8" cy="145.4" r="4.72"/>
<circle cx="1393.0" cy="421.0" r="4.72"/>
<circle cx="1417.4" cy="121.4" r="4.72"/>
<circle cx="1502.2" cy="245.5" r="4.72"/>
<circle cx="1424.9" cy="148.4" r="4.72"/>
<circle cx="1495.8" cy="348.0" r="4.72"/>
<circle cx="1507.1" cy="363.3" r="4.72"/>
<circle cx="1440.5" cy="259.9" r="4.72"/>
<circle cx="1403.4" cy="257.4" r="4.72"/>
<circle cx="1435.1" cy="257.5" r="4.72"/>
<circle cx="1479.7" cy="263.0" r="4.72"/>
<circle cx="1514.8" cy="371.1" r="4.72"/>
<circle cx="1404.1" cy="284.9" r="4.72"/>
<circle cx="1453.1" cy="240.7" r="4.72"/>
<circle cx="1504.5" cy="353.2" r="4.72"/>
<circle cx="1438.2" cy="37.0" r="4.72"/>
<circle cx="1457.3" cy="86.4" r="4.72"/>
<circle cx="1410.2" cy="36.6" r="4.72"/>
<circle cx="1496.3" cy="233.8" r="4.72"/>
<circle cx="1492.8" cy="125.1" r="4.72"/>
<circle cx="1416.9" cy="391.9" r="4.72"/>
<circle cx="1456.5" cy="411.7" r="4.72"/>
<circle cx="1387.0" cy="288.9" r="4.72"/>
<circle cx="1556.4" cy="318.8" r="4.72"/>
<circle cx="1625.2" cy="183.4" r="4.72"/>
<circle cx="1459.2" cy="270.1" r="4.72"/>
<circle cx="1438.8" cy="327.0" r="4.72"/>
<circle cx="1420.7" cy="207.4" r="4.72"/>
<circle cx="1388.2" cy="160.7" r="4.72"/>
<circle cx="1549.8" cy="294.0" r="4.72"/>
<circle cx="1438.9" cy="253.6" r="4.72"/>
<circle cx="1390.4" cy="105.0" r="4.72"/>
<circle cx="1408.1" cy="337.8" r="4.72"/>
<circle cx="1434.3" cy="336.4" r="4.72"/>
<circle cx="1429.1" cy="143.2" r="4.72"/>
<circle cx="1473.4" cy="100.7" r="4.72"/>
<circle cx="1465.7" cy="334.7" r="4.72"/>
<circle cx="1508.0" cy="273.0" r="4.72"/>
<circle cx="1463.4" cy="261.2" r="4.72"/>
<circle cx="1467.3" cy="254.6" r="4.72"/>
<circle cx="1387.0" cy="35.1" r="4.72"/>
<circle cx="1442.2" cy="351.9" r="4.72"/>
<circle cx="1516.1" cy="270.0" r="4.72"/>
<circle cx="1488.0" cy="390.1" r="4.72"/>
<circle cx="1396.3" cy="76.2" r="4.72"/>
<circle cx="1387.0" cy="128.9" r="4.72"/>
<circle cx="1421.1" cy="82.5" r="4.72"/>
<circle cx="1449.7" cy="353.3" r="4.72"/>
<circle cx="1412.0" cy="187.6" r="4.72"/>
<circle cx="1541.0" cy="180.0" r="4.72"/>
<circle cx="1457.6" cy="256.7" r="4.72"/>
<circle cx="1440.2" cy="422.7" r="4.72"/>
<circle cx="1537.5" cy="267.8" r="4.72"/>
<circle cx="1387.0" cy="139.6" r="4.72"/>
<circle cx="1425.5" cy="165.2" r="4.72"/>
<circle cx="1423.0" cy="262.5" r="4.72"/>
<circle cx="1398.6" cy="250.2" r="4.72"/>
<circle cx="1487.6" cy="200.0" r="4.72"/>
<circle cx="1474.1" cy="128.0" r="4.72"/>
<circle cx="1493.6" cy="176.4" r="4.72"/>
<circle cx="1392.9" cy="301.7" r="4.72"/>
<circle cx="1431.8" cy="272.8" r="4.72"/>
<circle cx="1480.1" cy="427.8" r="4.72"/>
<circle cx="1387.0" cy="338.2" r="4.72"/>
<circle cx="1433.4" cy="401.4" r="4.72"/>
<circle cx="1487.2" cy="246.5" r="4.72"/>
<circle cx="1415.6" cy="429.9" r="4.72"/>
<circle cx="1404.2" cy="105.3" r="4.72"/>
<circle cx="1423.0" cy="230.9" r="4.72"/>
<circle cx="1437.9" cy="229.5" r="4.72"/>
<circle cx="1387.0" cy="174.5" r="4.72"/>
<circle cx="1445.7" cy="96.6" r="4.72"/>
<circle cx="1469.6" cy="171.6" r="4.72"/>
<circle cx="1445.3" cy="86.3" r="4.72"/>
<circle cx="1430.2" cy="171.6" r="4.72"/>
<circle cx="1476.5" cy="390.0" r="4.72"/>
<circle cx="1481.3" cy="175.2" r="4.72"/>
<circle cx="1471.9" cy="415.3" r="4.72"/>
<circle cx="1396.8" cy="198.7" r="4.72"/>
<circle cx="1659.3" cy="362.3" r="4.72"/>
<circle cx="1487.1" cy="290.8" r="4.72"/>
<circle cx="1408.5" cy="94.2" r="4.72"/>
<circle cx="1387.0" cy="316.2" r="4.72"/>
<circle cx="1387.0" cy="373.7" r="4.72"/>
<circle cx="1457.7" cy="387.2" r="4.72"/>
<circle cx="1483.7" cy="165.2" r="4.72"/>
<circle cx="1435.9" cy="166.1" r="4.72"/>
<circle cx="1485.8" cy="224.9" r="4.72"/>
<circle cx="1429.4" cy="338.2" r="4.72"/>
<circle cx="1531.2" cy="41.6" r="4.72"/>
<circle cx="1503.5" cy="262.1" r="4.72"/>
<circle cx="1487.1" cy="339.4" r="4.72"/>
<circle cx="1424.0" cy="408.7" r="4.72"/>
<circle cx="1403.4" cy="341.8" r="4.72"/>
<circle cx="1464.0" cy="320.8" r="4.72"/>
<circle cx="1509.8" cy="248.9" r="4.72"/>
<circle cx="1442.1" cy="371.7" r="4.72"/>
<circle cx="1505.3" cy="135.6" r="4.72"/>
<circle cx="1439.4" cy="37.7" r="4.72"/>
<circle cx="1418.9" cy="34.0" r="4.72"/>
<circle cx="1407.4" cy="149.6" r="4.72"/>
<circle cx="1400.6" cy="34.0" r="4.72"/>
<circle cx="1522.7" cy="326.3" r="4.72"/>
<circle cx="1404.3" cy="160.7" r="4.72"/>
<circle cx="1478.3" cy="206.3" r="4.72"/>
<circle cx="1438.0" cy="375.1" r="4.72"/>
<circle cx="1405.2" cy="382.0" r="4.72"/>
<circle cx="1468.6" cy="279.6" r="4.72"/>
<circle cx="1465.2" cy="291.4" r="4.72"/>
<circle cx="1551.4" cy="199.5" r="4.72"/>
<circle cx="1390.8" cy="393.0" r="4.72"/>
<circle cx="1570.7" cy="278.3" r="4.72"/>
<circle cx="1408.9" cy="150.4" r="4.72"/>
<circle cx="1392.7" cy="135.6" r="4.72"/>
<circle cx="1395.8" cy="59.1" r="4.72"/>
<circle cx="1459.0" cy="324.9" r="4.72"/>
<circle cx="1480.6" cy="293.1" r="4.72"/>
<circle cx="1424.1" cy="162.3" r="4.72"/>
<circle cx="1481.4" cy="294.0" r="4.72"/>
<circle cx="1396.4" cy="204.1" r="4.72"/>
<circle cx="1416.0" cy="138.6" r="4.72"/>
<circle cx="1387.0" cy="346.9" r="4.72"/>
<circle cx="1473.4" cy="280.7" r="4.72"/>
<circle cx="1461.0" cy="286.5" r="4.72"/>
<circle cx="1487.3" cy="311.1" r="4.72"/>
<circle cx="1521.5" cy="421.1" r="4.72"/>
<circle cx="1511.2" cy="430.5" r="4.72"/>
<circle cx="1442.9" cy="313.0" r="4.72"/>
<circle cx="1466.4" cy="82.1" r="4.72"/>
<circle cx="1391.5" cy="350.6" r="4.72"/>
<circle cx="1484.9" cy="318.3" r="4.72"/>
<circle cx="1408.3" cy="316.8" r="4.72"/>
<circle cx="1459.4" cy="146.0" r="4.72"/>
<circle cx="1465.3" cy="395.7" r="4.72"/>
<circle cx="1411.2" cy="218.9" r="4.72"/>
<circle cx="1395.6" cy="291.2" r="4.72"/>
<circle cx="1503.6" cy="349.8" r="4.72"/>
<circle cx="1542.0" cy="430.3" r="4.72"/>
<circle cx="1413.9" cy="159.3" r="4.72"/>
<circle cx="1387.0" cy="70.1" r="4.72"/>
<circle cx="1387.7" cy="148.7" r="4.72"/>
<circle cx="1482.0" cy="223.5" r="4.72"/>
<circle cx="1458.5" cy="380.4" r="4.72"/>
<circle cx="1433.3" cy="97.8" r="4.72"/>
<circle cx="1397.7" cy="264.9" r="4.72"/>
<circle cx="1417.5" cy="41.5" r="4.72"/>
<circle cx="1412.9" cy="105.6" r="4.72"/>
<circle cx="1430.5" cy="276.5" r="4.72"/>
<circle cx="1450.2" cy="135.8" r="4.72"/>
<circle cx="1403.2" cy="371.5" r="4.72"/>
<circle cx="1419.8" cy="126.7" r="4.72"/>
<circle cx="1418.6" cy="178.2" r="4.72"/>
<circle cx="1422.0" cy="430.5" r="4.72"/>
<circle cx="1399.5" cy="99.2" r="4.72"/>
<circle cx="1447.5" cy="91.7" r="4.72"/>
<circle cx="1536.3" cy="302.0" r="4.72"/>
<circle cx="1388.5" cy="407.2" r="4.72"/>
<circle cx="1388.8" cy="191.3" r="4.72"/>
<circle cx="1422.3" cy="282.8" r="4.72"/>
<circle cx="1428.8" cy="430.5" r="4.72"/>
<circle cx="1454.7" cy="139.6" r="4.72"/>
<circle cx="1454.3" cy="378.0" r="4.72"/>
<circle cx="1471.7" cy="398.2" r="4.72"/>
<circle cx="1499.4" cy="216.1" r="4.72"/>
<circle cx="1479.8" cy="230.3" r="4.72"/>
<circle cx="1493.9" cy="184.7" r="4.72"/>
<circle cx="1391.6" cy="217.2" r="4.72"/>
<circle cx="1514.6" cy="286.9" r="4.72"/>
<circle cx="1476.9" cy="295.2" r="4.72"/>
<circle cx="1394.1" cy="126.4" r="4.72"/>
<circle cx="1636.0" cy="250.1" r="4.72"/>
<circle cx="1473.3" cy="332.9" r="4.72"/>
<circle cx="1473.6" cy="348.0" r="4.72"/>
<circle cx="1472.6" cy="328.3" r="4.72"/>
<circle cx="1444.0" cy="251.9" r="4.72"/>
<circle cx="1467.1" cy="105.4" r="4.72"/>
<circle cx="1446.5" cy="409.7" r="4.72"/>
<circle cx="1412.0" cy="192.9" r="4.72"/>
<circle cx="1400.1" cy="218.7" r="4.72"/>
<circle cx="1627.0" cy="209.4" r="4.72"/>
<circle cx="1387.0" cy="344.4" r="4.72"/>
<circle cx="1413.1" cy="341.0" r="4.72"/>
<circle cx="1387.0" cy="352.6" r="4.72"/>
<circle cx="1476.1" cy="333.3" r="4.72"/>
<circle cx="1541.7" cy="352.0" r="4.72"/>
<circle cx="1425.6" cy="246.8" r="4.72"/>
<circle cx="1413.7" cy="174.5" r="4.72"/>
<circle cx="1428.4" cy="180.4" r="4.72"/>
<circle cx="1468.8" cy="147.0" r="4.72"/>
<circle cx="1425.2" cy="430.5" r="4.72"/>
<circle cx="1393.8" cy="103.7" r="4.72"/>
<circle cx="1427.7" cy="430.5" r="4.72"/>
<circle cx="1489.3" cy="250.5" r="4.72"/>
<circle cx="1459.8" cy="106.2" r="4.72"/>
<circle cx="1462.1" cy="73.0" r="4.72"/>
<circle cx="1389.2" cy="62.3" r="4.72"/>
<circle cx="1416.2" cy="134.0" r="4.72"/>
<circle cx="1411.2" cy="430.5" r="4.72"/>
<circle cx="1444.0" cy="389.2" r="4.72"/>
<circle cx="1461.1" cy="334.2" r="4.72"/>
<circle cx="1450.1" cy="140.4" r="4.72"/>
<circle cx="1422.1" cy="385.0" r="4.72"/>
<circle cx="1389.1" cy="306.7" r="4.72"/>
<circle cx="1444.7" cy="119.0" r="4.72"/>
<circle cx="1478.1" cy="235.8" r="4.72"/>
<circle cx="1428.0" cy="129.1" r="4.72"/>
<circle cx="1507.6" cy="336.5" r="4.72"/>
<circle cx="1488.8" cy="253.8" r="4.72"/>
<circle cx="1544.8" cy="149.4" r="4.72"/>
<circle cx="1464.0" cy="368.7" r="4.72"/>
<circle cx="1526.4" cy="344.5" r="4.72"/>
<circle cx="1468.5" cy="212.0" r="4.72"/>
<circle cx="1405.3" cy="357.7" r="4.72"/>
<circle cx="1458.4" cy="263.1" r="4.72"/>
<circle cx="1422.1" cy="211.4" r="4.72"/>
<circle cx="1390.0" cy="402.3" r="4.72"/>
<circle cx="1427.8" cy="378.5" r="4.72"/>
<circle cx="1405.4" cy="108.8" r="4.72"/>
<circle cx="1502.4" cy="304.4" r="4.72"/>
<circle cx="1395.3" cy="57.7" r="4.72"/>
<circle cx="1389.9" cy="229.5" r="4.72"/>
<circle cx="1393.4" cy="130.9" r="4.72"/>
<circle cx="1497.5" cy="430.5" r="4.72"/>
<circle cx="1518.1" cy="370.8" r="4.72"/>
<circle cx="1472.5" cy="276.6" r="4.72"/>
<circle cx="1448.1" cy="366.0" r="4.72"/>
<circle cx="1405.7" cy="126.3" r="4.72"/>
<circle cx="1463.2" cy="89.2" r="4.72"/>
<circle cx="1427.5" cy="44.5" r="4.72"/>
<circle cx="1403.2" cy="274.5" r="4.72"/>
<circle cx="1479.8" cy="418.6" r="4.72"/>
<circle cx="1423.7" cy="340.8" r="4.72"/>
<circle cx="1387.0" cy="413.9" r="4.72"/>
<circle cx="1434.7" cy="292.4" r="4.72"/>
<circle cx="1406.3" cy="376.2" r="4.72"/>
<circle cx="1410.8" cy="141.2" r="4.72"/>
<circle cx="1482.2" cy="194.2" r="4.72"/>
<circle cx="1452.4" cy="146.0" r="4.72"/>
<circle cx="1387.4" cy="417.3" r="4.72"/>
<circle cx="1421.2" cy="268.3" r="4.72"/>
<circle cx="1387.0" cy="174.4" r="4.72"/>
<circle cx="1401.7" cy="203.3" r="4.72"/>
<circle cx="1411.2" cy="395.3" r="4.72"/>
<circle cx="1475.1" cy="218.0" r="4.72"/>
<circle cx="1452.7" cy="382.7" r="4.72"/>
<circle cx="1443.5" cy="340.8" r="4.72"/>
<circle cx="1394.0" cy="294.7" r="4.72"/>
<circle cx="1443.3" cy="133.8" r="4.72"/>
<circle cx="1418.9" cy="276.4" r="4.72"/>
<circle cx="1406.1" cy="240.4" r="4.72"/>
<circle cx="1439.5" cy="283.1" r="4.72"/>
<circle cx="1448.9" cy="110.3" r="4.72"/>
<circle cx="1408.7" cy="306.1" r="4.72"/>
<circle cx="1402.0" cy="127.4" r="4.72"/>
<circle cx="1422.0" cy="313.1" r="4.72"/>
<circle cx="1494.9" cy="331.8" r="4.72"/>
<circle cx="1438.8" cy="422.7" r="4.72"/>
<circle cx="1410.1" cy="430.4" r="4.72"/>
<circle cx="1405.8" cy="160.2" r="4.72"/>
<circle cx="1429.1" cy="368.4" r="4.72"/>
<circle cx="1445.3" cy="131.9" r="4.72"/>
<circle cx="1399.7" cy="273.5" r="4.72"/>
<circle cx="1391.5" cy="191.4" r="4.72"/>
<circle cx="1397.4" cy="113.5" r="4.72"/>
<circle cx="1412.2" cy="381.0" r="4.72"/>
<circle cx="1387.9" cy="248.9" r="4.72"/>
<circle cx="1451.5" cy="274.3" r="4.72"/>
<circle cx="1387.0" cy="219.2" r="4.72"/>
<circle cx="1478.0" cy="278.1" r="4.72"/>
<circle cx="1387.0" cy="40.0" r="4.72"/>
<circle cx="1387.0" cy="332.9" r="4.72"/>
<circle cx="1416.7" cy="227.4" r="4.72"/>
<circle cx="1471.3" cy="389.8" r="4.72"/>
<circle cx="1407.4" cy="330.4" r="4.72"/>
<circle cx="1441.5" cy="329.5" r="4.72"/>
<circle cx="1513.1" cy="322.0" r="4.72"/>
<circle cx="1428.7" cy="338.7" r="4.72"/>
<circle cx="1442.9" cy="266.4" r="4.72"/>
<circle cx="1443.5" cy="34.0" r="4.72"/>
<circle cx="1387.0" cy="293.4" r="4.72"/>
<circle cx="1414.7" cy="195.5" r="4.72"/>
<circle cx="1501.9" cy="181.1" r="4.72"/>
<circle cx="1453.0" cy="145.4" r="4.72"/>
<circle cx="1419.0" cy="201.4" r="4.72"/>
<circle cx="1423.9" cy="67.7" r="4.72"/>
<circle cx="1483.5" cy="295.2" r="4.72"/>
<circle cx="1472.0" cy="143.0" r="4.72"/>
<circle cx="1449.1" cy="392.8" r="4.72"/>
<circle cx="1387.0" cy="298.5" r="4.72"/>
<circle cx="1442.2" cy="263.6" r="4.72"/>
<circle cx="1448.6" cy="261.5" r="4.72"/>
<circle cx="1437.6" cy="293.3" r="4.72"/>
<circle cx="1485.7" cy="324.1" r="4.72"/>
<circle cx="1387.0" cy="364.3" r="4.72"/>
<circle cx="1438.4" cy="64.0" r="4.72"/>
<circle cx="1387.0" cy="146.5" r="4.72"/>
<circle cx="1422.3" cy="191.8" r="4.72"/>
<circle cx="1469.1" cy="212.2" r="4.72"/>
<circle cx="1474.0" cy="293.5" r="4.72"/>
<circle cx="1454.9" cy="389.1" r="4.72"/>
<circle cx="1485.5" cy="266.3" r="4.72"/>
<circle cx="1387.0" cy="102.9" r="4.72"/>
<circle cx="1497.2" cy="204.6" r="4.72"/>
<circle cx="1399.0" cy="276.0" r="4.72"/>
<circle cx="1387.0" cy="90.3" r="4.72"/>
<circle cx="1401.8" cy="393.7" r="4.72"/>
<circle cx="1494.9" cy="324.5" r="4.72"/>
<circle cx="1506.8" cy="391.0" r="4.72"/>
<circle cx="1502.7" cy="232.4" r="4.72"/>
<circle cx="1396.8" cy="304.4" r="4.72"/>
<circle cx="1391.9" cy="90.0" r="4.72"/>
<circle cx="1417.7" cy="173.0" r="4.72"/>
<circle cx="1387.0" cy="302.4" r="4.72"/>
<circle cx="1439.9" cy="270.1" r="4.72"/>
<circle cx="1478.7" cy="141.4" r="4.72"/>
<circle cx="1451.0" cy="369.8" r="4.72"/>
<circle cx="1415.4" cy="58.7" r="4.72"/>
<circle cx="1406.0" cy="273.1" r="4.72"/>
<circle cx="1497.4" cy="182.6" r="4.72"/>
<circle cx="1396.8" cy="230.9" r="4.72"/>
<circle cx="1390.9" cy="164.0" r="4.72"/>
<circle cx="1507.6" cy="226.4" r="4.72"/>
<circle cx="1478.8" cy="100.8" r="4.72"/>
<circle cx="1499.9" cy="219.8" r="4.72"/>
<circle cx="1488.8" cy="232.8" r="4.72"/>
<circle cx="1461.5" cy="183.3" r="4.72"/>
<circle cx="1412.8" cy="140.9" r="4.72"/>
<circle cx="1484.3" cy="426.9" r="4.72"/>
<circle cx="1426.1" cy="86.1" r="4.72"/>
<circle cx="1399.6" cy="363.1" r="4.72"/>
<circle cx="1451.4" cy="417.4" r="4.72"/>
<circle cx="1393.3" cy="381.9" r="4.72"/>
<circle cx="1518.1" cy="403.6" r="4.72"/>
<circle cx="1432.3" cy="430.5" r="4.72"/>
<circle cx="1499.9" cy="228.8" r="4.72"/>
<circle cx="1499.2" cy="258.5" r="4.72"/>
<circle cx="1482.4" cy="430.5" r="4.72"/>
<circle cx="1407.6" cy="42.3" r="4.72"/>
<circle cx="1525.7" cy="331.5" r="4.72"/>
<circle cx="1485.1" cy="430.5" r="4.72"/>
<circle cx="1408.9" cy="245.3" r="4.72"/>
<circle cx="1391.0" cy="313.5" r="4.72"/>
<circle cx="1387.0" cy="235.1" r="4.72"/>
<circle cx="1479.3" cy="239.2" r="4.72"/>
<circle cx="1405.2" cy="75.9" r="4.72"/>
<circle cx="1514.2" cy="423.5" r="4.72"/>
<circle cx="1390.7" cy="372.3" r="4.72"/>
<circle cx="1400.6" cy="183.2" r="4.72"/>
<circle cx="1498.0" cy="364.4" r="4.72"/>
<circle cx="1493.5" cy="155.0" r="4.72"/>
<circle cx="1447.2" cy="93.1" r="4.72"/>
<circle cx="1481.2" cy="413.4" r="4.72"/>
<circle cx="1497.8" cy="186.6" r="4.72"/>
<circle cx="1427.6" cy="256.5" r="4.72"/>
<circle cx="1387.0" cy="191.2" r="4.72"/>
<circle cx="1453.7" cy="429.7" r="4.72"/>
<circle cx="1442.5" cy="192.3" r="4.72"/>
<circle cx="1488.3" cy="164.3" r="4.72"/>
<circle cx="1597.4" cy="252.7" r="4.72"/>
<circle cx="1466.0" cy="266.6" r="4.72"/>
<circle cx="1440.9" cy="198.1" r="4.72"/>
<circle cx="1437.7" cy="159.4" r="4.72"/>
<circle cx="1403.1" cy="124.6" r="4.72"/>
<circle cx="1473.8" cy="333.6" r="4.72"/>
<circle cx="1504.1" cy="342.8" r="4.72"/>
<circle cx="1395.2" cy="341.2" r="4.72"/>
<circle cx="1513.0" cy="356.0" r="4.72"/>
<circle cx="1485.5" cy="238.0" r="4.72"/>
<circle cx="1530.6" cy="373.7" r="4.72"/>
<circle cx="1394.0" cy="370.3" r="4.72"/>
<circle cx="1456.4" cy="417.9" r="4.72"/>
<circle cx="1387.8" cy="342.4" r="4.72"/>
<circle cx="1469.7" cy="422.3" r="4.72"/>
<circle cx="1507.6" cy="233.4" r="4.72"/>
<circle cx="1396.2" cy="188.7" r="4.72"/>
<circle cx="1472.0" cy="419.8" r="4.72"/>
<circle cx="1432.9" cy="364.0" r="4.72"/>
<circle cx="1388.8" cy="316.2" r="4.72"/>
<circle cx="1387.0" cy="326.1" r="4.72"/>
<circle cx="1439.5" cy="49.0" r="4.72"/>
<circle cx="1401.4" cy="405.6" r="4.72"/>
<circle cx="1492.1" cy="314.7" r="4.72"/>
<circle cx="1509.1" cy="336.4" r="4.72"/>
<circle cx="1387.9" cy="62.8" r="4.72"/>
<circle cx="1492.1" cy="235.3" r="4.72"/>
<circle cx="1487.3" cy="337.2" r="4.72"/>
<circle cx="1421.5" cy="412.9" r="4.72"/>
<circle cx="1526.4" cy="386.0" r="4.72"/>
<circle cx="1489.5" cy="409.7" r="4.72"/>
<circle cx="1425.4" cy="218.8" r="4.72"/>
<circle cx="1469.4" cy="197.8" r="4.72"/>
<circle cx="1448.3" cy="410.0" r="4.72"/>
<circle cx="1510.9" cy="246.2" r="4.72"/>
<circle cx="1430.9" cy="205.0" r="4.72"/>
<circle cx="1443.8" cy="126.4" r="4.72"/>
<circle cx="1501.4" cy="183.6" r="4.72"/>
<circle cx="1510.3" cy="341.3" r="4.72"/>
<circle cx="1438.7" cy="399.1" r="4.72"/>
<circle cx="1494.0" cy="171.8" r="4.72"/>
<circle cx="1411.5" cy="242.0" r="4.72"/>
<circle cx="1421.1" cy="264.0" r="4.72"/>
<circle cx="1420.9" cy="168.2" r="4.72"/>
<circle cx="1387.0" cy="247.8" r="4.72"/>
<circle cx="1389.8" cy="240.7" r="4.72"/>
<circle cx="1438.3" cy="283.9" r="4.72"/>
<circle cx="1429.7" cy="412.1" r="4.72"/>
<circle cx="1398.1" cy="377.7" r="4.72"/>
<circle cx="1408.8" cy="393.9" r="4.72"/>
<circle cx="1461.4" cy="204.0" r="4.72"/>
<circle cx="1461.8" cy="126.5" r="4.72"/>
<circle cx="1511.2" cy="265.1" r="4.72"/>
<circle cx="1387.0" cy="430.0" r="4.72"/>
<circle cx="1474.4" cy="183.8" r="4.72"/>
<circle cx="1482.2" cy="200.6" r="4.72"/>
<circle cx="1458.2" cy="69.0" r="4.72"/>
<circle cx="1423.3" cy="381.0" r="4.72"/>
<circle cx="1515.9" cy="239.8" r="4.72"/>
<circle cx="1523.8" cy="343.3" r="4.72"/>
<circle cx="1415.3" cy="160.8" r="4.72"/>
<circle cx="1518.7" cy="248.8" r="4.72"/>
<circle cx="1455.2" cy="350.6" r="4.72"/>
<circle cx="1482.6" cy="361.9" r="4.72"/>
<circle cx="1405.2" cy="418.9" r="4.72"/>
<circle cx="1608.7" cy="225.4" r="4.72"/>
<circle cx="1428.9" cy="230.7" r="4.72"/>
<circle cx="1467.1" cy="135.0" r="4.72"/>
<circle cx="1458.2" cy="430.5" r="4.72"/>
<circle cx="1494.4" cy="404.3" r="4.72"/>
<circle cx="1416.2" cy="375.7" r="4.72"/>
<circle cx="1394.2" cy="368.6" r="4.72"/>
<circle cx="1396.9" cy="80.7" r="4.72"/>
<circle cx="1435.5" cy="280.4" r="4.72"/>
<circle cx="1442.1" cy="412.0" r="4.72"/>
<circle cx="1467.9" cy="169.7" r="4.72"/>
<circle cx="1410.1" cy="238.3" r="4.72"/>
<circle cx="1435.1" cy="118.4" r="4.72"/>
<circle cx="1470.3" cy="95.9" r="4.72"/>
<circle cx="1453.9" cy="375.7" r="4.72"/>
<circle cx="1394.5" cy="379.4" r="4.72"/>
<circle cx="1402.5" cy="380.7" r="4.72"/>
<circle cx="1489.8" cy="200.0" r="4.72"/>
<circle cx="1402.4" cy="143.2" r="4.72"/>
<circle cx="1496.7" cy="269.3" r="4.72"/>
<circle cx="1437.5" cy="311.7" r="4.72"/>
<circle cx="1450.6" cy="96.1" r="4.72"/>
<circle cx="1403.5" cy="363.4" r="4.72"/>
<circle cx="1401.9" cy="310.7" r="4.72"/>
<circle cx="1387.0" cy="305.2" r="4.72"/>
<circle cx="1491.6" cy="143.6" r="4.72"/>
<circle cx="1413.9" cy="78.4" r="4.72"/>
<circle cx="1394.7" cy="273.9" r="4.72"/>
<circle cx="1387.0" cy="416.0" r="4.72"/>
<circle cx="1402.3" cy="34.0" r="4.72"/>
<circle cx="1407.2" cy="231.0" r="4.72"/>
<circle cx="1452.4" cy="315.1" r="4.72"/>
<circle cx="1517.7" cy="274.8" r="4.72"/>
<circle cx="1453.4" cy="266.5" r="4.72"/>
<circle cx="1392.5" cy="174.3" r="4.72"/>
<circle cx="1508.7" cy="426.1" r="4.72"/>
<circle cx="1521.6" cy="365.9" r="4.72"/>
<circle cx="1464.0" cy="392.8" r="4.72"/>
<circle cx="1490.5" cy="194.4" r="4.72"/>
<circle cx="1444.1" cy="290.9" r="4.72"/>
<circle cx="1514.2" cy="419.7" r="4.72"/>
<circle cx="1397.5" cy="403.3" r="4.72"/>
<circle cx="1411.8" cy="72.0" r="4.72"/>
<circle cx="1418.6" cy="79.3" r="4.72"/>
<circle cx="1434.7" cy="408.5" r="4.72"/>
<circle cx="1475.4" cy="335.2" r="4.72"/>
<circle cx="1401.2" cy="375.2" r="4.72"/>
<circle cx="1503.1" cy="420.0" r="4.72"/>
<circle cx="1496.2" cy="324.1" r="4.72"/>
<circle cx="1402.9" cy="193.9" r="4.72"/>
<circle cx="1480.2" cy="310.4" r="4.72"/>
<circle cx="1419.9" cy="172.0" r="4.72"/>
<circle cx="1428.3" cy="427.5" r="4.72"/>
<circle cx="1400.7" cy="53.8" r="4.72"/>
<circle cx="1400.5" cy="234.4" r="4.72"/>
<circle cx="1469.2" cy="41.5" r="4.72"/>
<circle cx="1512.1" cy="356.1" r="4.72"/>
<circle cx="1391.9" cy="86.7" r="4.72"/>
<circle cx="1496.2" cy="185.1" r="4.72"/>
<circle cx="1412.6" cy="288.4" r="4.72"/>
<circle cx="1481.2" cy="386.3" r="4.72"/>
<circle cx="1433.8" cy="354.7" r="4.72"/>
<circle cx="1449.3" cy="52.3" r="4.72"/>
<circle cx="1476.7" cy="256.4" r="4.72"/>
<circle cx="1387.0" cy="430.2" r="4.72"/>
<circle cx="1387.0" cy="384.4" r="4.72"/>
<circle cx="1447.1" cy="112.2" r="4.72"/>
<circle cx="1390.1" cy="190.7" r="4.72"/>
<circle cx="1433.7" cy="337.7" r="4.72"/>
<circle cx="1498.7" cy="199.2" r="4.72"/>
<circle cx="1439.8" cy="357.2" r="4.72"/>
<circle cx="1505.0" cy="311.7" r="4.72"/>
<circle cx="1426.4" cy="252.6" r="4.72"/>
<circle cx="1405.4" cy="211.1" r="4.72"/>
<circle cx="1483.0" cy="235.8" r="4.72"/>
<circle cx="1471.7" cy="119.5" r="4.72"/>
<circle cx="1500.4" cy="306.2" r="4.72"/>
<circle cx="1486.1" cy="142.8" r="4.72"/>
<circle cx="1434.6" cy="65.6" r="4.72"/>
<circle cx="1451.1" cy="99.2" r="4.72"/>
<circle cx="1402.3" cy="53.4" r="4.72"/>
<circle cx="1522.6" cy="331.7" r="4.72"/>
<circle cx="1514.2" cy="326.2" r="4.72"/>
<circle cx="1395.6" cy="90.9" r="4.72"/>
<circle cx="1390.3" cy="249.7" r="4.72"/>
<circle cx="1469.4" cy="104.7" r="4.72"/>
<circle cx="1387.0" cy="210.6" r="4.72"/>
<circle cx="1560.0" cy="251.8" r="4.72"/>
<circle cx="1565.8" cy="183.3" r="4.72"/>
<circle cx="1425.5" cy="220.5" r="4.72"/>
<circle cx="1502.6" cy="284.5" r="4.72"/>
<circle cx="1464.1" cy="71.8" r="4.72"/>
<circle cx="1392.6" cy="209.6" r="4.72"/>
<circle cx="1530.2" cy="250.2" r="4.72"/>
<circle cx="1415.3" cy="360.8" r="4.72"/>
<circle cx="1444.2" cy="237.5" r="4.72"/>
<circle cx="1420.6" cy="107.5" r="4.72"/>
<circle cx="1474.8" cy="390.2" r="4.72"/>
<circle cx="1425.6" cy="358.4" r="4.72"/>
<circle cx="1465.5" cy="313.3" r="4.72"/>
<circle cx="1589.3" cy="173.4" r="4.72"/>
<circle cx="1402.2" cy="132.7" r="4.72"/>
<circle cx="1504.4" cy="350.7" r="4.72"/>
<circle cx="1482.1" cy="279.0" r="4.72"/>
<circle cx="1391.8" cy="293.9" r="4.72"/>
<circle cx="1545.3" cy="208.8" r="4.72"/>
<circle cx="1453.4" cy="34.0" r="4.72"/>
<circle cx="1463.1" cy="386.4" r="4.72"/>
<circle cx="1410.9" cy="430.5" r="4.72"/>
<circle cx="1503.7" cy="269.1" r="4.72"/>
<circle cx="1445.1" cy="394.2" r="4.72"/>
<circle cx="1404.1" cy="57.4" r="4.72"/>
<circle cx="1458.8" cy="109.2" r="4.72"/>
<circle cx="1442.4" cy="348.3" r="4.72"/>
<circle cx="1452.4" cy="399.6" r="4.72"/>
<circle cx="1451.8" cy="349.2" r="4.72"/>
<circle cx="1479.7" cy="140.0" r="4.72"/>
<circle cx="1388.3" cy="375.7" r="4.72"/>
<circle cx="1471.8" cy="318.4" r="4.72"/>
<circle cx="1407.1" cy="256.2" r="4.72"/>
<circle cx="1439.0" cy="65.7" r="4.72"/>
<circle cx="1431.6" cy="253.8" r="4.72"/>
<circle cx="1520.9" cy="105.2" r="4.72"/>
<circle cx="1504.4" cy="261.9" r="4.72"/>
<circle cx="1444.1" cy="178.3" r="4.72"/>
<circle cx="1387.9" cy="190.7" r="4.72"/>
<circle cx="1460.2" cy="220.0" r="4.72"/>
<circle cx="1447.8" cy="128.5" r="4.72"/>
<circle cx="1402.0" cy="273.9" r="4.72"/>
<circle cx="1442.5" cy="103.3" r="4.72"/>
<circle cx="1407.2" cy="132.2" r="4.72"/>
<circle cx="1500.1" cy="251.3" r="4.72"/>
<circle cx="1418.8" cy="325.4" r="4.72"/>
<circle cx="1417.8" cy="152.8" r="4.72"/>
<circle cx="1475.1" cy="310.6" r="4.72"/>
<circle cx="1462.8" cy="406.4" r="4.72"/>
<circle cx="1446.4" cy="101.3" r="4.72"/>
<circle cx="1411.8" cy="178.4" r="4.72"/>
<circle cx="1429.0" cy="272.8" r="4.72"/>
<circle cx="1403.6" cy="311.4" r="4.72"/>
<circle cx="1640.6" cy="307.9" r="4.72"/>
<circle cx="1503.0" cy="429.4" r="4.72"/>
<circle cx="1493.8" cy="232.6" r="4.72"/>
<circle cx="1507.1" cy="390.9" r="4.72"/>
<circle cx="1416.0" cy="109.7" r="4.72"/>
<circle cx="1520.6" cy="308.7" r="4.72"/>
<circle cx="1413.5" cy="140.1" r="4.72"/>
<circle cx="1513.8" cy="256.1" r="4.72"/>
<circle cx="1482.8" cy="226.2" r="4.72"/>
<circle cx="1390.1" cy="53.3" r="4.72"/>
<circle cx="1392.4" cy="150.1" r="4.72"/>
<circle cx="1440.9" cy="132.0" r="4.72"/>
<circle cx="1488.1" cy="356.4" r="4.72"/>
<circle cx="1387.0" cy="342.0" r="4.72"/>
<circle cx="1511.4" cy="359.3" r="4.72"/>
<circle cx="1398.5" cy="171.6" r="4.72"/>
<circle cx="1405.3" cy="277.3" r="4.72"/>
<circle cx="1603.9" cy="211.6" r="4.72"/>
<circle cx="1457.6" cy="117.1" r="4.72"/>
<circle cx="1519.7" cy="418.5" r="4.72"/>
<circle cx="1510.4" cy="329.6" r="4.72"/>
<circle cx="1479.2" cy="182.2" r="4.72"/>
<circle cx="1477.0" cy="239.3" r="4.72"/>
<circle cx="1455.6" cy="157.2" r="4.72"/>
<circle cx="1387.0" cy="207.7" r="4.72"/>
<circle cx="1473.0" cy="278.3" r="4.72"/>
<circle cx="1387.0" cy="65.9" r="4.72"/>
<circle cx="1403.3" cy="285.2" r="4.72"/>
<circle cx="1512.4" cy="173.4" r="4.72"/>
<circle cx="1444.0" cy="35.7" r="4.72"/>
<circle cx="1553.6" cy="326.7" r="4.72"/>
<circle cx="1387.4" cy="299.1" r="4.72"/>
<circle cx="1485.7" cy="340.8" r="4.72"/>
<circle cx="1480.4" cy="430.5" r="4.72"/>
<circle cx="1423.5" cy="96.2" r="4.72"/>
<circle cx="1439.7" cy="182.3" r="4.72"/>
<circle cx="1404.2" cy="94.9" r="4.72"/>
<circle cx="1507.9" cy="386.5" r="4.72"/>
<circle cx="1420.6" cy="298.6" r="4.72"/>
<circle cx="1451.5" cy="212.5" r="4.72"/>
<circle cx="1414.0" cy="288.4" r="4.72"/>
<circle cx="1434.0" cy="208.9" r="4.72"/>
<circle cx="1484.3" cy="231.5" r="4.72"/>
<circle cx="1413.7" cy="323.8" r="4.72"/>
<circle cx="1387.0" cy="430.1" r="4.72"/>
<circle cx="1407.8" cy="361.4" r="4.72"/>
<circle cx="1438.0" cy="317.7" r="4.72"/>
<circle cx="1428.6" cy="277.0" r="4.72"/>
<circle cx="1567.4" cy="200.4" r="4.72"/>
<circle cx="1471.5" cy="177.4" r="4.72"/>
<circle cx="1473.5" cy="425.6" r="4.72"/>
<circle cx="1387.0" cy="80.0" r="4.72"/>
<circle cx="1387.0" cy="226.4" r="4.72"/>
<circle cx="1398.4" cy="299.4" r="4.72"/>
<circle cx="1428.3" cy="155.5" r="4.72"/>
<circle cx="1416.5" cy="410.9" r="4.72"/>
<circle cx="1477.9" cy="305.1" r="4.72"/>
<circle cx="1440.2" cy="313.5" r="4.72"/>
<circle cx="1457.7" cy="363.1" r="4.72"/>
<circle cx="1416.1" cy="314.6" r="4.72"/>
<circle cx="1387.0" cy="292.5" r="4.72"/>
<circle cx="1413.1" cy="300.7" r="4.72"/>
<circle cx="1438.0" cy="233.4" r="4.72"/>
<circle cx="1474.5" cy="151.3" r="4.72"/>
<circle cx="1417.5" cy="201.3" r="4.72"/>
<circle cx="1429.4" cy="244.0" r="4.72"/>
<circle cx="1447.7" cy="220.6" r="4.72"/>
<circle cx="1407.9" cy="423.5" r="4.72"/>
<circle cx="1464.0" cy="136.9" r="4.72"/>
<circle cx="1393.3" cy="103.2" r="4.72"/>
<circle cx="1395.7" cy="174.8" r="4.72"/>
<circle cx="1441.2" cy="422.4" r="4.72"/>
<circle cx="1413.2" cy="346.1" r="4.72"/>
<circle cx="1478.1" cy="181.1" r="4.72"/>
<circle cx="1539.1" cy="380.8" r="4.72"/>
<circle cx="1472.7" cy="258.3" r="4.72"/>
<circle cx="1625.3" cy="182.4" r="4.72"/>
<circle cx="1435.3" cy="174.4" r="4.72"/>
<circle cx="1406.2" cy="39.9" r="4.72"/>
<circle cx="1388.5" cy="302.0" r="4.72"/>
<circle cx="1506.6" cy="333.6" r="4.72"/>
<circle cx="1454.9" cy="388.0" r="4.72"/>
<circle cx="1521.5" cy="332.6" r="4.72"/>
<circle cx="1387.0" cy="337.4" r="4.72"/>
<circle cx="1438.7" cy="213.7" r="4.72"/>
<circle cx="1452.5" cy="112.1" r="4.72"/>
<circle cx="1429.4" cy="360.4" r="4.72"/>
<circle cx="1430.6" cy="34.0" r="4.72"/>
<circle cx="1495.3" cy="324.7" r="4.72"/>
<circle cx="1479.4" cy="274.7" r="4.72"/>
<circle cx="1416.7" cy="249.5" r="4.72"/>
<circle cx="1403.9" cy="345.9" r="4.72"/>
<circle cx="1414.7" cy="328.6" r="4.72"/>
<circle cx="1517.5" cy="289.4" r="4.72"/>
<circle cx="1439.1" cy="212.0" r="4.72"/>
<circle cx="1501.8" cy="342.6" r="4.72"/>
<circle cx="1440.1" cy="286.7" r="4.72"/>
<circle cx="1455.3" cy="192.3" r="4.72"/>
<circle cx="1421.7" cy="301.7" r="4.72"/>
<circle cx="1551.9" cy="112.3" r="4.72"/>
<circle cx="1530.8" cy="358.6" r="4.72"/>
<circle cx="1468.2" cy="216.1" r="4.72"/>
<circle cx="1449.4" cy="309.9" r="4.72"/>
<circle cx="1481.6" cy="410.9" r="4.72"/>
<circle cx="1426.3" cy="190.3" r="4.72"/>
<circle cx="1423.5" cy="287.2" r="4.72"/>
<circle cx="1434.6" cy="175.9" r="4.72"/>
<circle cx="1452.5" cy="92.6" r="4.72"/>
<circle cx="1423.2" cy="215.7" r="4.72"/>
<circle cx="1480.2" cy="223.5" r="4.72"/>
<circle cx="1420.8" cy="242.3" r="4.72"/>
<circle cx="1414.2" cy="75.7" r="4.72"/>
<circle cx="1485.9" cy="430.5" r="4.72"/>
<circle cx="1519.6" cy="403.7" r="4.72"/>
<circle cx="1497.8" cy="390.7" r="4.72"/>
<circle cx="1448.8" cy="376.2" r="4.72"/>
<circle cx="1481.6" cy="164.9" r="4.72"/>
<circle cx="1453.2" cy="209.8" r="4.72"/>
<circle cx="1427.5" cy="129.8" r="4.72"/>
<circle cx="1596.8" cy="345.6" r="4.72"/>
<circle cx="1398.5" cy="99.6" r="4.72"/>
<circle cx="1416.7" cy="255.5" r="4.72"/>
<circle cx="1418.3" cy="312.5" r="4.72"/>
<circle cx="1392.8" cy="88.8" r="4.72"/>
<circle cx="1408.9" cy="85.5" r="4.72"/>
<circle cx="1394.6" cy="355.1" r="4.72"/>
<circle cx="1506.0" cy="296.2" r="4.72"/>
<circle cx="1436.8" cy="168.4" r="4.72"/>
<circle cx="1498.9" cy="286.5" r="4.72"/>
<circle cx="1450.0" cy="292.3" r="4.72"/>
<circle cx="1404.3" cy="313.6" r="4.72"/>
<circle cx="1491.1" cy="411.7" r="4.72"/>
<circle cx="1524.9" cy="371.9" r="4.72"/>
<circle cx="1491.8" cy="353.8" r="4.72"/>
<circle cx="1419.7" cy="336.2" r="4.72"/>
<circle cx="1495.4" cy="186.7" r="4.72"/>
<circle cx="1471.7" cy="184.5" r="4.72"/>
<circle cx="1447.1" cy="332.7" r="4.72"/>
<circle cx="1453.3" cy="409.1" r="4.72"/>
<circle cx="1492.0" cy="300.8" r="4.72"/>
<circle cx="1441.7" cy="302.6" r="4.72"/>
<circle cx="1489.7" cy="374.7" r="4.72"/>
<circle cx="1421.1" cy="209.0" r="4.72"/>
<circle cx="1440.8" cy="65.7" r="4.72"/>
<circle cx="1387.0" cy="245.7" r="4.72"/>
<circle cx="1422.1" cy="138.8" r="4.72"/>
<circle cx="1515.2" cy="417.1" r="4.72"/>
<circle cx="1463.6" cy="165.2" r="4.72"/>
<circle cx="1399.0" cy="317.7" r="4.72"/>
<circle cx="1408.0" cy="397.8" r="4.72"/>
<circle cx="1499.9" cy="262.8" r="4.72"/>
<circle cx="1519.2" cy="338.3" r="4.72"/>
<circle cx="1436.4" cy="80.0" r="4.72"/>
<circle cx="1403.2" cy="65.3" r="4.72"/>
<circle cx="1398.9" cy="298.4" r="4.72"/>
<circle cx="1388.4" cy="53.7" r="4.72"/>
<circle cx="1387.0" cy="346.1" r="4.72"/>
<circle cx="1425.5" cy="374.9" r="4.72"/>
<circle cx="1417.7" cy="174.5" r="4.72"/>
<circle cx="1523.4" cy="286.4" r="4.72"/>
<circle cx="1461.5" cy="194.5" r="4.72"/>
<circle cx="1426.1" cy="165.6" r="4.72"/>
<circle cx="1410.5" cy="262.2" r="4.72"/>
<circle cx="1434.7" cy="46.4" r="4.72"/>
<circle cx="1469.2" cy="367.2" r="4.72"/>
<circle cx="1413.5" cy="331.1" r="4.72"/>
<circle cx="1453.3" cy="346.4" r="4.72"/>
<circle cx="1396.0" cy="224.8" r="4.72"/>
<circle cx="1425.8" cy="242.8" r="4.72"/>
<circle cx="1478.2" cy="237.8" r="4.72"/>
<circle cx="1426.4" cy="258.2" r="4.72"/>
<circle cx="1560.3" cy="181.7" r="4.72"/>
<circle cx="1387.0" cy="241.5" r="4.72"/>
<circle cx="1446.9" cy="216.8" r="4.72"/>
<circle cx="1387.0" cy="39.0" r="4.72"/>
<circle cx="1515.7" cy="175.4" r="4.72"/>
<circle cx="1391.2" cy="430.5" r="4.72"/>
<circle cx="1398.6" cy="146.0" r="4.72"/>
<circle cx="1433.5" cy="131.2" r="4.72"/>
<circle cx="1409.3" cy="407.0" r="4.72"/>
<circle cx="1440.1" cy="353.9" r="4.72"/>
<circle cx="1417.4" cy="221.8" r="4.72"/>
<circle cx="1402.0" cy="403.1" r="4.72"/>
<circle cx="1473.1" cy="354.7" r="4.72"/>
<circle cx="1387.0" cy="174.7" r="4.72"/>
<circle cx="1387.0" cy="226.5" r="4.72"/>
<circle cx="1423.0" cy="429.9" r="4.72"/>
<circle cx="1469.5" cy="347.7" r="4.72"/>
<circle cx="1527.8" cy="301.1" r="4.72"/>
<circle cx="1436.5" cy="46.8" r="4.72"/>
<circle cx="1405.2" cy="125.8" r="4.72"/>
<circle cx="1420.7" cy="268.2" r="4.72"/>
<circle cx="1407.0" cy="204.5" r="4.72"/>
<circle cx="1387.0" cy="316.4" r="4.72"/>
<circle cx="1484.7" cy="330.5" r="4.72"/>
<circle cx="1397.4" cy="307.3" r="4.72"/>
<circle cx="1397.3" cy="111.8" r="4.72"/>
<circle cx="1449.7" cy="418.4" r="4.72"/>
<circle cx="1387.0" cy="46.5" r="4.72"/>
<circle cx="1494.2" cy="375.1" r="4.72"/>
<circle cx="1502.5" cy="430.5" r="4.72"/>
<circle cx="1424.8" cy="312.1" r="4.72"/>
<circle cx="1470.6" cy="322.6" r="4.72"/>
<circle cx="1455.0" cy="144.7" r="4.72"/>
<circle cx="1395.3" cy="34.0" r="4.72"/>
<circle cx="1564.2" cy="374.1" r="4.72"/>
<circle cx="1491.0" cy="111.8" r="4.72"/>
<circle cx="1591.2" cy="174.2" r="4.72"/>
<circle cx="1592.7" cy="138.7" r="4.72"/>
<circle cx="1457.5" cy="79.1" r="4.72"/>
<circle cx="1583.4" cy="259.1" r="4.72"/>
<circle cx="1447.8" cy="263.4" r="4.72"/>
<circle cx="1440.7" cy="117.9" r="4.72"/>
<circle cx="1387.0" cy="397.2" r="4.72"/>
<circle cx="1478.5" cy="142.6" r="4.72"/>
<circle cx="1389.3" cy="104.8" r="4.72"/>
<circle cx="1430.5" cy="166.8" r="4.72"/>
<circle cx="1417.9" cy="256.2" r="4.72"/>
<circle cx="1505.3" cy="205.2" r="4.72"/>
<circle cx="1438.6" cy="173.9" r="4.72"/>
<circle cx="1478.9" cy="199.7" r="4.72"/>
<circle cx="1412.6" cy="294.2" r="4.72"/>
<circle cx="1530.9" cy="214.4" r="4.72"/>
<circle cx="1431.0" cy="391.0" r="4.72"/>
<circle cx="1455.2" cy="128.6" r="4.72"/>
<circle cx="1402.0" cy="419.1" r="4.72"/>
<circle cx="1390.5" cy="97.2" r="4.72"/>
<circle cx="1387.0" cy="226.0" r="4.72"/>
<circle cx="1462.8" cy="360.3" r="4.72"/>
<circle cx="1391.8" cy="111.2" r="4.72"/>
<circle cx="1440.9" cy="173.0" r="4.72"/>
<circle cx="1445.7" cy="252.8" r="4.72"/>
<circle cx="1529.8" cy="99.1" r="4.72"/>
<circle cx="1438.3" cy="281.8" r="4.72"/>
<circle cx="1441.9" cy="146.2" r="4.72"/>
<circle cx="1394.2" cy="430.5" r="4.72"/>
<circle cx="1447.2" cy="67.1" r="4.72"/>
<circle cx="1486.9" cy="168.1" r="4.72"/>
<circle cx="1396.6" cy="355.5" r="4.72"/>
<circle cx="1451.3" cy="392.8" r="4.72"/>
<circle cx="1436.4" cy="55.3" r="4.72"/>
<circle cx="1389.5" cy="419.4" r="4.72"/>
<circle cx="1585.0" cy="303.4" r="4.72"/>
<circle cx="1387.0" cy="179.3" r="4.72"/>
<circle cx="1481.8" cy="162.1" r="4.72"/>
<circle cx="1493.1" cy="336.2" r="4.72"/>
<circle cx="1397.2" cy="193.5" r="4.72"/>
<circle cx="1447.5" cy="313.4" r="4.72"/>
<circle cx="1436.9" cy="118.1" r="4.72"/>
<circle cx="1615.7" cy="285.6" r="4.72"/>
<circle cx="1493.3" cy="300.2" r="4.72"/>
<circle cx="1413.1" cy="170.8" r="4.72"/>
<circle cx="1412.7" cy="106.0" r="4.72"/>
<circle cx="1488.5" cy="309.9" r="4.72"/>
<circle cx="1435.9" cy="430.2" r="4.72"/>
<circle cx="1488.2" cy="273.7" r="4.72"/>
<circle cx="1458.3" cy="224.3" r="4.72"/>
<circle cx="1445.0" cy="343.9" r="4.72"/>
<circle cx="1478.3" cy="132.6" r="4.72"/>
<circle cx="1409.6" cy="231.2" r="4.72"/>
<circle cx="1387.0" cy="408.9" r="4.72"/>
<circle cx="1490.2" cy="269.4" r="4.72"/>
<circle cx="1442.2" cy="138.7" r="4.72"/>
<circle cx="1423.9" cy="283.0" r="4.72"/>
<circle cx="1438.0" cy="91.6" r="4.72"/>
<circle cx="1405.8" cy="331.5" r="4.72"/>
<circle cx="1420.1" cy="373.4" r="4.72"/>
<circle cx="1454.9" cy="407.6" r="4.72"/>
<circle cx="1421.9" cy="183.8" r="4.72"/>
<circle cx="1449.5" cy="312.5" r="4.72"/>
<circle cx="1478.4" cy="296.6" r="4.72"/>
<circle cx="1578.7" cy="203.5" r="4.72"/>
<circle cx="1414.1" cy="372.9" r="4.72"/>
<circle cx="1394.4" cy="129.3" r="4.72"/>
<circle cx="1472.9" cy="430.5" r="4.72"/>
<circle cx="1417.4" cy="416.1" r="4.72"/>
<circle cx="1503.3" cy="291.9" r="4.72"/>
<circle cx="1473.1" cy="398.8" r="4.72"/>
<circle cx="1474.9" cy="423.3" r="4.72"/>
<circle cx="1392.0" cy="402.1" r="4.72"/>
<circle cx="1441.0" cy="377.0" r="4.72"/>
<circle cx="1409.7" cy="58.5" r="4.72"/>
<circle cx="1444.9" cy="430.5" r="4.72"/>
<circle cx="1446.9" cy="108.9" r="4.72"/>
<circle cx="1473.3" cy="317.5" r="4.72"/>
<circle cx="1423.4" cy="210.2" r="4.72"/>
<circle cx="1415.7" cy="152.7" r="4.72"/>
<circle cx="1428.1" cy="273.6" r="4.72"/>
<circle cx="1524.0" cy="235.8" r="4.72"/>
<circle cx="1545.0" cy="292.9" r="4.72"/>
<circle cx="1476.1" cy="273.3" r="4.72"/>
<circle cx="1399.1" cy="164.1" r="4.72"/>
<circle cx="1499.5" cy="345.5" r="4.72"/>
<circle cx="1444.2" cy="430.1" r="4.72"/>
<circle cx="1462.4" cy="299.8" r="4.72"/>
<circle cx="1489.5" cy="169.7" r="4.72"/>
<circle cx="1417.7" cy="392.8" r="4.72"/>
<circle cx="1451.3" cy="168.2" r="4.72"/>
<circle cx="1521.3" cy="301.5" r="4.72"/>
<circle cx="1387.0" cy="148.8" r="4.72"/>
<circle cx="1478.1" cy="194.1" r="4.72"/>
<circle cx="1411.2" cy="63.2" r="4.72"/>
<circle cx="1389.5" cy="297.7" r="4.72"/>
<circle cx="1469.6" cy="114.3" r="4.72"/>
<circle cx="1405.2" cy="246.1" r="4.72"/>
<circle cx="1421.6" cy="238.2" r="4.72"/>
<circle cx="1451.5" cy="357.3" r="4.72"/>
<circle cx="1497.6" cy="355.5" r="4.72"/>
<circle cx="1396.0" cy="60.7" r="4.72"/>
<circle cx="1501.5" cy="358.8" r="4.72"/>
<circle cx="1464.7" cy="285.2" r="4.72"/>
<circle cx="1462.8" cy="256.9" r="4.72"/>
<circle cx="1387.0" cy="338.9" r="4.72"/>
<circle cx="1413.8" cy="375.5" r="4.72"/>
<circle cx="1399.9" cy="70.9" r="4.72"/>
<circle cx="1461.2" cy="255.0" r="4.72"/>
<circle cx="1452.9" cy="430.5" r="4.72"/>
<circle cx="1450.5" cy="234.5" r="4.72"/>
<circle cx="1468.1" cy="142.9" r="4.72"/>
<circle cx="1540.5" cy="247.0" r="4.72"/>
<circle cx="1617.2" cy="179.3" r="4.72"/>
<circle cx="1650.4" cy="193.0" r="4.72"/>
<circle cx="1403.1" cy="148.8" r="4.72"/>
<circle cx="1414.1" cy="170.7" r="4.72"/>
<circle cx="1497.0" cy="268.1" r="4.72"/>
<circle cx="1392.0" cy="269.3" r="4.72"/>
<circle cx="1499.9" cy="152.8" r="4.72"/>
<circle cx="1454.6" cy="387.3" r="4.72"/>
<circle cx="1400.2" cy="123.3" r="4.72"/>
<circle cx="1431.0" cy="357.9" r="4.72"/>
<circle cx="1476.3" cy="215.7" r="4.72"/>
<circle cx="1493.7" cy="113.1" r="4.72"/>
<circle cx="1510.7" cy="346.0" r="4.72"/>
<circle cx="1460.7" cy="183.9" r="4.72"/>
<circle cx="1470.9" cy="108.3" r="4.72"/>
<circle cx="1459.7" cy="342.8" r="4.72"/>
<circle cx="1515.9" cy="364.7" r="4.72"/>
<circle cx="1387.0" cy="307.9" r="4.72"/>
<circle cx="1392.7" cy="274.2" r="4.72"/>
<circle cx="1459.6" cy="144.8" r="4.72"/>
<circle cx="1439.1" cy="318.5" r="4.72"/>
<circle cx="1432.3" cy="74.0" r="4.72"/>
<circle cx="1449.5" cy="335.9" r="4.72"/>
<circle cx="1450.2" cy="321.5" r="4.72"/>
<circle cx="1483.7" cy="411.7" r="4.72"/>
<circle cx="1395.7" cy="430.5" r="4.72"/>
<circle cx="1404.0" cy="190.7" r="4.72"/>
<circle cx="1499.7" cy="301.5" r="4.72"/>
<circle cx="1519.4" cy="212.0" r="4.72"/>
<circle cx="1513.1" cy="310.9" r="4.72"/>
<circle cx="1394.2" cy="150.6" r="4.72"/>
<circle cx="1477.0" cy="354.0" r="4.72"/>
<circle cx="1499.5" cy="283.3" r="4.72"/>
<circle cx="1440.0" cy="295.5" r="4.72"/>
<circle cx="1387.0" cy="136.5" r="4.72"/>
<circle cx="1489.2" cy="231.8" r="4.72"/>
<circle cx="1504.9" cy="403.2" r="4.72"/>
<circle cx="1459.5" cy="252.2" r="4.72"/>
<circle cx="1510.5" cy="430.5" r="4.72"/>
<circle cx="1457.2" cy="429.8" r="4.72"/>
<circle cx="1466.9" cy="223.9" r="4.72"/>
<circle cx="1438.1" cy="381.0" r="4.72"/>
<circle cx="1407.7" cy="159.9" r="4.72"/>
<circle cx="1439.3" cy="34.4" r="4.72"/>
<circle cx="1435.8" cy="311.5" r="4.72"/>
<circle cx="1483.9" cy="376.0" r="4.72"/>
<circle cx="1426.9" cy="170.9" r="4.72"/>
<circle cx="1410.2" cy="62.9" r="4.72"/>
<circle cx="1398.6" cy="170.6" r="4.72"/>
<circle cx="1440.9" cy="156.3" r="4.72"/>
<circle cx="1392.0" cy="221.0" r="4.72"/>
<circle cx="1480.6" cy="229.3" r="4.72"/>
<circle cx="1519.0" cy="270.3" r="4.72"/>
<circle cx="1387.0" cy="231.2" r="4.72"/>
<circle cx="1655.5" cy="250.2" r="4.72"/>
<circle cx="1430.4" cy="113.0" r="4.72"/>
<circle cx="1478.5" cy="410.3" r="4.72"/>
<circle cx="1440.8" cy="60.4" r="4.72"/>
<circle cx="1464.2" cy="234.6" r="4.72"/>
<circle cx="1498.6" cy="243.4" r="4.72"/>
<circle cx="1413.3" cy="369.6" r="4.72"/>
<circle cx="1455.1" cy="415.2" r="4.72"/>
<circle cx="1387.0" cy="296.3" r="4.72"/>
<circle cx="1500.9" cy="193.4" r="4.72"/>
<circle cx="1514.2" cy="58.6" r="4.72"/>
<circle cx="1498.6" cy="400.6" r="4.72"/>
<circle cx="1439.8" cy="385.0" r="4.72"/>
<circle cx="1387.0" cy="375.9" r="4.72"/>
<circle cx="1387.0" cy="268.0" r="4.72"/>
<circle cx="1508.2" cy="217.8" r="4.72"/>
<circle cx="1432.4" cy="345.1" r="4.72"/>
<circle cx="1437.2" cy="313.7" r="4.72"/>
<circle cx="1443.1" cy="173.4" r="4.72"/>
<circle cx="1387.0" cy="239.4" r="4.72"/>
<circle cx="1469.1" cy="126.4" r="4.72"/>
<circle cx="1451.2" cy="425.5" r="4.72"/>
<circle cx="1500.7" cy="351.8" r="4.72"/>
<circle cx="1387.0" cy="361.0" r="4.72"/>
<circle cx="1463.5" cy="159.2" r="4.72"/>
<circle cx="1404.4" cy="105.6" r="4.72"/>
<circle cx="1480.2" cy="161.1" r="4.72"/>
<circle cx="1483.1" cy="192.6" r="4.72"/>
<circle cx="1422.6" cy="192.8" r="4.72"/>
<circle cx="1408.3" cy="295.0" r="4.72"/>
<circle cx="1406.5" cy="290.4" r="4.72"/>
<circle cx="1391.7" cy="160.6" r="4.72"/>
<circle cx="1468.4" cy="350.1" r="4.72"/>
<circle cx="1443.4" cy="45.8" r="4.72"/>
<circle cx="1411.8" cy="120.5" r="4.72"/>
<circle cx="1461.4" cy="164.3" r="4.72"/>
<circle cx="1513.9" cy="412.9" r="4.72"/>
<circle cx="1434.6" cy="171.6" r="4.72"/>
<circle cx="1488.7" cy="236.2" r="4.72"/>
<circle cx="1415.0" cy="326.7" r="4.72"/>
<circle cx="1429.6" cy="65.8" r="4.72"/>
<circle cx="1463.4" cy="212.7" r="4.72"/>
<circle cx="1418.6" cy="124.3" r="4.72"/>
<circle cx="1391.4" cy="55.5" r="4.72"/>
<circle cx="1495.1" cy="281.8" r="4.72"/>
<circle cx="1515.2" cy="379.4" r="4.72"/>
<circle cx="1475.2" cy="372.5" r="4.72"/>
<circle cx="1407.7" cy="369.2" r="4.72"/>
<circle cx="1475.7" cy="195.9" r="4.72"/>
<circle cx="1400.5" cy="43.4" r="4.72"/>
<circle cx="1455.1" cy="270.5" r="4.72"/>
<circle cx="1414.7" cy="135.4" r="4.72"/>
<circle cx="1411.0" cy="71.1" r="4.72"/>
<circle cx="1406.1" cy="71.0" r="4.72"/>
<circle cx="1498.2" cy="282.3" r="4.72"/>
<circle cx="1510.2" cy="147.2" r="4.72"/>
<circle cx="1397.6" cy="354.8" r="4.72"/>
<circle cx="1516.1" cy="381.5" r="4.72"/>
<circle cx="1429.4" cy="116.6" r="4.72"/>
<circle cx="1397.8" cy="232.9" r="4.72"/>
<circle cx="1469.6" cy="367.5" r="4.72"/>
<circle cx="1495.0" cy="151.3" r="4.72"/>
<circle cx="1430.9" cy="128.2" r="4.72"/>
<circle cx="1518.5" cy="372.9" r="4.72"/>
<circle cx="1392.1" cy="180.6" r="4.72"/>
<circle cx="1436.8" cy="266.9" r="4.72"/>
<circle cx="1410.2" cy="410.3" r="4.72"/>
<circle cx="1432.2" cy="136.9" r="4.72"/>
<circle cx="1705.8" cy="78.1" r="4.72"/>
<circle cx="1663.5" cy="115.1" r="4.72"/>
<circle cx="1688.6" cy="130.7" r="4.72"/>
<circle cx="1671.2" cy="141.9" r="4.72"/>
<circle cx="1772.2" cy="149.6" r="4.72"/>
<circle cx="1706.4" cy="165.6" r="4.72"/>
<circle cx="1725.0" cy="168.5" r="4.72"/>
<circle cx="1749.2" cy="176.2" r="4.72"/>
<circle cx="1753.9" cy="178.5" r="4.72"/>
<circle cx="1746.2" cy="184.4" r="4.72"/>
<circle cx="1660.0" cy="176.2" r="4.72"/>
<circle cx="1672.7" cy="180.9" r="4.72"/>
<circle cx="1696.0" cy="180.9" r="4.72"/>
<circle cx="1681.3" cy="188.9" r="4.72"/>
<circle cx="1803.2" cy="188.9" r="4.72"/>
<circle cx="1665.3" cy="196.9" r="4.72"/>
<circle cx="1701.3" cy="196.9" r="4.72"/>
<circle cx="1682.1" cy="202.2" r="4.72"/>
<circle cx="1681.3" cy="205.7" r="4.72"/>
<circle cx="1732.3" cy="202.8" r="4.72"/>
<circle cx="1753.3" cy="202.8" r="4.72"/>
<circle cx="1766.3" cy="200.1" r="4.72"/>
<circle cx="1859.3" cy="196.9" r="4.72"/>
<circle cx="1851.3" cy="216.0" r="4.72"/>
<circle cx="1660.0" cy="226.7" r="4.72"/>
<circle cx="1692.5" cy="226.4" r="4.72"/>
<circle cx="1730.3" cy="226.4" r="4.72"/>
<circle cx="1885.0" cy="231.7" r="4.72"/>
<circle cx="1874.4" cy="236.7" r="4.72"/>
<circle cx="1680.7" cy="236.7" r="4.72"/>
<circle cx="1735.9" cy="236.7" r="4.72"/>
<circle cx="1847.5" cy="245.9" r="4.72"/>
<circle cx="1695.4" cy="246.5" r="4.72"/>
<circle cx="1722.0" cy="246.5" r="4.72"/>
<circle cx="1695.4" cy="250.3" r="4.72"/>
<circle cx="1721.1" cy="249.4" r="4.72"/>
<circle cx="1725.6" cy="253.0" r="4.72"/>
<circle cx="1696.9" cy="256.2" r="4.72"/>
<circle cx="1671.2" cy="263.6" r="4.72"/>
<circle cx="1661.5" cy="266.3" r="4.72"/>
<circle cx="1721.1" cy="268.6" r="4.72"/>
<circle cx="1671.2" cy="271.6" r="4.72"/>
<circle cx="1691.9" cy="273.9" r="4.72"/>
<circle cx="1717.6" cy="276.6" r="4.72"/>
<circle cx="1881.5" cy="273.9" r="4.72"/>
<circle cx="1739.1" cy="281.9" r="4.72"/>
<circle cx="1830.7" cy="281.9" r="4.72"/>
<circle cx="1682.1" cy="287.2" r="4.72"/>
<circle cx="1694.8" cy="287.2" r="4.72"/>
<circle cx="1702.2" cy="287.2" r="4.72"/>
<circle cx="1727.9" cy="289.9" r="4.72"/>
<circle cx="1691.6" cy="299.9" r="4.72"/>
<circle cx="1673.3" cy="306.1" r="4.72"/>
<circle cx="1676.2" cy="310.6" r="4.72"/>
<circle cx="1699.9" cy="318.5" r="4.72"/>
<circle cx="1721.1" cy="318.5" r="4.72"/>
<circle cx="1752.4" cy="318.5" r="4.72"/>
<circle cx="1713.7" cy="326.5" r="4.72"/>
<circle cx="1815.6" cy="324.1" r="4.72"/>
<circle cx="1663.0" cy="342.4" r="4.72"/>
<circle cx="1716.1" cy="340.1" r="4.72"/>
<circle cx="1776.0" cy="361.3" r="4.72"/>
<circle cx="1770.1" cy="372.0" r="4.72"/>
<circle cx="1666.5" cy="374.3" r="4.72"/>
<circle cx="1668.9" cy="400.9" r="4.72"/>
<circle cx="1505.5" cy="430.5" r="4.72"/>
<circle cx="1512.9" cy="430.5" r="4.72"/>
<circle cx="1524.0" cy="430.5" r="4.72"/>
<circle cx="1598.5" cy="430.5" r="4.72"/>
<circle cx="1613.2" cy="430.5" r="4.72"/>
<circle cx="1633.0" cy="430.5" r="4.72"/>
<circle cx="1658.5" cy="430.5" r="4.72"/>
<circle cx="1668.9" cy="430.5" r="4.72"/>
<circle cx="1672.4" cy="430.5" r="4.72"/>
<circle cx="1680.5" cy="430.5" r="4.72"/>
<circle cx="1693.0" cy="430.5" r="4.72"/>
<circle cx="1712.6" cy="430.5" r="4.72"/>
<circle cx="1800.2" cy="430.5" r="4.72"/>
<circle cx="1948.8" cy="430.5" r="4.72"/>
<circle cx="1505.5" cy="34.0" r="4.72"/>
<circle cx="1653.7" cy="34.0" r="4.72"/>
</g>
<text x="489" y="103" font-size="42.4" text-anchor="start" fill="#00B0F0" >Tensile signal area</text>
<text x="610" y="415" font-size="42.4" text-anchor="start" fill="#FF0000" >Shear signal area</text>
<text x="1529" y="91" font-size="42.4" text-anchor="start" fill="#00B0F0" >Tensile signal area</text>
<text x="1650" y="403" font-size="42.4" text-anchor="start" fill="#FF0000" >Shear signal area</text>
<line x1="124.5" y1="647.8" x2="984.5" y2="462.3" stroke="#0000FF" stroke-width="2.2" stroke-linecap="round" stroke-dasharray="7.2 8"/>
<line x1="366.2" y1="482.9" x2="921.5" y2="39.4" stroke="#0000FF" stroke-width="2.2" stroke-linecap="round" stroke-dasharray="7.2 8"/>
<line x1="1148.5" y1="638" x2="2008.5" y2="466" stroke="#0000FF" stroke-width="2.2" stroke-linecap="round" stroke-dasharray="7.2 8"/>
<line x1="1389.6" y1="424" x2="1922.3" y2="54" stroke="#0000FF" stroke-width="2.2" stroke-linecap="round" stroke-dasharray="7.2 8"/>
<rect x="125.2" y="577.5" width="146" height="85" fill="none" stroke="#00B0F0" stroke-width="5" stroke-linejoin="round"/>
<rect x="1139.2" y="546.2" width="516.4" height="102.2" fill="none" stroke="#00B0F0" stroke-width="4.6" stroke-linejoin="round"/>
<line x1="272" y1="576" x2="353" y2="496.5" stroke="#00B0F0" stroke-width="2.4"/>
<path d="M365.6,484.1 L334,493.8 L352.8,496.7 L355.6,514.9 Z" fill="#00B0F0"/>
<line x1="1483.2" y1="546" x2="1483.2" y2="460" stroke="#00B0F0" stroke-width="2.4"/>
<path d="M1483.2,442.6 L1468.4,471.9 L1483.2,461 L1498,471.9 Z" fill="#00B0F0"/>
</svg>
</body></html>
